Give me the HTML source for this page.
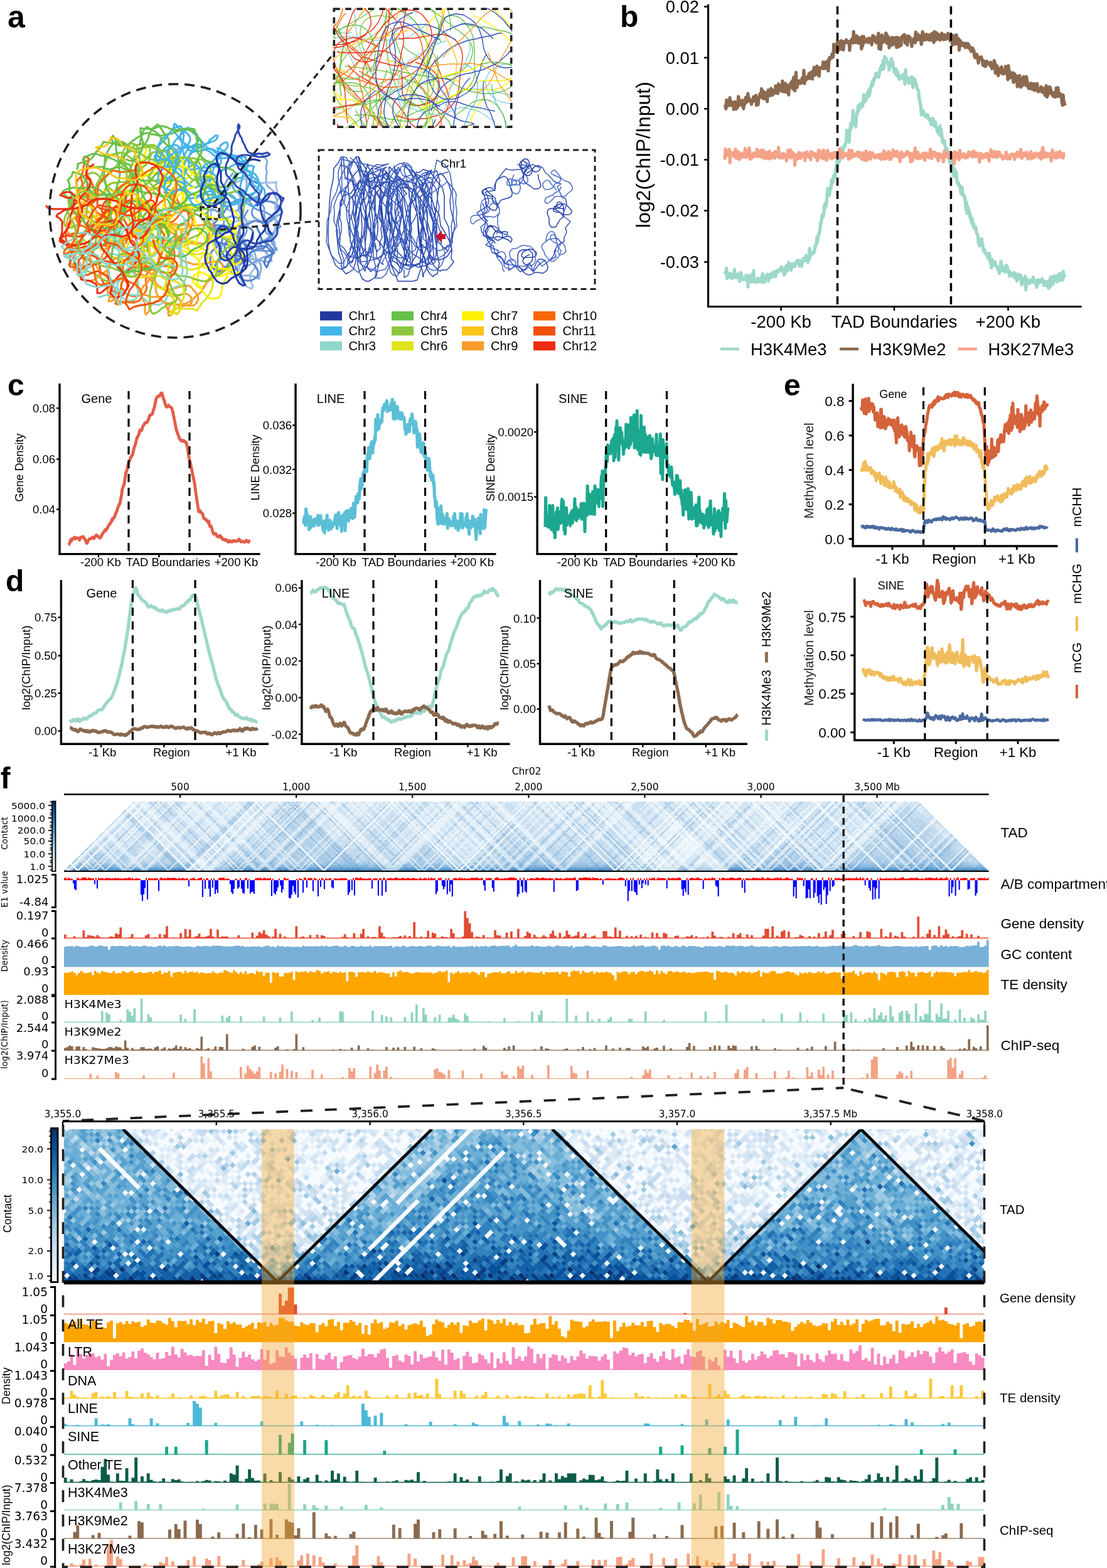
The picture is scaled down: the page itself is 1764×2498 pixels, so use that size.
<!DOCTYPE html>
<html><head><meta charset="utf-8"><title>Figure</title>
<style>html,body{margin:0;padding:0;background:#fff}svg{display:block}</style></head>
<body><svg width="1764" height="2498" viewBox="0 0 1764 2498" font-family="'Liberation Sans', Arial, sans-serif">
<rect width="1764" height="2498" fill="#fff"/>
<g fill="none" stroke-width="3" stroke-linejoin="round" stroke-linecap="round">
<path d="M395 362l0-4-1-4-2-4-2-3-2-3-1-4-2-4-2-3-2-4-1-3-2-4-2-3-2-4-3-3-3-2-4-1-4 1-2 3-1 4 1 4 1 4 1 4 2 3 3 3 4 1 4 0 4 0 4-2 3-2 2-4 1-3 1-4 1-4 1-4 1-4 0-4 1-4 1-4 0-4 0-4-1-4 1-4-1-4 0-4-1-4 0-4 1-3 2-4 2-3 2-4 3-3 3-2 4-1 4-1 4 1 3 3 3 2 2 4 2 3-1 4-1 4 0 4 1 4 0 4-1 4 0 4 0 4 0 3 2 4 3 3 3 2 3 3 2 4 1 4 2 3 1 4 0 4 0 4 0 4-1 4-1 4-1 4 0 4 1 4 1 3 0 4 0 4-2 4-2 4-2 3-3 3-3 2-3 2-4 3-3 2-2 4 0 4 2 3 3 3 3 3 2 3 2 4 2 3 3 3-3 2-4 0-4 0-4-1-4-1-4-1-4-1-4 0-4 0-4 1-4 1-3 1-4 1-4 1-4 1-4 1-3 2-2 4 0 4 2 3 3 3 3 2 4 1 4 0 4 0 4 0 4 0 4-1 4 2 4 1 3 2 4 1 0-4 1-3 1-4 1-4 0-4-1-4-3-4-2-3-2-3-1-4-1-4-2-4-1-3-3-4" stroke="#86aee0"/>
<path d="M395 335l-2 3-2 4-2 3-2 4-1 4-1 4-1 3-2 4 0 4 0 4 1 4 2 3 3 3 2 4 2 3 3 3 3 2 3 3 4 2 4 0 4 0 4 0 4 1 4 0 4 0 4 0 4-1 4-1-1-3-3-3-3-3-1-4-1-4-1-4-1-4-2-3-1-4 0-4 0-4 1-4 2-3 3-3 3-2 4-1 4-2 3-2 3-3-2-3-3-2-3-3-2-3-3-3-4-2-4-1-3-1-4-2-4 0-4 1-3 3-3 3-2 3-3 3-1 4-1 4 1 3 2 4 3 2 4 2 3 2 4 1 4 1 4 0 4-1 3-2 3-3 2-3 2-4 2-3 3-3 2-3-3-3-3-3-3-3-3-1-4-1-4 0-4-1-4-1-4-1-4-1-3-2-4 0-4 1-3 3 1 4 3 3 2 3 3 3 4 2 3 1 4 1 4 1 4 2 3 2 4 2 3 2 3 3 2 3 3 3 2 4 2 3-3 2-3 3-3 3-3 3-1 4-3 3-3 2-4 2-4 1-4 0-3 2-3 2-3 3-3 3-2 3-1 4-1 4-2 4-2 3-3 3-3 2-4 2-3 2-2 3-3 3-4 3-3 1-4-1-4-1-3-3-4-2-2-3-3-3-1-4 0-4 1-4 0-4 1-4 1-3" stroke="#6b96d6"/>
<path d="M403 353l-4-1-4 1-4-1-4 0-4 0-4 0-4 1-4 2-3 2-3 3-2 3-2 3-3 4-3 2-3 2-4 2-3 3-2 3 0 4 0 4 0 4 0 4 1 4 2 3 3 3 4 1 4 0 4 0 4-1 4 0 4 1 3 2 3 3 1 4 0 4 0 4 2 4 2 3 0 4 0 4 0 4 1 4 3 3 3 3 3 2 4 2 3 1 2-4-2-4-1-4-1-4-1-3 1-4 2-4 3-3 2-3 1-4 1-4-2-3-2-4-2-3-1-4-3-3-3-2-4-2-4-1-3-3-2-3-2-4-3-3-3-2-3-2-4-1-4-1-4 1-4 0-4-1-3-2-3-3-2-4-1-4-1-4 0-4-1-3-2-4-2-4 0-4 0-4 2-3 1-4 1-4 2-4 2-3 2-3 3-3 4-1 3-3 3-3 2-3 3-2 2-4 3-3 2-3 4-2 4-1 4-1 3-2 4-1 4 0 4 2 3 1 4 2 4 1 4 0 4 1 4-1 4 0 4 0 4 0 4 0 4-1-1 4 0 4 1 4 1 4 1 4 3 3-2 3-2 4-2 3-1 4-1 4 1 4 1 4 0 4 0 4 0 4-1 4-1 4 0 4 0 4 0 4-1 4-1 4 0 4 1 4 0 4-1 3-1 4-1 4" stroke="#a3c0e6"/>
<path d="M369 376l-3 3-2 3-3 2-2 4-1 4 0 4 2 3 2 4 3 2 3 2 4 2 4 2 3 1 4 1 4-1 3-3 4-2 3-2 3-3 4-2 3-2 4-2 4 0 4 0 3-2 3-3 1-4 1-4 2-3 1-4 0-4-2-4 0-4-3-3-3-3-3-2-3-2-4-1-4-1-4 0-3 2-4 2-4 1-4 1-4 1-2 3-2 4-1 4-1 3 0 4 0 4 2 4 1 4 1 4-2 4-2 3-2 4-1 3-2 4 0 4 0 4 1 4 1 4 2 3 1 4 1 4 2 4 3 2 3 2 4 1 4 0 4 0 4-2 3-2 3-3 1-4 0-4-1-3-3-4-2-3-3-2-3-3-4-2-4-1-4 0-4 1-4 1-3 2-3 2-4 2-3 3-3 2-3 2-4 2-4 1-4 1-4-1-3-3-3-3-2-3-1-4 0-4 0-4 1-4 0-4 2-3 3-3 3-2 3-3 3-3 3-2 1-4 1-4-1-4-2-3-3-2-3-3-3-3-2-4 0-4 3-3 3-3 3-2 3-3 2-3 2-4 2-3 2-3 3-3 3-3 3-3 3-2 4-2 3-1 4 0 4 1 4 1 4 0 4-2 4-1 3-2 4-2 3-3 2-3 1-4 0-4-2-3-3-3-4-2-3-3" stroke="#5a86cf"/>
<path d="M386 349l-1-4-1-3-2-4-2-3 0-4 2-4 3-3 3-2 4-2 4-1 3-2 4-1 4 2 4 2 3 2 3 2 2 4 2 3 0 4 0 4 0 4 1 4 0 4-1 4 0 4 1 4 1 4 1 4 3 2 3 3 3 3 2 4 2 3 1 4 0 4-1 4-1 4-2 4-3 0-4 2-4 1-4 1-3 2-4 2-3 2-4 2-4 1-3 3-3 1-4 0-3-3-2-3-1-4 1-4 1-4 1-4 1-4 2-4 0-4 0-3-3-4-3-2-3-2-4-2-4-2-3-2-3-2-4-2-3-2-4-1-4 0-4-1-4-1-4-2-3-2-3-2-2-4-2-3-2-4-2-3 2-4 3-3 3-2 4 0 4 1 3 2 4 2 2 3 3 4 1 3 1 4-1 4-2 3-4 2-3 1-4 3-2 3-2 3-1 4-1 4 1 4 2 3 3 3 4 1 4 1 4-1 4-1 2-3 3-3 3-2 3-3 4 0 4 1 4 0 4-1 3-3 2-3 2-4 0-4-1-4-2-3-3-3-2-3-4-2-3-3-3-1-4-2-4 1-4 2-4 0-4-1-2-4-1-3-1-4 1-4 1-4 1-4 2-4 1-4 1-3 1-4 0-4-1-4 0-4 1-4 2-3 2-4 3-3 3-3 2-3" stroke="#7aa3dd"/>
<path d="M409 361l1 3 2 4 2 4 1 3 1 4 2 4 3 3 3 2 4 2 3 3 2 3 2 3 2 4-4 2-3 2-4 2-3 2-1 4-1 4 2 4 2 3 2-4 1-4 2-3 2-4 1-4 0-4-1-3-3-3-3-3-3-2-4 0-4 0-4 1-4 0-4 0-4 0-4-1-4-1-3-3-3-3-2-3-2-3-3-3-4-2-3-2-4-2-3-1-4-3-3-1-4 0-4 1-3 2-3 4-1 3 1 4 1 4 2 4 3 3 2 3 1 4 1 4 2 3 2 3 3 3 4 2 3 2 4 1 4 0 4-1 3-2 2-3 0-4-1-4-3-3-2-3-4-2-4-1-3-1-4-1-4-1-4-1-4-1-4-1-4-1-4 0-3-2-3-3 0-4 0-4 2-4 1-3 3-4 3-2 4 0 4 0 4 0 4 0 4 2 3 1 4 0 4 0 4-1 4-1 4 0 4 0 4 2 4 1 3 2 3 3 0 4 0 4 0 4-2 3-3 4-2 3-3 3-3 2-3 3-3 2-4 2-3 3-3 2-3 3-2 3-3 3-2 4-2 3-3 3-3 2-3 2-4 2-4 0-3-2 0-4 1-4 2-3 2-3 3-3 4-2 3-2 4-2 4-1 4 0 4 0 4 1 4 1 3 1 4 2 3 2" stroke="#4f7fcc"/>
<path d="M192 423l0 4 1 4 1 3 1 4 2 4 2 3 2 4 2 3 0 4-1 4-2 4-4 1-4 1-4 1-4 0-3-2-3-3-2-3-4-2-3-2-3-3-2-3-2-4-2-3-1-4 0-4 1-4-1-4-1-4-2-4-1-4-1-3-2-4-3-3-2-3-4-2-4 0-4 0-4 1-4 0-4-1-3-1-4-2-3-2-3-3-2-3-2-4-1-4 0-4 0-4 0-4 1-4 1-3 2-4 2-3 3-3 3-3 3-2 4-1 4 0 3 3 2 3 2 4 2 3 2 4 2 3 1 4 2 4 3 3 3 2 4 0 4-1 3-2 3-3 3-3 2-3 1-4 0-4-3-3-4-1-4 1-3 0-4 2-4 1-3 2-4 2-3 3-2 3-3 3-4 1-4 0-4 0-4 0-4 1-4 1-4 1-3 2-4 1-3 2 2 3 3 3 3 3 4 2 3 1 4 0 4 0 4 1 3 3 3 3 3 2 4 1 4 2 3 2 4 1 4 1 3 2 4 2 4 1 4 0 3-2 2-3 2-4 0-4 1-4 2-3 3-2 3-3 4-2 4 0 4-1 4-1 3-2 3-3 3-3 1-3 0-4-1-4-2-4-2-3-2-4-2-3-1-4-2-3-3-3-4-2-3-2-4-1-4-1-4-1-4 0-4-1-4 0-3-2-2-3-1-4 0-4 3-3 4-1 4 0 4 1 4 1 4 1 3 0 4 1 4 1 4 1 4 0 4-1 4-1 3-2 4-1 4 0 4 1 4 1 3 2 4 3 3 1 3 3 4 2 3 2 3 3 3 3 3 2 4 1 4 1 4 0 4 1 4 0 4-1 3-3 0-4 0-4-1-4 0-4-2-3-3-3-3-3-3-3-3-2-3-3" stroke="#f24f0c"/>
<path d="M278 427l-4-1-4-1-3-1-4 0-4 0-4 1-4 2-4 1-4 1-4-1-4 0-4 0-3 0-4-1-4-2-4 0-4 1-3 2-3 2-3 3-3 3-1 4-2 4-1 3-2 4-1 4 1 4 3 3 1 4 4 2 3 2 4 1 4 1 4 0 4-1 4-1 3-1 3-3 2-4 1-4-1-4 0-4-1-4 1-4 0-4 2-3 2-3 4-2 4-1 4 1 4 1 3 2 4 1 4 1 4 0 4-1 3-3 1-4 0-4 0-4 1-4 1-4 0-4 0-4-1-4 0-4-1-4 1-3 2-4 1-4 0-4-2-3-3-2-4-3-3-2-3-2-4-2-3-2-3-3-4-2-3-2-4-1-3-3-2-3-2-4 1-4 2-3 4-2 3-2 3-3 3-3 3-3 3-2 3-3 3-3 3-2 4-1 4 0 3 2 3 3 1 4 2 3 3 3 2 3 4 3 3 2 2 4 1 3 1 4 0 4-1 4 0 4-1 4-2 4-1 3-2 4-2 3-2 4-2 3-2 3-3 4-3 3-2 2-4 1-4 1-4-2-4-1-3-2-4-3-2-3-1-4 0-4 0-4 0-4 0-4 0-4 2-3 2-3 4-2 4 0 4 0 4 1 4-1 3-3 3-3 2-3 2-3 3-3 3-3 4 1 4 1 3 3 2 3 1 4 1 4 0 4-2 4-1 4-1 3-2 4-1 4-3 3-2 3-4 2-3 3-3 2-3 2-4 2-3 2-3 3-1 3-1 4-2 4-2 3-3 3-2 4-2 3-4 1-4 1-4 1-3 1-4 2-4-1-3-2-2-4-1-4-1-4 1-4-1-4 0-4-1-4 0-4 1-4 1-3 2-4 0-4-1-4-1-4-3-3-4-2" stroke="#f76707"/>
<path d="M250 298l4-1 3-2 4-2 4-1 4-1 3-1 4-1 4-2 4-1 4 0 4 0 4-1 3-2 3-2 4-3 2-3 1-4 0-4-1-4-1-3-2-4-2-3-4-2-4-1-4 0-4 1-3 3-1 3-2 4-3 3-1 4-3 2-3 3-3 3-4 1-4 0-3-1-4 0-4-1-4 0-4 2-4 1-4-1-3-2-4-1-3-2-3-4 1-4 2-3 2-3 3-3 2-4 1-4 0-3 2-4 1-4 2-3 4-2 4 1 3 2 3 4 2 3 2 4 1 3 2 4 2 3 3 3 4 2 2 3 2 4 2 3 3 3 3 2 4 1 4 1 3 2 2 4 2 4 1 3 1 4 0 4 0 4-1 4-1 4-2 4-1 4 1 4 1 3 3 3 4 2 4 0 4 1 4 0 4-1 3-2 3-3 3-3 3-2 4-1 4-1 4 1 4 1 3 1 4 1 4-1 4 0 4 2 3 3 2 3 3 3 2 3 3 3 3 3 2 3 2 3 1 4 0 4-3 3-3 3-3 2-2 3-2 4-1 4-2 4-1 4-1 3 0 4 0 4 1 4 2 4 1 3 1 4 0 4 1 4 1 4 0 4-1 4-4 2-4 1-4-1-4-1-4-1-4 1-3 2-3 2-3 3-2 3-3 3-2 4-2 3-1 4-3 3-4 1-4 1-3-2-3-3-3-3 0-4 0-4 2-4 3-2 4-2 4 0 3 1 4 2 4 2 3 1 4 1 4 0 4-1 4 0 4-1 4-2 3-1 4 0 4 0 4 0 4-1 4-1 4-1" stroke="#fff200"/>
<path d="M292 268l1-4 1-3 2-4 2-4 2-3 3-3 2-3 3-2 4-3 3-2 3-2 4-2 3-2 4-2 4-1 3-2 4-1 4-2 2-3 1-4-4 0-3 3-3 2-3 2-2 4-3 2-3 3-4 1-4 1-4 0-4 1-4 0-4-2-3-2-4-2-3-2-3-2-3-3-2-4-2-3-3-3-2-3-1-4 1-4 1-4 3 2 2 3 3 3 3 2 4 2 3 2 3 2 3 4 1 3 0 4-2 4-2 3-3 3-3 2-4 3-3 2-3 3-1 4-1 4 0 4 1 4 2 3 4 2 3 2 4 2 4 1 4 0 4 0 4-1 3 0 4-1 4-1 4 0 4 0 4-1 4 0 4 0 4-1 3-2 3-3 0-4 0-4-2-4-3-3-3-2-3-2-4-3-3-1-4-2-3-3-2-3-3-3-2-3-3-3-3-3-3-3-3-2-3-3-3-3-2-3-4 2-3 2-3 4-1 3-3 3-3 3-3 3-2 3-2 4-2 3-3 3-3 2-4 2-3 1-4 0-4 1-4 3-2 3-1 4 1 4 2 3 3 3 3 2 4 1 4 1 4 0 4 0 4 0 4-2 3-2 3-2 3-3 3-3 2-3 1-4 2-4 2-3 2-3 4-3 3-2 4-2 3-2 2-3 0-4-1-4-2-4-3-3-2-2-4-2-4 0-4 1-4 2-3 2-1 4-1 4 2 4 2 3 3 3 1 4 3 3 3 3 3 1 4 2 4-1 4 0 4 0 4-2 4-1 4-1 4 0 3 1 4 2 3 3 1 4 1 4-1 4-2 3-2 4-1 3-2 4-1 4-1 4-1 3-1 4-2 4 0 4 1 4 1 4 1 4 1 3 4 3 3 2 4 1 4 1 4-1" stroke="#45b4e8"/>
<path d="M280 291l-1 3 0 4-2 4-1 4-1 3-1 4 0 4 0 4-1 4-2 4 0 4-1 4-2 3-3 3-4 2-3 1-4 2-3 3-1 3-2 4-1 4-2 3-3 3-3 2-4 3-4 0-3 0-4 0-4-1-4-1-4-2-4-1-3-2-4-2-3-1-4-1-4 0-4 0-4 1-4-1-4-1-4-1-4-1-4-1-3-2-3-3-2-3-3-3-2-4-2-3-4-2-3-2-3-2-4-3-3-1-4-1-4 2-2 4 0 4 1 3 3 3 3 2 4 1 4 0 4 0 4-2 4 0 4-1 4-1 4-1 4 0 4 1 3 1 4 2 3 2 4 2 3 2 3 2 2 4 2 3 0 4-2 4-1 4-2 3-2 4-1 4-4 2-3 2-4 1-4 1-4 0-4 0-4-1-4-1-4 0-3-1-4-1-4-2-3-2-3-3-2-3-2-3-3-4-3-2-2-4-2-3-3-3 0-4 1-4 3-3 3-2 3-3 3-2 4-1 4-1 4 0 4 1 3 2 3 3 2 4 2 3 1 4 2 4 1 4 1 3 0 4 0 4 0 4 0 4 0 4 0 4 1 4 2 4 3 2 4 2 3 2 4 2 3 2 3 2 4 1 4 1 3 2 4 2 4 2 3 1 4 1 4-1 4-1 3-3 2-3 2-4 2-3 1-4 1-4 2-3 2-3 4-2 4-1 4-1 4 0 4 0 4 0 4-1 4 1 3 1 4 2 4 1 4 1 4 1 4 0 4 0 4-1 3-2 4-2 4 0 4 0 3 1 4 2 4 2 1 4" stroke="#fdc41a"/>
<path d="M216 438l4-1 4 0 3 1 4 2 3 2 4 2 3 3 2 3 3 3 2 4 0 4 1 4 1 3 2 4 2 3 3 3 3 2 4 2 4 1 4 0 4 0 4 2 4 0 4 0 3-1 4 0 4-2 4-2 3-2 3-3 3-3 3-2 3-3 3-2 2-4 2-3 2-4 2-3 3-3 3-2 4-2 3-3 3-2 3-2 4-2 2-4 1-3 0-4-2-4-3-2-4-2-4 1-4 0-4 1-4 1-4 1-4 1-4 0-4 0-4 0-3 0-4-2-4-1-4-1-4-2-3-2-2-3-1-4 1-4 0-4 0-4-1-4-1-4 1-4 3-3 1-4 0-4 0-3-2-4-3-2-4-1-4-1-4 0-4 1-4 0-4 2-3 1-3 3-2 4-1 4 0 4 0 4 1 4 0 4 1 4 1 3 1 4 0 4-2 4 0 4 1 4 1 4 0 4-2 4-2 3-3 3-3 2-3 3-3 3-2 3-2 3-3 3-3 2-2 4-2 4-1 3 1 4 1 4 2 4 2 3 1 4 0 4 0 4 0 4 1 4 3-2 2-3 2-4 1-4 2-3 3-3 3-2 4-1 4 0 4 2 3 2 2 4 1 4 2 3 3 3 4 1 4 1 4 1 2-3 2-4 1-3 1-4-1-4-1-4-3-3-3-2-3-2-4-2-4 0-4 1-4 1-4 2-4 0-4 0-3 0-4 0-4 0-4-2-4-1-4-2-3-2-3-2-2-4-1-4 0-4-1-4 0-4 1-4-2-3-2-4-2-3-2-3-1-4-1-4-1-4 1-4 2-3 2-3 4-3 3-2 4-2 3-1 3-3 4-1 3-3 4-2 4-1 3 0 4-1 4-2 4-1 4 0 4 0 4 1 4 1" stroke="#f99d2a"/>
<path d="M251 291l-3-2-4-2-3-2-3-3-3-2-4-1-4 1-4 1-4-1-3-2-4-2-3-3-3-2-3-3-2-3-2-4 0-4-1-4 0-4 1-4 3-2 3-3 3-3 3-2 3-3 4-1 4-1 4-1 4 1 4 1 3 3 2 3 0 4 0 4-2 4-3 2-2 4-3 2-4 2-3 3-2 3-1 4 0 4 2 4 2 3 3 3 2 3 2 4 2 3 2 3 3 3 4 1 4 1 4-1 4 0 4-2 3-3 2-3 1-4 3-3 4-2 3-2 3-2 2-4-1-4-1-4-2-3-2-4-3-3-3-2-2-4-2-3-3-2-4-2-4-1-4-1-4 1-2 3-2 4 0 4-2 3-3 4-2 2-4 3-3 2-2 4-2 3-2 4-2 3-2 4-1 3-2 4-1 4-1 3-2 4-2 3-3 3-3 3-3 3-3 3-4 1-3-1-4-3-3-2-3-2-4-1-4 0-4-1-4-1-4 0-4 2-3 3-3 2-2 4-1 3-3 4-2 3-1 4 0 4 0 4-2 4-2 2-3 3-3 3-3 3-3 2-3 2-4 1-4 1-4-1-3-2-2-4 0-4 1-4 1-4 2-3 1-4 2-4 1-4 0-4-1-3 0-4 2-4 4-2 4-1 4 0 4 1 4 0 4 0 4-1 3-2 4-2 2-3 3-3 2-3 3-3 3-3 3-3 3-2 2-3 3-3 2-4 2-3 3-3 3-2 3-2 3-3 2-4 3-3 2-3 2-3 3-3 3-3 3-2 4-2 4 0 4 1 4 1 4 1 3 3 3 2 3 2 4 2 4 1 4 1 4 0 4 1 3 0 3-2 2-4-1-4-2-3-2-3-3-4-3-2-3-2-4-1-4 0-4 1-3 3" stroke="#8cc63e"/>
<path d="M277 430l-1-4-1-4-1-4-1-4 0-4 1-4 0-4-1-4 1-4 1-4 0-4 2-3 3-3 3-2 4-2 4 1 4 1 3 3 3 3 3 2 4 0 4 1 4 0 4 1 4 0 4-1 3-2 1-4 1-4 0-4 2-4 2-3 2-4 0-4-4-2-4 0-3 1-4 1-4 1-4 0-4 1-4-1-4-1-4-1-4 0-3 1-4 1-4 0-4-2-4 0-4 0-4 0-4 1-4 1-4 1-4 1-4 1-4 0-4 1-4 0-3 1-4 1-4 0-4 0-4 1-4 1-4 2-3 2-3 2-4 2-3 3-2 3-1 4 1 4 1 4 2 3 2 4 3 3 2 4 2 3 2 3 3 3 3 3 2 3 3 3 3 2 4 2 3 2 4 2 3 2 4 1 3 3 2 3 1 4 1 4 2 3 3 3 4 2 3 2 3 3 4 2 3 2 4 1 4 1 4 1 4 0 3-1 4-1 4 0 4 2 3 3 1 4 1 4-2 3-4 2-4 1-4 0-4 0-4-1-3-1-4-1-4 1-3 3-2 4 0 4 0 4 1 3 4-1 1-4 2-3 3-3 4-1 3-2 4-1 4-1 4 0 4 0 4 0 4-1 3-3 2-4 1-3-1-4-2-4-2-3-3-3-2-3-3-3-4-1-4 0-4 1-4 1-4 1-4 1-4 1-4 1-4 0-4 0-4-1-3-1-4-2-3-2-3-3-2-3-1-4 0-4 1-4 1-4 3-3 3-2 3-3 2-3 3-3 2-3 2-4 1-4 2-3 3-3 2-4 2-3 2-4 3-2 3-3 1-4 0-4 0-4-1-4-2-3-4-2-3-3-3-1-4-2-4-1-3-2-3-3-3-3-2-3-3-3-3-2-3-3" stroke="#f99d2a"/>
<path d="M215 281l3-3 2-4 1-3 1-4-1-4-2-3-4-3-3-2-3-3-3-2-3-2-4-3-3-1-4-1-4 1-4 1-4 1-4 1-3 3-3 3-1 3-2 4-1 4-1 4-1 3-1 4-1 4-2 4-2 3-2 4-2 3-1 4-1 4 0 4-2 3-3 3-3 3-4 1-4 0-4-1-3-1-3-3-1-4 1-3 1-4 3-3 3-3 2-3 2-4 1-4 2-3 3-3 4-1 4 1 3 1 3 3 3 3 3 3 3 3 2 3 2 3 3 3 3 3 3 2 4 2 3 2 4 1 4-1 4 0 4-2 3-1 4-1 4-1 4-1 4-2 3-2 4-1 4-2 3-2 3-2 4-2 4 0 4-1 4 0 4 0 4 1 4 0 4 0 4-1 4-1 3-2 4-2 3-2 4-2 2-3 3-3 2-3 3-3 3-2 3-3 3-3 3-2 4-2 4 0 3 3 3 3 2 3 2 3 3 3 1 4 0 4-2 4-2 3-3 2-4 1-4 0-4-1-4 1-4-1-4-1-3-3-2-3-3-3-2-3-2-4 0-4 0-4 1-4 3-3 3-2 4 0 4 0 4 1 3 2 2 4 2 3 1 4-1 4-2 4-1 4-1 4 0 4 1 3 2 4 1 4 1 4-2 3-3 3-4 1-4 0-4 2-3 2-3 3-1 4-1 4 1 4 1 3 3 3 4 1 4 0 4 1 4 0 4 2 3 2 3 3 3 2 3 4 1 3 0 4 1 4 1 4 2 3 3 3 4 2 3 2 3 2 3 3 4 2 3 2 4 2 3 2 4 2 3 2 2 4 1 4-1 4-2 3-3 3-2 4-1 3-2 4-2 4-2 3-2 3-3 3-3 3-4 2-3 1-4 2-4 1" stroke="#8cc63e"/>
<path d="M356 240l2 3 3 3 3 2 4 1 4 1 4 0 4 0 4 0 4 0 4 1-1 4-1 4 0 4 1 4 2 3 3 2 4 2 4 2 3 2 2 3 2 4 1 4 2 3 2 4 3 3 2 3 1 4 0 4 1 4-1 4-2 4-3 3-3 1-4 1-4 1-4 1-4-2-3-2-3-2-2-4 0-4 0-4 1-4 2-3 1-4 2-4 1-4 1-3 1-4 2-4 1-4 1-4 0-4 2-3-3-2-4 0-4 0-4-1-3-3-4-2-3-3-3-2-4-1-4 0-4-1-4 0-4 1-4 0-3 0-4-2-4-2-3-2-3-3-3-2-4-2-3-2-3-3-2-3-4-1-4 1-3 2-2 4-2 3-2 3-2 4-1 4 0 4 0 4 0 4-1 4-2 3-2 3-2 4-1 4 0 4 2 3 3 3 3 3 3 2 4 2 4 1 3-2 4-2 3-2 4-2 3-2 4-2 3-1 4 0 4-2 2-4 2-3 3-3 3-3 4-1 3-2 4-1 3-2 4-2 4-2 4-1 3-2 4-1 4-1 4-1 0 4 0 4-1 4-3 3-3 3-3 1-4 2-4 1-3 2-2 4-2 3 0 4 0 4 1 4 2 4 3 3 3 2 3 3 1 3 0 4-3 3-3 2-4 1-4 0-4 0-4-1-4-1-4-2-3-2-3-2-4-2-3-2-4-1-4 0-4-1-4 1-3 1-4 2-3 2-4 0-4 1-4 0-4-2-1-4-1-4-1-4 0-4 0-4 0-4-1-4-1-4-1-3-2-4-2-4-3-2-2-3-3-4-2-2-4-3-4-1-3-1-4-1-4 0-4-2-3-3-2-3-1-4 1-4 2-4 1-4 2-3 1-4 3-3 4-1 4 1" stroke="#45b4e8"/>
<path d="M280 371l-4-1-3-2-3-3-3-3-3-2-3-3-1-4-2-4-1-3-1-4-1-4-1-4-3-3-3-3-3-2-4-1-4 1-4 0-4 0-4 0-4 1-3 2-3 4-1 3-2 4-2 3-4 3-3 1-4 0-4 0-4-1-4-1-3-3-3-2-3-3-2-3-1-4 1-4 1-4 0-4 1-4 2-3 2-3 3-4 2-3 1-4 0-4-4-2-4 0-3 1-4 2-3 3-2 3-1 4 0 4 2 4 3 2 4 2 4 1 4 1 4-1 3-1 4-1 4-1 3-2 3-2 4-3 3-2 3-3 3-2 3-2 3-4 1-3 1-4 1-4 1-4 3-3 3-3 3-2 4 0 4-1 4-2 3-2 4-2 2-3 4-2 3-3 3-3 3-1 4-2 3-2 4 1 4 2 3 3 2 3 0 4 1 4 0 4 0 4 0 4 0 4-1 4-1 3-2 4 0 4 0 4 1 4 1 4 2 4 1 3 1 4 2 3 2 4 2 4 2 3 2 4 1 3 2 4 2 4 1 3 1 4 1 4 2 4 1 3 3 3 3 3 3 3 2 3 1 4 0 4-1 4-2 3-2 3-4 2-4 2-4 0-4 0-3-1-4-2-3-2-4-2-3-2-4-1-4-1-4 1-4 1-4 1-4 0-4 0-3-2-3-2-1-4 2-4 3-3 3-2 2-4 0-4 0-4 2-3 1-4 2-4 2-3 3-3 2-3 1-4 1-4 0-4 1-4 0-4 1-4 1-4 2-3 3-3 4-1 4-1 3-2 3-2 3-3 4-1 4-2" stroke="#fff200"/>
<path d="M253 381l-3-2-4-2-2-4-2-3-2-4-2-3-4-2-3-2-3-3-3-3-3-2-3-3-3-2-3-2-3-3-1-4 0-4-1-4 1-4 1-4-1-4-1-4-2-3-2-4-2-3-1-4 0-4 1-4 3-3 2-3 3-2 4-2 4 0 4 0 4 1 4-1 4-2 3-2 4-1 4 0 4 0 3 2 3 3 2 3 1 4 1 4 1 4 2 3 1 4 1 4 1 4 0 4-2 4-1 3-1 4-1 4 0 4-1 4-2 4-3 2-3 2-4 2-3 3-3 3-2 3-2 4-2 3-3 2-4 1-4 0-4-1-4-1-3-2-3-3-2-3-2-4 0-4 0-4 2-3 1-4-1-4 0-4 0-4 0-4 2-4 4-1 4-1 4 0 4 2 3 2 3 3 2 3 1 4 0 4-1 4-2 3-3 3-4 1-4 1-4-2-3-2-3-3-3-2-3-3-4-1-4-1-4 0-4 1-3 1-4 2-4 1-3 2-4 2-3 2-2 4-1 4 1 3 0 4 0 4-1 4 0 4 1 4 3 3 3 3 3 1 4 1 4 0 4 1 4 0 4 1 4-2 3-2 4-2 4-1 3-1 4 0 4 0 4 2 3 2 3 3 3 3 3 3 3 2 4 1 4 0 4 0 4-1 4-1 4 1 4 0 4-1 4 1 3 2 3 2 4 2 3 2 4 1 4 1 3 2 4 2 3 2 4 2 3 3 2 3 2 3 2 4 3 3 4 1 4 1 4-1 4-1 4 1 3 1 4 1 4 0 4 0 4 1 4 1 4 1 4 0" stroke="#fff200"/>
<path d="M123 269l1-4 0-4 4-1 4-2 3 0 4-2 4-1 3-3 3-3 2-3 2-4 3-2 2-3 3-4 2-3 2-4 4 1 4 0 4 1 4 0 4 1 4 0 4 0 4 1 3 1 4 1 4 2 3 2 4 1 4 0 4-1 4-2 3-3 2-3 2-3 2-4 1-4 1-4 2-3 2-4 3-3 3-2 3-3 3 3 2 3 3 4 1 3 3 3 3 3 2 3 1 4 0 4 1 4 0 4-1 4 1 4 0 4 0 4 0 4-1 4-2 3-3 3-4 2-3 2-3 3-3 2-3 3-3 3-2 3-3 3-4 1-4 0-4 0-4-1-3-2-3-2-3-3-3-3-3-3-3-3-3-2-3-3-3-2-3-3-3-3-2-3-1-4-1-4-1-4-1-4 0-4-1-4 1-4-1-4-2-3-2-4-3 4 1 3 3 4 3 2 4 2 3 1 4 0 4 1 4-2 3-2 3-3 3-2 4-3 3-2 4-2 3-2 3-2 4-1 4 0 4 2 4 0 4 1 4 1 4 0 4 0 4-1 3-2 4 0 4-1 3-2 4-1 4-1 4-2 4-1 4 1 3 2 4 1 4 2 2 3 2 3 3 3 2 4 2 3 0 4 0 4 0 4 0 4-2 4-2 3-2 4-1 4-1 3-2 4-1 4 0 4 0 4 1 4 1 4 1 3 2 4 2 3 3 4 3 2 3 3 3 3 2 3 1 4 2 3 0 4 0 4-1 4-3 3-4 1-4-1-4 0-4-1-4-2-3-2-4-1-4 1-4 1-3 1-4 1-4 1-4 1-4 0-4 1-4 0-4 1-4 1-3 3-1 3 1 4 2 4 2 3 1 4 1 4 1 4 2 4 1 3 1 4 0 4 1 4 2 4" stroke="#66c04a"/>
<path d="M342 243l4-1 4 0 4 0 3-1 3-3 2-3 1-4-1-4-4 0-3 2-3 2-2 4-2 3-2 4 0 4-1 4-3 3-2 3-3 3-2 3-2 4-2 3-1 4-1 4-1 4-3 2-3 4-1 3 0 4 0 4 0 4-1 4-1 4 1 4 2 3 3 3 4 2 4 1 4 1 4 0 3-1 3-3 2-4 1-4 0-4 0-4-1-4-1-3 0-4-1-4-1-4-2-4-3-3-3-2-3-2-4 0-4-1-4-1-3-3-3-2-3-3-3-2-4-1-4-2-3-2-3-3-2-3-2-4-1-4-1-4-1-4 0-4 0-4 2-3 0-4 1-4-1-4 0-4-2-4-2-3-4 1-4 1-3 2-3 3-3 3-2 3-3 3-2 3-2 4-3 2-3 3-3 3-1 3-2 4 0 4-1 4 0 4 1 4 2 3 2 4 3 2 4 2 4 0 3-1 4-2 3-2 3-3 2-4 1-4 0-4 0-3-1-4-3-3-3-3-4 0-4 1-3 2-3 3-2 4-1 4-1 3-2 4-2 3-1 4 0 4 1 4 2 4 2 3 3 3 3 2 4 2 3 1 4 2 4 1 4 1 4 1 4 1 3 2 2 3 2 4 1 4 3 2 3 3 4 2 4 1 4 1 3-1 4-2 3-2 4-1 4-1 4-1 4-1 4-1 4 0 3 2 4 0 4 2 3 3 3 2 3 3 4 2 3 2 3 2 4 0 4-2 4-1 4-1 4 0 4 1 4-1 3-1 3-3 1-4 0-4-2-3-3-3-4-2-2-3-1-4-1-4-1-4-1-4-2-3-3-2-4-3-3-2-3-2-4-2-3-3-3-3-2-3-2-3-4-2-3-3-3-3-3-2-3-2-4-2-4-1" stroke="#45b4e8"/>
<path d="M313 391l-1-4 1-4 2-4 1-3 1-4 2-4 2-3 4-2 3 1 4 2 2 3 2 4 1 4 0 4 2 3 1 4 1 4 1 4 3 3 2 3 2 4 3 3 3 2 3 2 4 2 3 2 4 2 3 2 4 0 4-2 3-2 2-3 1-4 1-4-2-4-2-3-2-3-2-4-3-3-2-3-2-4-3-3-4-1-4-1-4 0-4 0-3-1-4-1-4 0-4 2-2 3-2 4-1 3-1 4 0 4-1 4-2 4-4 2-2 3-3 3-2 3-1 4-1 4 1 4 0 4-1 4 0 4-1 4-1 4 0 4 2 3 2 4 2 3 2 3 3 4 2 2 3 3 3 3 4 1 4 0 4-1 4-1 2-4 2-3 0-4 1-4 0-4 2-4 2-3 2-4 2-3 0-4 1-4 1-4 3-3 2-3 1-4 1-4 1-4 1-4 1-4 1-3 2-4 0-4 0-4 0-4-2-4 0-4 1-4 0-4-1-4-2-3-2-4-2-3-3-3-4-2-4 0-4 1-4 0-4-1-3-1-4-1-4-1-4-2-4-1-3-2-2-3-2-4-1-4-1-4-2-3-3-3-2-4 0-4 2-3 2-3 4-2 3-3 3-2 4-2 3-2 3-2 4-2 1-4 0-4-3-3-4 0-4 0-4 0-4 0-4 0-3-1-4-1-4-3-3-2-3-3-2-3-4-1-4-1-4 1-4 0-4 1-3 2-4 1-4 0-4-2-3-2-4-2-3-2-4-2-4-1-4 0-4 0-4 0-4 1-3 1-4 0-4 1-4 0-4 0" stroke="#fff200"/>
<path d="M216 330l2-4 2-4 2-3 3-3 2-3 3-3 3-2 4-2 3-3 2-3 2-3 4-3 3-2 4-1 3-2 3-3 2-3 2-4 2-3 2-4 2-3 1-4 2-3 2-4 0-4-1-4-2-3-3-2-4-2-4-2-4-1-3 0-4-1-4-2-3-2-4-1-4 0-4 0-4 1-4 1-4 1-3 3-2 3 0 4-1 4-1 4-2 4-1 4-1 3-1 4 0 4-1 4-2 4-1 3-3 3-2 4-2 3-3 3-2 3-4 2-3 3-3 2-4 2-4 0-4 0-4-1-4 1-3 1-4 1-4 1-3 3-1 4-1 4-1 4 1 4 1 4 0 4 0 4-1 4 0 4-1 3-3 4-3 2-2 4-1 3-2 4-1 4-1 4-1 3-2 4-3 3-3 2-3 3-2 4-3 3-2 3-1 4-1 4 0 4 1 4 4 0 4 0 4 0 3 2 4 2 3 3 3 2 3 2 4 2 4 1 4 1 3 3 3 2 3 2 4 3 3 1 4 1 4 0 4-1 4-1 4-1 3-1 4-2 4-1 3-2 3-3 3-3 1-4 1-3 1-4 0-4-2-4-3-2-4-3-3-2-2-3-2-4 0-4 1-4-1-4-1-4-2-3-2-3-2-4-2-3-3-4-1-3-2-4-1-4-1-4 0-3-2-4-2-4-1-3-2-4-2-4 0-4 0-4 0-4 0-4-1-4-1-3 0-4 2-4 2-3 4-2 3-2 4-1 4 0 4-1 4 0 4 0 4 1 4 2 3 0 4 1 3 3 1 4 1 4 1 4 0 4 1 4 2 3 1 4 1 4-1 4 1 4 0 4 1 4 3 3 3 2 4 2 4 1 3 1 4 2 3 2 2 4 1 4 0 4 1 4" stroke="#8cc63e"/>
<path d="M201 387l1-4 2-4 3-2 4-1 3-2 4-2 3-3 2-3 2-3 2-4 3-3 4-1 4 1 4 1 3 2 3 2 4 2 3 3 3 2 2 4 2 3-1 4-1 4-1 4 0 4 0 4 0 4-1 4-1 4-1 4-3 3-1 4-2 3-3 3-3 2-4 2-4 0-3-1-3-3-2-4-2-3-1-4-2-4-1-3-2-4-1-4 1-4-1-4-1-4-1-3-1-4-1-4-1-4-1-4-1-4 1-4 1-4 1-4 0-4-1-4 0-4 0-4 1-4 0-4-3-3-3-1-4 0-4 0-4 1-4 2-4 1-4 1-3 2-3 3-3 2-2 4-1 4-2 3-2 3-3 4-2 3-3 3-3 2-3 2-4 2-4 1-4 0-4-2-3-2-4-2-4-1-3-2-2-4-2-3 1-4 1-4 2-4 2-3 2-4 1-3 3-3 3-3 3-3 1-4 1-4 0-4 0-4 0-4-2-3 0-4-1-4 0-4 0-4 1-4-1-4 0-4 0-4 2-4 1-4 0-4-3-2-4 0 0 4 0 4 0 4-1 4 0 4-1 3-1 4-2 4 0 4 2 4 0 4 1 4 1 4 2 3 2 4 1 3 2 4 2 3 4 1 4 0 2-3 1-4-1-4 0-4-2-4-2-4-1-3-2-4-1-4-3-3-3-2-4 0-4 2-3 1-3 3-2 4 0 4 0 4 1 4 1 4 1 3 2 4 2 3 4 2 3 2 4 1 3 3 3 2 3 3 2 4 2 3 2 3 4 2 3 2 4 3 3 2 3 2 3 3 2 3 2 4 2 3 3 3 2 3 2 4 2 3 3 3 4 1 4 0 4 0 4-1 4-2 3-2 2-3 1-4 1-4 1-4 0-4 0-4" stroke="#f76707"/>
<path d="M223 231l0-4 1-4 1-4 1-4 1-4 2-3 2-3 3-3 3 2 4 2 3 2 4 2 3 3 3 2 2 4 2 3 2 4 3 2 3 3 3 2 3 3 3 3 3 3 2 3 3 2 2 4 1 4-1 4-2 3-1 4-2 4-1 3-2 4-2 4-1 3-1 4-1 4-2 4-3 2-2 4-1 4 1 4 3 3 3 3 2 2 4 3 3 2 3 2 4 1 4-2 3-3 3-2 2-4 3-3 3-2 4-1 3-2 4-2 3-2 4-2 3-2 4-1 4 1 4 1 4 1 3 3 2 3 3 3 3 3 1 4 2 3 0 4 0 4-1 4 0 4 0 4 1 4 2 3 3 3 2 4 2 3 0 4-2 4-4 2-4 1-4 0-4 0-3-1-4-1-4-1-3-2-3-3-3-3-1-4-2-3-3-3-3-3-4-2-3-1-4-1-3-2-4-2-4-2-4-1-4 0-4 0-4 0-3 1-4 2-3 2-4 2-3 1-4 2-4 2-3 2-3 3-3 2-4 1-4 2-3 2-3 3-2 3-1 4-1 4 0 4 2 3 3 3 1 4 1 4 0 4 0 4 1 4 1 4 2 3 2 4 3 3 2 3 0 4-2 3-3 3-4 1-4 1-4-2-2-3-2-3-2-4-2-4-1-3-1-4 1-4 2-4 2-3 3-3 3-2 3-2 4-1 4-1 4-1 4-2 3-2 2-4 1-3 1-4-1-4-1-4-2-3-4-3-3-1-3-3-2-4 0-4-2-3-1-4-3-3-2-3-3-3-3-3-3-3-3-2-4 0-4-1-4 1-3 3-3 3-1 4-1 4-1 3-2 4-2 3-3 4-2 2-2 4-2 4 0 4 1 4 1 3 3 3 2 4 2 3 2 3" stroke="#66c04a"/>
<path d="M214 483l-4-1-4-1-4 0-4 1-4 1-4 1-4 0-1-3-2-4-3-3-4-1-3-3-1-3-1-4 1-4 2-4 1-4-1-4-1-3-2-4 0-4 1-4 1-4 0-4 1-4 1-4 1-4-2-3-1-4-1-4-1-4-2-3-1-4 0-4 0-4 2-4 2-3 2-4 1-3 0-4-3-3-4-2-3-2-4 0-4 1-3 2-2 4-1 4-2 3-1 4-1 4-3 3-3 3-3 2-3 2-1 4-1 4 0 4-1 4 0 4 1 4 1 4-2 4-1 4-1 4-1 3-1 4-3 3 4 3 2 3 4 1 3 1 4 1 4-1 4-1 3-3 4-2 2-2 4-2 3-3 3-2 3-3 2-4 2-3 2-4 2-3 3-3 4-1 3-2 4-1 3-4 1-3 0-4 0-4 0-4-3-4-3-2-4 1-4 0-4 1-3 2-3 3-3 3-3 3-2 3-1 4-2 3-1 4-2 4-3 2-3 3-3 2-4 2-3 2-4 1-4 1-3 2-4 2-4 0-4 0-4-1 1-4 0-4 1-4 1-4 0-4 0-3 2-4 0-4 1-4 0-4-2-4-2-3-2-4-2-3-3-3-3-3-2-3-1-4 0-4 0-4 1-4 1-4 1-3 3-3 4-2 4 0 4 0 4 0 3 2 4 1 4 2 3 3 3 2 2 3 3 3 4 2 3 3 0 4-2 3-2 3-3 4-2 3-2 3-1 4 0 4 0 4 1 4-1 4-1 4-1 4 1 4 2 3 3 3 3 3 2 3 2 3 3 3 2 4 3 2 4 2 3 3 2 3 1 4 2 3 1 4-1 4-1 4 0 4 0 4-1 4-1 4 4 0 3-2 4 0 4 1 4 1 4 1 3 2 3 3" stroke="#f99d2a"/>
<path d="M200 307l-3 2-2 4-1 4 1 3 2 4 3 3 2 3 3 3 3 3 3 2 3 2 4-1 4-2 4-1 4-1 4 0 3-2 4-2 3-2 3-3 2-3 1-4-1-4-1-4-2-4-1-3-3-3-4-2-4-1-4-1-4 0-3 3-2 3-1 4-2 4 0 4 0 4 0 4 1 4 1 3 1 4 1 4 0 4-1 4-1 4 0 4-1 4 0 4 2 3 2 4 2 3 3 3 3 3 2 3 2 3 2 4 1 4 0 4 0 4 2 4 0 4-2 3-2 4-2 3-3 2-3 3-4 2-4-1-4-1-3-2-3-3-3-3-2-3-3-3-3-3-2-3-2-4-2-3-1-4 0-4 0-4 3-3 2-3 4-2 4-1 4-1 4-1 4 0 3 2 4 1 4 1 4 1 4 0 4 0 4 2 2 3 3 2 2 4 0 4-1 4-2 3-3 3-2 3-3 3-4 2-3 2-4-1-4-1-4-1-4 0-4 0-4 0-4-2-4-1-3-2-3-3-2-3-2-3-3-4-2-3-3-3-3-1-4-2-4-2-3-2-3-3-3-2-1-4-1-4 0-4-1-4-2-3-1-4-2-4-1-4-1-4-1-3-3-4-3-2-3-2-4-2-3-2-4-1-4-2-3-2-2-4 1-4 1-4 3-3 3-2 4 0 4 2 2 2 3 4 2 3 4 1 4-1 3-2 3-2 3-3 4-2 4-1 4 0 3 0 4 3 2 4 2 3 1 4 0 4 1 4 1 4 1 3 0 4 0 4-2 4-3 3-3 3-2 3-3 2-4 3" stroke="#fdc41a"/>
<path d="M380 349l2-3 3-3 2-4 1-4 0-4 1-3 1-4 0-4 0-4-1-4 0-4-3-3-3-2-4 1-4 1-4 1-4 1-4 1-4 0-4 0-4-1-3-2-4-1-3-3-3-3-3-2-3-2-4-2-3-2-4-2-3-3-3-2-2-4-1-3-2-4 0-4-1-4-1-4-2-3-3-3-3-2-4-1-4 0-4 0-4 0-4 0-4 1-4 1-4 1-3 2-4 1-4 2-4 1-3 2-3 3-2 3-2 4-2 3-2 4-2 3 0 4 1 4 2 3 3 3 3 2 3 3 3 3 3 3 2 3 3 2 4 0 4-1 4 0 4-1 3-2 3-3 3-3 3-3 4-1 4-1 3-2 3-2 3-3 3-3 3-2 4-2 4 0 4-1 4 0 4 0 4 0 4 2 2 3 2 3 1 4 0 4 0 4-2 4-1 4-2 3-2 3-2 4-1 4-2 3-1 4 0 4 0 4 0 4 0 4-1 4-2 4-2 3-1 4-2 4-1 3-3 3-3 3-4 1-4 2-3 1-4 2-3 2-4 2-4 1-3 2-4 1-4 1-4 1-3 3-2 4-1 3 0 4 0 4 0 4 1 4 0 4 2 4 2 3 3 3 2 3 3 4 2 3 3 3 3 3 3 2 1 4 2 4 0 4-2 3-2 4-4 2-3 1-4-1-4-1-4-2-3-3-3-2-2-4 0-4 0-4 0-4 2-4 2-3 4-2 4 0 4 1 3 1 4 1 4 0 4 0 4 1 4 1 4 2 3 1 4 1 4 1 4 1 4 0 4-1 3-3 3-2 4-2 3-3 1-3 1-4 0-4 0-4 0-4 1-4 2-3 2-4 2-3 3-3 2-3 3-3 4-1 4-2 3-2 3-2 3-4" stroke="#8cc63e"/>
<path d="M313 241l-3-3-3-2-4-2-4 0-4-1-4 0-3 2-4 2-2 3-3 3-4 2-3 2-3 3-2 3-3 3-1 4-1 4-2 3-2 4-3 3-2 3-1 4 0 4 0 4 3 3 2 3 3 3 3 3 4 1 4 1 3 1 4 0 4 0 4-2 4-1 3-3 1-3 0-4-1-4-2-4-3-3-3-2-3-3-2-3-2-4 1-4 1-3 2-4 1-4 1-4 3-3 1-4 0-4-2-3-3-3-4-1-4 0-3 3-3 3-2 3-1 4 1 4 1 4 1 3 3 4 2 3 2 4 0 4 0 4-1 3-3 3-3 3-2 3-3 3-1 4-1 4 0 4 2 3 3 3 4 1 4-1 3-2 4-2 3-1 4 1 4 1 3 3 3 3 2 3 1 4 2 4 2 3 3 2 4 1 4-1 4-2 3-2 3-3 4-2 4-1 3 0 4-1 4-2 4-1 4-1 3-3 3-2 2-4 1-4 1-3 2-4 3-3 3-2 4-1 4-1 4-1 4-2 3-1 4-1 4 1 4 2 3 2 3 3 2 3 1 4 0 4-2 3-2 3-3 3-4 2-4 1-4 0-4-1-3-2-2-3-1-4 0-4 1-4 1-4 1-4 1-4 0-4 0-4 0-4 0-4 1-3-1-4-2-4-3-2-3-2-4-1-4-1-4-1-4 0-4 0-4 0-4 2-3 2-4 2-3 3-2 3-4 1-4 1-4 2-2 2-3 4-1 3-1 4-1 4 0 4 1 4 2 4 2 3 4 2 3 2 3 3 3 2 3 3 3 3 1 4 2 3 2 4 1 3 4 3 3 2 4 1 4-1 4-1 4-1 4-1 3-1 4-2 4 0 4-2 3-2 3-3 3-2 3-3 3-3 2-3" stroke="#45b4e8"/>
<path d="M282 291l2 3 3 3 2 3 4 2 3 3 2 3 1 4-2 4-1 3-3 3-3 3-3 2-4 2-4 1-3 1-4 1-4 0-4 1-4 1-4 1-4 1-4-1-4 0-4 1-4 1-3 2-3 3-1 3-2 4 1 4 1 4 2 4 2 3 3 2 3 3 2 3 3 3 3 3 3 1 4 1 4 0 4 0 4-1 3-3 1-3-1-4-2-4-2-3-3-3-4-2-3-2-3-3-3-2-3-2-3-3-2-4-1-4-1-4-1-4-2-3-1-4-3-3-2-3-2-4-2-3 0-4-1-4-1-4-2-4-2-3-3-3-3-2-2-4-2-3-3-3-4-2-3-2-3-2-4-3-4 0-4 1-3 1-4 1-4 1-4-1-4-2-3-1-4 0-4 0-4 0-4 0-4-1-4-2-3-2-2-4-2-3 3-2 2-3 4-1 4-2 4-1 4 0 3 1 4 2 4 0 4 1 4 1 4 2 3 1 4 2 3 2 4 1 4 1 4 1 4 1 4 1 2 3 0 4 1 4 0 4 0 4 1 4 1 4 3 2 3 3 2 4 1 4 0 4 0 4 1 4 0 4 1 4 0 4 0 4 0 4 0 4 0 4-1 4 0 3 1 4 1 4 3 3 2 3 3 3 4 0 4 0 4-1 4 0 4-1 4-1 3-2 3-3 2-3 2-4 1-4 2-3 1-4 2-4 2-3-1-4-1-4-2-4-2-3-4-2-3-2-4-2-3-2-4-1-4-1-4 0-4-1-4 0-4-1-4 0-3-2-4-1-4 1-4 1-3 3-3 2-3 3-2 4-1 4 0 4 0 4 0 4 0 3-1 4-1 4-2 4-2 3-2 3-4 2-4 0-4 0-3-2-3-2-3-3-2-4-3-2" stroke="#66c04a"/>
<path d="M157 473l4 0 4-2 3-1 4 0 4-1 4-1 4-1 4-1 4-1 4-1 3 2 3 2 4 1 4 1 4 0 4 0 4 0 4 2 2 3 3 2 3 3 4 3 3 1 4 1 4 0 4 1 4-2 3-2 3-3 2-3 2-4 3-3 2-3 2-4 2-3 4-2 4-1 4-1 3-2 2-3 2-4 1-4 1-4 1-4 0-4 0-4-1-3 0-4-1-4 0-4-2-4-3-3-3-2-2-4-1-4-2-3-3-3-3-3-3-2-3-2-4-1-4-1-4-2-4 0-4-1-4 1-4 0-4 1-3 1-4 0-4-1-4-1-3-3-3-2-4-3-2-2-4-2-4-1-4-1-4-1-4 1-3 1-4 3-2 3-1 4 0 4-1 4 1 4 1 4 2 3 2 3 2 4 1 4 1 4 1 3 1 4 1 4 0 4-1 4 2 4 0 4-1 4-1 4-2 3-2 3-2 4 0 4-1 4 1 4 2 3 3 3 3 3 3 2 3 3 4 0 4 0 4-1 4-2 1-4 2-3 0-4 0-4 0-4 0-4 0-4-1-4-2-4-2-3-3-3-2-3-3-3-2-4-2-3 0-4 1-4 2-3 3-3 4-2 4 0 4 0 4 0 3 2 3 3 2 4 3 3 2 3 2 3 3 3 4 1 4 0 4-2 4-2 3-2 4-1 4 0 3 1 4 2 4 1 4-1 3-2 2-4 0-4 0-4-1-4-1-3-2-4-3-3-3-2-4-1-4 1-4-1-4 0-4-2-4 0-4-1-3-1-4-2-4-2-3-2-4-1-3-3-3-2-3-3-3-2-4-2-3-2-4-2-4-1-4 0-4 1-3 3-2 4-1 3-3 3-1 4-1 4 1 4 2 3 4 2 4 0" stroke="#8ed6c8"/>
<path d="M138 416l-2-3-4-3-2-3-2-4-2-3-1-4 0-4 0-4 2-4 2-3 2-3 3-3 3-3 3-3 3-2 3-3 2-3 3-3 2-3 2-4 3-3 3-2 2-4 2-3 3-3 3-2 4-1 4 1 4 2 2 3 1 4 0 4-2 3-3 2-4 0-4-2-3-2-3-3-2-3-2-4-1-4 1-4 1-3 2-4 3-3 4-1 3-2 4-2 4-2 3-2 4-1 4-1 3 2 3 3 0 4-1 4-2 3-4 3-3 1-4 1-4 1-4 1-4 2-3 2-3 2-2 3-3 4-2 3-3 3-3 2-4 2-3 3-2 3 0 4 3 3 3 3 4 1 4 2 3 2 4 2 2 3 1 4-2 4-3 2-4 0-4 0-4-1-4-1-4 1-3 2-4 0-4 1-4 1-4 1-4 1-4 2-3 2-3 3-1 4 0 4 1 4-1 3-2 4 2 3 4 0 4 2 4 1 4 0 4-1 3-3 3-2 4-1 4 0 4 0 4 0 4-1 3-2 4-2 4 0 4 1 4 1 4 1 4 0 4-1 4-1 3-2 4-1 4-1 3-2 3-4 2-3 2-3 1-4 0-4 0-4-2-4-3-2-3-3-2-3-2-4-1-4 1-4 1-3 2-4 3-3 4-2 4-1 3-1 4-1 4 1 4-1 4-1 4-2 3-2 2-3 2-4 1-4 0-4 0-4-2-3-2-3-4-1-4 1-3 2-4 2-3 3-2 3-4 1-4 1-4 0-4 1-3 2-4 3-2 3-2 3-3 3-3 3-2 3-3 3-3 3-3 2-4 1-4 1-3 1-4 3-3 1-4 0-4 0-4-1-4 0-4 0-4 2-3 3-3 2-3 2-4 1-4 0-4-1-4 0-4 0" stroke="#f24f0c"/>
<path d="M152 354l-3-1-4-2-3-2-4-2-4-1-3-1-4-2-3-2-4-2-3-3-2-3-1-4-1-4-1-4-1-3-3-3-3-3-3-3-3-2 2-3 4-2 3-1 4-1 4-1 4 0 4 1 4 0 4 0 4-1 4 0 4-1 4 1 4 2 4 1 3 1 4 3 3 2 3 3 2 3 1 4 0 4 1 4 2 3 2 4 1 4-1 4-1 4-2 3-2 3-3 3-3 3-2 3-3 3-2 3-3 3-3 3-2 4-3 2-3 3-2 3-1 4 0 4 3 3 4 1 4 0 4-2 3-2 4-2 3-3 2-3 3-3 2-3 4-2 3-2 4 0 4-2 2-3 1-4 2-4-1-4 0-4 1-4 0-4 1-3 0-4 0-4 0-4-1-4-1-4-3-3-3-3-3-2-3-2-4-2-3-3-2-3-2-4-1-3-1-4 0-4-1-4-2-4 1-4 0-4 0-4 0-4 1-4 0-4 0-4 1-4 2-3 1-4 2-3 2-4 3-3 2-3 4-2 3-2 4 1 4 0 4 2 3 3 1 4 0 4 0 4-2 3-3 3-2 4-3 2-2 4-1 4 0 4 0 4 1 4 0 4-1 4 0 4-1 3-2 4-1 4-1 4-1 4-3 3-4 1-4 0-4 0-4 0-4 1-4 0-4-1-4-1-3-2-2-3-2-4 0-4-2-4-2-3-2-3-3-3-3-3-3-3-3-1-4-1-4-1-1 4-1 3-3 3-3 3 2 4 1 4-1 4 1 4 2 4 1 3 0 4 1 4 1 4 0 4-1 4 1 4 2 4 3 2 3 3 4 2 3 3 2 3 2 3 3 3 3 3 3 2 3 3 2 3 2 4 1 4 1 3 0 4-1 4 0 4-2 4 0 4" stroke="#66c04a"/>
<path d="M247 408l-4-1-4-2-3-2-3-3-3-2-3-3-2-4-2-3 1-4 1-4 1-4 3-3 3-2 3-3 3-3 3-2 3-3 3-3 3-2 4-1 4-1 4 1 3 2 4 2 3 2 4 0 4 1 4 1 4 2 3 2 2 3 3 4 1 3 2 4 1 4 0 4-1 4 1 4 2 3 2 4 3 1 4 1 4 0 4 0 4-2 4 0 4 1 4 1 2 3 2 4 1 4-1 4-1 3-1 4-1 4 0 4 1 4 1 4 1 4 0 4 0 4-1 3-1 4-2 4-2 3-2 4-3 3-2 3-3 2-3 4-1 3-3 3-2 4-4-2-4-1-4 0-4 0-4 0-4 0-4-1-4 0-4 0-3 3-3 3 1 4 3-2 2-4 1-4 0-4 0-4 0-4-2-3-3-3-3-2-4-2-2-3-2-3 0-4 0-4 1-4 1-4 1-4 0-4 1-4 1-4 0-4 1-4 1-4 0-4 0-4-1-4-2-3-2-3-3-3-3-2-4-3-3-1-4-2-4-1-3-2-4-1-4-2-4 0-4 1-3 2-2 3-3 3-2 3-3 3-2 4-1 4 2 3 3 2 4 1 4-1 3-3 2-3 1-4-1-4 0-4 0-4 1-4 2-3 2-4 3-2 3-3 2-3 3-4 2-3 3-3" stroke="#dfe31c"/>
<path d="M238 412l4 1 3 3 3 3 1 3 0 4 0 4-1 4-1 4-1 4-1 4 1 4 1 4 3 3 3 1 4 2 4-1 4 0 4 2 2 3 2 4 2 3 1 4 1 4 0 4 0 4 0 4 0 4 1 4 4 2 2-3 2-3 1-4 1-4 1-4 1-4 2-3 1-4 0-4 0-4 0-4-3-3-2-3-3-3-4-2-3-1-4-1-4-2-4-1-4 0-3-2-4-2-4 0-4 0-4-1-4 1-4 0-4 1-4 1-4 0-4-1-3-1-4 0-4 0-4-1-4-2-3-3-2-3-1-4 0-4 0-4 1-4 0-4 0-4 2-3 2-4 2-4 2-3 1-4 2-3 2-4 1-4 1-3 2-4 3-3 4 0 4 0 3 2 3 3 2 4 3 2 2 4 3 3 2 3 2 4 3 3 3 2 3 3 2 3 2 4 3 2 3 3 4 1 4 0 4 0 3 2 3 3 3 2 3 3 3 2 4 0 4 1 4 2 4 1 4-1 4-1 3-1 4-2 3-2 4-2 2-4 1-4 1-3 0-4-2-4-2-3-4-3-3-2-3-2-3-3-3-2-3-3-4 0-4 1-4 2-4 0-4 0-4 0-4 1-4 0-4 1-3 1-4 2-2 3-3 3-3 2-4 2-4 1-4 2-4 0-4-1" stroke="#dfe31c"/>
<path d="M124 363l2-3 1-4 0-4 0-4 1-4 1-4 2-4 0-4-1-4-2-3-2-3-4-2-3-2-4-2-4-1-4 0-4-1-3-2-4-1 3-3 3-1 4-1 4 0 4 1 3 3 2 3 0 4-1 4 0 4-1 4-1 4-1 4-2 4-1 4 0 4 0 4-1 3-1 4-2 4-2 3-3 3-2 3-2 4-2 3-2 4 3 2 4 2 4 0 4 1 4 1 4 0 4 0 4 0 4-1 4-1 4-1 3-2 3-2 4-3 2-2 3-3 3-3 3-3 1-4 2-3 2-4 3-2 4-2 3-2 4 0 4-1 4 1 4 1 3 3 3 3 2 3 2 3 3 4 1 3 1 4 1 4 2 4 1 3 3 3 2 4 3 3 2 3 2 3 1 4-1 4-1 4-3 3-3 2-4 3-2 3-3 3-3 2-3 3-4 2-3 1-3 3-3 3-2 3-3 3-3 3-3 2-3 3-3 3-3 2-3 3-4 2-4 0 0-4 0-4-1-4-2-3-4-2-3-2-4-1-4 0-4-1-4-1 0-4 0-4-2-3-3-3-1-4-2-4-1-3-2-4-1-4 0-4-1-4-2-3-2-3-3-4-2-3-2-3-2-3-4-3-3-2 1-3 1-4 1-4 0-4 0-4 0-4 0-4-2-3-3-3-4-2 2-4 3-1 4-3 3-2 4-1 4-1 3-2 3-2 3-3 3-3 3-3 2-3 2-3 3-4 3-2 2-3 3-4 2-3 2-4 0-4-1-3-3-4-2-3-1-4 1-4 2-3 3-3 3-2 3-2" stroke="#ee2b10"/>
<path d="M203 408l4 2 3 2 2 4 0 4-2 3-3 2-4 3-2 2-3 3-2 4-2 4-2 3-3 3-3 2-3 2-4 2-4 1-4 1-4 1-4 0-3 1-4 1-4-1-4-1-4-1-4-2-3-1-1-4-2-4-2-3-2-4-1-4 0-4 1-4-1-3-2-4-2-3-3-3-3-3-3-2-4-2-4 0-3 1 3 3 3 2 4 2 4 0 3-2 3-2 3-3 3-3 2-3 3-3 3-3 3-2 4-1 4-1 4 2 4 1 3 2 3 3 3 2 4 2 4 2 3 0 4 1 4 1 4 1 4 2 4 0 4 0 4 0 4 2 3 2 3 2 4 1 4 1 4 0 3-2 4-2 3-2 4-2 3-2 3-2 3-3 2-4 2-3 1-4 1-4-1-4-1-4 0-4-1-4-1-4-2-3-2-4-1-3-3-3-4-1-4 1-3 2-3 3-4 2-4 0-3-2-3-2-4-3-3-2-3-3-3-3-3-2-4-1-4 0-3 2-3 2-3 3-3 3-1 4-2 4 0 4-1 4-2 3-1 4 0 4 0 4 2 4 2 3 3 2 4 3 3 1 4 1 4 0 4 0 4-2 3-2 4 0 4 0 4-2 4-1 4-1 4-1 2-3 3-3 3-3 1-4-1-4-2-3-3-2-4-1-4-2-4-1-3-1-4-1-4 0-4 1-4 0-4 1-4 1-4 2-3 2-3 2-4 2-4 1-4 1-4 1-4-1-4 1-4-1-3-1-4 0-4 1-4-1-4-2-4 0-4 0-4 1-4 1-3 3-2 3-3 3-3 2-4 2-3 2-3 3-3 2 3 3 4 1 4 0 4 0 4 1 4 0 4 1 4 0 4 0 3-2 4-1 3-3 2-4 0-4 0-4" stroke="#8ed6c8"/>
<path d="M175 323l0-4 2-3 2-4 2-3 3-3 3-3 2-3 3-3 3-2 4-2 3-2 4-2 3-2 3-3 4-1 3-1 4-2 4-1 3-3 3-2 4-2 3-2 3-3 4-1 4-1 4 1 4 1 3 2 3 2 3 3 4 2 3 3 2 3 2 3 2 4 0 4 0 4 0 4 0 4-1 4-2 4-1 3 0 4-1 4-1 4-1 4-2 4-3 2-2 3-3 3-3 3-3 2-4 1-4 2-3 2-4 2-3 2-3 3-3 3-1 4-1 4-2 3-2 4 0 4-1 4-3 3-4 2-3 2-2 3-3 3-2 4-2 3-3 3-3 2-3 3-2 4-1 3 0 4 0 4 0 4 0 4 1 4-1 4-2 4-1 4 0 4-1 4-2 3-1 4-1 4-1 4-2 4-1 3 4 1 3-2 4-2 4 0 4 0 4 1 4-1 4 0 4-1 3-1 3-4 1-3 0-4-2-4-1-4-3-3-3-2-3-3-4-1-4-2-3-2-4-2-3-1-4 0-4 1-4 1-4 2-3 2-4 1-4 1-4 1-3 1-4-1-3-2-2-4-1-4-1-4 0-4-1-3-1-4-1-4-2-4-2-3-2-3-3-3-4-2-3-2-4-2-3-2-4-1-4-1-4-1-4 2-3 2-4 1 0-4 3-4 2-3 3-3 3-2 3-2 2-4 2-4 1-4 1-3 2-4 1-4 0-4 0-4 0-4 0-4 0-4 0-4-1-4 1-4 3-2 3-3 4 0 4 0 4-1 3-2 4-2 2-3 2-4 1-4 0-4 1-4 0-4 1-4 2-4 2-3 3-3 2-3 3-2 4-3 3-2 3-3 4 0 4 1 3 1 4 0 4 0 4-1 4-1 4 0 4-1 4 1" stroke="#f76707"/>
<path d="M207 405l-4-1-4 0-4 0-4 2-2 3-1 4 1 4 1 4 1 4 2 3 3 3 3 2 4 2 4-1 3-2 4-2 3-2 3-3 2-3 4-2 4-1 4-1 4 1 3 1 3 3 3 2 4 3 3 2 3 2 4 1 4 2 2 3 2 4 0 4 1 4 1 3 2 4 1 4 2 3 2 4 2 3 2 4-1 4-3 2-4 1-3 2-4 1-3 3-4 2-3 2-3 3-3 2-4 2-3 1-3-3-1-4-2-3 0-4 1-4 0-4 0-4 0-4 0-4 1-4 1-4 1-4 1-4 2-3 2-4 1-4 1-3 0-4-1-4-2-4-1-4-3-3-3-3-3-2-4-1-4 0-4 1-2 3-1 4 0 4 0 4 1 4-1 4-2 3-3 2-4 1-4 0-4-1-4-1-3-2-3-2-3-3-4-2-4-1-3-2-4-1-4 0-4-1-4-1-4-1-3-3-4-1-3-1-4-1-4-2-3-3-3-2-4-2-3-2-3-3 0-4 0-4 0-4-2-4-1-4-2-3-1-4 0-4 1-4 0-4-2-3-1-4-2-4-3-3-2-3-1-4-1-4 0-4 1-4 1-4 1-4 2-3 2-3 4-3 2-3 3-2 4-2 4-2 4 0 4 0 3 2 4 2 3 2 3 2 3 3 4 1 4 0 4 0 4-1 4-2 2-3 3-2 3-3 4-1 4 0 4-2 3-2 3-3 2-3 2-4 0-4 1-4 0-4 2-3 3-3 2-3 3-3 2-4 2-3 1-4-1-4 0-4 0-4 0-4-1-4-3-3-3-3-3-1-4 0-4 1-3 3-2 3-2 4-2 3-1 4 0 4 0 4 2 4 2 3 2 4 0 4 1 4 1 4 0 4 2 3 3 3" stroke="#8cc63e"/>
<path d="M202 254l4 2 4 0 4-1 3-2 3-3 2-4 2-3 2-4 1-4 1-4 0-4-1-3-1-4-1-4-1-4 0-4 0-4 4 1 4 0 4 0 4 1 4-1 4-1 3-2 4-1 4 0 4 1 4 1 3 2 4 1 4 1 4 0 4-1 4 0 4 0 4-1 4 0 4 0 4 1 1 4 1 3 1 4 0 4 1 4 0 4 1 4 0 4 0 4 1 4 3 3 3 3 3 2 3 3 4 1 3 1 4 1 4 2 4 2 3 2 4 2 4 0 4 0 3 2 4 1 3 2 3 3 2 4 0 4-1 3-2 4-3 2-4 2-3 2-4 2-4 0-4 0-4-1-4-1-4-1-3-1-4 1-3 3-2 3-2 4-2 4 0 4 0 3-1 4-2 4-1 4-2 3-3 3-3 2-3 3-2 4-3 3-3 2-3 3-3 2-3 3-4 1-3 3-2 4-2 3-1 4-1 4-3 3-3 2-3 3-3 3-2 3-2 3-1 4 2 3 3 3 4 2 3 2 4 1 4 1 4 0 4 1 4-1 4-2 3-2 2-3 4-3 3-2 4-1 4-2 3-2 3-2 3-2 3-4 0-4 0-4-1-3-3-3-4-3-3-2-4 0-4 0-4 1-3 2-4 2-3 3-4 1-3 1-3 3-3 3-2 3-2 4-1 4-2 3-2 4-2 3-2 4-1 3-3 4-3 2-3 2-4 2-3 2-4 2-4 1-3 2-4 2-4 1-3 1-4 1-4 1-4 1-4 0-4 0-4 0-4 1-4 1-4-1-4-1-3-3-2-3-2-4-3-3-2-3-2-4 0-3 0-4 1-4 0-4 2-4 1-4 1-4 1-4-1-4 0-4-1-4-2-3-4-2-4 0-4 0-4-1" stroke="#66c04a"/>
<path d="M244 383l1 4 1 4 2 4 2 3 2 4 2 3 2 4 3 2 4 1 4 0 4 0 4 0 3 3 3 3 1 3 0 4-1 4-2 4-2 3-3 3-2 3-2 4-1 4-1 4-1 3 0 4-2 4-2 3-2 4-3 2-3 3-3 3-4 1-4 2-3 0-4 1-4 1-4 1-4 0-4 1-4 1-4 1-3 2-4 2-2-4-2-3-2-4 1-4 1-4 1-3 2-4 1-4 2-3 3-3 2-4 2-3 2-3 3-4 2-3 2-4 1-3 1-4-1-4 0-4-2-3-2-4-3-3-3-2-4-2-3-2-4-2-3-2-4-2-3-3-3-2-3-3-3-1-4-1-4-1-4-1-4-1-3-3-3-2-3-3-3-2-3-3-3-3-3-2-3-2-4-3-1-3-1-4 2-4 1-4 2-4 2-3 2-4 2-3 3-3 3-3 3-1 4 1 4 1 4 0 4 1 4 2 3 2 4 2 3 2 4 1 3 2 4 2 4 0 4 0 4-1 3-2 4-2 3-3 3-3 2-2 3-3 3-3 3-2 3-3 2-4 0-4-2-3-3-4-2-3-3-3-3-2-4-1-4-1-4 0-4 0-4 1-3 1-4 2-2 3-3 4-1 3-2 4 0 4 1 4-1 4 0 4-1 4 0 4-1 4-2 4-3 3-2 3-2 3-2 4-1 3-3 4-2 2-3 4-2 3-2 3-3 3-3 3-3 3-3 3-3 2-3 2-3 3-4 2-3 2-3 3-3 3-2 3-2 3-3 3-1 4-1 4 0 4 0 4 0 4 1 4 4 1 4 0 4-1 3 0 4-2 4-2 3-1 4-1 4 1 4 2 3 2 4 2 3 2 3 3 1 4 2 4 2 3 1 4 1 4 1 4" stroke="#f24f0c"/>
<path d="M74 328l2 3 4 1 4 1 4 0 4 0 4 0 4 0 4 0 4 0 4 0 4 0 4-1 4-1 4-1 3-1 4-1 4-2 3-3 3-2 4-2 3-1 4-1 4 0 4 0 4 0 4 0 4 1 4 1 4 1 3 1 4 3 3 2 3 2 4 1 4 1 4 0 4 1 4 1 4 0 4 0 4 1 3 1 4 3 2 3 1 4 1 4 0 4 0 4-1 4-1 3-2 4-2 4-2 3-3 2-4 3-3 1-4-1-4-2-3-3-1-3 0-4 1-4 1-4 0-4 0-4-1-4-1-4-1-4-1-4 1-4 0-4 0-4 1-3 0-4 0-4 1-4 1-4 2-4 2-3 2-4 1-4 0-4-1-3-1-4-1-4 0-4 0-4 2-4 3-2 4-1 4 0 4 0 4 0 4 2 4 1 3 2 3 3 3 3 2 3 1 4 2 4 0 4-1 4-1 3-2 4-1 4 0 4 0 4-2 4-1 3-1 4-1 4-3 3-3 3-2 4-1 4-1 3-1 4-3 3-4 2-3 2-3 2-4 2-3 3-2 3-3 2-3 3-2 4-3 3-3 2-4 1-4 1-4-1-4-1-4-1-4 0-4 1-4 0-3 2-4 2-2 3-1 4 1 4 1 4 2 3 2 3 3 3 2 4 3 3 2 3 3 3 3 3 3 3 2 2 3 3 3 3 2 4 2 3 2 4 2 3 2 3 1 4 1 4-2 4-2 3-2 3-2 4-3 2-4 2-4 1-4-1-3-2-3-4 1-4 1-3 1-4-1-4-1-4-3-3-2-3" stroke="#ee2b10"/>
<path d="M198 256l-2-3-4-2-4-1-4-1-4-1-3-1-4-1-4 0-4-1-4-1-3-3-2-3-3-3 4-1 4 0 4 0 4-2 3-2 1-4 2-3 2-4 4 1 4 0 3 2 3 3 2 4 2 3 4 2 4 1 4 0 3 1 3 3 2 4 1 3 2 4 0 4 1 4 3 3 2 3 2 4 1 4-1 4-2 3-3 3-2 3-4 2-4 0-4 0-4-2-4-1-4 0-4 0-4 0-3-2-4-2-3-2-3-3-3-2-4-1-4-1-4-1-3-2-4-1-4 0-4 1-4 0-4 1-4 1-4 1-3 2-3 3-1 4 0 4 0 4 0 4 1 4 0 4 0 4 1 4 1 4 1 4-1 4 1 4 1 3 1 4 0 4 1 4 2 3 4 3 3 2 3 2 4 1 3 3 3 3 4 2 4 0 4 0 4-1 4 0 4 0 3 1 4 0 4-2 1-4 1-4 1-4 0-4-1-4 1-3 2-4 1-4 0-4 2-4 2-3 3-3 3-2 4 0 4-1 4 1 4 1 3 2 3 4 2 3 2 3 3 3 2 4 3 3 2 3 3 3 3 2 4 2 4 1 3 2 4 1 4 1 4-1 4-1 4-1 3-2 3-2 4-2 3-3 3-3 4-1 4 0 3 2 3 3 3 3 2 3 0 4 0 4-2 4-2 3-3 3-3 3-4 1-3 1-4 1-4 0-4 0-4-2-3-2-2-4-1-3-1-4 0-4-1-4-1-4-1-4-1-4-2-3 0-4 0-4 1-4 2-4 3-3 2-3 2-3 3-3 3-3" stroke="#fdc41a"/>
<path d="M181 457l4 1 3 2 3 3 2 4 0 4 0 4 0 4 0 4-2 3-3-3-2-4-1-3-1-4-1-4-1-4 0-4-1-4-2-3-2-3-1-4-1-4-1-4 0-4-1-4-1-4-2-3-2-4-3-2-3-4-3-2-3-3-3-2-4-1-4-1-4 0-4-1-4 1-4 0-4-1-4 0-3 1-4 1-4 1-4 0-4 1 2 3 4 1 4 1 4 2 3 2 3 3 1 4 0 4 0 4 0 4 1 3 4 1 4 0 3-1 2-4 1-4-1-4 1-4 0-4 0-4 1-4 1-3 2-4 2-4 3-2 3-2 4-2 2-3 2-4 3-3 3-3 3-2 4-1 4-1 3 2 4 2 3 2 3 3 2 4 2 3 3 3 3 3 4 1 4 0 4 0 4 0 3-1 4 0 4 2 4 2 2 3 2 3 3 4 3 2 3 3 2 3 2 3 3 4 2 3 3 3 2 3 3 3 3 2 4 2 4 1 4 1 4 0 4 0 3-2 3-3 2-3 1-4 0-4 0-4-2-4-1-4 0-4 0-4 0-4 0-4 0-4 0-4 1-4 1-3 2-4 1-4 1-4 1-3 0-4 1-4 0-4-1-4-1-4-1-4-3-3-3-2-3-3-4-2-3-1-4-2-4 0-4 0-4 1-3 2-3 3-4 2-3 3-2 3-3 3-2 3-2 4-2 3-3 3-4 2-2 3-3 3-2 3-2 4-2 3-1 4-1 4 1 4-1 4-1 4-1 4-2 3-3 3-3 3-3 2-2 3-4 2-4 0-4 1-4 0-4-1-4-1-4-1-4 0-4-1-3-2-4-1-4-1-4 2-3 1-3 3-2 4-3 2-3 3-3 3-3 2-4 2-4 1 0-4 0-4 0-4" stroke="#8ed6c8"/>
<path d="M381 305l3 4 2 3 2 3-1 4 0 4-2 4-1 4 1 4 0 4 0 4 0 4 0 4 1 4 1 4 1 4 0 4 0 4-1 3-3 4-2 3-1 4-1 4 0 4-1 3-2 4-2 4-2 3-3 3-3 2-4 2-4 1-3-1-4-3-1-3-1-4 0-4 0-4 0-4-2-4-2-3-1-4-1-4 0-4 1-4 2-3 3-4 3-1 4 0 4 2 3 2 3 3 2 3 2 4 1 4 1 4 2 3 2 4 2 3 2 3 3 3 3 3 2 3 1 4 0 4 0 4-1 4-1 4-2 3-1 4-2 4 1 4 2 4 1 3 2 4 2 3-4 1-3-2-3-2-2-4-2-3-1-4-2-4-1-4-1-4-1-3-2-4-2-3-3-3-2-4-1-4 1-4 3-3 2-3 3-2 4-2 4 2 4 1 4 0 4 1 4 0 4-1 4-1 3-2 3-3 1-4 1-4 2-3 2-4 3-3 2-2 3-4 1-3 0-4 1-4 1-4 3-3 3-2 3-3 3-3 3-2 3-3 2-3 1-4 2-4 0-4-1-4-2-3-3-3-3-1-4-1-4 0-4 1-3 3-3 3-2 3-2 3-2 4 0 4 0 4 1 4 1 4 1 4 1 3 2 4 3 3 1 4 2 3 1 4 2 3 3 4" stroke="#1f3ba5"/>
<path d="M410 327l1-3 1-4 1-4 0-4-1-4-3-3-3-3-2-3-3-3-2-3 0-4-2-4-3-3-2-3-2-3-4-3-3-2-3-3-1-4-2-3 0-4 0-4 3-4 3-1 4-1 4 0 4 0 4 1 4 0 4 1 4 1 4 0 4 0 4-1 4-1 3-2-4-3-3 1-4 1-4 0-4 0-4 1-4-1-4-1-4-2-2-4-2-3-1-4-2-3-2-4-1-4-2-3-2-4-1-4-1-4 0-4 1-3 2 3-1 4-2 3-2 4-2 3-1 4-1 4-2 4-1 3-1 4 0 4 0 4-1 4-2 4-2 3-1 4-2 3-1 4 0 4 0 4 0 4 2 4 3 3 2 3 3 3 3 2 2 4 3 3 3 2 4 2 3 2 3 3 2 3 4 2 2 3 4 3 3 2 3 2 4 1 4-1 4-1 3-2 3-3 2-4 2-3 4-2 4 0 3 2 3 2 3 3 4 2-2 4-2 3-1 4 0 4 2 4 0 4-1 4-1 4-1 4-1 3-2 4-1 4 0 4 0 4-1 4-2 3-3 3-3 3-3 1-4 0-4 1-4 1-4 2-4 0-4 0-4-1-3-2-4-2-4 0-3 1-4 3-1 3-2 4 0 4 1 4 1 4 1 4 2 3 2 4 1 3 2 4 1 4" stroke="#2a48b0"/>
<path d="M403 371l-1 4-1 4-1 4-2 3-2 4-2 3-1 4 0 4 1 4 0 4 0 4 0 4 0 4-1 4-2 3-3 3-3 3-3 2-4 2-3 2-4 2-3 2-3 3-3 3-3 1-4 1-4-1-4-2-3-3-2-3-3-3-1-4-2-3-3-3-1-4-2-3-2-4-1-4 0-4 0-4 2-4 0-3 1-4 0-4 2-4 3-2 4-2 3-2 4-2 3-2 4-2 3-3 3-2 4-1 3-2 3-3 2-3 0-4 1-4 1-4-1-4-1-4-1-4-1-4-1-3-1-4-1-4-2-4-2-3-3-3-3-2-3-3-3-3-2-3-1-4-1-4-1-4 1-4 0-4 1-4 1-4 1-4-1-4-2-3-3-2-4 1-4 2-3 3-2 3-2 3-2 4-1 4 1 4 0 4-2 3-1 4-2 4-1 4 0 4 0 4 1 3 2 4 2 4 3 3 3 2 4 0 4 0 4-1 3-2 4-2 3-2 3-2 3-4 1-3 0-4-1-4-1-4-2-4-2-3-2-4 0-4 0-4 0-4 0-4-2-3-1-4-1-4-2-4-1-4 0-4 2-3 3-3 4 0 4 1 4 2 3 2 3 2 4 3 2 2 3 3 4 2 4 1 4 0 3-2 3-3 3-2 4-1 4 0 4 1 4 1" stroke="#1c35a0"/>
</g>
<ellipse cx="279" cy="336" rx="200" ry="202" fill="none" stroke="#231f20" stroke-width="3.5" stroke-dasharray="16 10"/>
<rect x="320" y="330" width="29" height="19" fill="none" stroke="#231f20" stroke-width="3" stroke-dasharray="6 4"/>
<line x1="341" y1="324" x2="531" y2="86" stroke="#231f20" stroke-width="3.2" stroke-dasharray="10 7"/>
<line x1="350" y1="366" x2="508" y2="352" stroke="#231f20" stroke-width="3.2" stroke-dasharray="10 7"/>
<clipPath id="cb1"><rect x="531" y="13" width="285" height="191"/></clipPath>
<g clip-path="url(#cb1)" fill="none" stroke-width="1.4" stroke-linejoin="round">
<path d="M549 105l6 1 6 1 6 0 6 1 6 1 6 0 6 1 6 1 6 1 6 1 6 1 5 1 6 2 6 2 5 3 6 2 5 3 6 2 5 2 6 2 6 1 6-1 6-1 5-2 5-4 3-6 2-5 0-6 0-6-2-6-2-6-3-5-3-5-3-5-3-6-3-5-3-5-3-5-2-5-3-6-3-5-4-5-4-4-4-4-5-4-5-3-6-3-5-3-5-3-5-3" stroke="#8cc63e"/>
<path d="M657 122l-2 5-2 6-2 6-2 5-1 6-2 6-1 6-1 6-1 6-1 6-1 5-2 6-1 6-1 6-2 6-3 5-4 4-5 4-6 2-6 1-6 0-5-2-6-2-5-3-5-3-5-4-4-4-4-5-3-5-4-5-4-4-4-4-4-5-4-5-3-5-4-4-3-5-3-6-2-5-2-6-2-6-1-6-1-6-1-5-1-6-1-6-1-6-1-6-1-6-2-6" stroke="#8cc63e"/>
<path d="M680 37l-4 5-5 4-4 3-6 4-5 3-5 3-6 2-5 1-6 1-6 0-6 1-6 0-6 0-6 0-6 0-6 0-6-1-6-1-6-2-6-1-6 0-6-1-6 1-6 0-6 1-6 0-6 0-6-1-5-2-6-1-6-1-6 1-6 2-5 3-4 4-4 5-2 5-1 6 0 6 2 6 2 5 3 6 3 5 4 5 4 4 4 5 3 5 2 5 2 6 2 5" stroke="#86d0e6"/>
<path d="M592 115l-2-5-3-6-3-5-3-5-4-5-4-4-4-4-5-4-4-4-5-4-4-4-4-5-4-4-4-5-4-4-5-4-4-5-4-4-4-5-3-5-2-5-2-6-1-6 0-6 0-6 0-6 2-6 1-6 2-5 3-6 3-5 4-4 3-5 5-4 5-4 5-3 5-3 6-2 5-2 6-1 6 0 6 1 6 2 5 2 5 4 5 4 4 4 3 5 3 5 3 5" stroke="#f24f0c"/>
<path d="M679 112l-6 3-5 3-5 3-5 3-5 3-5 4-4 4-4 5-3 5-1 6-1 6 1 6 3 6 2 5 3 5 3 6 2 5 4 5 4 4 5 3 6 3 6 1 6 0 6-1 5-2 5-3 4-5 3-5 2-5 3-6 1-6 2-6 1-5 2-6 1-6 2-6 2-5 3-6 2-5 3-5 3-6 3-5 4-5 3-5 3-5 2-6 2-5 2-6 0-6 0-6" stroke="#86d0e6"/>
<path d="M555 103l3 5 4 4 5 4 4 4 5 3 5 3 6 3 5 3 5 3 5 3 5 4 5 4 4 4 5 4 4 4 4 4 4 4 4 5 4 5 3 5 3 5 4 5 3 5 4 4 5 4 5 2 6 2 6 0 6-2 5-2 5-4 4-5 4-5 3-5 3-5 2-5 2-6 1-6 0-6-1-6-1-6-2-5-3-6-2-5-2-6-2-5-2-6-3-6-2-5-3-6" stroke="#ee2b10"/>
<path d="M588 20l-5-4-5-3-6-2-5-2-6-1-6-1-6-1-6-2-6-1-5-1-6-1-6-1-6-1-6 0-6 0-6 0-6 0-6 2-6 2-5 4-3 4-3 6-1 6-1 6 0 6 0 6 1 6 2 5 2 6 3 5 3 5 3 5 2 6 3 6 2 5 3 5 3 5 4 5 3 5 3 5 4 5 4 4 5 4 4 4 5 4 4 5 4 4 4 4 4 5 4 4" stroke="#fff200"/>
<path d="M622 44l3 5 2 6 2 6 2 5 2 6 2 6 2 5 2 6 2 6 2 5 3 6 2 5 3 5 3 5 4 5 4 5 4 4 4 5 4 4 3 5 4 5 2 5 2 6 0 6-1 6-1 6-1 6-3 5-3 5-4 5-4 4-5 4-5 3-6 1-6 0-6-1-5-2-6-3-5-3-5-4-4-4-5-4-5-3-5-3-5-3-6-2-6-1-6 0-6 0-6 1" stroke="#66c04a"/>
<path d="M660 123l3 5 4 5 4 5 4 4 3 5 4 4 4 5 4 5 3 5 3 5 2 6 2 5 2 6 1 6 0 6-2 6-2 5-3 5-4 5-4 4-5 4-6 2-6 1-6 0-6-1-6-1-5-2-6-1-6-3-5-3-5-3-4-4-5-4-4-4-5-4-4-5-4-4-4-5-4-4-3-5-3-5-3-6-2-5-2-6-1-6-2-6-1-5-1-6-1-6-1-6" stroke="#f76707"/>
<path d="M566 109l-2-6-3-5-2-6-3-5-3-5-3-6-3-5-3-5-3-5-3-5-3-6-3-5-3-5-3-5-1-6-2-6-1-6-1-6 0-6 0-6 0-6 2-5 2-6 4-5 4-4 5-4 5-2 6-2 6-1 6 0 6 1 6 1 5 2 6 2 5 3 6 2 5 3 4 4 4 5 4 4 4 5 4 4 4 5 5 4 4 4 5 4 4 4 4 4 5 4 5 3" stroke="#86d0e6"/>
<path d="M554 63l-3 5-3 5-2 6-2 6-1 5 0 6-1 6-1 6-1 6-1 6-2 6-2 5-2 6-3 5-4 5-4 5-3 4-4 5-3 5-3 6-2 5-1 6-1 6 1 6 2 6 4 4 5 4 5 2 6 1 6-1 6-2 5-2 6-3 5-3 5-3 5-3 5-3 5-4 5-4 4-4 4-4 5-4 4-4 4-5 4-4 4-5 5-4 4-4 4-4 4-5" stroke="#66c04a"/>
<path d="M561 52l-6 1-6 0-5-1-6-1-6-2-6-2-5-3-4-4-4-5-2-5-1-6 0-6 2-6 2-5 4-5 5-3 6-2 6-1 6 0 6 2 5 2 5 4 3 5 3 5 1 6 2 6 0 6 1 6 0 6 1 6 1 6 1 6 1 6 2 5 1 6 3 6 1 5 3 6 2 6 3 5 3 5 3 5 3 6 2 5 3 5 3 5 3 6 4 5 3 5 3 5" stroke="#86d0e6"/>
<path d="M547 113l-3 5-2 6-1 6 0 6 1 6 1 5 0 6 0 6 1 6 1 6 3 6 3 5 4 5 3 4 5 4 5 4 4 4 5 3 5 3 6 3 5 2 6 1 6 0 6 0 6-1 6-1 6-2 5-3 5-4 4-4 3-6 2-5 2-6 2-5 2-6 1-6 1-6 2-6 2-5 2-6 2-6 1-5 2-6 2-6 2-5 2-6 3-5 3-5 4-5 4-5" stroke="#fff200"/>
<path d="M596 178l0 6 0 6-1 6-1 6-2 6-2 5-2 6-3 5-4 5-4 4-5 4-5 3-5 3-6 2-5 1-6 1-6 0-6-1-6-3-4-4-4-4-3-6-3-5-1-6-1-6 0-6 2-6 2-5 3-5 4-5 4-4 5-3 5-4 6-2 6-2 5-1 6-1 6 0 6-1 6 0 6-1 6-1 6-2 6-2 5-2 5-3 5-3 5-4 5-4 4-4" stroke="#66c04a"/>
<path d="M617 20l-1 6-1 6-1 6 0 6 0 6 0 6 1 6 1 5 0 6 0 6 1 6 1 6 1 6 1 6 2 6 1 6 2 6 2 5 2 6 2 5 2 6 2 6 3 5 3 5 5 4 5 3 5 2 6 1 6-1 6-2 5-3 4-5 3-5 3-5 1-6 1-6 0-6-1-6-2-5-3-6-3-5-4-5-3-4-4-5-5-4-5-3-5-3-5-3-5-4-4-5" stroke="#66c04a"/>
<path d="M633 128l4 5 4 5 5 3 5 3 5 3 6 2 5 3 6 2 6 1 6 1 6 1 6 0 5-3 5-3 4-4 4-5 3-5 3-5 2-6 2-6 2-5 0-6 1-6 0-6-2-6-2-6-2-5-3-6-3-5-3-5-3-5-2-6-1-6-1-6 0-6 0-6 1-6 1-6 2-5 1-6 2-6 1-6 0-6 0-6-1-6-3-5-4-5-5-3-5-2-6-1" stroke="#fdc41a"/>
<path d="M672 199l-4 5-4 4-6 3-5 2-6 1-6 0-6-1-6-2-5-2-6-3-5-3-4-4-5-4-3-5-4-5-2-5-3-6-1-5-1-6 0-6 0-6 0-6 0-6 0-6-1-6-2-6-2-6-1-6-1-6-1-6 0-6-1-6-1-5-2-6-2-6-1-6-1-6 0-6 1-6 2-5 3-5 5-4 5-3 6-1 6-1 6 0 6 1 6 1 6 1 5 2" stroke="#8cc63e"/>
<path d="M603 75l-5-3-5-2-6-3-5-2-6-2-6-2-6-1-6 1-6 1-5 2-5 3-5 4-3 6-2 5-1 6 1 6 1 6 2 6 2 5 3 6 3 5 3 5 3 5 4 4 5 5 4 4 4 4 4 5 4 4 3 6 2 5 1 6 2 6 1 6 1 6 0 6 0 6 0 6-2 5-4 5-5 3-6 2-6 1-5-1-6-3-4-4-4-5-2-5-2-6 0-6" stroke="#ee2b10"/>
<path d="M544 153l-1-6-1-6 0-6-1-6 0-6 0-6 1-6 1-6 1-6 0-6 1-6 1-6 1-6 0-6-1-6-2-5-2-6-2-5-3-6-5-4-5-3-6-2-6 1-5 2-5 4-4 4-2 6-1 6 1 6 1 6 2 5 2 6 2 6 3 5 3 5 3 5 3 5 4 5 3 5 3 6 3 4 5 4 4 4 5 4 5 3 5 3 6 2 6 2 6 0 6-1" stroke="#66c04a"/>
<path d="M670 107l3-6 3-5 3-5 3-5 3-5 3-5 3-5 3-6 3-5 2-6 1-6 1-5 2-6 2-6 0-6 0-6-1-6-2-6-2-5-4-5-4-4-5-4-5-3-5-2-6-2-6-1-6-1-6-1-6 0-6 0-6 1-6 1-5 3-5 3-6 3-5 3-4 4-5 3-5 4-5 3-4 5-4 4-4 4-4 5-3 5-3 5-4 5-3 5-4 5-5 4" stroke="#f99d2a"/>
<path d="M566 175l3 5 3 5 3 5 3 5 3 6 3 5 2 5 3 6 2 5 2 6 3 5 3 6 3 5 4 4 4 4 5 3 6 2 6 1 6 0 6 0 6 0 6-1 6-1 5-3 5-3 5-4 4-4 4-5 3-5 3-5 3-6 1-5 1-6 0-6-1-6-1-6-2-6-2-5-3-6-3-5-4-5-4-4-3-5-4-5-4-4-3-5-4-5-3-5-3-5-4-5" stroke="#66c04a"/>
<path d="M551 21l-4 4-3 5-3 6-3 5-3 5-3 5-5 4-5 3-6 2-6 1-6 0-6 1-6 1-5 1-6 1-6 2-5 3-5 3-5 4-3 5-3 5-2 6 0 6 1 6 3 5 4 5 4 4 5 3 5 3 6 3 5 2 6 2 6 2 6 1 6 0 6 0 6 0 6-1 5-1 6-2 6-2 5-2 5-4 4-4 4-5 3-5 3-5 3-5 4-5 4-5" stroke="#f76707"/>
<path d="M572 113l5 3 5 3 6 3 5 2 6 1 6 1 6 1 6 0 6 0 6 0 6-1 6-1 5-2 6-3 5-3 5-3 4-4 4-5 2-6 2-5 1-6-1-6-1-6-1-6-2-6-2-5-4-5-4-4-5-4-6-2-6-1-6 1-5 1-6 3-5 3-4 4-5 4-4 5-4 4-3 5-4 5-3 5-4 5-3 5-3 5-3 5-2 6-1 6 0 6 0 6" stroke="#f24f0c"/>
<path d="M642 138l-6 0-6 1-6 0-6 0-6 0-5-1-6-2-6-1-6-2-6-2-5-2-6-2-6-1-5-2-6-2-5-3-6-3-5-2-5-3-5-4-5-4-4-4-3-5-2-6-1-6 0-6 1-6 2-5 3-5 3-5 4-5 4-5 3-5 4-4 3-6 2-5 2-6 1-6 1-6 2-6 2-5 3-5 3-5 4-5 4-4 4-5 4-4 4-5 5-4 5-3" stroke="#f76707"/>
<path d="M590 183l6 2 6 1 6 1 6 1 6 2 5 0 6 1 6 1 6 1 6 0 6 0 6-1 5-3 5-4 4-4 3-5 2-6 1-6 1-6 0-6 0-6 0-6-1-6 0-6-1-6 0-6 0-6 0-6 1-6 1-6 0-6 0-6-1-6-1-5-2-6-3-6-2-5-3-5-3-5-4-5-4-5-4-4-5-4-4-4-5-3-5-3-6-3-5-1-6-1-6 0" stroke="#66c04a"/>
<path d="M665 90l-4 5-4 4-4 4-5 4-5 3-5 3-5 4-5 4-5 3-5 3-5 3-6 2-5 3-5 4-4 4-5 4-4 4-5 4-4 4-5 4-4 3-5 4-5 3-5 3-6 3-5 2-6 3-5 1-6 1-6 0-6 0-6-1-6-1-6-3-5-3-3-5-2-5-1-6 1-6 2-6 3-5 4-5 4-4 4-4 4-5 4-5 3-5 3-5 1-6 2-6" stroke="#f99d2a"/>
<path d="M535 61l-6-2-6-2-6-1-6-1-6 0-6 1-5 2-5 4-5 4-3 5-3 5-2 5-2 6 0 6 0 6 1 6 2 6 2 5 3 5 4 5 5 4 5 3 6 1 6 1 6-1 6-1 6 0 6-1 6 0 6 0 6 0 6 0 6 0 6 1 5 2 5 3 4 5 3 5 3 5 1 6 1 6-1 6 0 6-1 6-1 6-2 6-1 5-2 6-2 6-3 5" stroke="#66c04a"/>
<path d="M637 34l2 5 2 6 1 6 1 6 0 6 0 6-1 6-2 6-1 6-1 6-1 5-2 6-2 6-2 5-3 6-3 5-3 5-4 4-5 4-4 4-5 4-5 3-5 3-5 3-5 3-6 3-5 3-6 1-6 1-6 1-6 1-6 1-6 1-6 0-6 0-5-1-6-3-5-3-3-5-3-6-2-5-2-6-2-5-2-6-2-6-2-6-1-5-1-6-1-6-1-6" stroke="#ee2b10"/>
<path d="M616 41l-2 6-2 5-2 6-3 5-3 5-4 5-4 4-5 4-4 4-5 4-5 3-4 4-4 4-5 5-4 4-5 3-5 4-5 3-5 3-6 2-6 1-6 1-6-1-5-2-5-4-4-5-3-5-2-5-1-6 0-6 0-6 2-6 1-6 2-6 2-5 2-6 1-6 0-6 0-6 0-6-1-6-1-6-1-6-1-6-1-6 0-6-1-6 1-6 1-5 2-6" stroke="#f76707"/>
<path d="M533 52l5-3 5-3 6-3 5-3 5-3 5-3 6-3 5-3 5-3 5-3 5-3 5-4 4-4 4-5 2-5 3-6 1-6 2-6 2-5 2-6 3-5 3-5 4-4 5-4 6-3 5-2 6 0 6-1 6 1 6 1 6 2 5 2 5 3 5 4 4 4 4 5 4 5 2 5 2 6 2 6 2 5 2 6 3 5 2 6 2 6 1 5 1 6 1 6 0 6 0 6" stroke="#66c04a"/>
<path d="M615 95l6 2 6 1 5 2 6 3 5 3 4 4 4 5 3 5 2 6 1 6 0 6-1 5-2 6-1 6-2 6-3 5-3 5-3 5-3 5-4 5-4 5-4 4-5 4-4 4-5 3-5 4-5 3-5 3-6 2-5 3-6 2-5 3-6 2-6 1-5 2-6 0-6 0-6-1-6-1-6-2-6-2-5-2-5-4-5-4-3-4-3-6-3-5-2-6-1-6-1-6" stroke="#fdc41a"/>
<path d="M531 13l-6 1-5 2-6 2-4 4-4 4-4 5-2 6-1 6 0 6 2 6 2 5 4 5 4 4 5 3 6 2 6 2 6 0 6-1 6-1 5-3 5-2 6-3 5-3 5-3 6-3 5-3 5-3 5-3 4-5 4-5 3-5 2-5 3-6 1-5 1-6 1-6 0-6 0-6-1-6-2-6-2-6-3-5-3-5-4-4-5-4-4-4-4-4-5-4-5-4-5-3" stroke="#ee2b10"/>
<path d="M600 126l1 6 1 5 1 6 1 6 1 6 1 6 2 6-1 6 0 6-1 6-2 6-1 5-2 6-1 6-1 6-2 6-3 5-3 5-3 5-4 5-4 4-5 4-5 3-6 1-6 2-6 0-6-1-6 0-6-2-5-2-6-2-5-2-6-3-5-3-4-4-5-4-4-4-4-5-3-5-4-5-3-5-2-6-3-5-3-5-3-5-3-5-3-6-2-5-2-6-2-6" stroke="#f24f0c"/>
<path d="M623 196l3-5 4-5 3-5 4-4 4-5 4-5 4-4 3-5 3-5 3-5 4-5 3-6 2-5 3-5 3-6 2-5 3-5 2-6 2-6 2-5 2-6 3-5 2-6 2-5 2-6 2-6 1-6 1-6 0-6-1-6-2-5-2-6-2-6-4-4-4-5-5-3-5-3-6-2-6-2-5-1-6-1-6 0-6 2-5 3-4 5-3 5-3 5-2 6-2 5-2 6" stroke="#66c04a"/>
<path d="M616 14l0 6-1 6-1 6-2 5-2 6-4 4-4 4-5 4-5 3-5 3-5 4-5 3-5 3-5 4-5 4-4 4-5 4-3 4-4 5-3 6-1 6-1 5 0 6 1 6 2 6 2 5 4 5 4 5 4 4 5 4 4 4 5 3 5 4 4 4 5 4 4 4 5 4 4 4 4 5 4 5 3 4 3 6 2 5 2 6 2 5 2 6 0 6-2 6-3 5-5 4" stroke="#8cc63e"/>
<path d="M633 36l-3-5-4-5-4-4-4-5-4-4-4-4-5-5-3-4-3-6-2-5-2-6-2-6-1-6-2-5-3-6-3-5-3-5-4-4-5-4-5-4-5-3-5-2-6-2-6-1-6-1-6 0-6 0-6 1-6 2-5 2-5 3-5 4-4 5-3 5-2 5-2 6-1 6-2 6-2 5-2 6-2 6-1 5-1 6 1 6 1 6 3 6 4 4 5 4 5 3 4 4" stroke="#f24f0c"/>
<path d="M583 102l-4-5-3-5-4-4-4-4-5-5-5-3-4-4-5-4-4-4-4-5-3-5-3-5-3-6-2-5-1-6 0-6 1-6 3-5 4-5 5-3 5-3 6-1 6-1 6 1 5 2 6 3 4 4 4 5 4 4 2 6 1 6 0 6-2 6-3 5-3 5-5 4-5 3-5 3-6 2-5 1-6 2-6 1-6 0-6 1-6-1-6 0-6-1-6-2-6-1-6 1" stroke="#ee2b10"/>
<path d="M624 111l6 1 6 1 6 2 6 1 5 1 6 1 6 1 6 1 6 1 6 1 6 1 6 1 6-1 6-1 6-1 5-1 6-2 6-2 5-3 5-4 4-4 4-5 2-5 2-6 1-6 0-6-2-6-3-5-3-5-4-4-5-4-5-4-5-3-4-4-5-4-5-3-4-4-5-4-5-4-5-3-5-3-5-3-6-2-5-2-6-2-6-1-6-1-6-1-6-1-6-1" stroke="#66c04a"/>
<path d="M615 198l-5-3-5-3-5-4-5-3-4-4-4-5-4-4-4-4-4-5-4-4-5-5-4-4-4-4-4-5-4-4-4-4-5-4-5-4-4-4-5-3-5-3-5-4-6-2-5-2-6-2-5-3-6-3-5-3-3-5-3-5-2-6-2-6 0-6 1-6 1-5 2-6 3-5 3-5 4-5 4-4 5-4 5-4 5-3 5-3 5-3 6-2 5-3 5-3 5-3 6-3" stroke="#f99d2a"/>
<path d="M579 139l5-5 4-4 3-5 4-5 3-5 2-5 2-6 2-6 2-5 2-6 1-6 2-6 1-6 1-6 2-5 1-6 2-6 1-6 1-6 0-6 0-6 0-6-1-6-1-6-2-5-1-6-2-6-2-6-2-5-2-6-3-5-1-6-3-6-2-5-4-5-3-5-4-4-4-5-4-4-5-4-5-4-5-3-6-2-5-1-6 0-6 1-6 2-5 2-5 4-4 4" stroke="#ee2b10"/>
<path d="M580 88l3-6 3-5 3-5 3-5 3-5 4-5 3-5 4-5 3-5 4-4 4-4 5-5 4-3 5-4 5-3 6-2 6-1 6 0 6 1 6 2 5 3 4 4 4 5 4 5 2 5 2 6 1 6 0 6-1 5-3 6-2 5-4 5-4 5-4 4-4 4-5 3-6 3-5 2-6 2-6 1-6 1-6-1-6-1-5-2-6-1-6-2-6-2-6-1-5-2-6-2" stroke="#ee2b10"/>
<path d="M635 61l6 1 6-1 6 0 6 0 6-1 6-1 6-1 6-1 6-1 6-1 6 0 6 0 6 2 5 2 5 3 5 4 3 5 3 5 2 6 1 6 0 6-1 6-1 6-1 6-1 6 0 6-1 6 0 6-1 6-1 5-2 6-2 6-3 5-4 5-4 4-5 4-5 3-5 2-6 3-6 1-5 2-6 1-6 0-6 1-6 0-6 0-6-1-6-2-6-2-5-1" stroke="#ee2b10"/>
<path d="M647 14l-1 6-1 6-1 6-1 6-1 6-3 5-3 6-3 4-4 5-4 5-4 4-4 4-5 4-4 4-4 5-5 3-5 3-6 2-6 1-6-1-5-2-6-3-4-4-3-5-3-6-2-5-1-6 0-6 0-6 1-6 1-6 2-6 2-6 2-5 2-6 4-5 3-5 3-4 3-6 3-5 2-6 3-5 3-5 3-5 3-5 3-5 4-5 4-5 4-4 6-3" stroke="#ee2b10"/>
<path d="M554 196l-1-6-1-6 0-6 0-5-1-6 0-6-1-6 0-6-1-6-1-6-2-6-2-5-3-6-4-4-4-5-4-4-4-5-4-4-5-4-4-4-5-4-4-4-4-5-4-4-3-5-2-6-2-6-2-5-1-6 0-6 1-6 1-6 2-6 3-5 5-4 5-3 6-2 5-2 6-2 6-1 6-2 6-1 5-2 6-2 6-2 5-3 5-3 5-3 5-3 5-3" stroke="#ee2b10"/>
<path d="M613 176l-4 4-4 5-3 5-2 5-2 6-3 5-2 6-3 5-2 6-4 5-3 5-3 5-4 4-4 5-5 3-6 3-5 2-6 1-6 0-6-2-5-2-6-3-4-4-4-5-4-5-3-5-2-5-2-6-2-5-2-6-1-6 0-6 1-6 2-6 2-5 4-5 4-5 5-3 5-3 5-2 6-2 6-1 6 0 6 0 6 1 6 2 5 2 6 2 5 3 5 3" stroke="#fff200"/>
<path d="M632 29l1-6 1-6-1-6-1-5-2-6-3-6-2-5-4-5-4-4-4-5-4-4-5-4-5-3-6-2-5-1-6 0-6 2-6 2-5 3-4 4-4 5-4 5-3 5-3 5-4 5-3 5-3 5-3 5-3 5-2 6-1 6-2 6-2 5-2 6-2 5-3 6-2 5-2 6-1 6 1 6 1 6 3 5 3 5 4 5 4 4 6 3 5 2 6 2 5 2 6 2" stroke="#fdc41a"/>
<path d="M536 128l6 3 5 2 6 2 6 1 6 1 6 0 6 1 6 1 5 1 6 2 5 3 5 4 4 4 5 4 4 5 3 4 4 5 3 5 3 6 3 5 2 5 2 6 3 5 3 5 5 3 6 2 6-1 6-2 5-3 4-5 4-4 4-5 3-5 3-5 2-6 2-6 1-5 2-6 1-6 1-6 0-6 0-6 0-6 0-6 0-6 0-6 0-6 0-6-1-6 0-6" stroke="#8cc63e"/>
<path d="M557 187l-6 0-6-1-6 0-6-1-6 0-6-1-6-2-5-2-6-3-4-4-5-4-4-5-3-5-2-5-2-6 0-6 0-6 1-6 2-6 2-5 4-5 4-4 5-3 6-3 5-2 6-2 5-2 6-3 5-3 5-4 5-3 4-4 5-4 4-4 6-3 5-2 6-2 5-2 6-1 6-1 6-1 6-1 6-2 6-1 6-1 5-1 6-1 6-2 6-2 6-2" stroke="#fdc41a"/>
<path d="M533 74l-2-5-3-6-2-5-2-6-1-6-2-6-1-6 0-6 0-6 2-5 3-5 4-5 3-5 4-5 3-5 4-5 3-5 4-5 3-5 2-5 3-5 3-6 4-4 4-5 5-4 4-3 6-3 5-2 6-2 6-1 6 0 6 1 6 2 5 3 5 3 5 3 4 5 4 4 3 6 2 5 3 6 2 5 1 6 2 6 2 6 1 5 2 6 1 6 1 6 1 6" stroke="#86d0e6"/>
<path d="M662 99l5 2 6 2 5 3 6 3 5 3 4 4 3 5 3 6 1 5 0 6-1 6-2 6-3 5-4 4-5 4-6 2-5 2-6 1-6-1-6-1-5-4-5-4-3-5-2-5 0-6 0-6 0-6 0-6-1-6 0-6-1-6-1-6-3-5-4-5-5-3-5-3-6-2-6-1-6 0-6 1-6 1-6 0-6 1-6 0-6 0-6 0-6 0-6 0-6 0-6-2" stroke="#ee2b10"/>
<path d="M606 82l-2 5-2 6-3 5-3 6-4 4-4 5-4 4-5 3-5 3-6 2-6 1-6 0-6-1-6-1-5-2-5-3-5-4-3-5-3-6-1-5-1-6 0-6 1-6 1-6 2-6 3-5 3-5 4-5 4-4 5-4 5-3 6-1 6-2 6 0 6 1 5 2 5 4 4 4 3 5 3 5 2 6 1 6 1 6 1 6-1 6 0 6-1 6 0 6-1 6-1 6" stroke="#66c04a"/>
<path d="M573 165l6-1 5-2 6-1 6-1 6-1 6-1 6 0 6-1 6 0 6 1 6 0 6 2 6 1 5 2 6 3 5 3 4 4 5 3 3 5 2 6 0 6-1 6-2 5-4 5-5 3-6 2-6 0-6 0-6-2-5-2-6-2-5-3-5-3-5-4-4-4-4-4-4-5-3-6-2-5-1-6-1-6 1-6 1-6 2-5 3-6 3-5 2-6 2-5 2-6 2-6" stroke="#66c04a"/>
<path d="M748 141l6 1 6 0 6 0 6 0 6 1 6 1 6 2 5 2 6 1 6 1 6 1 6 1 6-1 5-3 5-4 2-6 2-5 0-6-1-6-2-6-4-4-5-4-5-3-6-2-6 0-6 0-6 2-5 2-6 3-4 3-4 4-3 6-2 6 0 6 1 5 2 6 4 5 4 4 5 4 5 3 6 2 6 1 6 1 6 0 6 0 5-2 6-2 5-4 4-4 5-4" stroke="#86d0e6"/>
<path d="M731 129l-6-2-6-1-5-1-6-2-5-3-5-3-5-4-3-5-4-5-2-5-2-6-1-6 0-6-1-6 0-6-1-6 0-6 0-6 1-6 2-5 4-5 4-5 4-4 5-3 5-3 5-4 4-4 5-4 6-2 5-3 6-1 6-1 6 0 6 1 6 1 6 1 5 2 6 2 5 3 5 4 4 4 5 4 4 4 4 4 4 5 4 5 3 4 4 5 3 5 3 6" stroke="#fff200"/>
<path d="M703 68l-2-5-1-6 0-6-1-6 2-6 2-6 4-4 5-3 6-1 6 0 6 2 5 3 4 4 4 5 4 5 3 5 2 5 2 6 1 6 0 6 1 6 0 6 0 6 0 6 0 6 1 6 0 6-1 6-1 6-3 5-3 5-4 5-5 3-5 3-6 3-5 2-5 3-6 2-5 3-6 3-5 2-6 2-5 3-6 2-5 2-6 2-6 2-5 3-5 2-6 3" stroke="#66c04a"/>
<path d="M669 173l6-2 6-2 5-2 6-2 6-2 5-2 6-3 5-2 6-3 5-2 5-3 5-3 6-3 5-3 5-3 5-3 6-2 6-2 6-1 6 0 5 0 6 1 6 0 6-1 6-1 6-2 5-3 5-4 3-5 3-5 1-6-1-6-1-6-3-5-3-6-3-4-4-5-4-5-4-4-4-4-5-4-5-4-4-3-5-4-5-3-5-3-6-3-5-3-5-3-6-2" stroke="#fff200"/>
<path d="M675 117l3-5 3-5 2-6 2-6 2-5 2-6 1-6 2-6 2-5 3-6 2-5 2-6 2-6 1-5 3-6 3-5 5-3 6-2 6-1 6 1 6 1 5 3 5 3 5 4 4 4 3 5 3 5 2 6 2 6 1 6 1 6 1 6 2 5 3 6 3 5 4 4 4 4 5 3 6 2 6 1 6 0 6-1 5-2 5-4 4-5 1-5 1-6-1-6-2-6-4-5" stroke="#2e4cb4"/>
<path d="M710 123l5 4 5 3 4 4 5 3 6 3 5 2 6 2 6 2 6 1 5 1 6 1 6 0 6 0 6 0 6-2 6-1 6-2 5-3 5-3 5-4 4-4 4-5 3-5 3-5 3-5 2-6 2-6 0-6 0-6-2-6-2-5-2-6-4-4-4-4-5-4-6-3-5-2-6-2-6-1-6-1-5-1-6-2-6-1-6-1-6 0-6-1-6-1-6-1-6-2-5-1" stroke="#66c04a"/>
<path d="M727 147l5-2 6-1 6-1 6 0 6 0 6 0 6 0 6 0 6 0 6 0 6-2 6-1 5-3 5-4 5-3 4-5 4-4 4-4 4-5 3-5 3-5 3-6 3-5 4-4 4-5 4-4 3-6 2-5 2-6 1-6 0-6 0-6-1-6-1-6 0-6-2-6-1-5-1-6-3-6-2-5-4-5-4-4-5-4-5-2-6-2-6-2-6 0-6 0-6 0-6 1" stroke="#fff200"/>
<path d="M756 198l-6 1-6 2-6 2-5 1-6 2-6 2-6 1-5 2-6 3-5 3-5 3-5 4-5 3-4 4-4 5-5 4-4 4-5 3-4 4-5 4-6 3-5 2-6 2-5 1-6 1-6-1-6-1-6-2-5-3-5-4-3-5-3-5-3-6-1-6-1-5-2-6-1-6-2-6-3-5-2-6-1-6 0-6 0-6 1-6 2-5 3-6 3-4 5-5 4-4 5-4" stroke="#3a5cc0"/>
<path d="M762 103l6-1 6-1 6-2 6 0 5 0 6 1 6 1 6 1 6 2 6 2 5 2 5 4 5 3 4 4 4 5 4 4 3 6 3 5 1 6 1 6 0 6-1 6 0 6-2 6-2 5-3 6-3 5-4 4-3 5-4 4-5 5-4 4-3 5-4 5-2 5-4 5-4 5-4 4-4 4-5 3-6 3-5 3-5 2-6 2-6 1-6 0-6-2-5-3-5-4-4-4" stroke="#66c04a"/>
<path d="M755 197l-6-2-6-1-6-1-5-2-6-3-5-2-6-3-5-2-5-4-5-3-4-4-4-5-5-4-4-3-6-3-5-2-6-1-6-1-6 0-6 0-6 1-6 2-5 4-3 5-2 5 0 6 0 6 2 6 2 6 3 5 3 5 3 6 3 5 2 5 3 5 3 6 3 5 4 4 5 4 5 3 6 2 5 1 6 1 6 0 6-1 6-1 6-2 6-2 5-2 6-3" stroke="#3050b8"/>
<path d="M783 134l1 6 1 6 1 5 2 6 2 6 3 5 3 5 3 5 3 6 2 5 1 6 1 6 0 6-1 6-2 6-3 5-3 5-5 4-4 3-6 3-6 2-6 0-5-1-6-2-5-3-4-4-4-5-3-5-2-6-1-6 0-6 1-6 2-6 2-5 2-6 3-5 3-5 3-5 3-6 1-6 1-6 0-6 0-6-1-6-1-6-1-5-3-6-4-4-5-3-6-3" stroke="#5bbde6"/>
<path d="M786 62l-4-4-4-4-5-4-4-4-6-3-5-3-6-1-6-1-6 0-6 1-5 2-6 2-5 3-6 2-5 3-5 4-5 3-4 5-3 5-4 5-2 5-3 5-3 5-3 6-2 5-3 6-3 5-2 5-3 6-4 5-4 4-4 4-5 4-5 3-5 2-6 3-5 4-5 3-5 3-4 5-3 5-3 5-1 6-1 6 0 6 3 5 3 5 5 4 5 3 6 1" stroke="#2e4cb4"/>
<path d="M701 170l-5-3-6-3-5-3-6-2-6-1-6-1-6 0-6 0-5 1-6 1-6 0-6-1-6-1-6-2-5-3-5-4-4-4-3-5-3-6-1-6 0-6 0-6 0-6 0-6 1-6 1-5 1-6 1-6 1-6 1-6 2-6 2-6 2-5 3-5 4-5 5-3 6-2 6-1 6 0 5 2 6 2 5 3 5 3 6 3 5 2 6 3 5 2 5 3 6 3 5 2" stroke="#3050b8"/>
<path d="M727 189l-2-6-2-6-3-5-3-5-2-6-3-5-3-5-4-5-3-5-2-6-3-5-4-5-3-5-5-3-5-4-5-3-6-2-6-1-6-1-5-1-6-2-6-2-5-2-5-4-4-4-3-6-2-6 0-5 0-6 2-6 2-6 4-5 4-4 5-3 6-2 6-1 6-1 6-1 6 0 6 0 6 0 5 2 6 2 6 2 5 3 5 3 5 4 5 3 5 3 5 3" stroke="#3a5cc0"/>
<path d="M694 190l-2 5-3 6-4 5-4 4-4 4-5 4-5 3-6 2-6 0-6 0-5-1-6-3-5-3-5-4-4-4-4-5-3-5-2-5-2-6-1-6 0-6 1-6 1-6 0-6 2-6 1-6 2-5 3-6 2-5 1-6 2-6 1-6 1-6 1-6 0-6 0-6 0-6-1-6-1-6-2-5-1-6 0-6 2-6 2-5 4-5 4-5 5-3 5-3 5-3 6-2" stroke="#2e4cb4"/>
<path d="M775 86l-3 6-3 5-2 6-1 6-2 5-2 6-2 6-2 5-3 6-4 4-4 5-5 3-5 3-5 3-6 2-6 1-6 0-6 0-5-2-6-4-4-4-3-5-3-5-2-6-2-5 0-6 0-6 3-6 2-5 4-5 4-4 5-4 4-4 5-4 4-4 5-3 6-3 5-3 6-2 5-2 6-2 6-1 6-1 6-2 5-1 6-1 6-1 6-2 6-2 6 0" stroke="#3050b8"/>
<path d="M789 194l-5-3-5-3-5-4-5-3-5-3-6-2-6-2-5-1-6-1-6-1-6 2-6 2-5 2-6 3-6 1-5 1-6 1-6-1-6-1-6-1-6-2-6-2-5-2-6-2-5-2-5-4-4-4-3-5-2-6 0-6-1-6 1-6 1-6 1-6 2-6 2-5 4-5 4-5 4-4 5-3 5-4 5-3 5-3 5-4 5-3 5-3 6-2 5-2 6-2 6-2" stroke="#86d0e6"/>
<path d="M718 127l-6-1-6-1-6 0-6 0-6 2-6 1-5 2-6 3-4 4-4 5-3 5-3 6-2 5-1 6-2 6-1 6-1 6 0 6 0 6-1 6 1 6 0 6 2 5 1 6 3 6 3 5 4 4 4 4 5 4 6 2 5 2 6 1 6 0 6-1 6-1 6-2 5-3 5-3 6-3 5-3 5-2 6-3 5-3 6-2 5-2 6-2 6-2 5-2 6-2 6-2" stroke="#3050b8"/>
<path d="M687 177l2-5 1-6 2-6 3-5 3-6 3-5 3-5 4-4 5-4 5-3 5-3 5-3 6-2 6-2 6-1 6-1 5-2 6-1 6-2 5-2 6-3 5-2 6-3 5-3 4-4 5-4 4-4 4-5 3-5 2-6 1-6 0-6-2-5-2-6-4-4-4-5-4-5-4-4-5-4-4-4-5-3-5-3-6-3-5-3-5-2-6-3-5-3-6-2-5-3-6-2" stroke="#3050b8"/>
<path d="M774 94l-5 4-4 4-5 4-5 3-5 2-6 2-6 1-6 1-6 1-6 2-5 1-6 2-6 2-5 3-5 4-4 5-3 5-2 5-2 6-2 6-1 5 0 6 0 6 2 6 1 6 2 6 2 5 3 6 3 5 4 5 4 4 5 3 6 1 6 1 6 0 6-2 5-3 5-3 4-5 3-5 2-6 2-5 2-6 3-5 2-6 3-5 3-5 4-5 3-5 4-4" stroke="#fff200"/>
<path d="M789 177l-6-1-6-1-6-2-6-1-6-1-5-1-6-1-6-2-6-2-5-2-6-1-6 0-6 0-6 2-5 3-6 2-5 2-6 3-5 3-5 3-4 5-3 5-2 5-1 6 1 6 2 6 4 4 5 4 5 3 6 1 6 0 6 0 6-1 6-2 6-1 6-2 5-2 6-1 6-1 6-1 6-2 6-1 5-2 6-1 6-1 6 0 6 1 6 0 6 1 6 1" stroke="#3a5cc0"/>
<path d="M725 185l4-4 5-3 5-4 4-4 5-3 5-4 6-2 6-2 5 0 6 0 6 2 5 3 5 4 3 5 4 5 3 5 2 6 2 5 0 6-1 6-1 6-1 6-2 6-2 5-4 5-4 5-5 3-5 3-6 2-6 1-6 0-6 0-5-2-6-3-5-3-4-4-4-5-2-5-3-6-2-5-3-6-2-5-3-5-3-6-4-4-5-4-4-4-4-4-5-4-4-5" stroke="#66c04a"/>
<path d="M669 111l5-1 6-2 6-2 6-1 6-1 6-1 5 0 6-1 6 0 6 0 6 0 6 0 6-1 6 0 6 1 6 1 6 2 5 3 6 2 5 3 6 3 5 3 5 3 5 3 5 3 6 3 5 2 5 3 6 3 5 3 5 3 5 3 4 4 4 5 3 5 2 6 1 6 0 6-2 6-2 5-3 5-4 5-5 4-4 4-5 3-4 4-5 4-5 3-6 3-5 3" stroke="#f99d2a"/>
<path d="M777 83l3 6 2 6 2 5 2 6 1 6 2 5 2 6 2 6 3 5 3 5 4 5 3 5 4 5 3 5 4 4 3 6 2 5 1 6 0 6 0 6-1 6-1 6-3 6-2 5-4 5-3 5-5 4-4 3-6 3-5 2-6 2-6 1-6 2-6 0-6 0-6-1-6-1-5-3-6-2-5-2-6-3-5-2-6-2-5-2-6-1-6-1-6 0-6 0-6 1-6 1" stroke="#f99d2a"/>
<path d="M749 124l-4 4-4 5-3 5-3 5-3 6-2 5-1 6-2 6-1 6-1 6 0 6-1 6-1 6 0 6-1 6 0 6-1 6 0 5 1 6 2 6 3 5 5 4 5 2 6 2 6 1 6-1 6-1 6-1 5-2 5-4 4-4 3-5 3-6 1-6 1-6 1-6-1-6-1-5-2-6-2-6-2-5-3-6-3-5-2-6-2-5-1-6-1-6 0-6 0-6 1-6" stroke="#3050b8"/>
<path d="M705 92l4-5 4-4 4-4 4-4 5-4 4-4 5-4 4-5 4-4 5-4 4-4 4-5 4-4 4-5 4-4 4-4 5-4 5-3 5-3 6-1 6-1 6 0 6 2 5 3 4 4 3 5 2 6 0 6-2 6-1 6-2 5-3 6-3 5-3 5-3 6-3 5-3 5-3 5-3 5-3 5-2 6-2 5-2 6-3 6-3 5-3 5-4 4-5 3-5 4-6 2" stroke="#f99d2a"/>
</g>
<rect x="532.3" y="14.3" width="282.4" height="188" fill="none" stroke="#231f20" stroke-width="3.6" stroke-dasharray="9.5 8.5"/>
<rect x="508" y="239" width="440" height="221.5" fill="none" stroke="#231f20" stroke-width="3" stroke-dasharray="9 6"/>
<text x="722.5" y="267" font-size="19" text-anchor="middle">Chr1</text>
<g fill="none" stroke-width="1.5" stroke-linejoin="round">
<path d="M543 264l6 0 6 4 4 10 4 10 2 16 1 12 1 17-1 19 0 19 0 18-5 16-7 11 0 5-2 4-7 4-4-1-6-5-4-10-5-11-3-18 0-19 1-20 1-22 2-19 4-19 1-17 8-10 3-7 4-1 3 35 4 0 7 3 6 8 6 5 6 9 3 18 2 14 1 16-1 14-2 14 0 11-5 7-3 4-6 4-4-2-5-1-5-2-1-3-5-9-7-5 1-12-1-10-2-15 3-10 0-12 0-9 4-8 3-3 10-3 15-22 2 8 3 4 0 5 0 13 4 14-1 14-1 14-2 16-7 13-3 14-2 16-4 12-7 5-4 2-1 0-6-7-1-5 0-9-4-11-2-17-2-19 1-16 4-17 4-16 4-14 9-18 9-12 7-7-7-18 4 0 1 0 2 6 8 11 5 15 4 21 0 19 2 22 2 16 3 16-4 14-7 9-3 8 1 0-8 0-5 5-3-6-4-12-1-15-6-16-2-21 1-22-2-18-1-17 0-16 4-6 6-9 5-4 2 0 8 31 6-4 1 4 2 10 0 13 8 10 0 12 2 15 4 12 0 15-2 12-7 7-2 8 0 7-8 4-3 2 0-3-1-2-3-12-2-10-7-8 1-10-2-9-3-12 0-16-1-12 7-13 2-5 1-5 6-3 8-27 1 6 5 7 5 11 1 14 0 16 0 19-1 15-1 17-1 17-2 18-4 15-3 6-3 4-1 2 0 4-2-2-5-11-1-6-1-9 2-19 2-23-1-16-1-19 5-15 2-19 4-12 0-6 5-5 3-3 0 8 4 3 5 6 2 9 3 11-1 17 1 22 2 18 3 21-3 22-6 16-3 11-1 9-7 5-5 3-5 0-1-1-5-3-4-10-3-13 0-13-1-15-1-23-2-19 3-21 5-16 4-14 4-11 3-6 3-5-4 15 2 3 4 2 6 3 7 9 3 6-1 9 2 15 2 13-2 12 2 13-4 9 1 9-4 3-2 3 1-1-2-5-1-8-3-3-3-9-1-8 0-12-2-13 0-12-1-12 0-11 1-8 0-10 5-3 5-4 18-8 0 1 3 11 0 9-2 11 0 14 0 18 2 17-5 19-2 16-3 12-4 12-4 8-4 3-7 6 1-1-1 2-5-6-1-12-2-9-1-14-1-14 2-19 5-19 4-14 5-14 7-10 3-5 4-4 6-5-22 11 8-2 4 5 5 8 8 5 8 7 8 7 5 14 3 11 0 12-4 9-1 8-4 6-3 6-6 7-6 0-6-2-3-5-4-6-8-10-7-9-4-8-5-10 0-11 1-12 5-13 3-9 3-7 6-8 8-8 2-14 4 3 6 7 8 7 5 14 9 14 2 10 2 12 4 15 2 15 0 16-1 12 0 10-4 13-6 7-2 2-4-3-4-5-7-4-4-13-6-15-2-12-2-13-6-16-1-15 1-11 1-14 1-11 3-12 3-5 2-4 0 5 6 8 5 3 6 11 1 11 2 13 7 13 1 17 1 13 2 13-2 11 4 9-1 11 1 0-2 0 0-5-3-10-3-8-3-11-4-11-5-12-4-14 1-15-2-14-2-16-1-13 0-9 0-8 1 0 29 33 2 6 0 9 4 8-3 13 1 14 2 16-3 13-1 13-3 11-5 13-2 8-2 7-1 3-4 3-2-4-5-5-4-5-2-8 2-11 3-13 0-17 2-13 1-11 1-13 5-13 3-3 2-6 4-3 3-2-8-11 10 2 9 2 6 7 2 9 1 12 3 14 4 16 3 14 2 14-2 11-4 10-4 10-5 3-8 3-9-2-8-3-6-6-13-8-3-12 0-14-4-11-3-15-2-15-1-13 2-10 6-11 2-11 6-4 11-4-4-2 4 2 5 6 15 13 6 12 6 21 4 14 2 15-2 18 3 18-1 19-5 14-3 10-7 2-8 0-3 0-2 0-2 0-9 0-3-8-7-16-5-16 1-20 2-20-1-18-3-17 3-20 7-11 7-5 5-4 7 0 2 2 5 5 7 4 7 10 8 11 5 12 0 15 3 13 4 11 2 13 1 19-4 9-6 6-9 1-6 2-3-2-9-5-10-7-14-14-3-16-3-12-1-13-4-12-4-12 2-15 2-13 3-8 6-8 10-3 26 7 0 3 6 5 3 7 6 11-5 14 0 14-2 15-2 12 0 15-5 11-2 8-4 5-2 5-2 4-8-1 1-5-3-9-1-6 0-9 5-12-3-14 3-16 5-13 1-13 8-9 3-8 4-5 2-5 2-4-16-21 3 6 5 10 4 12 8 12 6 15 4 16 4 18 1 17 3 16 1 13 3 13-2 8-1 8-6 3-1 2-5-5-5-8-3-14-5-14-4-15 0-14-2-20-3-20-1-18-2-13-4-13 5-7 2-6 5 1 6-5 11 3 5 7 6 8 9 11 3 13 0 16 0 20 7 14 1 13 1 12 3 10-5 8-3 4-5 3-7 2-11-3-5-7-2-5-10-10-5-12-1-17-1-19-4-10-4-11-1-10 3-10 3-8 3-6 7-5 24-9 2 8 3 7-2 12-2 16-2 17-2 18-3 21-4 18-1 15-2 11-3 12-5 9-1 1 1 3-1 1-1-11-4-7 1-13 1-16 1-18 2-18 1-17 0-18 1-17 3-12-3-11 5-9 5-2 2-1-16 30 5 6 7 5 4 6 4 12 8 12 2 17 8 13 6 12 4 15-1 13 4 5-5 7-6 6-7 0-4 2-4-3-5-5-5-9-4-14-4-12 0-16-6-12-5-14 2-17 0-11 0-6 8-5 7-7 4-4 12-21 5 3 3 4 6 10 4 13-2 13 1 13 3 12 4 15-3 14-2 11-3 6-4 1-3 4 3 5-1-2-6-4-3-4-4-4-3-10 0-13-1-11-5-14-3-14 1-13 0-12 1-6 1-4-1-2-2-2" stroke="#2440a8"/>
<path d="M558 251l5 4 5 7 4 11 3 13 1 17 0 17-3 16-1 15-3 17-7 17-3 12-5 9-7 13-3 0-3 1-5-5-7-7-5-12-4-11 1-15 0-17 6-18 1-13 8-16 5-18 4-10 4-9 11-11 3-1-11 27 1 1 8 4 3 10 3 7 5 11 3 15-5 19-1 12 0 14 0 13-4 7 1 8-5 11-5 3-4 5-2 1-3 1 1-7-1-8-5-14-3-13 5-15 0-13-3-12 1-14 7-9 1-8 1-14 5-6-16 16 6-5 5 1 4 4 6 7 6 12 7 5 4 11 5 13 7 12 1 15-3 11-2 13-2 10-4 9-7 5-3 2-6-6-6-5-2-9-7-11-6-6-5-14 0-16-6-15 1-16-1-7 4-12 3-7 6-10-1-50 3 0 5 1 5 9-1 9 6 11 6 14 7 18 4 19 7 20 2 15 5 10 0 10-2 9-3 8-3 3-2 3-7-3-4-8 0-8-3-12-5-14-4-17-9-17-6-16-2-13-4-17 0-10 4-13 2-7 53 11 5 1 4 3-2 9-4 9-3 16-2 16-7 17-3 14-3 13-5 17-4 15-5 7-5 6-2 9-2 2-3-3-3-2 3-11 1-7 6-17 2-20 5-16 3-14 9-14 7-17 8-13 6-8 5-5 7-6-35 15 9 3 9-2 7 10 9 9 3 16 6 16 1 17 10 17-2 11-4 18-7 12-3 12-5 9-12 3-2 0-8-3-9-3-9-6-7-11-5-13-4-12 0-17-5-17-1-17 5-15 7-9 3-8 5-10 7-1 42 0 5 7 4 8 6 4 2 12 1 14-6 8-3 17-4 14-7 17-10 15-9 7-8 1-7 2-8 1-9-4-6-7 1-12-4-8-3-15-1-13 5-13 4-18 3-14 7-15 9-15 9-15 8-6 9 1 10-2-22 8 12 2 1 8 5 7 9 14 7 11 3 14 0 13 4 13-2 12-3 10-6 16-6 11-8 4-5 4-5 4-10-2-5-2-2-5-10-10-4-10-1-11-3-12-4-15 3-11 2-11 4-13 6-9 5-8 5 0-25-37 3 5 7 5 4 9 10 11 7 11 7 15 11 15 13 20 7 17 9 18 7 18 5 16 2 10-1 1-5 2-4-1-7-6-6-10-8-15-7-13-4-17-7-14-10-16-8-17-6-17-4-13-4-11-2-7-1-2 56 19 7 2 2 4 3 8 1 14 0 15-3 17-9 11-4 15-2 15-5 11-4 8-4 7-1 5 2 0-4-2-5-7-2-3 0-9-4-10-2-15 0-17 8-14 5-15 2-14 7-13 3-11 4-10 4-7 4-1-3-9 1 6 3 8 1 14 7 13 1 15 1 15-4 22-3 20-3 17-6 18-7 15-4 10-7 6-9 0-2 0 2-7-1-13-3-14 0-16 1-13 1-16 5-18 3-22 8-20 4-19 6-14 6-5 5-4 6-2 5 7-1 5 4 12 3 12 1 14 2 11 0 17 0 18-3 20-6 17-1 17-5 12-2 6-1 6-3 6-7-2-4-5-1-6-5-13-4-13 0-9 1-17-1-16 3-22 3-13 1-14 4-12 4-10 5-11 7-7-11 1 5 10 2 2 7 16 2 15 5 13 3 14 1 15 2 20 1 12 1 17 0 12-3 9-4 13-6 3 0-2 0-9-7-5-5-11 2-16-6-15-2-14-2-19-2-16 2-14 3-19 2-14 3-8 1-10 2-4 7 14 6 1 6 4 5 3 4 9 0 8 0 8 0 16 1 11-3 8-7 11-3 13-5 4-2 7-3 3-6-5-6-3-4-6-4-5-7-6 2-9-1-6 0-16 1-9 4-8 0-7 2-10 7-9 1-5 7 0 18 19 5 2 5 8 3 9 6 11 2 10-1 8-3 13-2 8-5 9-1 10-2 9-12 9-4 4-8 0-7-2-3-3-8-6-1-8-4-13-1-9 4-16 2-12-1-11 4-9 5-14 3-10 11-5 7-4 11-3-14-24 5 2 7 7 5 8 9 12 3 15 5 18 6 17 4 14-1 17 1 14-2 12-6 10-3 7-10 4-6 2-6 2-3-6 0-8-9-13-5-17-3-14-6-15-2-13 1-15 3-14 0-7 7-12 5-7 12-4-15-19 7 1 7 6 0 11 11 13 12 17 4 17 9 17 6 18 4 11 1 20 6 11-2 13-4 9-6 6-5 2-7-2-5-6-3-13-8-11-11-19-11-18-6-18-2-16-5-11 0-20-2-14 3-8 4-9 3-2 46 28 4 4 2 3 3 10 0 9 3 12-2 13-2 12-4 11-6 8-1 11-5 9-5 0-5 4-5-3-4-4-5-7-5 0-3-9 0-10 0-10 4-15 1-11 3-13 6-11 1-12 3-9 7-7 5-2 5-1-12 28 5 3 3 3 3 6 1 6-1 9 3 12 5 13 2 12 3 13 1 13 0 10-3 9-4 4-5 4-1-1-1-3 0-6 1-2 2-9-2-9 1-11-4-12-1-12-4-10-3-13 1-6 6-10 2-5 6-2 26-18 5 5 6 8 3 6-1 15 2 14-1 11 1 11-8 14-2 12-4 14-7 6-12 8-5 7-11-1-7-4-5-6-9-5-9-11-1-12-2-15-1-13 2-10 3-13 5-13 2-11 10-10 8-6 7-8 6 0-19 5 6 4 6 2 3 9 3 8 3 12 4 15-4 11 5 10-1 14 3 13-2 10 0 11-3 5 1 3-1-1-6-3-3-3-1-13-1-8 2-11-2-13 0-15-2-12 4-14 0-13-2-8-2-9 9-2 1-1 7-34 6 3 8 5 7 13 2 11 2 14 0 12 2 17-1 16-3 14 1 15 1 10-2 7-12 3-4 4-7 0-4-4-10-7-8-8 1-10-2-15 2-9 3-12 3-12 3-14 2-13 4-10 6-6 11-3 7-2" stroke="#3a5cbc"/>
<path d="M898 346l-2-4-2-3-4-1-4 0-4-2 0-4 2-3 4-2 4-2 4 0 4 0 3 2 3 3 3 3 2 3-1 4-3 2-4 0-4 0-4-1-3-3-3-2-4-2 0-4 3-3 4-2 3 0 3 4 0 4 0 4 0 4 0 4-3 3-3 2-2 4-2 3-2 4-3 1-4 0-3-3-1-4 0-4 0-4-2-4-1-4 1-4 2-2 4-1 4 1 4-1 4-1 3-3 2-4-3-2-4 0-2 4 1 4 3 2 4 0 4 2" stroke="#2440a8"/>
<path d="M887 388l-4-2-3-2-3-3 0-4 2-3 4 0 2 3 1 4 1 4 1 4 1 4 2 3 3 3-1 4-2 4-2 3-3 3-3 3-4 0-4-1-2-4-3-3-2-3-1-4-2-3-2-4 1-4 3-3 3-2 3-3 4-1 4-1 4 0 4 1 3 3 3 2 3 3 2 3 1 4 1 4-2 3-3 2-4 1-3-2-1-4 1-4 2-4 1-4 0-3-3-4-3-2-2-3-1-4-3-3-4 0-3 2-2 3-1 4-1 4 0 4" stroke="#4a6cc4"/>
<path d="M857 414l3-1 4 0 4 2 2 3 2 4 1 4-1 4-2 2-4 3-4 0-4-1-4 0-4 1-3 2-4 1-4-1-3-2-3-3-2-3-3-3-3-3 0-4 0-4 0-4 0-4 1-4 2-3 4-2 4 0 4 0 3-1 4 0 4 2 3 2 1 4-2 3-3 2-4 0-4 0-4 0-4 1-3-3 1-4 2-3 4-2 4-1 3 2 3 3 1 4 0 4-1 4-2 3-3 2-4 2-4-2-2-4 1-3 3-4 3-2 4-1" stroke="#2440a8"/>
<path d="M819 414l-3-1-3-3-1-4 0-4 2-3 3-3 4 0 4-1 3-2 4-2 4 0 4 1 4 0 3 2 3 3 2 4 1 3 0 4 0 4 0 4-2 4-3 3-4 0-4 0-4 1-4 0-4 0-3-1-4 0-4-1-4 0-4-2 0-4 3-2 4 0 4 1 2 3-1 4-3 3-3 3-4 0-4-1-3-2-1-4 1-4 1-4 1-4-1-4-2-3-4-1-4 1-3 3-1 3 2 4 3 3 2 3 2 3 1 4 0 4 3 4" stroke="#4a6cc4"/>
<path d="M789 388l-1-3-3-3-3-3-4-1-3-2-1-4-1-4 2-3 2-4 4-2 4 1 4 1 3 2 3 3 2 3 3 3 1 4-2 4-3 2-3 1-4-2-3-3 0-4 2-3 2-3 4-1 4 2 3 2 3 2 4 1 1-4-4-1-4 0-3 2-4-1-4-1-2-3-3-4-3-1-4 1-3 3-1 4 1 4 3 3 3 2 4 1 4-1 3-1 4 0 4 2 4 1 3 1 4 2 3 3 2-4-2-4-4-2-4 1-3 1-4 1" stroke="#2440a8"/>
<path d="M778 346l-4-1-3-3-2-3-2-4-1-3 0-4 1-4 1-4 3-2 4-2 4 0 4 0 3 3 3 3 3 2 2 3 1 4 1 4 0 4-3 3-3 3-4 1-4-1-4 0-4 0-3 1-4 2-3 2-4 1-3 3-3 3-3-2-1-4 0-4 3-3 3-1 4 0 4 0 4-2 4-1 4-1 3-2 1-4 0-4 2-4 4-1 4 1 2 3 3 4 1 3 0 4-2 4-1 3 0 4 0 4 0 4 2 4 0 4-2 4-2 3" stroke="#4a6cc4"/>
<path d="M789 304l-3-2-3-3-4 0-4 1-4 2-2 3 2 4 1 4 1 4 1 4 0 4 2 3 3 3 3 2 4 2 4 0 2-4 0-4-1-4-1-3-1-4-3-3-3-3-3-2-3-3-2-3-4 0-3 3 1 4 3 2 4 0 4 1 4 1 1 4 0 4 3 3 3 2 4-2 2-4 3-2 4-1 4-1 3-1 4-2 1-4 0-4-1-4-2-4-1-4-1-3-1-4-3-3-3-2-4 1-4 2-4 2-1 3-2 4-1 4 0 4" stroke="#2440a8"/>
<path d="M819 278l-1 3-2 4-1 4 1 4 3 2 4-2 0-4-4-2-3 3-1 4-2 3 1 4 1 4 3 2 4 2 4-1 2-4 1-3 0-4-1-4-1-4 1-4 4-2 2-3 2-4 1-4-1-3-4 0-1 3 2 4 4 2 2 3 2 4 0 4-2 3-4 1-4-1-3-2-3-3-4 0-4-1-4-1-4 1-1 4 0 4 4 2 4-1 4-1 4 1 4-1 2-3 2-3 2-4 1-4 0-4 3-3 2-3 2-4 0-4-2-3" stroke="#4a6cc4"/>
<path d="M857 278l1 3 0 4 2 4 1 4 1 4-3 3-4 1-4 0-3-2-3-3-4-2-3-2-2-3-2-4 0-4 0-4 2-4 2-3 2-4 4-1 3 3 1 4-1 4-3 3-3 1-4-2-3-3-2-4-2-3-2-3 0-4 2-4 3-1 4 2 2 3 0 4-3 2-4 1-2-3 1-4 0-4 3-3 3-1 4 1 2 4 1 4 1 3 2 4 2 3 4 2 4-1 3-2 1-4-2-3-4 0-4 2-2 3-3 3-3 2-4 2" stroke="#2440a8"/>
<path d="M887 304l-2-4-3-3-3-3-2-3-2-3-4-1-3 2-3 3 0 4 1 3 3 3 4 0 4-1 4-2 2-3 2-4 4 0 3-3 2-3-2-3-4-2-3-1-4-2-3-2 2-4 4-1 3 3 2 3 3 3 2 4 3 2 3 2 4 1 4 2 2 3 2 4 0 4-3 3-3 2-3 3-3 3-4 0-4 0-4 0-4 0-2 3-3 3-3 3-3 2-4-1-1-4 2-4 3-1 4-2 4-1 2-3 4-2 3-2 3-3 1-4" stroke="#4a6cc4"/>
<path d="M824 262l9 1 8 1 9-2 6 4 8 0 5 9 4 3 10 11 11 4-6 4 8 18 5 1 2 9-3 9-4 9 13 10-8 10 2 7-4 8 0 7-11 6-5 10 3 8-9 5" stroke="#3555b8"/>
<path d="M885 402l1-4-5 11-9 9-8 6-4-4-10 13-6-14-7 10-8 4-8-9-10 7-1-9-7-3-5-10-14-7-3-10 5-8-12-7-6-7-2-8 11-10-8-9 4-10-4-9" stroke="#3555b8"/>
<path d="M869 414l-8 6-5-5-7 17-7-7-6 6-7-4-4-2-7-2-6-9-7 6-4-8-9-4 2-9-10-4-10-5 8-7-12-8 1-10 2-6 1-8-5-8 8-8-3-9 2-5" stroke="#3555b8"/>
<path d="M793 405l-5-3-2-11-3 1-6-9-2-10 3-8-2-9-10-9-6-8 16-10 3-7-2-9-4-7 16-3 1-13 3-4 7-10 7-8 1 2 9 1 7-1 7 0 7-5 7 5" stroke="#3555b8"/>
</g>
<path d="M694 377l10-10v6h6v8h-6v6z" fill="#c8102e"/>
<rect x="510" y="496" width="35" height="14.5" fill="#22389c"/>
<text x="555.6" y="510.3" font-size="20">Chr1</text>
<rect x="510" y="520" width="35" height="14.5" fill="#45b4e8"/>
<text x="555.6" y="534.3" font-size="20">Chr2</text>
<rect x="510" y="543.8" width="35" height="14.5" fill="#8ed6c8"/>
<text x="555.6" y="558.1" font-size="20">Chr3</text>
<rect x="624" y="496" width="35" height="14.5" fill="#66c04a"/>
<text x="670" y="510.3" font-size="20">Chr4</text>
<rect x="624" y="520" width="35" height="14.5" fill="#8cc63e"/>
<text x="670" y="534.3" font-size="20">Chr5</text>
<rect x="624" y="543.8" width="35" height="14.5" fill="#dfe31c"/>
<text x="670" y="558.1" font-size="20">Chr6</text>
<rect x="736" y="496" width="35" height="14.5" fill="#fff200"/>
<text x="782" y="510.3" font-size="20">Chr7</text>
<rect x="736" y="520" width="35" height="14.5" fill="#fdc41a"/>
<text x="782" y="534.3" font-size="20">Chr8</text>
<rect x="736" y="543.8" width="35" height="14.5" fill="#f99d2a"/>
<text x="782" y="558.1" font-size="20">Chr9</text>
<rect x="850" y="496" width="35" height="14.5" fill="#f76707"/>
<text x="896.6" y="510.3" font-size="20">Chr10</text>
<rect x="850" y="520" width="35" height="14.5" fill="#f24f0c"/>
<text x="896.6" y="534.3" font-size="20">Chr11</text>
<rect x="850" y="543.8" width="35" height="14.5" fill="#ee2b10"/>
<text x="896.6" y="558.1" font-size="20">Chr12</text>
<text x="12" y="44" font-size="50" font-weight="bold">a</text>
<path d="M1155 436.7l0.9-2.5 0.9 0.6 0.9-7.6 0.9 16.4 0.9-2.4 0.9-5.4 0.9 4.4 0.9-1.7 0.9-3.1 0.9 6.1 0.9-4.8 0.9 0.1 0.9 7 0.9-3.6 0.9-2 0.9 2.7 0.9-11.9 0.9 10.6 0.9-3.7 0.9 6.8 0.9-2.3 0.9 0.7 0.9 0.5 0.9-5.3 0.9 0.8 0.9 11.3 0.9-14 0.9-0.1 0.9 1 0.9 9.1 0.9-2.5 0.9 3.8 0.9-1.2 0.9-1.8 0.9 0.5 0.9-1.6 0.9 4.1 0.9-7.4 0.9 2.9 0.9 2.7 0.9 13.2 0.9-16.7 0.9-1.1 0.9 2.2 0.9 6 0.9-4.4 0.9 6.1 0.9-12 0.9 11.6 0.9-0.2 0.9-17.5 0.9 14.5 0.9 4.2 0.9-4.1 0.9 3.7 0.9-0.7 0.9-1.8 0.9-1.9 0.9-1.7 0.9 5.6 0.9-3.1 0.9 0.3 0.9 0.4 0.9 2.7 0.9-7 0.9-2.2 0.9-3.9 0.9 13.4 0.9-4.7 0.9 5 0.9-6.2 0.9-3.2 0.9 4.2 0.9-2.6 0.9-4.9 0.9 1 0.9 9.7 0.9-5.9 0.9-0.2 0.9-3.1 0.9-2 0.9 5.6 0.9-4.2 0.9-3 0.9 2 0.9-3.4 0.9 3.7 0.9 3.2 0.9-7.9 0.9 8.2 0.9-8.5 0.9 2.7 0.9-4.2 0.9 1.9 0.9 0.6 0.9-2.3 0.9-1.4 0.9-0.4 0.9-1 0.9-3.3 0.9 4.6 0.9 2.1 0.9 1.5 0.9-1.5 0.9 6.5 0.9-8.6 0.9-3.4 0.9 8.5 0.9-11.5 0.9 7.3 0.9 0.1 0.9-3.1 0.9-9.3 0.9 10.6 0.9-4.4 0.9-3.5 0.9 9.7 0.9-3.8 0.9-3.2 0.9-3.3 0.9 2.3 0.9-0.9 0.9 3 0.9-0.1 0.9-5.9 0.9 0.1 0.9-0.4 0.9-3.5 0.9 2.6 0.9 1.5 0.9 2.6 0.9 2 0.9-8.5 0.9 4.8 0.9-4.3 0.9 9.1 0.9-8.5 0.9 1.6 0.9-6 0.9 0 0.9 3.4 0.9-2.7 0.9 2.3 0.9-7.8 0.9 8 0.9-6.4 0.9 9.5 0.9-8.1 0.9 4.8 0.9-18.8 0.9 14.4 0.9-6.4 0.9 0.2 0.9 0.6 0.9-2.7 0.9 0.9 0.9 0.5 0.9-1.7 0.9-4.2 0.9-6.2 0.9 0.8 0.9-1.7 0.9-11.6 0.9 6.7 0.9-8.1 0.9-4.4 0.9 0.3 0.9-5.4 0.9-6 0.9-8.9 0.9 0.7 0.9-10 0.9-1.6 0.9 4 0.9-5.5 0.9-12.9 0.9 4.5 0.9-8.7 0.9 5.7 0.9-4.7 0.9-10.7 0.9-13.5 0.9 11.2 0.9-4.3 0.9 3.9 0.9-5.8 0.9-6.7 0.9 0.5 0.9-12.8 0.9 6.1 0.9-0.7 0.9-6.8 0.9-5.3 0.9 1.4 0.9 1.9 0.9-10.2 0.9-8.5 0.9 6.4 0.9-16 0.9 6.7 0.9-6.5 0.9 3.4 0.9-9.1 0.9 5.9 0.9-6.2 0.9-10.1 0.9-3.3 0.9 3.9 0.9 3.8 0.9-6.8 0.9-2.6 0.9-3.5 0.9 1.4 0.9-3.8 0.9-2.9 0.9-17.4 0.9 15.8 0.9-1.9 0.9-12.7 0.9 17.9 0.9-15.2 0.9-7.1 0.9-7.9 0.9 7.2 0.9-2.9 0.9-6.9 0.9-17.7 0.9 19.2 0.9-9 0.9-2.1 0.9 11.2 0.9 6.7 0.9-16.9 0.9-6.8 0.9 2.7 0.9-12.6 0.9 7.6 0.9-4.7 0.9-3.5 0.9-2.6 0.9 6.6 0.9-3.2 0.9-1.2 0.9 1.2 0.9-8 0.9-9.7 0.9 12.1 0.9-4.8 0.9 2.7 0.9-4.9 0.9 1.5 0.9-8.8 0.9 0.8 0.9-3.1 0.9-3.8 0.9 10 0.9-5.8 0.9-8.1 0.9-1.9 0.9 0.7 0.9-7.2 0.9 5.3 0.9-8.6 0.9 1.6 0.9-4.4 0.9 0.2 0.9-5.2 0.9-2.6 0.9 0.6 0.9-0.7 0.9-0.2 0.9 6.5 0.9-3 0.9-4.5 0.9-5.8 0.9 2 0.9-7.1 0.9 6.4 0.9-5.1 0.9-9.1 0.9 13.5 0.9-6.9 0.9-13.3 0.9 7.6 0.9 1.2 0.9-5.4 0.9 3.4 0.9 0.6 0.9 5.7 0.9-0.6 0.9 9 0.9-11.4 0.9 6.1 0.9-4 0.9-9 0.9 6.4 0.9-1.6 0.9 5.6 0.9 7.2 0.9 4.4 0.9-2.5 0.9 0.9 0.9-3.8 0.9 10.3 0.9 0.6 0.9-5.9 0.9 3.2 0.9 6.1 0.9 2.2 0.9-2.7 0.9-1.5 0.9 2.3 0.9 0.5 0.9-2.8 0.9-2.8 0.9 0.3 0.9-1.3 0.9 8.8 0.9 7.1 0.9-23.3 0.9 16.2 0.9 1.5 0.9-5 0.9 5 0.9-4.7 0.9 8.9 0.9-6.7 0.9 2.8 0.9 2.4 0.9-4.1 0.9-5.1 0.9 5 0.9 12.4 0.9-10.4 0.9 1.4 0.9-4.9 0.9 4.8 0.9 3.3 0.9 1.3 0.9 4.9 0.9 2.2 0.9 0.8 0.9 1.8 0.9 14.6 0.9-0.6 0.9 8.1 0.9 1.8 0.9 14.6 0.9-6.5 0.9 5.4 0.9-6.2 0.9 4.6 0.9-1.2 0.9 5.6 0.9 0.6 0.9 0.6 0.9-3 0.9 3.4 0.9-3.9 0.9 6 0.9-1 0.9 3.5 0.9-1.3 0.9 3.9 0.9 4.3 0.9-8.6 0.9 9.4 0.9-10.2 0.9 0.2 0.9 8.7 0.9 1.4 0.9 2.6 0.9-7.1 0.9 7 0.9 2 0.9 5.9 0.9-3.6 0.9 4 0.9 3.6 0.9-3.2 0.9-9.7 0.9 16.3 0.9-11.2 0.9 8.5 0.9 7 0.9 6.2 0.9-3.7 0.9 1.2 0.9-0.7 0.9 8.7 0.9 1.1 0.9 7.8 0.9-2.1 0.9-1.7 0.9 4.7 0.9 7.9 0.9-4.3 0.9 12.2 0.9 0.8 0.9-5.3 0.9 14.1 0.9-3.3 0.9-2 0.9 7.7 0.9 9.7 0.9-9 0.9-1.8 0.9 10.1 0.9 3.5 0.9-8.4 0.9 14.6 0.9 2.8 0.9-1.8 0.9 4.5 0.9 0.8 0.9 0.1 0.9 4.1 0.9 8.8 0.9-8.4 0.9-1.6 0.9 12.4 0.9-1.1 0.9 3.3 0.9-1.4 0.9 4.4 0.9 5.6 0.9 12.8 0.9-11.8 0.9 17.5 0.9-11.2 0.9 5.4 0.9 1.3 0.9 2.1 0.9 9.2 0.9-4.1 0.9 9.6 0.9 2 0.9-5.7 0.9 10.7 0.9-3.8 0.9 7.8 0.9-1.4 0.9 0.6 0.9-1 0.9 5.1 0.9 5.4 0.9 1.1 0.9 1.8 0.9 11.9 0.9-2.6 0.9 7.8 0.9-10.5 0.9 5.9 0.9 0 0.9-6.7 0.9 8.5 0.9 2.8 0.9 7.7 0.9-1.9 0.9 0.1 0.9 5.9 0.9 0.3 0.9-0.5 0.9 3.9 0.9-3.2 0.9 7.1 0.9 0.7 0.9-8.5 0.9 3.8 0.9 11.4 0.9-4.5 0.9 12.2 0.9-13.3 0.9 6.7 0.9-4.1 0.9 3.6 0.9 3.1 0.9-5.4 0.9 3.6 0.9 1.9 0.9 0.7 0.9 2.8 0.9 2.5 0.9-0.1 0.9-1.7 0.9 9.1 0.9-6.7 0.9-4.8 0.9-8.1 0.9 14.5 0.9-3.6 0.9-2.8 0.9 7.6 0.9-5 0.9 0.6 0.9 2.5 0.9 3.2 0.9-10.6 0.9 5.4 0.9-3.5 0.9 7.4 0.9-1.5 0.9 1.7 0.9 7.9 0.9-6.6 0.9 5 0.9 0.7 0.9-4.2 0.9 3.9 0.9-3 0.9-0.1 0.9-1.5 0.9 8.1 0.9-4.4 0.9-0.1 0.9-1.7 0.9 11.7 0.9-3.6 0.9-2.9 0.9-1.7 0.9-2.7 0.9 7.4 0.9 0.5 0.9-6 0.9 10.3 0.9 4.7 0.9-5.4 0.9-5.1 0.9 0.7 0.9 2.5 0.9-1 0.9-5.5 0.9 21.7 0.9-13.8 0.9-2.9 0.9 7 0.9-5.4 0.9 2.3 0.9 1.7 0.9 0.4 0.9-3.4 0.9-1.5 0.9 2.7 0.9-3 0.9 1.2 0.9-5.4 0.9 8.3 0.9-4 0.9 2 0.9 2.1 0.9 1.6 0.9 6.3 0.9-6.3 0.9-5.9 0.9 6.1 0.9-2.6 0.9-3.1 0.9 3.1 0.9-0.3 0.9 0.5 0.9-0.7 0.9-4.8 0.9 4.2 0.9 2.3 0.9 4.4 0.9-6 0.9-0.5 0.9 3.4 0.9-0.4 0.9 3.8 0.9-4.1 0.9-2.5 0.9 10.8 0.9-5.4 0.9-7.9 0.9 11.3 0.9-16.3 0.9 4.8 0.9-2.3 0.9 2.4 0.9 7.2 0.9-7.5 0.9-6 0.9 7.9 0.9-1.4 0.9-3.5 0.9-3.2 0.9 9.2 0.9 0.3 0.9-7.6 0.9 3.5 0.9-8.4 0.9-0.6 0.9 4.6 0.9 6.2 0.9-10.1 0.9 0.4 0.9 8.9 0.9-13.8 0.9 9.3 0.9-1 0.9-3.1" fill="none" stroke="#9dd8ca" stroke-width="5.2" stroke-linejoin="round"/>
<path d="M1155 166.5l0.9 2.2 0.9 4.6 0.9-13.9 0.9 9.7 0.9-1.9 0.9-4.4 0.9 5 0.9-0.9 0.9-11.4 0.9 10 0.9 2.3 0.9-5.6 0.9 2.5 0.9-1.3 0.9 4.8 0.9 6.1 0.9-10 0.9-2.1 0.9 2.3 0.9 9.2 0.9-9.2 0.9 7 0.9-1.2 0.9-16.4 0.9 3.7 0.9 7.6 0.9-1.1 0.9 2.8 0.9-0.4 0.9 1.3 0.9-7.9 0.9 2.9 0.9 10.3 0.9-6.5 0.9-0.3 0.9-5.5 0.9-5.4 0.9 7.7 0.9-0.7 0.9-6.2 0.9-7 0.9 11.4 0.9-4.3 0.9 3.4 0.9 0.5 0.9-0.6 0.9 6.3 0.9-4.6 0.9 1 0.9-2.9 0.9-5.3 0.9 6.5 0.9-5.7 0.9 5.8 0.9-8.9 0.9 15.9 0.9-11.9 0.9 2.9 0.9 7.8 0.9-11.3 0.9 0.7 0.9-5.8 0.9-0.9 0.9 5.5 0.9-13.3 0.9 12.8 0.9 2.1 0.9-11 0.9 8.1 0.9 4 0.9-7 0.9-2.6 0.9 6.6 0.9-2.5 0.9 9.8 0.9-13 0.9-5.3 0.9 5.7 0.9-1.8 0.9 5.1 0.9-2.8 0.9-8.4 0.9 1.6 0.9 8.9 0.9-1.3 0.9-6.2 0.9 2.5 0.9 1.6 0.9-0.3 0.9-11.2 0.9 9.6 0.9-1.9 0.9-1.1 0.9 5.4 0.9-14.9 0.9 8.9 0.9 0.4 0.9-6.8 0.9 7.4 0.9-4.7 0.9 6.3 0.9-16.2 0.9 14.7 0.9 2 0.9-4 0.9-5.9 0.9-3.2 0.9 14.1 0.9-8.6 0.9-2.9 0.9 3.3 0.9-1.9 0.9 14.3 0.9-14 0.9-0.4 0.9-3.6 0.9 4.9 0.9-7 0.9-1.6 0.9 12.1 0.9-13.8 0.9-4.5 0.9 13.2 0.9 8.2 0.9-16 0.9-13.3 0.9 19.6 0.9 4.4 0.9-10 0.9 0.4 0.9 3.5 0.9-4.5 0.9 2.6 0.9-2.3 0.9 3.7 0.9-5.1 0.9-3.1 0.9 3.8 0.9-5.3 0.9-10.9 0.9 21.1 0.9-7.3 0.9-0.5 0.9 1.9 0.9-4.7 0.9 0.2 0.9 2.3 0.9-1.2 0.9-6.9 0.9 8.2 0.9-6.9 0.9-2.6 0.9 0.1 0.9 1.6 0.9 8.4 0.9-13 0.9 5.3 0.9-10.7 0.9 8.8 0.9 3.4 0.9-5.6 0.9-2.4 0.9-6.2 0.9 10.7 0.9-0.8 0.9 5.1 0.9 0.8 0.9-13.5 0.9 1.4 0.9-0.4 0.9 0.1 0.9-1.3 0.9 0.2 0.9-8.8 0.9 10.4 0.9-6.9 0.9-3.3 0.9 7.3 0.9 2.3 0.9-4.3 0.9-2.1 0.9-5.5 0.9 16.1 0.9-10.2 0.9-10.7 0.9-0.2 0.9 2 0.9-2.1 0.9-1.2 0.9-4.5 0.9 5.6 0.9-2.9 0.9-18.1 0.9 10.4 0.9-9.1 0.9 10.2 0.9-6 0.9-0.1 0.9-8.7 0.9 12.5 0.9 0.7 0.9-13.8 0.9 6.1 0.9-4.8 0.9 2.6 0.9-5.7 0.9 13.7 0.9-12.8 0.9 2.8 0.9 10.7 0.9-12.7 0.9 1.6 0.9-1.6 0.9 1.7 0.9-4.8 0.9 3 0.9 0.8 0.9-0.7 0.9 1.5 0.9-1.8 0.9 13.8 0.9-14.3 0.9 0.6 0.9-2.6 0.9 0.5 0.9-3.5 0.9 7.7 0.9-18.2 0.9 12.4 0.9 4.8 0.9 0.1 0.9-3.6 0.9-7.2 0.9 10.8 0.9-0.8 0.9-7.4 0.9 9.6 0.9-6.6 0.9-1.9 0.9 5.4 0.9-1.3 0.9 13.4 0.9-19.8 0.9 15.1 0.9-10.7 0.9-4.2 0.9 9.5 0.9-4.4 0.9 3 0.9-3 0.9 1.2 0.9 1.3 0.9-4.4 0.9 6.2 0.9-5.1 0.9-1.8 0.9 4.1 0.9 1.6 0.9-3 0.9 7.7 0.9-4.1 0.9-10.5 0.9 3.2 0.9 4.6 0.9-6.2 0.9 6.1 0.9-0.4 0.9 4.2 0.9-8.1 0.9 1.2 0.9 4.2 0.9-12.3 0.9 24.5 0.9-16.9 0.9-0.1 0.9 17.9 0.9-14.9 0.9-7.8 0.9 10.6 0.9 1 0.9-5.8 0.9 0.7 0.9 3.4 0.9-6.2 0.9-6.8 0.9 1 0.9 15.2 0.9-11.7 0.9 5.1 0.9-2.9 0.9 16.5 0.9-12.1 0.9 2.8 0.9 5.8 0.9-8.2 0.9-4.6 0.9 6.4 0.9 4.9 0.9-9.3 0.9-1.3 0.9 1.9 0.9-1.5 0.9-1 0.9 15.8 0.9-14.1 0.9-1.8 0.9 3 0.9 11.8 0.9-7.6 0.9-5.6 0.9 7.7 0.9 3.2 0.9-13.2 0.9 1.9 0.9 1.1 0.9-5.8 0.9 6 0.9-7.2 0.9 13.5 0.9-6.6 0.9-2.5 0.9-1.2 0.9 13.6 0.9-10.6 0.9-3.7 0.9 0.5 0.9 3.2 0.9-1.5 0.9 6.3 0.9 0.8 0.9 7.1 0.9-10.2 0.9 3.1 0.9-2.5 0.9-3.1 0.9 2.2 0.9 4.8 0.9-17.2 0.9 11.1 0.9 1.6 0.9-0.3 0.9-8.5 0.9 3.5 0.9 3 0.9 1.8 0.9-2.5 0.9-3.9 0.9 13.9 0.9-6.7 0.9-13.5 0.9 2 0.9 11 0.9-1.9 0.9 1.9 0.9-5.4 0.9 5 0.9-8.4 0.9 7.1 0.9-4.8 0.9 5.1 0.9 1.4 0.9-7.8 0.9 2.9 0.9 0.3 0.9 5 0.9-2.2 0.9-8.6 0.9 7.3 0.9 1.2 0.9 6 0.9-16.9 0.9 5 0.9 8.1 0.9-11.9 0.9 0.6 0.9 7.4 0.9 2.2 0.9-7.6 0.9 5.3 0.9-2 0.9 6.1 0.9-6.8 0.9 4.3 0.9-8.2 0.9 3.5 0.9 0.7 0.9 5.7 0.9-2.1 0.9-5.6 0.9 6.6 0.9 0.7 0.9-3.6 0.9-0.3 0.9 0.5 0.9-6.3 0.9 8.6 0.9 0.5 0.9-4.5 0.9 7.4 0.9-9.1 0.9 4 0.9 0.7 0.9 11.3 0.9-15.5 0.9 9.9 0.9 2 0.9-2.1 0.9 3.9 0.9-9.3 0.9-5.3 0.9 13.8 0.9-8.3 0.9 4.2 0.9-3.4 0.9 18 0.9-8.2 0.9-6.7 0.9 7.6 0.9-3.1 0.9-0.8 0.9 1.2 0.9-0.8 0.9 4 0.9-1 0.9-2.5 0.9 6.3 0.9-6.8 0.9 4.5 0.9 1.5 0.9-5.6 0.9 3.3 0.9-1.4 0.9 6.2 0.9-0.8 0.9-1.2 0.9 6.5 0.9-1.5 0.9-4.2 0.9 0.8 0.9 3.4 0.9 0.4 0.9 8.7 0.9 2.2 0.9-1.4 0.9-1.3 0.9-2.6 0.9 3 0.9 4.6 0.9 6.4 0.9-4.5 0.9-4.7 0.9 1.9 0.9-1.7 0.9-0.8 0.9 3.2 0.9 2.2 0.9 7.8 0.9-7.4 0.9 6.4 0.9 2.3 0.9-6.9 0.9 7.3 0.9-3.4 0.9-4.5 0.9 3.6 0.9-0.6 0.9-0.5 0.9 0.6 0.9 2.1 0.9 1.8 0.9-5.3 0.9 4.4 0.9 5.6 0.9-3.4 0.9 2 0.9-1.6 0.9-9.8 0.9 3.2 0.9 16.6 0.9-10 0.9 3.8 0.9-5.4 0.9 5.8 0.9 10 0.9-11.3 0.9 5.3 0.9 1.6 0.9-5.7 0.9-2.6 0.9-1.1 0.9 6.4 0.9 4.6 0.9-3.2 0.9 0 0.9-2 0.9 4.6 0.9-11.4 0.9 11 0.9-0.4 0.9-5.7 0.9 16.2 0.9-22.3 0.9 8.9 0.9-0.1 0.9 10.7 0.9-8.3 0.9 7.4 0.9 0.1 0.9-0.9 0.9-6.5 0.9 15.3 0.9-1.1 0.9-12.6 0.9 2.5 0.9 3.5 0.9 4.7 0.9-1.9 0.9 11.9 0.9-16.8 0.9 9.4 0.9-1.1 0.9-9.1 0.9 14.3 0.9 3.9 0.9-13.1 0.9 4.2 0.9 6.4 0.9-12.2 0.9-1.8 0.9 3.6 0.9 3.7 0.9 0.4 0.9 5.8 0.9-13.6 0.9 6.4 0.9 8.5 0.9-3.4 0.9 7.1 0.9-0.4 0.9-4 0.9 4.5 0.9-8.3 0.9 7.8 0.9-3.4 0.9 5.6 0.9-2.6 0.9-6.6 0.9 5.6 0.9 5.1 0.9-10.1 0.9 2.8 0.9-0.7 0.9-2.9 0.9 11.1 0.9 1.8 0.9-1.9 0.9-2.2 0.9-1.1 0.9 1.6 0.9-4 0.9 7.4 0.9 1 0.9-0.1 0.9-6.1 0.9 3 0.9-0.7 0.9 9 0.9-6.7 0.9-8.8 0.9 17.9 0.9-0.5 0.9-5 0.9 1.3 0.9-3.4 0.9-8.5 0.9 1.1 0.9 2.8 0.9 5.3 0.9 2.3 0.9 2 0.9-4.1 0.9 6 0.9-5.1 0.9-1.4 0.9 7.4 0.9-7.2 0.9-7.5 0.9 7.9 0.9 5.6 0.9-13.5 0.9 12.6 0.9 0.6 0.9-4.3 0.9 0.3 0.9 5 0.9 0.2 0.9 8.5 0.9 4.9 0.9-16.4 0.9 12.2 0.9-1 0.9 5.8" fill="none" stroke="#8b6a50" stroke-width="5.2" stroke-linejoin="round"/>
<path d="M1155 254.4l0.9-16.7 0.9 10.8 0.9-3.6 0.9 0.5 0.9 0.8 0.9-6.5 0.9 6.5 0.9-8.3 0.9 21.2 0.9-16.7 0.9 3.3 0.9 0.3 0.9-1.4 0.9-1.4 0.9 2.4 0.9 3.1 0.9-2.6 0.9 4.4 0.9-12.9 0.9 9.5 0.9 5.5 0.9-3.6 0.9-3.8 0.9-3.5 0.9 7.3 0.9 5 0.9-8 0.9 0.1 0.9 4.5 0.9-6.8 0.9 2.1 0.9 4.3 0.9-1.1 0.9-1.8 0.9 2.1 0.9-12.7 0.9 14 0.9-7.2 0.9-2.6 0.9 7.1 0.9 1.5 0.9-4.1 0.9-9.7 0.9 4.5 0.9 13.4 0.9-1.5 0.9-2.4 0.9-2 0.9 3.3 0.9-4.7 0.9-2.7 0.9 5.5 0.9 0 0.9-2.9 0.9-2 0.9 3.6 0.9-9.9 0.9 11.6 0.9-0.7 0.9-7.7 0.9 6.1 0.9-3.7 0.9 6.2 0.9-10.1 0.9 4.1 0.9 5.9 0.9 1.6 0.9-12 0.9 6 0.9 3 0.9-3.4 0.9 8 0.9-10.1 0.9 5.6 0.9-5.1 0.9 8.9 0.9-5.2 0.9-1.3 0.9-4.8 0.9 12.3 0.9-9.1 0.9 5.7 0.9 1.4 0.9-2.8 0.9-3.6 0.9-0.6 0.9 0 0.9 7.9 0.9-10.3 0.9 3.1 0.9 1 0.9 2 0.9 1.3 0.9-1.8 0.9-12.5 0.9 12.2 0.9 4.4 0.9-1.7 0.9-1.9 0.9-2 0.9 2.3 0.9 3.9 0.9-2 0.9-5.9 0.9 3.4 0.9-0.9 0.9 2.4 0.9-1.2 0.9 8.5 0.9-3.9 0.9 0 0.9-12.8 0.9 6.2 0.9-1 0.9 4.1 0.9-10.2 0.9 12.6 0.9-0.4 0.9-8.6 0.9 1.1 0.9 0.7 0.9 3.1 0.9 2.1 0.9 14 0.9-17 0.9 3.5 0.9-2.2 0.9 5.8 0.9-3.7 0.9 2.3 0.9-8.9 0.9 3.2 0.9-2.3 0.9 8.5 0.9-3.1 0.9-3.5 0.9-0.5 0.9 3.4 0.9-4.3 0.9-0.9 0.9 5.1 0.9 7.2 0.9-9.8 0.9-1.1 0.9-2.3 0.9-0.5 0.9 6.7 0.9 1.2 0.9-3.1 0.9 1.2 0.9-0.8 0.9 7 0.9-12.9 0.9 3.8 0.9 2.1 0.9-3.2 0.9 1.1 0.9-1.3 0.9 1.8 0.9 4.3 0.9-4.6 0.9 0.9 0.9 3.6 0.9 6 0.9-2.8 0.9-13.8 0.9 10.7 0.9-4.9 0.9-4.5 0.9 9.3 0.9 0.9 0.9-5.2 0.9 1.9 0.9 5.2 0.9-13.6 0.9 7.3 0.9 3.4 0.9-4.9 0.9 9.8 0.9-4.1 0.9 4.2 0.9-15.2 0.9 5.9 0.9 2 0.9 2.1 0.9-4.8 0.9 3.5 0.9-1.5 0.9 6 0.9-8.3 0.9 6.2 0.9 0.6 0.9-7.9 0.9 0.9 0.9-1.7 0.9 4.8 0.9 3.2 0.9-3.1 0.9 1.7 0.9 3.6 0.9-4.9 0.9-0.3 0.9-10.4 0.9 3.9 0.9 8.6 0.9-9.2 0.9 8.8 0.9-2.5 0.9 4.2 0.9-4.3 0.9-2.8 0.9 4.3 0.9-3.3 0.9 1.3 0.9 0.9 0.9-0.7 0.9-0.2 0.9-2.3 0.9 9.7 0.9-14.5 0.9 7.2 0.9-3.7 0.9 8.4 0.9 0.5 0.9-11.7 0.9 7.6 0.9-1 0.9 2.4 0.9 0 0.9-3.6 0.9 2.5 0.9-1.8 0.9 0.5 0.9 0.9 0.9-4.9 0.9 6.7 0.9 0.5 0.9-6.9 0.9 1.8 0.9 2.1 0.9-1.8 0.9 8.4 0.9-5.5 0.9-4.5 0.9 0.8 0.9 2.7 0.9 8.5 0.9-8.9 0.9-4.1 0.9-1.7 0.9 6.3 0.9 8.4 0.9-10.2 0.9 4.6 0.9-2.1 0.9 1.7 0.9-6.6 0.9 10.7 0.9-6.8 0.9 0.5 0.9-3.5 0.9 0.8 0.9 4.6 0.9 1.6 0.9-0.9 0.9 1.7 0.9-1.8 0.9-2.5 0.9 2.9 0.9-0.8 0.9-2.6 0.9 3 0.9 2.1 0.9-3.8 0.9-2.2 0.9 3.9 0.9 4.3 0.9-7.7 0.9 0.5 0.9-0.2 0.9 4.9 0.9-11.1 0.9 13.2 0.9-2.2 0.9-7.3 0.9 8.4 0.9-3.5 0.9-3.9 0.9 2.7 0.9-6.3 0.9 3.5 0.9 8.7 0.9-9.8 0.9 9.9 0.9-7 0.9 3.9 0.9-3.4 0.9-8.3 0.9 6 0.9 2.8 0.9-4.9 0.9-0.7 0.9 6.2 0.9-3.7 0.9-3.8 0.9 3.7 0.9 5.6 0.9-4.8 0.9 5.1 0.9 7.2 0.9-10.5 0.9-4.2 0.9-0.6 0.9 4.6 0.9 3.3 0.9-2.2 0.9 1 0.9-3.6 0.9 2.7 0.9-2.8 0.9 0.5 0.9-3.5 0.9-1 0.9 4 0.9-2.3 0.9 0.5 0.9 5.9 0.9-2.8 0.9 11 0.9-7.2 0.9-5.7 0.9 11.5 0.9-7.9 0.9-3.8 0.9 6.5 0.9-6.8 0.9-8.3 0.9 14 0.9-5.1 0.9 7.6 0.9-7.8 0.9-1.9 0.9 9.9 0.9-2.1 0.9-2.8 0.9 4.6 0.9-4.9 0.9-0.7 0.9 0.7 0.9 2.6 0.9-5.9 0.9 5.1 0.9-0.1 0.9 6.4 0.9-9.7 0.9-2.1 0.9 6 0.9-4.1 0.9 2.4 0.9-0.5 0.9 3.7 0.9-6.6 0.9 2.1 0.9-9 0.9 6.1 0.9 8.8 0.9-8.1 0.9 0 0.9-1.9 0.9 6.5 0.9-1.5 0.9-4.9 0.9 6.7 0.9-1.5 0.9 1.8 0.9-5 0.9 8.6 0.9 2.8 0.9-9.5 0.9-1.5 0.9 1 0.9 4 0.9-4.1 0.9 4.9 0.9-1.8 0.9 2.8 0.9 5.8 0.9-10.9 0.9-6.7 0.9 8 0.9 1.8 0.9-2.3 0.9 1.4 0.9-3.7 0.9 0.3 0.9-2 0.9 8.3 0.9-4.3 0.9-2.4 0.9-3 0.9 4.2 0.9 5.8 0.9-3.5 0.9-4.3 0.9 7.8 0.9 8.7 0.9-19 0.9 8 0.9 1.3 0.9-2.2 0.9-5.4 0.9 0.6 0.9 8.2 0.9-4.6 0.9 6.5 0.9-14.7 0.9 10 0.9 1 0.9-4.8 0.9 2.8 0.9 1.1 0.9-0.6 0.9-4.1 0.9 1.5 0.9 4.2 0.9 0.9 0.9-4.2 0.9-0.1 0.9 0.4 0.9 3.1 0.9-7.6 0.9-1 0.9 5.3 0.9-4.5 0.9 1.9 0.9 2.4 0.9 1.5 0.9-5.7 0.9 6.8 0.9-9.3 0.9 8.4 0.9-2.7 0.9-3.9 0.9 6.9 0.9-3.8 0.9-1.4 0.9 1.3 0.9 3.3 0.9-1.9 0.9 0.1 0.9 11.3 0.9-13.8 0.9 0.9 0.9-0.2 0.9 6.1 0.9-0.6 0.9 1.1 0.9-4.8 0.9-0.5 0.9 3.7 0.9-4.5 0.9 4.4 0.9-0.4 0.9-5.1 0.9 2.2 0.9-0.1 0.9 6.7 0.9 3.1 0.9-9.8 0.9 0.5 0.9-8.4 0.9 9.1 0.9-0.8 0.9-3.9 0.9 6.8 0.9-8.6 0.9 4.9 0.9 1.3 0.9-5 0.9 7.6 0.9 0.7 0.9-8.8 0.9-0.1 0.9 7.3 0.9-2.3 0.9-4.3 0.9 3.3 0.9 0.7 0.9-0.1 0.9 3.5 0.9-1.6 0.9 5 0.9-1.4 0.9-2.5 0.9 1.4 0.9 0.9 0.9-2.2 0.9-7 0.9 7.5 0.9-2.8 0.9 5.6 0.9-5.6 0.9 1.6 0.9-0.7 0.9 4.9 0.9-5.5 0.9-1.6 0.9 2.1 0.9-2.7 0.9 2.2 0.9-0.6 0.9 1 0.9 6 0.9-8.5 0.9 1.6 0.9-0.8 0.9 3.1 0.9-6.7 0.9 1.8 0.9 2.4 0.9 2.1 0.9-2.2 0.9-1.6 0.9-6.8 0.9 10.5 0.9 3.3 0.9-4 0.9-0.5 0.9 0.9 0.9-5 0.9 2.3 0.9 0.1 0.9 2.1 0.9-1.2 0.9-4.3 0.9 8.5 0.9 2 0.9-7.1 0.9 2.4 0.9-0.4 0.9 1.8 0.9-8.2 0.9 11.3 0.9-7.6 0.9 6.3 0.9-4.3 0.9-1.7 0.9 0.9 0.9 3.8 0.9-6.4 0.9 1.7 0.9-0.4 0.9 1.2 0.9-1.2 0.9 3.9 0.9-2.2 0.9 4.3 0.9-7.7 0.9 3.2 0.9 6.6 0.9-2.7 0.9-11.7 0.9-4 0.9 8.3 0.9 7.7 0.9-5.6 0.9 0.9 0.9 3 0.9-5.4 0.9 4 0.9 2.1 0.9-1.2 0.9-0.3 0.9-3.6 0.9 4.1 0.9-3.5 0.9 6.3 0.9 4.6 0.9-12 0.9-5.2 0.9 6.4 0.9 2.9 0.9 2.4 0.9 0.1 0.9-6.7 0.9-0.1 0.9 7.5 0.9-8.6 0.9 8 0.9-4.8 0.9 3.6 0.9-0.2 0.9-8.2 0.9 8.6 0.9-6.6 0.9 4.7 0.9-1 0.9 1 0.9 3.4 0.9-5.5 0.9-1.6 0.9 0" fill="none" stroke="#f5a388" stroke-width="5.2" stroke-linejoin="round"/>
<line x1="1334.5" y1="10" x2="1334.5" y2="488" stroke="#000" stroke-width="3.5" stroke-dasharray="13 8"/>
<line x1="1515.4" y1="10" x2="1515.4" y2="488" stroke="#000" stroke-width="3.5" stroke-dasharray="13 8"/>
<line x1="1128.5" y1="7" x2="1128.5" y2="490" stroke="#000" stroke-width="3.2"/>
<line x1="1127" y1="488.5" x2="1723.5" y2="488.5" stroke="#000" stroke-width="3.2"/>
<line x1="1122" y1="10.6" x2="1128.5" y2="10.6" stroke="#000" stroke-width="2.5"/>
<text x="1114" y="20.4" font-size="27.3" text-anchor="end">0.02</text>
<line x1="1122" y1="91.9" x2="1128.5" y2="91.9" stroke="#000" stroke-width="2.5"/>
<text x="1114" y="101.7" font-size="27.3" text-anchor="end">0.01</text>
<line x1="1122" y1="173.3" x2="1128.5" y2="173.3" stroke="#000" stroke-width="2.5"/>
<text x="1114" y="183.1" font-size="27.3" text-anchor="end">0.00</text>
<line x1="1122" y1="254.5" x2="1128.5" y2="254.5" stroke="#000" stroke-width="2.5"/>
<text x="1114" y="264.3" font-size="27.3" text-anchor="end">-0.01</text>
<line x1="1122" y1="335.6" x2="1128.5" y2="335.6" stroke="#000" stroke-width="2.5"/>
<text x="1114" y="345.4" font-size="27.3" text-anchor="end">-0.02</text>
<line x1="1122" y1="417.4" x2="1128.5" y2="417.4" stroke="#000" stroke-width="2.5"/>
<text x="1114" y="427.2" font-size="27.3" text-anchor="end">-0.03</text>
<line x1="1244.6" y1="488.5" x2="1244.6" y2="495" stroke="#000" stroke-width="2.5"/>
<text x="1244.6" y="522" font-size="27.6" text-anchor="middle">-200 Kb</text>
<line x1="1425" y1="488.5" x2="1425" y2="495" stroke="#000" stroke-width="2.5"/>
<text x="1425" y="522" font-size="27.6" text-anchor="middle">TAD Boundaries</text>
<line x1="1606.4" y1="488.5" x2="1606.4" y2="495" stroke="#000" stroke-width="2.5"/>
<text x="1606.4" y="522" font-size="27.6" text-anchor="middle">+200 Kb</text>
<text x="1036.5" y="246.7" font-size="32" text-anchor="middle" transform="rotate(-90 1036.5 246.7)">log2(ChIP/Input)</text>
<line x1="1148" y1="556" x2="1178" y2="556" stroke="#9dd8ca" stroke-width="4.5"/>
<text x="1196" y="566" font-size="27.3">H3K4Me3</text>
<line x1="1338" y1="556" x2="1368" y2="556" stroke="#8b6a50" stroke-width="4.5"/>
<text x="1386" y="566" font-size="27.3">H3K9Me2</text>
<line x1="1526.6" y1="556" x2="1556.6" y2="556" stroke="#f5a388" stroke-width="4.5"/>
<text x="1574.6" y="566" font-size="27.3">H3K27Me3</text>
<text x="988" y="42.7" font-size="48" font-weight="bold">b</text>
<path d="M108.8 867.4l1 0 1-1.8 1-3 1-3 1 2.3 1-3.5 1 0 1 0.2 1-2 1-0.7 1 2.7 1-1.6 1-0.2 1-0.1 1 1.1 1 0.3 1-0.5 1 2.8 1-3.3 1-1.3 1-0.2 1 0.4 1-0.3 1-0.8 1 1.6 1 2.3 1 0.8 1 1.9 1 3.6 1 0.2 1-2.6 1-2.3 1-0.9 1-1.3 1-0.3 1 0.2 1-0.1 1-1.5 1-0.8 1 0.4 1 1.8 1-1.8 1-1.1 1-2 1-0.6 1 0.7 1 1.2 1 0.9 1 1.1 1 0.2 1 0.5 1-2.1 1-1 1-3 1-0.9 1-1.4 1-1.6 1-1.3 1-2 1 1.5 1-1.9 1-1.3 1-2.2 1-2.1 1-1.1 1-2.1 1-0.4 1-2.8 1-0.5 1-4.3 1 1.4 1-2.6 1-1.5 1-0.2 1-4.4 1-2.6 1-1.4 1-2.8 1-4.1 1-1.3 1-3.4 1-0.6 1-4.4 1-5.3 1-5.9 1-7.6 1-3.2 1-3.1 1-1.7 1-7 1-6.8 1-5.9 1-1.3 1-3.6 1-6 1-3.9 1-2.6 1-1.6 1-3.1 1-1.8 1-1.6 1-1.4 1-2.8 1-5.1 1-4.3 1-2.4 1-2.8 1-4.8 1-3.8 1-3.1 1-0.3 1-3.2 1-2.5 1-5 1-0.2 1 1.6 1-0.8 1-3.5 1-3.4 1-1.5 1-1.1 1-2.4 1-0.3 1 0.1 1-0.9 1-0.6 1-2.8 1-1 1-4.4 1-2.3 1-0.9 1 0.3 1-0.8 1-0.7 1-4.1 1-3 1-2.8 1-4.7 1-4.8 1-5 1-1.8 1-1.3 1-0.8 1-0.5 1 0.5 1-0.8 1-2.7 1-1.3 1-0.4 1 2.6 1 4.5 1 3 1 2 1 4.7 1 2 1 3.1 1 0.7 1-1 1-0.9 1-1.1 1 2 1 0.7 1 0.3 1 0.2 1 1.6 1 4 1 3.4 1 6 1 4.1 1 5.8 1 5 1 5.2 1 3.3 1 2.6 1 2.7 1 2.9 1 2.8 1 2 1 0.7 1 1.6 1-1.2 1 1.5 1-0.9 1 1.2 1-0.6 1 0.8 1 1.6 1 0.1 1 4 1 4.2 1 7.3 1 6.5 1 5.1 1 3.5 1 3 1 7.6 1 3.1 1 6.7 1 3.3 1 4.7 1 4.5 1 6.7 1 8.6 1 6.6 1 6.6 1 6.4 1 6.7 1 5.2 1-1.8 1 0.2 1 2.3 1 0.4 1 1.3 1 1 1 3.7 1 3.5 1 0.6 1 0.4 1 0.1 1 1.8 1 1.3 1 0.1 1 2.3 1-2.3 1 6.9 1 1.8 1-1.2 1 1.1 1 3.7 1 4.6 1 2.3 1 1.6 1-0.6 1-0.5 1 0.4 1 2.1 1 2 1 0.5 1 0.4 1-0.1 1-1.5 1-0.5 1 3.1 1-0.7 1 1.5 1 2.3 1 0.2 1 0.1 1-0.5 1 1.4 1 0.7 1-1.1 1 0.4 1 1.3 1 1.5 1-1.1 1-1.1 1 0.8 1 1.3 1-0.9 1 0.6 1-1.3 1 1.1 1-1.6 1 0.1 1 0.7 1 0.4 1 0 1-0.6 1-0.8 1-0.7 1-1.4 1 0.8 1 2.5 1 0.9 1-0.2 1-0.2 1-0.4 1 1.1 1-0.3 1 0.5 1-0.6 1-1.2 1-1 1 1 1 1.4 1 0.4 1-1.2 1-0.8 1-0.2" fill="none" stroke="#e35d48" stroke-width="4.8" stroke-linejoin="round"/>
<line x1="205" y1="623" x2="205" y2="882" stroke="#000" stroke-width="3.2" stroke-dasharray="13 9"/>
<line x1="302" y1="623" x2="302" y2="882" stroke="#000" stroke-width="3.2" stroke-dasharray="13 9"/>
<line x1="95" y1="611" x2="95" y2="884" stroke="#000" stroke-width="3.4"/>
<line x1="93.5" y1="882.6" x2="414.6" y2="882.6" stroke="#000" stroke-width="3.4"/>
<line x1="90" y1="650.2" x2="95" y2="650.2" stroke="#000" stroke-width="2.4"/>
<text x="88" y="657" font-size="18.5" text-anchor="end">0.08</text>
<line x1="90" y1="731.4" x2="95" y2="731.4" stroke="#000" stroke-width="2.4"/>
<text x="88" y="738.2" font-size="18.5" text-anchor="end">0.06</text>
<line x1="90" y1="811.5" x2="95" y2="811.5" stroke="#000" stroke-width="2.4"/>
<text x="88" y="818.3" font-size="18.5" text-anchor="end">0.04</text>
<line x1="157" y1="882.6" x2="157" y2="888" stroke="#000" stroke-width="2.4"/>
<text x="160.5" y="901.7" font-size="18.5" text-anchor="middle">-200 Kb</text>
<line x1="253.4" y1="882.6" x2="253.4" y2="888" stroke="#000" stroke-width="2.4"/>
<text x="267.9" y="901.7" font-size="18.5" text-anchor="middle">TAD Boundaries</text>
<line x1="350" y1="882.6" x2="350" y2="888" stroke="#000" stroke-width="2.4"/>
<text x="376.5" y="901.7" font-size="18.5" text-anchor="middle">+200 Kb</text>
<text x="37" y="745" font-size="18" text-anchor="middle" transform="rotate(-90 37 745)">Gene Density</text>
<text x="129.5" y="641.7" font-size="20">Gene</text>
<text x="12" y="630" font-size="48" font-weight="bold">c</text>
<path d="M483.6 826l0.8 7 0.8-10.1 0.8 8.4 0.8 5.9 0.8-26.5 0.8 12.4 0.8-4.3 0.8 8.1 0.8 7.3 0.8-6.4 0.8 16 0.8-20.7 0.8 6.4 0.8-6.6 0.8 17.5 0.8-5.5 0.8 0.6 0.8-6.4 0.8 4.6 0.8 0.5 0.8 3.8 0.8-11 0.8 2.7 0.8-3 0.8 0.2 0.8 2.2 0.8-2.7 0.8 9.8 0.8-15.1 0.8 15.8 0.8-9.2 0.8 0.7 0.8-5 0.8-1.9 0.8 9.3 0.8 3 0.8 3.1 0.8-3.3 0.8 11.3 0.8-9 0.8-6.2 0.8 19 0.8-15.7 0.8 4.8 0.8 0 0.8-6.6 0.8-10.1 0.8 19.6 0.8-3.9 0.8 7.7 0.8-8.8 0.8 3.4 0.8-10 0.8 4.1 0.8 9.5 0.8-3.6 0.8 0.4 0.8-0.6 0.8-5.6 0.8-0.7 0.8-1.3 0.8 3.7 0.8-9.9 0.8-4.3 0.8 4.1 0.8 8 0.8 9.1 0.8-21.8 0.8-2.4 0.8-1.2 0.8 11.8 0.8 0.8 0.8 4.5 0.8 3.4 0.8-6.6 0.8 16 0.8-24.9 0.8-0.7 0.8 9 0.8 2.6 0.8 0.2 0.8-15.1 0.8 27.7 0.8-13.9 0.8-17.2 0.8 5.9 0.8 7.1 0.8 0.2 0.8-14.2 0.8 16.7 0.8-11.1 0.8 0.7 0.8 2.6 0.8 2.4 0.8-14.8 0.8 15.1 0.8-6.6 0.8 7.8 0.8-11.4 0.8-13 0.8 17.5 0.8 4.5 0.8-19.6 0.8-1 0.8-11.9 0.8 7.4 0.8 2.9 0.8-0.9 0.8-14.3 0.8 1.7 0.8 6.5 0.8-18.3 0.8-6.4 0.8-7 0.8 16.2 0.8-7.1 0.8 1.6 0.8-11.7 0.8-9 0.8 9.7 0.8-3.5 0.8-14.4 0.8-7.9 0.8 8.5 0.8-7.9 0.8 14.1 0.8-24.8 0.8-2.6 0.8 0.9 0.8-11.9 0.8 3.2 0.8 14.6 0.8-13.3 0.8-4.9 0.8-6.1 0.8-2.7 0.8 11.6 0.8 6.1 0.8-16.5 0.8 2.7 0.8-1.5 0.8-10.1 0.8 5.3 0.8-33.6 0.8 6.8 0.8 11.3 0.8-1.9 0.8-23.2 0.8 20.7 0.8 2.3 0.8-6.4 0.8-3.9 0.8 1.4 0.8-5.2 0.8-1.7 0.8 4 0.8-13.9 0.8-8.2 0.8 5.3 0.8-5.4 0.8-4.8 0.8-1.3 0.8 6.6 0.8 0.7 0.8-0.6 0.8-11.9 0.8 17.1 0.8-6.8 0.8 3.3 0.8-2.4 0.8 1.3 0.8 2.7 0.8-0.7 0.8-9.6 0.8 6.7 0.8-4 0.8-9.8 0.8 5.6 0.8 25.4 0.8-19.8 0.8-6.2 0.8 22.5 0.8 3.9 0.8-9.1 0.8 2.9 0.8-4.7 0.8-9 0.8 18.4 0.8-3.4 0.8-6 0.8 6 0.8 0.9 0.8 4.3 0.8-10.1 0.8 2.4 0.8-2.6 0.8 3.7 0.8 6.4 0.8 0.4 0.8-3.4 0.8 6.1 0.8 13.3 0.8-5.7 0.8 13.5 0.8-6.1 0.8 3.3 0.8-1.8 0.8-11.3 0.8 0.7 0.8 0.1 0.8 10.8 0.8-16.4 0.8-4.2 0.8 3.7 0.8 5.1 0.8-16.2 0.8 6.3 0.8 9 0.8-0.4 0.8 14.9 0.8 0 0.8-11.6 0.8-6.5 0.8 5.5 0.8 6.2 0.8 0.7 0.8 28.7 0.8-18.1 0.8-3.2 0.8 18.6 0.8-18.5 0.8 7.5 0.8 12.6 0.8 8.9 0.8-12.2 0.8 3.3 0.8 1.2 0.8 10.2 0.8-17.2 0.8 14.7 0.8 7.2 0.8-1.8 0.8-5 0.8 13.1 0.8 6.4 0.8 3.6 0.8 5.3 0.8-7.2 0.8-11.5 0.8 1.1 0.8 8.3 0.8 11.9 0.8 7.9 0.8-7.4 0.8 12.5 0.8-1.9 0.8-2.4 0.8-2.9 0.8 14.2 0.8-2.9 0.8 23.1 0.8 0.8 0.8 14.9 0.8-0.3 0.8-7.6 0.8 23.5 0.8 6.9 0.8 5 0.8-24.9 0.8 8.6 0.8 15 0.8-15.4 0.8-1.8 0.8-10.5 0.8 28.1 0.8-12.2 0.8-2.3 0.8 3.8 0.8 3.1 0.8 8.6 0.8-2.1 0.8-0.7 0.8-4.6 0.8 0.9 0.8-4.9 0.8-5.4 0.8 23.2 0.8-15.9 0.8 9.7 0.8-8.4 0.8 1.7 0.8 7.7 0.8-5.3 0.8 6.7 0.8-5.3 0.8 3 0.8-2 0.8 3.5 0.8-14 0.8 7.7 0.8-12.6 0.8 9.4 0.8 13.7 0.8-9.1 0.8 4.5 0.8-6.4 0.8 9.6 0.8 5.3 0.8-10.8 0.8 7.5 0.8-6.1 0.8-5.2 0.8-12.4 0.8 15.2 0.8-10.5 0.8-4.1 0.8 22.5 0.8-3.2 0.8-0.4 0.8-3.7 0.8-0.4 0.8 3.2 0.8-1.6 0.8-11.7 0.8 15.7 0.8-20.5 0.8 21.8 0.8-9.6 0.8 9.9 0.8 10.5 0.8-21 0.8 10.8 0.8 0.1 0.8-9.4 0.8 1.3 0.8 4.4 0.8-15 0.8 11.8 0.8 4.3 0.8-3.9 0.8-7.2 0.8 8.1 0.8 12.5 0.8 11.5 0.8-21.6 0.8-4.1 0.8 5.1 0.8-13 0.8 7.5 0.8 1.6 0.8 5.6 0.8 9.7 0.8-30.8 0.8 21.5 0.8-6 0.8 5.9 0.8-8.2 0.8 2.4 0.8 7.2 0.8-30.5 0.8 28.9 0.8-9.7 0.8-13.6 0.8-6.1" fill="none" stroke="#5bbfd6" stroke-width="5" stroke-linejoin="round"/>
<line x1="581" y1="623" x2="581" y2="882" stroke="#000" stroke-width="3.2" stroke-dasharray="13 9"/>
<line x1="677.5" y1="623" x2="677.5" y2="882" stroke="#000" stroke-width="3.2" stroke-dasharray="13 9"/>
<line x1="471" y1="611" x2="471" y2="884" stroke="#000" stroke-width="3.4"/>
<line x1="469.5" y1="882.6" x2="790.5" y2="882.6" stroke="#000" stroke-width="3.4"/>
<line x1="466" y1="677.5" x2="471" y2="677.5" stroke="#000" stroke-width="2.4"/>
<text x="465" y="684.3" font-size="18.5" text-anchor="end">0.036</text>
<line x1="466" y1="747.9" x2="471" y2="747.9" stroke="#000" stroke-width="2.4"/>
<text x="465" y="754.7" font-size="18.5" text-anchor="end">0.032</text>
<line x1="466" y1="817.6" x2="471" y2="817.6" stroke="#000" stroke-width="2.4"/>
<text x="465" y="824.4" font-size="18.5" text-anchor="end">0.028</text>
<line x1="531.9" y1="882.6" x2="531.9" y2="888" stroke="#000" stroke-width="2.4"/>
<text x="535.4" y="901.7" font-size="18.5" text-anchor="middle">-200 Kb</text>
<line x1="629.5" y1="882.6" x2="629.5" y2="888" stroke="#000" stroke-width="2.4"/>
<text x="644" y="901.7" font-size="18.5" text-anchor="middle">TAD Boundaries</text>
<line x1="725.8" y1="882.6" x2="725.8" y2="888" stroke="#000" stroke-width="2.4"/>
<text x="752.3" y="901.7" font-size="18.5" text-anchor="middle">+200 Kb</text>
<text x="413" y="745" font-size="18" text-anchor="middle" transform="rotate(-90 413 745)">LINE Density</text>
<text x="504.8" y="641.7" font-size="20">LINE</text>
<path d="M868.9 839.4l0.7-46.7 0.7 38.5 0.7-8.4 0.7 11.9 0.7-8.8 0.7 13.8 0.7-17.1 0.7 13.4 0.7-8.1 0.7-22.7 0.7 35.3 0.7-8.2 0.7-2.8 0.7 14.3 0.7-25.8 0.7 1.2 0.7-13.6 0.7 33.2 0.7 3.1 0.7 6.4 0.7-21.3 0.7 29.6 0.7-18.9 0.7-11.6 0.7-8.6 0.7-3.3 0.7 21 0.7-26 0.7 34.2 0.7-9.9 0.7-7.9 0.7-5.6 0.7-4.1 0.7 4.4 0.7 13.3 0.7-1.4 0.7-26.8 0.7-10 0.7 34.8 0.7-20.1 0.7-11.4 0.7 18.3 0.7 28.2 0.7-35.2 0.7 40.8 0.7-24.7 0.7-9.2 0.7-8 0.7 27.6 0.7-13.9 0.7 6.2 0.7-7.4 0.7 10.8 0.7-3.6 0.7 1.9 0.7-5.2 0.7 12.1 0.7-19.2 0.7 0.1 0.7-2.6 0.7-1.8 0.7 19.3 0.7-18.4 0.7 12.9 0.7-16.5 0.7 14.7 0.7-31.2 0.7 16.3 0.7-1.3 0.7-1.4 0.7 21.2 0.7-14.3 0.7 1.2 0.7-4.2 0.7 13.5 0.7-6.2 0.7 0.4 0.7-7.9 0.7 6.4 0.7 4 0.7-10.1 0.7-10 0.7 24.9 0.7-24.6 0.7 8 0.7 10.2 0.7-8.7 0.7-10.3 0.7 7.3 0.7 37.8 0.7-34.8 0.7 9.1 0.7-14 0.7 4.9 0.7 8.9 0.7-46.7 0.7 14.6 0.7-2.8 0.7 21.4 0.7 11.3 0.7-28.8 0.7-1.8 0.7 11 0.7-6.7 0.7-1 0.7 27.3 0.7-30.2 0.7-5.3 0.7 7.1 0.7 14.2 0.7-5.5 0.7 20.4 0.7-45.4 0.7 10.7 0.7-1 0.7 1.1 0.7-5.2 0.7 21.9 0.7-17 0.7 6.5 0.7-10.6 0.7 26.4 0.7-26.3 0.7 7.7 0.7-5.2 0.7 11 0.7-24.9 0.7-10.6 0.7 10.9 0.7-19.1 0.7 56.6 0.7-29.7 0.7-9.1 0.7-4.5 0.7-10.5 0.7 9.2 0.7-18.3 0.7-1 0.7-25.2 0.7 9.4 0.7 8 0.7-26.2 0.7 9.9 0.7-7.6 0.7 9.7 0.7-0.7 0.7-10 0.7 12.7 0.7-11.4 0.7-2.7 0.7-6.7 0.7 9.8 0.7-0.6 0.7-13 0.7 7 0.7 28.5 0.7-20.5 0.7-21.1 0.7 36.4 0.7-28.6 0.7-19.7 0.7 20.3 0.7-30.3 0.7 34.9 0.7 6.4 0.7-30.4 0.7 51.5 0.7-22.4 0.7-7.1 0.7 1.7 0.7-23.7 0.7 18.9 0.7 1.3 0.7-12.7 0.7 13.2 0.7 6.5 0.7-0.8 0.7 15.8 0.7-14.8 0.7-3.6 0.7 8.7 0.7-13.8 0.7 7.8 0.7-31.9 0.7 33.2 0.7-7 0.7 2.4 0.7 7.5 0.7-35.2 0.7 36.9 0.7-15 0.7-14.1 0.7 6.3 0.7 17.1 0.7-42.8 0.7 4.5 0.7 2.5 0.7 8.9 0.7 20.1 0.7-27.6 0.7 12.3 0.7-24.9 0.7 52.4 0.7-22.6 0.7-4.1 0.7 2.9 0.7-17.5 0.7 38.1 0.7-56.1 0.7 61.8 0.7-31 0.7 16.9 0.7 10 0.7-12.2 0.7 23.7 0.7-24.2 0.7 26 0.7-63.2 0.7 45.8 0.7-10.6 0.7 6.2 0.7 11.7 0.7-3.6 0.7 8.7 0.7-39.8 0.7 12.9 0.7 18.8 0.7-19.4 0.7 9.5 0.7 18.5 0.7-7.4 0.7-17 0.7 14 0.7 2.3 0.7-5.1 0.7-1.2 0.7 14.9 0.7-27.3 0.7 15.9 0.7-10 0.7 31 0.7-4.1 0.7-5.1 0.7-22.5 0.7 15.5 0.7-3.4 0.7 7.7 0.7-9.4 0.7 0.7 0.7 3.9 0.7-0.9 0.7 11.9 0.7-33.1 0.7 33.8 0.7-11 0.7-3.9 0.7 7.6 0.7-1.9 0.7 9.5 0.7-5.7 0.7-11 0.7-18 0.7 62.5 0.7-20.1 0.7-13.5 0.7-15.3 0.7 59 0.7-63.4 0.7 23.3 0.7-3 0.7 5.2 0.7-10.7 0.7 10.1 0.7 2.2 0.7 2.5 0.7-23.4 0.7 33.5 0.7 3.8 0.7 0.6 0.7-3.5 0.7 15.5 0.7-4.2 0.7 5.1 0.7 0.8 0.7-1.1 0.7 3 0.7-16.4 0.7 10.2 0.7 13 0.7 5.9 0.7-4.3 0.7-0.4 0.7 6.7 0.7 3.8 0.7 8.8 0.7-11 0.7-8.6 0.7 11.3 0.7-21.8 0.7 20.5 0.7-20 0.7 21.9 0.7 6.2 0.7-2.9 0.7-13 0.7 11.7 0.7-16.2 0.7 22 0.7 4.9 0.7-11.8 0.7 17.1 0.7 6.3 0.7-14 0.7 30.4 0.7-21.7 0.7-8.6 0.7 15.2 0.7-25.1 0.7 12.9 0.7-2.9 0.7 20.4 0.7 0.9 0.7-16 0.7-12.9 0.7-4.3 0.7 33.9 0.7 14.4 0.7-8.1 0.7-34.5 0.7 27 0.7-5.8 0.7-20.6 0.7 19.1 0.7 23 0.7-7 0.7-4.8 0.7-5.9 0.7 10 0.7-4.4 0.7 10.8 0.7-17.7 0.7 12 0.7-15.3 0.7 33.2 0.7-20.9 0.7 20.4 0.7-11.8 0.7 8 0.7-35.4 0.7-6 0.7 27.7 0.7-6.2 0.7 11.2 0.7 5.6 0.7-4 0.7 7 0.7-7.8 0.7-6.7 0.7 10 0.7-3.8 0.7 15.9 0.7-18 0.7 2.7 0.7-3.8 0.7 14.1 0.7-15.8 0.7 11.3 0.7-17.9 0.7-2.4 0.7 17.1 0.7 4.5 0.7 7.4 0.7-31.1 0.7 15.7 0.7-14.4 0.7-12.5 0.7 26.8 0.7 11.5 0.7-14.1 0.7 11.1 0.7-8.8 0.7 15.2 0.7 11.2 0.7-18 0.7-22.3 0.7 35.2 0.7-7.4 0.7-7.3 0.7 10.3 0.7-6.2 0.7-9 0.7-4.8 0.7-6.4 0.7 8.6 0.7-10 0.7 31.6 0.7-17 0.7 6 0.7-16.4 0.7 37 0.7-36.4 0.7 10.9 0.7-1.4 0.7-17.7 0.7 17.6 0.7-8.4 0.7-3.9 0.7-29 0.7 33.6 0.7 21.6 0.7-44.1 0.7 20.6 0.7 13.2 0.7-7.8 0.7-9.7 0.7-5.4" fill="none" stroke="#1ba88e" stroke-width="5" stroke-linejoin="round"/>
<line x1="965.7" y1="623" x2="965.7" y2="882" stroke="#000" stroke-width="3.2" stroke-dasharray="13 9"/>
<line x1="1062.5" y1="623" x2="1062.5" y2="882" stroke="#000" stroke-width="3.2" stroke-dasharray="13 9"/>
<line x1="856.1" y1="611" x2="856.1" y2="884" stroke="#000" stroke-width="3.4"/>
<line x1="854.6" y1="882.6" x2="1175.3" y2="882.6" stroke="#000" stroke-width="3.4"/>
<line x1="851.1" y1="688.2" x2="856.1" y2="688.2" stroke="#000" stroke-width="2.4"/>
<text x="850" y="695" font-size="18.5" text-anchor="end">0.0020</text>
<line x1="851.1" y1="791.6" x2="856.1" y2="791.6" stroke="#000" stroke-width="2.4"/>
<text x="850" y="798.4" font-size="18.5" text-anchor="end">0.0015</text>
<line x1="916.6" y1="882.6" x2="916.6" y2="888" stroke="#000" stroke-width="2.4"/>
<text x="920.1" y="901.7" font-size="18.5" text-anchor="middle">-200 Kb</text>
<line x1="1014" y1="882.6" x2="1014" y2="888" stroke="#000" stroke-width="2.4"/>
<text x="1028.5" y="901.7" font-size="18.5" text-anchor="middle">TAD Boundaries</text>
<line x1="1110.3" y1="882.6" x2="1110.3" y2="888" stroke="#000" stroke-width="2.4"/>
<text x="1136.8" y="901.7" font-size="18.5" text-anchor="middle">+200 Kb</text>
<text x="788" y="745" font-size="18" text-anchor="middle" transform="rotate(-90 788 745)">SINE Density</text>
<text x="890" y="641.7" font-size="20">SINE</text>
<path d="M111.4 1150.3l1-1.5 1 0.7 1-1.2 1 0.5 1-1.8 1-0.8 1 0.2 1 0.8 1 0.9 1 0.3 1-1.8 1-1.5 1 0.4 1 1.5 1 2.1 1-0.4 1-1.4 1-0.8 1-0.5 1 0.6 1-1.5 1-0.6 1-0.4 1 0.9 1-0.2 1 0.8 1-1.4 1-0.3 1-1.2 1-0.7 1-1.6 1-0.3 1 0.3 1 0 1-1 1-1.4 1-0.3 1-1.2 1-0.1 1-0.1 1-0.5 1-0.2 1-1.8 1-0.6 1-2 1 0 1-0.4 1 0.1 1-0.7 1 0.2 1 0.4 1-1.3 1-1 1-3 1-0.8 1-2.2 1-0.2 1-1.5 1-1.6 1-1.4 1-1.1 1-1.2 1-1 1-0.3 1-0.9 1-1.8 1-1.9 1-2 1-2.4 1-3.2 1-2.2 1-3 1-2.7 1-3.6 1-2.9 1-2.4 1-3.6 1-4 1-4.5 1-4.5 1-3.4 1-4.3 1-4.1 1-5.9 1-5.1 1-4.7 1-4.7 1-5.6 1-7.1 1-5.7 1-6.5 1-6.5 1-7.5 1-7.2 1-8 1-8.3 1-7.4 1-4.8 1-6.7 1-4.9 1-4.8 1-1.3 1-2.7 1-2.9 1-1.8 1 2 1 4 1 3.7 1 1.8 1 0.7 1 1.1 1 1.5 1 1.9 1 0.9 1 2 1 0.6 1 0.3 1 0.1 1 1.4 1 1 1 0.4 1 1.2 1 2.3 1 1.9 1 1.1 1 0.7 1-0.9 1-0.8 1-0.8 1 0.9 1 0.7 1 0.8 1 0.3 1 0.7 1-1 1 0.5 1 1.5 1 1.3 1 1.1 1-0.1 1 0.4 1 0.5 1 0 1 1.1 1-0.4 1-0.7 1-0.8 1 0.4 1 1.6 1 0.8 1 0.2 1-0.5 1 0.8 1-0.4 1 0.8 1-1.7 1-0.3 1-0.6 1 0.8 1-0.4 1-0.8 1-1.1 1 0.9 1 0.1 1-0.2 1-0.6 1-0.8 1 0.2 1-0.5 1-0.4 1 0.1 1 0 1 0.4 1 0 1-0.9 1-1.8 1-1.7 1-0.5 1 0.1 1-0.1 1-0.4 1-0.9 1-1.3 1-1.9 1-0.1 1-0.9 1-0.9 1-2.2 1-0.9 1 0.7 1 0 1-2.1 1-2.6 1-2 1-0.2 1-1 1-0.9 1 0.5 1 1.1 1 1.5 1 2.4 1 3.1 1 5.3 1 4.6 1 3.5 1 3.5 1 3.6 1 4 1 2.8 1 4.1 1 5.3 1 5.1 1 2.6 1 4.1 1 4.2 1 5.2 1 3.8 1 3.7 1 4.9 1 4.2 1 4.3 1 3.8 1 4 1 3.4 1 3.7 1 3.7 1 3.7 1 3.4 1 4.2 1 4.1 1 4.6 1 4 1 3.5 1 2.7 1 3.5 1 3.2 1 2.3 1 1.8 1 2.6 1 2.8 1 3.1 1 3 1 3.1 1 1.9 1 1.4 1 1.4 1 1.1 1 1.7 1 1.2 1 2 1 2 1 2.3 1 2.1 1 2.4 1 0.7 1 0.3 1 0.5 1 2 1 2 1 0.4 1 0.3 1 0.3 1 2 1 1.9 1-0.1 1-0.2 1-0.7 1 1.8 1 1.1 1 1 1-0.2 1 0.5 1 1.4 1 0.3 1 0 1-0.3 1 0.7 1 0.7 1-0.5 1-0.2 1-1.3 1 0.9 1 1.3 1 0.2 1-0.2 1 0.1 1 1.5 1-0.6 1 0.4 1-0.6 1 2.3 1-0.9 1 0.7 1-0.6 1 0.6 1 1 1 0.5 1 0.1 1-0.3" fill="none" stroke="#9dd8ca" stroke-width="5.3" stroke-linejoin="round"/>
<path d="M111.4 1158.8l1 0.2 1 0.5 1 1.7 1 0 1 1 1 0 1 0.9 1-0.8 1-0.3 1 1.1 1 1.7 1 0.4 1 0.4 1-1.4 1-0.8 1-1.7 1-0.2 1 0.4 1 1.2 1 0.1 1 0.8 1 0 1 0.5 1-0.7 1 1.3 1 0.5 1 0 1-1.6 1 0.9 1 0.1 1 1.2 1-0.3 1-1 1 0 1-1 1 0.7 1-1.1 1 0.4 1 0.7 1 0.5 1-0.7 1 0.4 1 0.6 1 1.4 1-0.2 1 0.2 1 0.1 1-0.1 1-0.4 1-0.7 1 0.1 1 0.1 1-1.1 1-0.3 1 0 1 0 1-0.5 1 0.8 1 0.8 1 0.8 1-0.5 1 0.5 1-0.1 1-0.3 1 0.2 1 0.4 1 0.6 1 1.3 1 0.7 1 1 1-0.3 1 0.5 1-0.4 1-0.4 1 0 1 0 1-0.2 1 0.4 1 0.4 1 1 1-0.5 1-1.5 1 0.8 1 0.5 1 0.5 1-0.3 1-0.5 1 1.4 1-1 1 0.4 1-1.1 1-0.6 1-1.4 1-0.3 1-1.7 1-0.3 1-1.1 1-0.4 1-1.5 1-1.3 1-0.1 1 0.1 1-0.3 1 0.3 1-0.1 1 0.7 1 0.4 1-0.6 1-0.1 1 0.5 1-0.1 1-0.5 1-1.5 1 0.2 1-0.3 1-0.3 1-1.4 1-0.4 1-0.5 1 0.2 1 0.2 1 0.9 1 0.3 1-0.6 1-0.4 1 0.2 1-0.1 1-0.2 1-0.8 1 0.3 1-0.6 1 1 1-0.3 1 0.2 1-0.5 1 0.9 1 0.8 1-0.8 1 0 1-0.6 1 1.2 1-0.1 1-0.4 1-0.6 1-0.7 1 0.6 1 1 1 0.2 1-0.5 1 0.6 1-0.5 1 0.4 1-1.4 1-0.1 1 0.5 1 0.7 1 0.7 1-0.3 1-0.6 1-0.9 1 0.2 1-0.6 1 0.5 1 0.2 1 1.3 1 0.1 1 0.5 1 0.5 1 0.7 1-0.6 1-0.8 1-0.2 1-0.4 1 0.4 1 0.7 1 0.3 1-0.5 1-0.7 1 0 1-0.3 1-0.4 1 1 1 0.4 1 1 1 0.6 1 0 1 0.4 1-1.7 1 0 1 0.2 1 0.7 1-0.4 1-1 1 0.5 1 0.6 1 1.6 1 0.4 1 0.8 1 0 1 0.7 1 0.6 1-0.1 1 0.2 1 0.2 1 0.8 1 0.5 1 0.7 1 0.9 1-0.2 1-0.4 1-0.6 1 0.4 1-0.1 1 0.1 1-0.5 1 0.1 1 0.2 1 1.9 1 0.4 1 0.3 1-1.1 1 0.2 1 0 1 1.1 1 0.1 1 1 1-0.7 1-0.3 1-1.3 1-0.7 1-0.3 1 0.9 1 0.3 1 0.7 1-1.3 1-0.1 1-0.8 1 1.8 1-0.5 1 0.3 1-1.3 1-0.3 1-0.6 1-0.6 1 0.6 1-0.3 1-0.1 1-0.4 1 0 1-0.8 1-1 1-0.2 1 0.1 1 1 1 0.1 1 0.3 1-1.2 1 0.1 1-0.3 1-0.1 1-0.8 1 1.4 1 0.1 1-0.3 1-0.8 1 0.7 1 0.2 1 0 1-1.3 1-0.3 1-1.7 1 1.4 1 0.2 1 2.2 1-0.6 1 0.1 1-2.2 1-1 1-0.6 1 1 1-0.1 1-1.1 1-0.2 1 1 1 0.7 1-0.3 1 0.1 1 1.2 1-1 1-0.5 1-0.9 1 1.5 1 0.1 1-0.1 1-0.4 1 0.4 1-0.1 1-0.7 1-1" fill="none" stroke="#8b6a50" stroke-width="5.3" stroke-linejoin="round"/>
<line x1="211.4" y1="924" x2="211.4" y2="1185" stroke="#000" stroke-width="3.2" stroke-dasharray="13 9"/>
<line x1="311" y1="924" x2="311" y2="1185" stroke="#000" stroke-width="3.2" stroke-dasharray="13 9"/>
<line x1="97.4" y1="923.9" x2="97.4" y2="1187" stroke="#000" stroke-width="3.4"/>
<line x1="95.9" y1="1185.2" x2="428" y2="1185.2" stroke="#000" stroke-width="3.4"/>
<line x1="92.4" y1="983.6" x2="97.4" y2="983.6" stroke="#000" stroke-width="2.4"/>
<text x="90.9" y="990.4" font-size="18.5" text-anchor="end">0.75</text>
<line x1="92.4" y1="1044.6" x2="97.4" y2="1044.6" stroke="#000" stroke-width="2.4"/>
<text x="90.9" y="1051.4" font-size="18.5" text-anchor="end">0.50</text>
<line x1="92.4" y1="1104.3" x2="97.4" y2="1104.3" stroke="#000" stroke-width="2.4"/>
<text x="90.9" y="1111.1" font-size="18.5" text-anchor="end">0.25</text>
<line x1="92.4" y1="1164.5" x2="97.4" y2="1164.5" stroke="#000" stroke-width="2.4"/>
<text x="90.9" y="1171.3" font-size="18.5" text-anchor="end">0.00</text>
<line x1="161" y1="1185.2" x2="161" y2="1190.5" stroke="#000" stroke-width="2.4"/>
<text x="163.2" y="1205" font-size="18.5" text-anchor="middle">-1 Kb</text>
<line x1="261.3" y1="1185.2" x2="261.3" y2="1190.5" stroke="#000" stroke-width="2.4"/>
<text x="273.3" y="1205" font-size="18.5" text-anchor="middle">Region</text>
<line x1="361.3" y1="1185.2" x2="361.3" y2="1190.5" stroke="#000" stroke-width="2.4"/>
<text x="384" y="1205" font-size="18.5" text-anchor="middle">+1 Kb</text>
<text x="48" y="1063.8" font-size="18.5" text-anchor="middle" transform="rotate(-90 48 1063.8)">log2(ChIP/Input)</text>
<text x="137.4" y="951.7" font-size="20">Gene</text>
<text x="9" y="942.4" font-size="48" font-weight="bold">d</text>
<path d="M495 945.7l1-0.7 1-2.4 1-0.4 1-1.8 1 1.6 1-0.3 1 1.5 1-0.6 1-0.7 1-1.4 1-1.2 1 0.3 1-0.5 1-0.5 1-1.9 1-0.4 1-0.3 1 0.6 1 0.2 1-0.1 1-0.5 1 0.2 1-0.7 1 0.5 1 0.8 1 0.4 1 0.5 1 2.1 1 1.6 1 0.6 1-0.5 1 3.5 1 4.2 1 1.1 1 0.9 1 0.3 1 2 1-0.4 1 1.6 1 0.5 1 2.2 1 0.1 1 2.5 1 1.3 1-0.2 1-0.7 1 0.6 1 0.6 1 0.6 1 0.1 1 0.5 1 0.1 1-0.3 1 2.8 1 2.6 1 4.4 1 2.4 1 3.3 1 1.9 1 2.9 1 2.1 1 2 1 2.8 1 3.2 1 4.7 1 1.5 1 1.4 1 0 1-0.1 1 1.9 1 3.7 1 4.5 1 1.5 1 2.5 1 2.7 1 3.9 1 1.9 1 3.3 1 4 1 2.7 1 3.4 1 2.9 1 5.5 1 3 1 4.9 1 3.2 1 5.3 1 2 1 3.6 1 2.8 1 3.2 1 3.2 1 3.5 1 4.5 1 3.7 1 3.4 1 4.4 1 4.8 1 4.5 1 3.3 1 4.2 1 3.5 1 3.8 1 1.8 1 2.5 1 3 1 2.4 1 3.1 1 0.8 1 0.7 1 0.7 1 2.9 1 1.9 1 2.3 1-0.3 1 0.9 1-1 1 0.4 1 1.6 1 1.9 1 0.3 1-0.9 1 0.8 1 0.8 1 1.6 1-0.8 1 1.5 1 0.7 1 1.2 1-0.5 1-1.2 1-0.9 1-0.5 1 0.4 1 0.6 1 0 1-1.9 1-1.4 1-0.3 1 0.6 1-0.9 1 0 1 1.4 1-0.2 1-0.6 1-1 1 0.3 1-0.6 1-1.2 1 0.3 1-0.2 1 0.2 1-1.9 1 0.4 1-0.6 1 0.9 1-0.5 1-0.6 1 0.6 1-0.9 1-0.5 1-2.2 1-0.8 1-0.5 1-0.5 1-0.2 1-1.1 1 0.4 1 0.2 1 1.2 1-1.4 1-0.6 1-0.4 1 1.9 1 0.7 1-1.9 1-1.7 1-0.9 1 1.2 1 0.1 1-0.7 1-1 1-1.4 1-0.7 1-0.3 1-0.4 1 0 1-3.2 1-0.6 1-0.3 1 1.8 1 0.5 1-1.7 1-3 1-4 1-2.9 1-4.5 1-4.4 1-6.2 1-3.2 1-3.7 1-2.5 1-4.2 1-2.6 1-3.6 1-3.1 1-4.8 1-4.4 1-2.7 1-1 1-2.1 1-3.8 1-4.4 1-3.2 1-3 1-4.3 1-2.9 1-1.5 1-1.1 1-2.4 1-4.1 1-3.6 1-3.2 1-3.3 1-3.3 1-4.1 1-2.3 1-3.9 1-2 1-2.6 1-1 1-2.2 1-3 1-3.1 1-3 1-2.1 1-2.6 1-2.2 1-2.3 1-2.1 1-1.6 1-2 1-0.9 1-0.6 1 0.2 1-1.5 1-1.7 1-2.4 1 0.2 1-0.9 1-0.8 1-3.1 1-2.7 1-1.8 1-1.3 1-1.4 1-1.2 1-1.9 1-2 1-1.7 1-0.6 1 0.7 1-0.5 1 0.1 1-1.9 1 1 1-0.2 1 0.2 1-1.4 1 0 1 0.5 1-0.8 1-1 1-0.6 1-1.4 1-1.9 1-1.5 1 1.1 1 1.5 1 0.1 1-0.1 1-0.7 1-0.6 1-1.9 1-1.5 1-0.3 1 1 1 0.6 1-1.2 1-1.8 1 0.4 1 1.7 1 0.8 1 0.6 1 1.8 1 2.5 1 1.4 1 1.6 1 0.9 1 0.8" fill="none" stroke="#9dd8ca" stroke-width="5.3" stroke-linejoin="round"/>
<path d="M495 1129.6l1-2.3 1-1.6 1-0.7 1 0.6 1 0.5 1-1 1 0.9 1-1.7 1 0.7 1-0.2 1 1.4 1-0.6 1 0.6 1-0.5 1-0.4 1-1.5 1-0.7 1 2 1-0.3 1 2.1 1-1.1 1 3.1 1 0.7 1 3.7 1-0.7 1-1.2 1-1.5 1 1.3 1 4.6 1 3.3 1 3.5 1 0 1 1.6 1 1 1 4.3 1 2.5 1 2.3 1 1.7 1 0.3 1 0.1 1-2.7 1 0.5 1 0.7 1 2.2 1-1.1 1-3.1 1-0.6 1 2.6 1 1.5 1-0.3 1-1.5 1-1.4 1-2.5 1 0.5 1 3.3 1 2.2 1 1.1 1 0.1 1 1.7 1 0.4 1 3 1 2.1 1 2.2 1-0.4 1 1 1 0.2 1 1 1-0.7 1 1.1 1 0 1 1.5 1-1.3 1 0 1-1.4 1 2.6 1-0.6 1-0.1 1-4.1 1-1.4 1-2.6 1 0.2 1-1.1 1 1.7 1-1.8 1 0.3 1-3.4 1-1.1 1-4.2 1-2.4 1-3.1 1-2.4 1-1.9 1-3.7 1-2 1-3.1 1-0.5 1-2 1 0.2 1-1.4 1 0 1-1.9 1-0.1 1 0.3 1 2.9 1-2.5 1 0.1 1-1.9 1 3.7 1-0.3 1 0 1 0.5 1 0.2 1 0.1 1-1.3 1 0.6 1 1.7 1-0.5 1 1 1-3.3 1 1.6 1-1 1 3.5 1 0.7 1 1.4 1-0.2 1-0.1 1-2.1 1 0.2 1-1.2 1 3.1 1-0.5 1 1.6 1-1.1 1 0.7 1 0 1 0.8 1-1.4 1 1.1 1-1.6 1 0.8 1-3.9 1 1.1 1 0.8 1 3.3 1 0.1 1-0.6 1-1.8 1-1 1-0.7 1 0.5 1-0.7 1-0.3 1 0.2 1 0.9 1 0.1 1-1.3 1-0.1 1 0 1 1.7 1-0.5 1 0.4 1-2.8 1 1.3 1-2.4 1 0.8 1-2.2 1 0.3 1-0.5 1-0.5 1 0.3 1 0.1 1 1 1 0.5 1 0.8 1-1.1 1-2.3 1 0 1-0.2 1-1.4 1-1 1-0.1 1 2.2 1-0.7 1 0.7 1 0.4 1 1.3 1 0.3 1 1.1 1 0.8 1 1.1 1 2.3 1 0.8 1-0.3 1-0.6 1 1.8 1 3.1 1 0.1 1-0.2 1-1.1 1 1.2 1-1.2 1-0.3 1 0.7 1 2.1 1 2.5 1 0.1 1 0.2 1 0.2 1 1.2 1-1.6 1-0.5 1 0.8 1 3.6 1 0.7 1 1.4 1-2.7 1 2.4 1-1.2 1 3 1-1.6 1-0.1 1 0.1 1 1.3 1 0.4 1 1.4 1-0.1 1 1.5 1-1 1 0.2 1 0.2 1-0.2 1 1.6 1-0.7 1 1.9 1-1.2 1 1.2 1-0.8 1 2 1 1.6 1 0.2 1-0.8 1-1.4 1 0.9 1 0.5 1 1.3 1-0.7 1-2.6 1-1.1 1-0.6 1 1.4 1 0.4 1 1.6 1 0.1 1-0.1 1-1 1 0.5 1-1.3 1 0.8 1-1 1 0.4 1-0.1 1-0.1 1 0.6 1-0.2 1 1.9 1 1.4 1-2 1 0.4 1-0.9 1 3.1 1 0.1 1-0.7 1-1.2 1-1.3 1 2 1 0.2 1 1.4 1-1 1-1.1 1-0.3 1 0.2 1 3.1 1-0.2 1-1.4 1-2.2 1 0.4 1 1.1 1 0.5 1-0.7 1-1.7 1-0.1 1-0.8 1-1.6 1-1.8 1 0.3 1 0.9 1-0.2 1-1.6 1 0.1 1 0.2" fill="none" stroke="#8b6a50" stroke-width="5.3" stroke-linejoin="round"/>
<line x1="595" y1="924" x2="595" y2="1185" stroke="#000" stroke-width="3.2" stroke-dasharray="13 9"/>
<line x1="695" y1="924" x2="695" y2="1185" stroke="#000" stroke-width="3.2" stroke-dasharray="13 9"/>
<line x1="480.9" y1="923.9" x2="480.9" y2="1187" stroke="#000" stroke-width="3.4"/>
<line x1="479.4" y1="1185.2" x2="812.5" y2="1185.2" stroke="#000" stroke-width="3.4"/>
<line x1="475.9" y1="936.6" x2="480.9" y2="936.6" stroke="#000" stroke-width="2.4"/>
<text x="474.4" y="943.4" font-size="18.5" text-anchor="end">0.06</text>
<line x1="475.9" y1="994.7" x2="480.9" y2="994.7" stroke="#000" stroke-width="2.4"/>
<text x="474.4" y="1001.5" font-size="18.5" text-anchor="end">0.04</text>
<line x1="475.9" y1="1053" x2="480.9" y2="1053" stroke="#000" stroke-width="2.4"/>
<text x="474.4" y="1059.8" font-size="18.5" text-anchor="end">0.02</text>
<line x1="475.9" y1="1111.4" x2="480.9" y2="1111.4" stroke="#000" stroke-width="2.4"/>
<text x="474.4" y="1118.2" font-size="18.5" text-anchor="end">0.00</text>
<line x1="475.9" y1="1169.8" x2="480.9" y2="1169.8" stroke="#000" stroke-width="2.4"/>
<text x="474.4" y="1176.6" font-size="18.5" text-anchor="end">-0.02</text>
<line x1="545.1" y1="1185.2" x2="545.1" y2="1190.5" stroke="#000" stroke-width="2.4"/>
<text x="547.3" y="1205" font-size="18.5" text-anchor="middle">-1 Kb</text>
<line x1="645.4" y1="1185.2" x2="645.4" y2="1190.5" stroke="#000" stroke-width="2.4"/>
<text x="657.4" y="1205" font-size="18.5" text-anchor="middle">Region</text>
<line x1="745.4" y1="1185.2" x2="745.4" y2="1190.5" stroke="#000" stroke-width="2.4"/>
<text x="768.1" y="1205" font-size="18.5" text-anchor="middle">+1 Kb</text>
<text x="431.3" y="1063.8" font-size="18.5" text-anchor="middle" transform="rotate(-90 431.3 1063.8)">log2(ChIP/Input)</text>
<text x="512.8" y="951.7" font-size="20">LINE</text>
<path d="M874.4 948.1l1-1.1 1-2.4 1-1 1-0.1 1 0.9 1-1.3 1-0.2 1-0.5 1-0.7 1-2.3 1-1.1 1-0.3 1 0.4 1 0.4 1 1 1-0.2 1-0.7 1-0.8 1 0.5 1 0.5 1 0.3 1 0.6 1 0.2 1 0.5 1-1.3 1-0.6 1-0.2 1 1.5 1 0.5 1 1.5 1 0.4 1 1.4 1 0 1 1.1 1 1.2 1 0.4 1 1.5 1-0.1 1 1.4 1-0.1 1 1.2 1 0.9 1 1.1 1 1.8 1 0.2 1 1 1 0.3 1 2.3 1 1.4 1 0.9 1 0.6 1 0.5 1 0 1 0.1 1 1 1 1 1 1.5 1 0.4 1 0.8 1 0.2 1-0.2 1 0.8 1 0 1 2 1 0.7 1 0.7 1 1.1 1 2 1 2.2 1 1.3 1 2.7 1 2.2 1 1.8 1 2.7 1 2 1 3.3 1 0.8 1 2.3 1 0.2 1 0.9 1 1.4 1 2.3 1 1.5 1 0.5 1-1.9 1-1.2 1-0.7 1 0.1 1-0.8 1-1.5 1-0.5 1-0.8 1-1.7 1-0.9 1-1.5 1 0.5 1-1.1 1 0.3 1-0.7 1 1.2 1 0.2 1 0.9 1-0.7 1 0 1-0.6 1 0.5 1 0.4 1 0.2 1-0.3 1 0.5 1 0.9 1 0.6 1-0.4 1-0.4 1 0.3 1 0 1-0.1 1-0.6 1-0.2 1-0.1 1 0.1 1-1 1-0.3 1-0.9 1 0.5 1 0.5 1-0.6 1-0.8 1-1.3 1-0.5 1 1.8 1-0.3 1 1.9 1-1.7 1 0.8 1-0.7 1-0.4 1-0.7 1-1.1 1-0.3 1 0.2 1-0.3 1-0.6 1 0.4 1 0 1 0.4 1-0.6 1 0 1-0.2 1 0.4 1 0.6 1 0.7 1-0.9 1 0.7 1-0.8 1 0.6 1 0.6 1 1.7 1-0.1 1 0.1 1 1 1 0.6 1 0.4 1-1.1 1-0.7 1 0.3 1 0 1 0.9 1-0.1 1 0.8 1 0.6 1 0.9 1 0.4 1 0.4 1-0.9 1 0.7 1-0.4 1-0.3 1-0.7 1 1.4 1 1.8 1 1.4 1 0.1 1 0.1 1-0.4 1-0.5 1-0.5 1-0.3 1 0.5 1-0.3 1 0.1 1 0.1 1 0.5 1 0.1 1-0.2 1-0.6 1-0.5 1-0.3 1 1.2 1 1.3 1 0.6 1-0.1 1 0 1-1.4 1-0.4 1 0.6 1 3.2 1 1.5 1 1.6 1 0.7 1 0.4 1-1.7 1-2 1-1 1-0.1 1-0.4 1-0.4 1-0.7 1-0.7 1-1 1-1 1-1.9 1-1.7 1-0.9 1 0.7 1 0.1 1-1.1 1-1 1-0.5 1-0.4 1-2 1-0.7 1-0.4 1 0.4 1 0.4 1-1.9 1-1.8 1-0.1 1-0.4 1-1.1 1-2.9 1 0.3 1 0.3 1-0.9 1-1.4 1-0.2 1-1.1 1-2 1-3.1 1-1.8 1-0.4 1-2.1 1-2.8 1-3.5 1-0.7 1-0.7 1-1.4 1-2.1 1-1 1-1.1 1-0.5 1-2.3 1-0.8 1-1.7 1 1.4 1-0.1 1 1 1-0.2 1 0.8 1 0.6 1 0.7 1 0.4 1 2.1 1 0.1 1 1.5 1-0.8 1 0.2 1-1.1 1 1.2 1 0.9 1 2 1 0.3 1 1.1 1 0 1 1.3 1-0.3 1-1 1-2.6 1 0.4 1 0.6 1 1.8 1-1.6 1-0.4 1-1.3 1 1.4 1 0.5 1 1.8 1 0 1 0.7 1-0.6 1 0.3" fill="none" stroke="#9dd8ca" stroke-width="5.3" stroke-linejoin="round"/>
<path d="M874.4 1124.1l1 2.1 1 2.6 1 3 1-0.2 1-0.2 1-0.2 1 1.6 1 1.2 1 0.9 1 0.3 1 0.9 1 0.9 1-0.4 1-0.1 1 0.3 1 0.3 1-0.5 1 0.7 1 0.6 1 1.7 1-0.2 1 1.3 1 0.6 1 1 1-0.7 1-1.3 1 1.3 1 0.9 1 2.6 1-1 1-0.2 1-0.8 1-0.1 1 1.2 1 1.5 1 1.8 1 2.3 1 0 1 0.4 1-1.5 1-0.1 1 0.6 1 0.7 1 1 1 0.4 1 0.5 1 2.1 1-0.2 1 1.3 1-0.3 1 1.7 1-0.6 1-1.3 1 0.5 1 1.1 1 0.4 1-1.5 1-1.4 1-1 1-0.3 1 0.3 1 0.8 1-0.7 1-0.5 1-1.1 1-0.6 1-0.5 1 0.6 1 1.4 1-0.9 1 0 1-0.8 1 0.2 1-1.2 1-0.8 1-0.3 1 0.1 1-1 1-1 1-0.6 1 0.8 1 0.2 1-0.4 1-1.1 1 0.2 1-2.5 1-4.3 1-7.1 1-5.5 1-5.6 1-6 1-6.4 1-5.6 1-5.4 1-5.6 1-6.9 1-6.3 1-5.5 1-5.8 1-3 1-2.7 1 0.5 1-1.9 1 0.2 1-0.9 1 0.4 1-0.8 1 0.5 1-0.7 1-0.5 1-1.2 1-1.1 1-1.4 1-1.3 1 0.3 1 0.3 1 0.5 1 0 1-0.7 1-1.7 1-0.3 1-0.7 1-0.4 1-2.6 1-0.4 1-1.3 1 0.9 1-0.9 1-0.9 1-1.6 1 0.1 1-0.8 1-0.7 1-3 1 0.4 1 0.9 1 0.9 1-0.2 1-1.2 1-0.1 1-0.2 1 0.6 1 0.7 1-1.1 1-1.9 1 0 1 1.9 1 0.7 1-0.8 1-0.4 1 1.2 1 0.3 1-0.1 1-0.5 1 0.5 1 0 1 0.3 1-0.2 1 0 1 1 1 0.7 1 1 1-0.2 1 0.7 1 0.4 1 0 1-1.4 1-0.1 1 1 1 3 1 1.4 1 1.1 1 0.9 1-0.2 1 0.5 1 0 1 1.1 1 0.7 1 0.6 1 0.8 1 1.6 1-0.4 1 1.2 1 1.1 1 1.6 1 0.2 1 0.1 1 1.2 1 1.6 1 0.4 1 1 1 1 1 0 1 0.8 1 0.9 1 1.6 1 0.3 1 1.2 1 1.4 1 3.5 1 4 1 6.2 1 4.3 1 5 1 4.6 1 5.1 1 5.4 1 6 1 5.8 1 4.9 1 4.5 1 5 1 3.3 1 4.9 1 3.8 1 4.2 1 2.2 1 3.1 1 2.3 1 2.2 1 0.2 1 1.1 1 0.1 1 0.9 1 1.1 1 1.2 1 0.4 1 1.1 1 0.8 1 3.2 1 0.7 1 1.6 1-1.3 1 0.4 1-0.5 1-0.6 1-1.7 1-2 1 0.7 1-1.4 1 0.4 1-2.5 1 1.1 1-0.6 1 0.2 1-2.3 1-2.2 1-1.3 1-0.9 1-1.5 1-0.9 1-1.1 1-0.9 1-1.8 1-1.2 1-0.6 1-1.1 1-1.4 1-2.5 1-0.2 1-0.8 1 0.1 1-0.5 1-0.6 1 0.6 1-1.7 1 0.8 1-0.3 1 1.7 1 0.9 1 1.4 1 0 1 0.3 1 0.4 1 1.1 1-1.3 1-1.1 1 0 1-0.3 1 0.8 1-0.7 1 2.1 1-0.6 1 0.3 1-1.6 1-0.8 1-0.4 1-0.3 1 1.1 1 0.4 1 0.5 1-0.7 1-0.5 1-0.8 1-0.6 1-0.9 1-0.4 1-1.1 1-1 1-1.9 1-1" fill="none" stroke="#8b6a50" stroke-width="5.3" stroke-linejoin="round"/>
<line x1="974.3" y1="924" x2="974.3" y2="1185" stroke="#000" stroke-width="3.2" stroke-dasharray="13 9"/>
<line x1="1074.3" y1="924" x2="1074.3" y2="1185" stroke="#000" stroke-width="3.2" stroke-dasharray="13 9"/>
<line x1="860.5" y1="923.9" x2="860.5" y2="1187" stroke="#000" stroke-width="3.4"/>
<line x1="859" y1="1185.2" x2="1190.9" y2="1185.2" stroke="#000" stroke-width="3.4"/>
<line x1="855.5" y1="984.7" x2="860.5" y2="984.7" stroke="#000" stroke-width="2.4"/>
<text x="854" y="991.5" font-size="18.5" text-anchor="end">0.10</text>
<line x1="855.5" y1="1057.4" x2="860.5" y2="1057.4" stroke="#000" stroke-width="2.4"/>
<text x="854" y="1064.2" font-size="18.5" text-anchor="end">0.05</text>
<line x1="855.5" y1="1129.6" x2="860.5" y2="1129.6" stroke="#000" stroke-width="2.4"/>
<text x="854" y="1136.4" font-size="18.5" text-anchor="end">0.00</text>
<line x1="923.8" y1="1185.2" x2="923.8" y2="1190.5" stroke="#000" stroke-width="2.4"/>
<text x="926" y="1205" font-size="18.5" text-anchor="middle">-1 Kb</text>
<line x1="1024.3" y1="1185.2" x2="1024.3" y2="1190.5" stroke="#000" stroke-width="2.4"/>
<text x="1036.3" y="1205" font-size="18.5" text-anchor="middle">Region</text>
<line x1="1124.8" y1="1185.2" x2="1124.8" y2="1190.5" stroke="#000" stroke-width="2.4"/>
<text x="1147.5" y="1205" font-size="18.5" text-anchor="middle">+1 Kb</text>
<text x="810.5" y="1063.8" font-size="18.5" text-anchor="middle" transform="rotate(-90 810.5 1063.8)">log2(ChIP/Input)</text>
<text x="898.8" y="951.7" font-size="20">SINE</text>
<text x="1228" y="986.6" font-size="20" text-anchor="middle" transform="rotate(-90 1228 986.6)">H3K9Me2</text>
<line x1="1221.4" y1="1038.8" x2="1221.4" y2="1055.5" stroke="#8b6a50" stroke-width="4.8"/>
<text x="1228" y="1111.6" font-size="20" text-anchor="middle" transform="rotate(-90 1228 1111.6)">H3K4Me3</text>
<line x1="1221.4" y1="1162.3" x2="1221.4" y2="1180.4" stroke="#9dd8ca" stroke-width="4.8"/>
<path d="M1372.3 648.6l0.8 3.4 0.8 0.7 0.8-15.7 0.8 12.6 0.8-6.6 0.8 15.6 0.8-14.7 0.8 8.5 0.8-16.8 0.8 24 0.8-3.9 0.8-14.4 0.8 11.7 0.8-0.8 0.8-17.7 0.8 20.9 0.8-9.1 0.8 3.9 0.8-2.1 0.8 2.5 0.8-7.8 0.8 0.6 0.8 0.5 0.8 11.9 0.8-8.1 0.8 10.6 0.8-0.2 0.8 11.2 0.8-1.3 0.8-9.8 0.8 8.1 0.8-8.6 0.8 21.9 0.8-5.5 0.8-7.1 0.8 6.4 0.8-2.5 0.8 10.8 0.8-29.2 0.8-0.4 0.8 17.1 0.8 7.8 0.8 4.1 0.8-12.3 0.8-5.1 0.8 0 0.8 5.3 0.8 13.9 0.8-1 0.8-12 0.8 7.6 0.8-7 0.8 5.7 0.8-9.7 0.8 9.1 0.8-5.9 0.8 5.9 0.8-5.1 0.8-1.5 0.8 8 0.8-3.9 0.8 3.1 0.8-3.8 0.8 8.8 0.8-12.1 0.8 13.4 0.8 4.8 0.8-13.6 0.8 17.1 0.8 14.6 0.8-24 0.8-14.4 0.8-1.3 0.8 13.1 0.8 17.4 0.8-0.8 0.8-6 0.8-7.7 0.8-3.4 0.8 10.4 0.8-11.7 0.8 8.6 0.8 6.9 0.8-12.1 0.8 14 0.8-7.4 0.8 9.8 0.8-0.8 0.8-16.6 0.8 6.1 0.8 3.5 0.8 12.6 0.8-2.1 0.8 0.7 0.8-0.1 0.8 18.1 0.8-9.8 0.8-11.8 0.8-8 0.8 20.1 0.8-6.6 0.8 3 0.8 7.4 0.8-15.5 0.8-2.5 0.8 29.9 0.8 3.4 0.8-9.9 0.8-5.3 0.8 1.4 0.8-3.9 0.8 6.9 0.8-1.3 0.8 1.6 0.8-2.1 0.8 26.6 0.8-27.7 0.8 23.8 0.8 3.4 0.8-13.3 0.8 10.2 0.8-13.6 0.8-16.7 0.8-8.7 0.8-4.4 0.8-3.9 0.8-2.5 0.8-6.8 0.8-5.6 0.8-3.7 0.8-4.6 0.8-6.7 0.8-3.8 0.8-3.4 0.8-4.8 0.8-3.1 0.8 0 0.8 1.7 0.8 0.5 0.8-3.1 0.8 3.7 0.8-4.7 0.8-2.2 0.8 0.3 0.8 3 0.8-6.5 0.8 4.2 0.8-1.4 0.8-2.1 0.8-2.6 0.8 2.1 0.8-2.5 0.8-4.2 0.8 6.4 0.8-3 0.8 0 0.8-0.8 0.8-0.8 0.8 0.5 0.8 1 0.8-0.8 0.8 0.7 0.8-0.2 0.8-0.1 0.8 0.3 0.8-1.5 0.8-2.6 0.8 2.5 0.8-4.7 0.8 1.3 0.8 1.5 0.8-3.6 0.8 5.1 0.8-4.5 0.8-1 0.8 1 0.8-0.3 0.8 1.1 0.8-0.5 0.8 1.8 0.8-2.3 0.8 0.3 0.8-2.2 0.8 2.3 0.8-2.3 0.8-1.9 0.8 5.6 0.8-3.9 0.8 1.6 0.8-2.9 0.8 4.5 0.8-3.6 0.8-0.4 0.8 2 0.8 4.5 0.8-3.6 0.8 0.6 0.8-1.4 0.8 4.9 0.8-3.5 0.8 0.2 0.8 0.5 0.8-1.8 0.8 1.7 0.8 0.4 0.8 2.3 0.8-2.7 0.8 0.1 0.8 2.3 0.8-3.9 0.8 4.5 0.8 0.3 0.8-3.8 0.8 2.6 0.8-1.3 0.8 1.8 0.8-1.3 0.8-1 0.8 3.4 0.8-0.6 0.8 1.4 0.8 2.1 0.8 1.2 0.8-0.2 0.8-1.1 0.8 2.8 0.8-0.9 0.8 3.1 0.8-1.4 0.8 3.5 0.8-0.8 0.8-0.1 0.8 1.3 0.8-2.5 0.8 6.7 0.8 2 0.8 0.7 0.8 3.7 0.8 4.1 0.8 2.8 0.8 2 0.8 4.2 0.8 5.2 0.8-0.9 0.8 13.1 0.8 14.1 0.8 14.6 0.8 16.9 0.8-0.8 0.8-18.7 0.8 23.4 0.8 6.3 0.8-12.8 0.8 8.7 0.8-4.4 0.8-13.7 0.8 10.3 0.8-4.7 0.8 5.7 0.8-30.5 0.8 29.7 0.8-1.8 0.8-15.2 0.8 15.9 0.8-11.4 0.8 1.8 0.8 4.6 0.8 2.5 0.8-11.7 0.8 2.7 0.8-3.7 0.8-11.6 0.8 18.4 0.8-9 0.8-6.9 0.8-5.3 0.8 5.3 0.8-11 0.8 11.6 0.8-9.6 0.8 3 0.8 1.2 0.8-1.7 0.8 6.3 0.8-16 0.8-4.8 0.8-6.4 0.8 0 0.8 10.3 0.8-2.7 0.8-2.5 0.8-7.8 0.8 0.8 0.8 16.3 0.8-21.9 0.8 10.3 0.8-17.6 0.8 11.2 0.8 13 0.8-36.9 0.8 33.4 0.8-39.8 0.8 29.1 0.8-10.6 0.8 8.5 0.8-2.6 0.8 8.3 0.8-5.4 0.8-0.7 0.8-5.9 0.8 17.7 0.8-28.4 0.8 10.3 0.8 0.3 0.8 10.3 0.8 14.5 0.8-19.6 0.8 17 0.8-24.8 0.8 3.7 0.8 9.7 0.8 0.9 0.8 1.4 0.8 7.1 0.8-15 0.8 11.1 0.8-6.9 0.8-26 0.8 15.1 0.8 3.2 0.8 4.6 0.8 2.8 0.8-7.6 0.8 12.6 0.8-20.1 0.8 7.2 0.8 7.2 0.8-18.1 0.8 19.4 0.8-3.4 0.8-10.3 0.8 0.6 0.8-1.5 0.8 0.1 0.8 9.6 0.8-7 0.8-16.9 0.8-2.2 0.8 17.4 0.8-28.2 0.8 8.1 0.8 7.3 0.8 4.2 0.8 11.1 0.8-10.4 0.8 27.9 0.8-28.4 0.8 5 0.8 0.9 0.8-10 0.8 8.6 0.8-3.5 0.8-3.5 0.8-7.8 0.8 1.3 0.8 10 0.8-7.5 0.8 3.3 0.8-0.5 0.8-1.5 0.8-2.6" fill="none" stroke="#d5633b" stroke-width="5" stroke-linejoin="round"/>
<path d="M1372.3 751.2l0.8-1.4 0.8-3.6 0.8 1.5 0.8-5.3 0.8-5 0.8 11.4 0.8-5 0.8-8.5 0.8 4.2 0.8 2.1 0.8 4 0.8 4 0.8-2.9 0.8-2 0.8 3.8 0.8-1.8 0.8 2 0.8-2.3 0.8-1.3 0.8 9.3 0.8-4.9 0.8 2.1 0.8-1.9 0.8 0.8 0.8 1.3 0.8 4.2 0.8 2.5 0.8-1.7 0.8-3.2 0.8 12.3 0.8-6.2 0.8 1 0.8-4.6 0.8 1.7 0.8 3.6 0.8-7.6 0.8 4 0.8 4.7 0.8 7.7 0.8-6.3 0.8-4.5 0.8 0 0.8 8.3 0.8-5.6 0.8 2.3 0.8 8.7 0.8-6 0.8-0.8 0.8-6.2 0.8 13.3 0.8 0.6 0.8-6.3 0.8-1.9 0.8 5.1 0.8 5.9 0.8-2.6 0.8-5.2 0.8 6.1 0.8 2.1 0.8-2.1 0.8 1.3 0.8 0.1 0.8-1.2 0.8 0.1 0.8-7.9 0.8 7.3 0.8-1.2 0.8 8.2 0.8 0.8 0.8-6.1 0.8 7.3 0.8-0.6 0.8-2.2 0.8 4 0.8-1.1 0.8 1.1 0.8-5.9 0.8 13.1 0.8-3 0.8-2 0.8-1 0.8-2.1 0.8 4.1 0.8 8 0.8-6.5 0.8 6.6 0.8-4.7 0.8 6.1 0.8-4.9 0.8 4 0.8 1.6 0.8 0.6 0.8-4.8 0.8 2.9 0.8-1.2 0.8 3.3 0.8 0 0.8 1 0.8 3.7 0.8-5.1 0.8 1.6 0.8 1.4 0.8 1.8 0.8-1.4 0.8-0.4 0.8 0.5 0.8 10.5 0.8-5.4 0.8 4.5 0.8-7.3 0.8 3.2 0.8 2.1 0.8 6.3 0.8-5.2 0.8-1.1 0.8-0.7 0.8 8.3 0.8-7 0.8-3.3 0.8-0.2 0.8 8.2 0.8-1 0.8 2.2 0.8-0.6 0.8-19.6 0.8-17.6 0.8-25.7 0.8-2.3 0.8-6.2 0.8-8.6 0.8 1.1 0.8 2.3 0.8-16.3 0.8 11.2 0.8-10 0.8-0.9 0.8 1.1 0.8-3.7 0.8-0.5 0.8 3.9 0.8-7.7 0.8 1.5 0.8-4.2 0.8 3.9 0.8 9.7 0.8-7 0.8-8 0.8 1.6 0.8 2.5 0.8-0.1 0.8-5.2 0.8 6.3 0.8-3.8 0.8 0.5 0.8-0.4 0.8 0.6 0.8-5.9 0.8-1.5 0.8 6.6 0.8-5.6 0.8-9 0.8 10.3 0.8-3.1 0.8 2.6 0.8 9.7 0.8-5 0.8-8 0.8-2.9 0.8 4.1 0.8-3.5 0.8 3.9 0.8 0 0.8 1.1 0.8-2.5 0.8-5 0.8 4.1 0.8 0.5 0.8-3.4 0.8 7 0.8-8 0.8 2.9 0.8-1.8 0.8-1 0.8 4.9 0.8-4.5 0.8 8.9 0.8-15.4 0.8 14 0.8-6 0.8-8.3 0.8 9.9 0.8-0.2 0.8 3.1 0.8 1 0.8-7 0.8 2.7 0.8 1.3 0.8-0.5 0.8-1.8 0.8 6 0.8-3.6 0.8-5.6 0.8 5.6 0.8-8 0.8 6.2 0.8 4 0.8-6.1 0.8 0.1 0.8 4.7 0.8 1.6 0.8-5.1 0.8 2.5 0.8 4.2 0.8-6.5 0.8 0.5 0.8-0.5 0.8 5.9 0.8-4.6 0.8 6.2 0.8-4.4 0.8 3 0.8 1.2 0.8 1.5 0.8-4.5 0.8 7.7 0.8-4 0.8 4 0.8 1.3 0.8-6.5 0.8 10.2 0.8-3.1 0.8-0.7 0.8 0.6 0.8 0.4 0.8 3.4 0.8 7.2 0.8-6.8 0.8-2.7 0.8 7 0.8 12.2 0.8-3 0.8 10.5 0.8-5.4 0.8 3.9 0.8 2.7 0.8 4.7 0.8 13.7 0.8 13.5 0.8 6.2 0.8 15.4 0.8 5.3 0.8 0.9 0.8 5.6 0.8 0 0.8-4.3 0.8 0.7 0.8-6.1 0.8 3.5 0.8-7.8 0.8 5.4 0.8 0.7 0.8 1.4 0.8-3.9 0.8-0.5 0.8-3.6 0.8-4.9 0.8 5.1 0.8-5 0.8 4.7 0.8-0.2 0.8-4.4 0.8-2.1 0.8 5.2 0.8-2 0.8 3 0.8 1.1 0.8 2 0.8-2.8 0.8-7.1 0.8 2.4 0.8 7 0.8-10.9 0.8 1.2 0.8 5.4 0.8-3.1 0.8-4.8 0.8 2.8 0.8-3.8 0.8 4.7 0.8 1.7 0.8-5.8 0.8 0 0.8-8.2 0.8 5.9 0.8 1.4 0.8-1.7 0.8-2.6 0.8 1.2 0.8 4.9 0.8-3.3 0.8-5 0.8 5.5 0.8-3.2 0.8-7.1 0.8 4.3 0.8 2.3 0.8-6.4 0.8 4.7 0.8 2.1 0.8-1.9 0.8-7.1 0.8 0.5 0.8 5.1 0.8 1 0.8-4.3 0.8-1 0.8 6.4 0.8-1 0.8-5.4 0.8-2.6 0.8 3.1 0.8-7.1 0.8 4.6 0.8-0.4 0.8 3 0.8-2.9 0.8-8.7 0.8 12.3 0.8-4.9 0.8-9.5 0.8 1.2 0.8 7.4 0.8-7.5 0.8 7 0.8-7 0.8-2.4 0.8 10.7 0.8 0.1 0.8-0.7 0.8-0.6 0.8-4.8 0.8 0 0.8-2.8 0.8 2.6 0.8 2.4 0.8-0.4 0.8 1.8 0.8-1.3 0.8-4.5 0.8-4.5 0.8 4.3 0.8-1.1 0.8-4.2 0.8-3 0.8 0.7 0.8-3 0.8 1.9 0.8 3.1 0.8 3.1 0.8-4.7 0.8-3 0.8-0.4 0.8 0.4 0.8 4.2 0.8-4.6 0.8-7.4 0.8 5.6 0.8-6.8 0.8 2.9 0.8 2.1 0.8 2.2" fill="none" stroke="#f0bd5c" stroke-width="5" stroke-linejoin="round"/>
<path d="M1372.3 839.6l0.8-0.7 0.8 0.2 0.8 0.5 0.8-1.6 0.8 0.8 0.8 1.1 0.8-0.3 0.8 1.5 0.8-0.2 0.8-2.1 0.8-0.7 0.8 1.6 0.8-0.6 0.8-0.5 0.8 1.4 0.8-1 0.8-0.1 0.8 1.3 0.8-0.7 0.8-0.7 0.8 1 0.8-0.6 0.8-1 0.8 1.7 0.8 0.8 0.8-1.8 0.8 0 0.8 2.6 0.8-1.1 0.8-0.7 0.8 1.7 0.8-0.6 0.8 0 0.8-0.3 0.8 0.8 0.8 1.8 0.8-1.7 0.8-1.3 0.8 0.8 0.8-0.2 0.8 0.2 0.8-0.2 0.8 0.3 0.8 0.6 0.8-0.4 0.8 0.7 0.8 0.8 0.8-1 0.8 0 0.8 1.5 0.8-0.6 0.8 0.6 0.8-0.4 0.8-1.5 0.8 0.9 0.8 0 0.8 0.9 0.8 0.7 0.8 0.3 0.8-0.8 0.8-1.9 0.8 1.9 0.8 0 0.8-0.1 0.8 0.2 0.8-0.5 0.8 1.6 0.8-0.2 0.8-1.6 0.8-0.2 0.8 1.7 0.8 0.6 0.8-0.2 0.8 0 0.8-0.2 0.8-0.2 0.8-0.8 0.8 0.6 0.8 1 0.8-1.8 0.8-0.1 0.8 2.3 0.8 1.5 0.8-1.6 0.8-1.3 0.8 1.5 0.8 0.6 0.8-0.9 0.8-0.1 0.8 0.3 0.8-0.3 0.8 0 0.8 0.3 0.8 0.2 0.8 0.1 0.8 0.3 0.8 0.5 0.8 1.4 0.8-0.6 0.8-1.8 0.8 0 0.8 0.2 0.8-0.9 0.8 0.5 0.8 0.9 0.8 0.8 0.8 0.3 0.8 0.1 0.8 0.8 0.8-1 0.8-0.8 0.8 0.1 0.8 0 0.8 1 0.8 0.1 0.8-0.9 0.8-0.1 0.8 1.4 0.8 0.4 0.8-1.1 0.8-0.3 0.8 0.4 0.8 0.1 0.8-0.6 0.8-6.9 0.8-6.6 0.8-3.5 0.8 1.6 0.8-1.5 0.8-0.6 0.8 1.2 0.8 2.1 0.8-1.1 0.8-2.9 0.8-0.2 0.8 1 0.8 1.4 0.8-0.9 0.8 0.2 0.8 1.6 0.8-1.6 0.8-1.3 0.8 0 0.8-1 0.8-0.3 0.8 0.1 0.8-0.7 0.8-0.1 0.8 1.5 0.8-0.8 0.8-1.1 0.8-0.1 0.8 0.6 0.8 0.5 0.8 0.3 0.8-0.2 0.8-1.9 0.8 0.6 0.8 0.8 0.8 0.4 0.8 0.7 0.8-2.9 0.8-2.1 0.8 1.9 0.8 0.8 0.8-1.7 0.8 0 0.8 2.6 0.8 0.8 0.8-1.7 0.8-0.3 0.8 1.3 0.8-0.4 0.8 0.5 0.8-0.5 0.8 0.2 0.8 1.6 0.8-1.3 0.8-1 0.8-0.5 0.8-0.9 0.8 0.6 0.8 1.6 0.8-0.2 0.8-0.8 0.8-0.5 0.8-0.8 0.8-0.5 0.8-0.4 0.8 0.9 0.8 0.5 0.8 0.3 0.8 0.2 0.8 0.5 0.8 1.7 0.8 0.1 0.8-0.2 0.8-1.4 0.8-1 0.8-0.3 0.8 0.5 0.8 1.9 0.8-1 0.8 0.6 0.8 0.4 0.8-2.6 0.8 0.7 0.8 1.7 0.8-0.4 0.8-1.6 0.8 1.7 0.8-0.1 0.8-0.5 0.8 1 0.8-1 0.8 0 0.8-0.5 0.8-0.7 0.8 1.1 0.8 0.2 0.8-0.6 0.8 2 0.8 2 0.8-0.1 0.8-0.5 0.8-0.9 0.8-0.5 0.8-0.2 0.8-2 0.8 0.8 0.8 2.4 0.8 0.7 0.8-0.9 0.8 0.3 0.8 0.6 0.8-1.6 0.8 0.3 0.8 1.8 0.8 0.3 0.8-0.3 0.8-0.5 0.8 0.2 0.8 1.5 0.8-0.9 0.8-0.2 0.8-0.2 0.8 5 0.8 6.7 0.8 2.7 0.8 1.1 0.8-1.2 0.8 0.3 0.8 0.1 0.8-0.2 0.8 0.1 0.8 0.3 0.8 0.3 0.8 0.6 0.8 0.8 0.8-0.7 0.8-1.3 0.8-2 0.8 0.4 0.8 2.9 0.8-0.1 0.8-0.4 0.8 1.6 0.8-1.3 0.8-1.1 0.8 1.4 0.8 0 0.8-1.3 0.8-0.2 0.8 0.3 0.8 0.4 0.8 0.8 0.8 0.2 0.8-0.1 0.8-0.3 0.8 0.9 0.8 0 0.8-2.1 0.8-0.5 0.8-1.2 0.8-0.1 0.8 1.4 0.8-0.2 0.8 0.4 0.8-0.5 0.8-1.9 0.8 1.4 0.8 1.5 0.8-1.1 0.8 0.4 0.8 1.9 0.8-0.6 0.8-2.1 0.8 0.6 0.8 0.7 0.8-1.1 0.8 0.6 0.8-0.5 0.8 0.7 0.8 0.1 0.8-0.4 0.8 1 0.8 0.4 0.8-0.2 0.8-0.7 0.8-0.7 0.8-0.9 0.8-0.2 0.8 0.7 0.8-0.1 0.8 0.5 0.8 0.4 0.8-2.1 0.8-0.5 0.8 1.7 0.8 0.1 0.8-0.5 0.8-0.9 0.8-0.2 0.8 1.7 0.8 0 0.8-0.1 0.8-1.2 0.8-1.8 0.8-0.4 0.8 1.8 0.8 1.2 0.8-0.1 0.8-0.7 0.8-0.1 0.8-0.8 0.8-0.4 0.8 0.3 0.8-0.7 0.8 1.2 0.8 0.9 0.8-0.6 0.8-1 0.8 1 0.8 1 0.8-1.6 0.8-0.6 0.8 0.3 0.8 0.4 0.8 0.4 0.8-0.4 0.8-0.4 0.8-0.7 0.8 0.6 0.8 0.7 0.8-2.6 0.8-0.7 0.8 1.8 0.8-0.3 0.8-0.9 0.8 0 0.8 0.8 0.8-0.3 0.8 0 0.8 1.6 0.8 0.4 0.8-0.4 0.8-0.9 0.8 0.1 0.8 0.1 0.8-0.3 0.8-1" fill="none" stroke="#4b6aa0" stroke-width="4.6" stroke-linejoin="round"/>
<line x1="1471.5" y1="617" x2="1471.5" y2="870" stroke="#000" stroke-width="3.2" stroke-dasharray="13 9"/>
<line x1="1569.3" y1="617" x2="1569.3" y2="870" stroke="#000" stroke-width="3.2" stroke-dasharray="13 9"/>
<line x1="1359.1" y1="611.4" x2="1359.1" y2="871.5" stroke="#000" stroke-width="3.4"/>
<line x1="1357.6" y1="870" x2="1685.6" y2="870" stroke="#000" stroke-width="3.4"/>
<line x1="1352.6" y1="638.8" x2="1359.1" y2="638.8" stroke="#000" stroke-width="3"/>
<text x="1345.5" y="647" font-size="22.5" text-anchor="end">0.8</text>
<line x1="1352.6" y1="693.8" x2="1359.1" y2="693.8" stroke="#000" stroke-width="3"/>
<text x="1345.5" y="702" font-size="22.5" text-anchor="end">0.6</text>
<line x1="1352.6" y1="748.8" x2="1359.1" y2="748.8" stroke="#000" stroke-width="3"/>
<text x="1345.5" y="757" font-size="22.5" text-anchor="end">0.4</text>
<line x1="1352.6" y1="803.5" x2="1359.1" y2="803.5" stroke="#000" stroke-width="3"/>
<text x="1345.5" y="811.7" font-size="22.5" text-anchor="end">0.2</text>
<line x1="1352.6" y1="858.5" x2="1359.1" y2="858.5" stroke="#000" stroke-width="3"/>
<text x="1345.5" y="866.7" font-size="22.5" text-anchor="end">0.0</text>
<line x1="1422" y1="870" x2="1422" y2="876" stroke="#000" stroke-width="3"/>
<text x="1422" y="898" font-size="22.2" text-anchor="middle">-1 Kb</text>
<line x1="1520.5" y1="870" x2="1520.5" y2="876" stroke="#000" stroke-width="3"/>
<text x="1520.5" y="898" font-size="22.2" text-anchor="middle">Region</text>
<line x1="1620.3" y1="870" x2="1620.3" y2="876" stroke="#000" stroke-width="3"/>
<text x="1620.3" y="898" font-size="22.2" text-anchor="middle">+1 Kb</text>
<text x="1296.5" y="749.8" font-size="20.5" text-anchor="middle" fill="#231f20" transform="rotate(-90 1296.5 749.8)">Methylation level</text>
<text x="1401.3" y="633.5" font-size="18">Gene</text>
<text x="1249" y="630" font-size="48" font-weight="bold">e</text>
<path d="M1376.6 958.9l1-1.9 1 4.5 1 3.1 1-3.1 1-1 1-0.8 1 1.1 1 0.3 1-1.4 1 0.9 1 5.6 1-4.7 1-1.9 1-1.1 1-0.3 1 2.1 1 1.2 1 1.2 1-0.7 1-0.1 1 1.7 1-2.1 1 1.9 1 1.4 1-0.3 1 1.7 1-0.3 1-2.5 1-0.4 1 2.7 1-1.2 1-0.6 1 0.9 1-1.6 1-0.5 1-0.8 1 0.7 1 2.6 1-2.8 1-1.1 1 3.8 1 0.2 1 1 1-0.5 1 0.1 1 2.8 1-0.4 1-5.4 1 5.4 1 1 1-1.9 1-1.3 1-2 1 2.2 1-1.1 1 0 1 5.2 1-3.1 1-3.4 1 3.7 1-0.1 1-0.1 1 0.9 1-4.2 1-4.6 1 2.3 1 5.8 1-1 1 0.5 1-1.3 1 1.4 1-0.1 1-1.3 1-0.3 1-0.9 1 0.4 1-0.7 1-1.2 1 2.7 1-0.5 1 0.1 1-3.2 1 2.8 1 2.8 1-1 1 2.4 1-1.4 1-1.4 1 1.8 1 1.3 1-2.4 1-3.5 1 0.9 1-0.9 1-1.6 1-2.1 1-6.8 1-7.7 1-4.9 1-9.8 1 7.5 1 12.8 1-6.6 1 1.4 1-2.9 1-7.5 1-0.9 1-0.4 1 0.9 1 10.5 1 0 1 2.1 1 5.4 1 3.2 1-5.1 1-14.6 1-12 1 3.6 1 7.9 1 15.1 1-3.4 1-1.8 1 4.8 1-5.5 1-3.2 1 7.3 1 12.2 1-3.1 1-1.6 1-12.5 1 0.5 1 3.1 1-2.5 1-4.1 1-1.9 1-2.2 1 8 1 3.3 1 12.2 1-2.9 1-15.3 1-1.3 1 11.6 1 2.3 1-0.5 1 0.8 1 0.1 1-3.3 1 2 1 3.8 1-4 1 6.7 1-15.8 1 0 1 26.1 1-9.1 1-16.8 1 0.1 1 6.9 1-11.7 1 1.3 1-5.2 1-2.7 1 1.6 1 3.9 1-5.5 1 7.3 1 8.7 1 1 1-11.4 1 2 1 20.6 1-7.8 1-17 1-8.9 1 13.4 1 10.7 1-3.1 1-0.5 1-11.9 1-2.1 1 9.1 1-2 1 1.6 1 0.3 1 3.2 1-7.5 1-3.2 1 11.1 1 2.4 1 7.3 1-1.9 1-6.4 1-7.2 1 4.3 1-0.3 1 0.2 1 1.1 1 0.9 1 0.4 1 5.3 1 2.8 1-3.7 1 0.3 1 2.6 1 1.3 1 4 1 0.1 1 0.5 1 2.1 1 0.3 1-1 1 0.6 1 1.8 1-0.8 1-0.1 1 1.6 1-1 1-3.1 1-0.3 1-0.1 1-1.1 1 2 1 0.4 1-4.8 1 5.8 1 2 1 4.7 1-3.2 1-5.1 1 2.6 1 4.8 1 0.6 1-1.9 1-6.1 1 1 1 1.8 1-1.5 1 0.2 1-0.4 1 3.7 1 0.4 1-5.3 1 5 1 2.6 1-4.7 1 3 1 2.5 1-4.1 1 1 1 3.9 1-1.2 1-4.7 1-0.9 1-0.4 1 0.1 1 3.9 1 0.9 1-2.7 1 0.6 1 1 1-3.1 1-1.2 1 1 1 2 1-1.1 1-2.5 1 2.1 1 1.5 1-1 1 0.3 1-1.5 1-2.3 1-1.4 1 0.3 1-3.5 1-0.8 1 5.5 1 1 1-4.2 1 0.3 1 1.6 1 1.1 1 0.3 1-3.2 1 0.6 1 1 1 0.8 1-0.6 1 1.1 1 0.6 1-4.2 1-0.6 1 1.4" fill="none" stroke="#d5633b" stroke-width="5" stroke-linejoin="round"/>
<path d="M1375 1064.4l1 3.3 1 3.9 1 0.2 1 4 1 0.7 1-9.1 1 0.2 1 3.3 1 1 1-1.4 1-3.6 1 4.5 1 3.5 1-2.3 1-0.7 1-1.8 1 2.3 1 3.1 1-2.2 1-2.1 1 0.6 1-0.5 1 0 1 1.8 1-1.1 1 3.8 1 0.8 1-3.7 1 0.3 1 5.2 1-2.4 1 1.9 1 2.9 1-2.2 1 0 1 0 1 0.9 1 3.9 1-1.8 1-1.9 1 1.9 1 2.3 1-0.1 1-3.2 1-1.6 1 2.9 1 1.2 1-2.7 1-3.2 1 3.7 1 2.3 1-0.1 1-0.8 1 0.1 1 0.7 1-1.7 1 4.8 1-2.2 1-0.4 1-3.1 1 1.6 1 3.6 1 2.7 1 0.9 1 0.9 1-1.6 1-1.9 1 3.7 1 0.8 1-2 1-1.3 1-5.4 1 5.1 1-1.5 1 5 1-3.2 1-4.6 1 7.4 1 0.4 1-1.2 1-2.4 1-0.3 1 0.3 1-1.3 1 3.3 1-0.6 1-1.5 1 1 1-3.9 1 3.9 1 2.1 1-5 1 4.2 1 1.3 1-3.5 1 2.9 1-1.8 1-12 1-5.3 1-2.1 1-16.4 1-18.4 1-3.4 1 10.5 1 14.1 1 3.5 1-5 1-4.8 1-14.8 1-2.8 1 8.7 1 7.2 1 1.2 1-7.2 1 1.6 1 1.2 1 1.6 1 8.9 1 5.1 1-9.2 1-11.8 1 7.4 1 9.1 1-8.6 1-7.5 1-5.7 1 8.9 1 11.5 1-5.1 1-5.6 1 9.8 1 3.2 1-10.5 1-6.4 1 6.3 1 8.6 1-10.8 1-16.4 1 9.7 1 15.9 1 2.5 1 0.4 1-15.1 1 2.4 1 7.7 1 2.4 1 4.1 1-9.8 1-7.7 1-0.7 1 8.4 1 2.1 1 4.7 1 0.7 1-4.9 1-3.6 1-5.6 1 15.7 1-37.6 1 29.7 1 13.5 1-8.9 1-10.2 1 10.2 1 5.2 1-2.6 1-9 1 6.3 1 7.9 1-8.4 1-3.7 1-2.5 1 1.1 1-0.8 1 2 1 6.1 1-4.7 1-5.5 1 7.4 1 3.7 1 12.9 1-7.8 1-13.4 1 3.5 1-3.1 1 3.3 1 2.4 1 6.8 1 4.6 1 3.5 1 16.2 1 2.4 1-13.8 1 4 1-12.6 1 2.6 1 14.8 1-0.5 1-1.8 1 0.1 1-1.7 1 1.9 1 2.8 1-1.2 1 1.7 1-0.4 1 0.1 1 3.4 1-0.2 1 0 1 0.2 1-2.2 1-3.6 1 2.5 1 6.4 1 0.9 1-1.2 1 0.4 1-0.2 1-0.2 1 0.3 1-3.9 1-0.9 1 0.7 1 1.4 1-0.3 1-3 1 7 1-3.1 1-0.4 1-1.2 1 3.2 1 1.3 1-6.1 1 1.6 1 0.8 1-1.4 1 0.7 1 0.3 1 0 1 2 1 1.6 1-4 1-0.5 1 0.8 1-1.7 1-0.4 1-1.8 1 1.6 1 0.7 1-0.9 1 2.9 1-2.2 1-2.5 1 6.1 1-5 1-0.9 1-0.9 1-2.7 1 1.1 1 6.1 1-1.7 1-2.8 1 1.4 1-1.8 1-1 1 2.2 1 0.2 1-1.7 1 1.1 1-0.7 1-3.2 1 0 1 0.7 1 0.1 1 4.4 1-1.4 1-5.3 1 2.4 1 2.9 1-2.4 1-2.4 1-0.7 1 1.5 1 1.1 1-1.1 1-1.6 1-5.5 1 6.2 1-0.2 1 0.4 1-3.7 1-2.7 1 5.9 1 2 1-2" fill="none" stroke="#f0bd5c" stroke-width="5" stroke-linejoin="round"/>
<path d="M1375 1145.8l1 0.5 1 0.4 1 0.1 1 0.7 1 0.2 1-0.4 1-0.1 1-0.6 1 0.1 1 0.8 1 0 1-0.7 1-0.7 1 1.2 1 0.2 1-1.3 1-0.2 1 0.6 1 0.7 1-0.5 1-0.2 1 0.5 1-0.1 1-0.6 1 0 1 0.7 1-0.4 1-0.4 1 0.9 1 0.8 1 0.1 1-0.4 1 0.2 1-0.3 1-0.7 1 0.1 1 0.5 1-0.3 1-0.6 1 1.2 1 0 1-1.8 1 0.6 1 1.5 1-0.8 1-1 1 0.1 1 0.6 1 0.9 1 0.5 1-1.3 1 0.2 1 0.3 1-0.6 1 0.4 1-0.3 1-0.6 1 1.3 1 0.6 1-0.4 1-0.3 1-0.4 1 0.1 1-0.1 1 0.8 1-0.7 1-0.5 1 0.6 1 0.7 1 0.3 1-0.9 1-1 1 0.2 1 0.9 1 0.7 1-1.1 1-1.6 1 0.4 1 1.2 1 0.9 1-0.6 1-0.7 1 1 1-0.3 1-0.1 1 1.2 1 0.2 1 0.1 1-0.7 1-1.7 1 1 1 1.2 1-0.1 1-0.3 1-1.3 1-0.3 1 0.4 1-1 1-0.7 1 0.6 1-2.2 1-4.8 1-3.4 1 3.1 1 4.2 1-1.3 1 3.2 1 0.2 1-1.8 1 2.3 1-2.4 1 1.4 1 2.1 1-1.8 1-3.2 1-1.9 1 0.4 1 1.1 1 2 1 1.8 1-3 1-1.1 1 3.4 1 1.1 1-4.9 1-0.4 1 2.2 1-1.3 1 1.3 1-1.4 1 3 1 3.1 1 0.3 1-0.8 1-4.7 1 1 1 3.4 1 1.4 1-0.3 1-4 1 0.3 1-0.5 1-1.2 1 1.6 1 1.4 1 0.1 1-1.9 1 1.1 1 3.1 1 0.6 1-0.4 1-1.3 1 0.3 1-1 1-4.9 1 0.2 1 5.3 1-2.5 1-6.7 1 5.9 1 1.8 1-1.7 1 1.2 1 0.5 1-0.8 1-3.5 1 2.8 1 1.5 1 0.7 1 3.4 1-1.9 1-3.1 1 0.4 1-0.8 1 1.9 1 0.3 1-0.6 1 3.4 1-3 1-3.1 1 2.2 1 0.1 1 2.4 1 1.8 1-1.6 1-1.9 1 3.3 1-4.1 1-7.2 1 4.7 1 5.6 1-0.5 1-1.8 1-1.4 1-0.5 1 1.5 1 0.3 1 1 1 0.3 1 1 1-0.6 1 0.2 1 1.3 1-0.3 1 0.2 1 0.6 1-1.1 1 0.1 1 0.2 1 0.1 1-0.3 1-0.9 1-0.5 1 0 1 0.6 1-0.3 1 1 1 1 1 0.2 1-0.7 1-0.2 1-0.9 1-1.1 1 0.9 1 0.5 1-0.2 1 0.8 1 1.2 1-0.7 1-0.2 1 0 1-1 1 0.6 1 0.4 1-1.3 1-0.1 1 1.2 1-0.9 1-0.9 1 0.9 1-0.2 1-0.6 1 1.1 1 1.4 1-0.8 1-1.2 1 0 1-0.7 1 0.2 1 1.2 1 0.4 1 0.8 1-0.9 1-0.4 1 0.5 1-0.8 1 0.3 1 0.1 1-0.8 1 0.5 1 0.1 1-0.3 1 0.7 1 0 1-1 1 0.2 1 1.1 1-0.8 1-1.1 1-0.8 1 0.4 1 0.4 1 0.2 1 0.9 1 0.6 1-0.4 1-0.9 1 0.4 1 0.1 1-0.2 1 0.5 1-0.7 1 0.5 1 0.5 1-0.2 1 0.7 1-1 1-1.5 1 0.9 1 1.4 1-0.7 1-0.6 1-0.1 1 0.3 1-0.6 1-0.4" fill="none" stroke="#4b6aa0" stroke-width="4.6" stroke-linejoin="round"/>
<line x1="1473.8" y1="926" x2="1473.8" y2="1179" stroke="#000" stroke-width="3.2" stroke-dasharray="13 9"/>
<line x1="1573.2" y1="926" x2="1573.2" y2="1179" stroke="#000" stroke-width="3.2" stroke-dasharray="13 9"/>
<line x1="1361.8" y1="920.4" x2="1361.8" y2="1180.8" stroke="#000" stroke-width="3.4"/>
<line x1="1360.3" y1="1179.3" x2="1687.9" y2="1179.3" stroke="#000" stroke-width="3.4"/>
<line x1="1355.3" y1="982.4" x2="1361.8" y2="982.4" stroke="#000" stroke-width="3"/>
<text x="1348" y="990.6" font-size="22.5" text-anchor="end">0.75</text>
<line x1="1355.3" y1="1044" x2="1361.8" y2="1044" stroke="#000" stroke-width="3"/>
<text x="1348" y="1052.2" font-size="22.5" text-anchor="end">0.50</text>
<line x1="1355.3" y1="1105.2" x2="1361.8" y2="1105.2" stroke="#000" stroke-width="3"/>
<text x="1348" y="1113.4" font-size="22.5" text-anchor="end">0.25</text>
<line x1="1355.3" y1="1166.8" x2="1361.8" y2="1166.8" stroke="#000" stroke-width="3"/>
<text x="1348" y="1175" font-size="22.5" text-anchor="end">0.00</text>
<line x1="1424.3" y1="1179.3" x2="1424.3" y2="1185.3" stroke="#000" stroke-width="3"/>
<text x="1424.3" y="1206.3" font-size="22.2" text-anchor="middle">-1 Kb</text>
<line x1="1523.2" y1="1179.3" x2="1523.2" y2="1185.3" stroke="#000" stroke-width="3"/>
<text x="1523.2" y="1206.3" font-size="22.2" text-anchor="middle">Region</text>
<line x1="1622" y1="1179.3" x2="1622" y2="1185.3" stroke="#000" stroke-width="3"/>
<text x="1622" y="1206.3" font-size="22.2" text-anchor="middle">+1 Kb</text>
<text x="1296.5" y="1048.2" font-size="20.5" text-anchor="middle" fill="#231f20" transform="rotate(-90 1296.5 1048.2)">Methylation level</text>
<text x="1398.7" y="938.9" font-size="18">SINE</text>
<text x="1723" y="808" font-size="21" text-anchor="middle" transform="rotate(-90 1723 808)">mCHH</text>
<line x1="1715.9" y1="857.5" x2="1715.9" y2="880" stroke="#4b6aa0" stroke-width="4.2"/>
<text x="1723" y="930" font-size="21" text-anchor="middle" transform="rotate(-90 1723 930)">mCHG</text>
<line x1="1715.9" y1="982" x2="1715.9" y2="1005.4" stroke="#f0bd5c" stroke-width="4.2"/>
<text x="1723" y="1048" font-size="21" text-anchor="middle" transform="rotate(-90 1723 1048)">mCG</text>
<line x1="1715.9" y1="1091" x2="1715.9" y2="1112.5" stroke="#d5633b" stroke-width="4.2"/>
<text x="0.8" y="1256" font-size="47.5" font-weight="bold">f</text>
<text transform="translate(839 1234)" font-size="15.5" font-family="'DejaVu Sans', sans-serif" text-anchor="middle">Chr02</text>
<line x1="102" y1="1265.5" x2="1575.6" y2="1265.5" stroke="#000" stroke-width="2.6"/>
<line x1="287" y1="1265.5" x2="287" y2="1271" stroke="#000" stroke-width="2.2"/>
<text transform="translate(287 1258.8)" font-size="15.5" font-family="'DejaVu Sans', sans-serif" text-anchor="middle">500</text>
<line x1="472.1" y1="1265.5" x2="472.1" y2="1271" stroke="#000" stroke-width="2.2"/>
<text transform="translate(472.1 1258.8)" font-size="15.5" font-family="'DejaVu Sans', sans-serif" text-anchor="middle">1,000</text>
<line x1="657.2" y1="1265.5" x2="657.2" y2="1271" stroke="#000" stroke-width="2.2"/>
<text transform="translate(657.2 1258.8)" font-size="15.5" font-family="'DejaVu Sans', sans-serif" text-anchor="middle">1,500</text>
<line x1="842.3" y1="1265.5" x2="842.3" y2="1271" stroke="#000" stroke-width="2.2"/>
<text transform="translate(842.3 1258.8)" font-size="15.5" font-family="'DejaVu Sans', sans-serif" text-anchor="middle">2,000</text>
<line x1="1027.4" y1="1265.5" x2="1027.4" y2="1271" stroke="#000" stroke-width="2.2"/>
<text transform="translate(1027.4 1258.8)" font-size="15.5" font-family="'DejaVu Sans', sans-serif" text-anchor="middle">2,500</text>
<line x1="1212.5" y1="1265.5" x2="1212.5" y2="1271" stroke="#000" stroke-width="2.2"/>
<text transform="translate(1212.5 1258.8)" font-size="15.5" font-family="'DejaVu Sans', sans-serif" text-anchor="middle">3,000</text>
<line x1="1397.6" y1="1265.5" x2="1397.6" y2="1271" stroke="#000" stroke-width="2.2"/>
<text transform="translate(1397.6 1258.8)" font-size="15.5" font-family="'DejaVu Sans', sans-serif" text-anchor="middle">3,500 Mb</text>
<defs><linearGradient id="hg" x1="0" y1="0" x2="0" y2="1"><stop offset="0" stop-color="#e6f0f9"/><stop offset="0.6" stop-color="#dceaf6"/><stop offset="0.88" stop-color="#c9def0"/><stop offset="0.95" stop-color="#8cbbe0"/><stop offset="1" stop-color="#2b6fb2"/></linearGradient><clipPath id="tz"><path d="M102 1387L213 1277H1464L1575 1387Z"/></clipPath><filter id="nz" x="0" y="0" width="1" height="1"><feTurbulence type="fractalNoise" baseFrequency="0.55" numOctaves="2" seed="4"/><feColorMatrix type="matrix" values="0 0 0 0 0.13  0 0 0 0 0.44  0 0 0 0 0.71  0 0 0 -2.2 1.25"/></filter><filter id="nw" x="0" y="0" width="1" height="1"><feTurbulence type="fractalNoise" baseFrequency="0.7" numOctaves="1" seed="9"/><feColorMatrix type="matrix" values="0 0 0 0 1  0 0 0 0 1  0 0 0 0 1  0 0 0 2.6 -1.35"/></filter></defs>
<g clip-path="url(#tz)">
<rect x="102" y="1277" width="1474" height="110" fill="url(#hg)"/>
<g transform="matrix(2.0 2.0 2.0 -2.0 102 1387)">
<path d="M-20 -20h50v50h-50zM30 30h18v18h-18zM120 120h11v11h-11zM198 198h23v23h-23zM265 265h11v11h-11z" fill="#5a9fd0" opacity="0.1"/>
<path d="M67 67h53v53h-53zM131 131h26v26h-26zM157 157h41v41h-41zM276 276h32v32h-32zM308 308h54v54h-54zM362 362h31v31h-31z" fill="#4a90c8" opacity="0.16"/>
<path d="M48 48h19v19h-19zM221 221h44v44h-44z" fill="#ffffff" opacity="0.55"/>
<path d="M-44.5 -45V12M-102 -44.5H-44M-33.5 -34V23M-91 -33.5H-33M-30.5 -31V26M-88 -30.5H-30M-27.5 -28V29M-85 -27.5H-27M-25.5 -26V31M-83 -25.5H-25M-21.5 -22V35M-79 -21.5H-21M-16.5 -17V40M-74 -16.5H-16M-15.5 -16V41M-73 -15.5H-15M-13.5 -14V43M-71 -13.5H-13M-4.5 -5V52M-62 -4.5H-4M0.5 0V57M-57 0.5H1M3.5 3V60M-54 3.5H4M4.5 4V61M-53 4.5H5M13.5 13V70M-44 13.5H14M18.5 18V75M-39 18.5H19M19.5 19V76M-38 19.5H20M20.5 20V77M-37 20.5H21M25.5 25V82M-32 25.5H26M34.5 34V91M-23 34.5H35M35.5 35V92M-22 35.5H36M40.5 40V97M-17 40.5H41M54.5 54V111M-3 54.5H55M55.5 55V112M-2 55.5H56M63.5 63V120M6 63.5H64M66.5 66V123M9 66.5H67M67.5 67V124M10 67.5H68M85.5 85V142M28 85.5H86M97.5 97V154M40 97.5H98M100.5 100V157M43 100.5H101M104.5 104V161M47 104.5H105M107.5 107V164M50 107.5H108M108.5 108V165M51 108.5H109M109.5 109V166M52 109.5H110M114.5 114V171M57 114.5H115M117.5 117V174M60 117.5H118M122.5 122V179M65 122.5H123M128.5 128V185M71 128.5H129M134.5 134V191M77 134.5H135M142.5 142V199M85 142.5H143M146.5 146V203M89 146.5H147M160.5 160V217M103 160.5H161M161.5 161V218M104 161.5H162M174.5 174V231M117 174.5H175M191.5 191V248M134 191.5H192M201.5 201V258M144 201.5H202M202.5 202V259M145 202.5H203M203.5 203V260M146 203.5H204M204.5 204V261M147 204.5H205M206.5 206V263M149 206.5H207M209.5 209V266M152 209.5H210M210.5 210V267M153 210.5H211M213.5 213V270M156 213.5H214M218.5 218V275M161 218.5H219M221.5 221V278M164 221.5H222M233.5 233V290M176 233.5H234M244.5 244V301M187 244.5H245M246.5 246V303M189 246.5H247M252.5 252V309M195 252.5H253M264.5 264V321M207 264.5H265M267.5 267V324M210 267.5H268M269.5 269V326M212 269.5H270M272.5 272V329M215 272.5H273M275.5 275V332M218 275.5H276M287.5 287V344M230 287.5H288M294.5 294V351M237 294.5H295M298.5 298V355M241 298.5H299M310.5 310V367M253 310.5H311M312.5 312V369M255 312.5H313M319.5 319V376M262 319.5H320M321.5 321V378M264 321.5H322M323.5 323V380M266 323.5H324M324.5 324V381M267 324.5H325M328.5 328V385M271 328.5H329M334.5 334V391M277 334.5H335M344.5 344V401M287 344.5H345M345.5 345V402M288 345.5H346M346.5 346V403M289 346.5H347M348.5 348V405M291 348.5H349M354.5 354V411M297 354.5H355M355.5 355V412M298 355.5H356M358.5 358V415M301 358.5H359M362.5 362V419M305 362.5H363M363.5 363V420M306 363.5H364M367.5 367V424M310 367.5H368" stroke="#3b87c4" stroke-width="1" opacity="0.12" fill="none"/>
<path d="M-41.5 -42V15M-99 -41.5H-41M-36.5 -37V20M-94 -36.5H-36M9.5 9V66M-48 9.5H10M17.5 17V74M-40 17.5H18M46.5 46V103M-11 46.5H47M47.5 47V104M-10 47.5H48M48.5 48V105M-9 48.5H49M61.5 61V118M4 61.5H62M65.5 65V122M8 65.5H66M71.5 71V128M14 71.5H72M79.5 79V136M22 79.5H80M102.5 102V159M45 102.5H103M111.5 111V168M54 111.5H112M116.5 116V173M59 116.5H117M118.5 118V175M61 118.5H119M126.5 126V183M69 126.5H127M137.5 137V194M80 137.5H138M179.5 179V236M122 179.5H180M184.5 184V241M127 184.5H185M189.5 189V246M132 189.5H190M195.5 195V252M138 195.5H196M214.5 214V271M157 214.5H215M223.5 223V280M166 223.5H224M229.5 229V286M172 229.5H230M231.5 231V288M174 231.5H232M247.5 247V304M190 247.5H248M266.5 266V323M209 266.5H267M277.5 277V334M220 277.5H278M280.5 280V337M223 280.5H281M283.5 283V340M226 283.5H284M291.5 291V348M234 291.5H292M303.5 303V360M246 303.5H304M314.5 314V371M257 314.5H315M339.5 339V396M282 339.5H340M342.5 342V399M285 342.5H343M343.5 343V400M286 343.5H344M350.5 350V407M293 350.5H351M352.5 352V409M295 352.5H353" stroke="#2f7bbd" stroke-width="1" opacity="0.24" fill="none"/>
<path d="M-49.5 -50V7M-107 -49.5H-49M-48.5 -49V8M-106 -48.5H-48M-32.5 -33V24M-90 -32.5H-32M-24.5 -25V32M-82 -24.5H-24M-23.5 -24V33M-81 -23.5H-23M-19.5 -20V37M-77 -19.5H-19M-11.5 -12V45M-69 -11.5H-11M-7.5 -8V49M-65 -7.5H-7M-2.5 -3V54M-60 -2.5H-2M-0.5 -1V56M-58 -0.5H0M2.5 2V59M-55 2.5H3M10.5 10V67M-47 10.5H11M12.5 12V69M-45 12.5H13M16.5 16V73M-41 16.5H17M23.5 23V80M-34 23.5H24M24.5 24V81M-33 24.5H25M26.5 26V83M-31 26.5H27M31.5 31V88M-26 31.5H32M32.5 32V89M-25 32.5H33M41.5 41V98M-16 41.5H42M56.5 56V113M-1 56.5H57M57.5 57V114M0 57.5H58M58.5 58V115M1 58.5H59M68.5 68V125M11 68.5H69M70.5 70V127M13 70.5H71M76.5 76V133M19 76.5H77M77.5 77V134M20 77.5H78M82.5 82V139M25 82.5H83M83.5 83V140M26 83.5H84M90.5 90V147M33 90.5H91M93.5 93V150M36 93.5H94M95.5 95V152M38 95.5H96M127.5 127V184M70 127.5H128M129.5 129V186M72 129.5H130M130.5 130V187M73 130.5H131M131.5 131V188M74 131.5H132M132.5 132V189M75 132.5H133M141.5 141V198M84 141.5H142M143.5 143V200M86 143.5H144M148.5 148V205M91 148.5H149M155.5 155V212M98 155.5H156M159.5 159V216M102 159.5H160M165.5 165V222M108 165.5H166M168.5 168V225M111 168.5H169M172.5 172V229M115 172.5H173M175.5 175V232M118 175.5H176M176.5 176V233M119 176.5H177M181.5 181V238M124 181.5H182M182.5 182V239M125 182.5H183M194.5 194V251M137 194.5H195M198.5 198V255M141 198.5H199M199.5 199V256M142 199.5H200M222.5 222V279M165 222.5H223M227.5 227V284M170 227.5H228M230.5 230V287M173 230.5H231M238.5 238V295M181 238.5H239M239.5 239V296M182 239.5H240M241.5 241V298M184 241.5H242M242.5 242V299M185 242.5H243M243.5 243V300M186 243.5H244M249.5 249V306M192 249.5H250M250.5 250V307M193 250.5H251M259.5 259V316M202 259.5H260M260.5 260V317M203 260.5H261M262.5 262V319M205 262.5H263M263.5 263V320M206 263.5H264M271.5 271V328M214 271.5H272M273.5 273V330M216 273.5H274M278.5 278V335M221 278.5H279M279.5 279V336M222 279.5H280M281.5 281V338M224 281.5H282M288.5 288V345M231 288.5H289M293.5 293V350M236 293.5H294M299.5 299V356M242 299.5H300M302.5 302V359M245 302.5H303M304.5 304V361M247 304.5H305M305.5 305V362M248 305.5H306M306.5 306V363M249 306.5H307M309.5 309V366M252 309.5H310M313.5 313V370M256 313.5H314M333.5 333V390M276 333.5H334M337.5 337V394M280 337.5H338M341.5 341V398M284 341.5H342M349.5 349V406M292 349.5H350M368.5 368V425M311 368.5H369M369.5 369V426M312 369.5H370M371.5 371V428M314 371.5H372" stroke="#ffffff" stroke-width="1" opacity="0.55" fill="none"/>
<path d="M-26.5 -27V30M-84 -26.5H-26M-5.5 -6V51M-63 -5.5H-5M1.5 1V58M-56 1.5H2M5.5 5V62M-52 5.5H6M49.5 49V106M-8 49.5H50M53.5 53V110M-4 53.5H54M103.5 103V160M46 103.5H104M157.5 157V214M100 157.5H158M162.5 162V219M105 162.5H163M219.5 219V276M162 219.5H220M235.5 235V292M178 235.5H236M274.5 274V331M217 274.5H275M301.5 301V358M244 301.5H302M326.5 326V383M269 326.5H327M353.5 353V410M296 353.5H354" stroke="#ffffff" stroke-width="1" opacity="0.9" fill="none"/>
</g>
<rect x="102" y="1277" width="1474" height="110" filter="url(#nz)" opacity="0.35"/>
<rect x="102" y="1277" width="1474" height="110" filter="url(#nw)" opacity="0.7"/>
</g>
<line x1="102" y1="1388" x2="1575.6" y2="1388" stroke="#000" stroke-width="2.2"/>
<linearGradient id="cbg" x1="0" y1="0" x2="0" y2="1"><stop offset="0.000" stop-color="#08306b"/><stop offset="0.125" stop-color="#08519c"/><stop offset="0.250" stop-color="#2171b5"/><stop offset="0.375" stop-color="#4292c6"/><stop offset="0.500" stop-color="#6baed6"/><stop offset="0.625" stop-color="#9ecae1"/><stop offset="0.750" stop-color="#c6dbef"/><stop offset="0.875" stop-color="#deebf7"/><stop offset="1.000" stop-color="#f7fbff"/></linearGradient>
<rect x="83" y="1276.5" width="5.5" height="111.5" fill="url(#cbg)" stroke="#000" stroke-width="1.8"/>
<line x1="77" y1="1283.2" x2="83" y2="1283.2" stroke="#000" stroke-width="1.8"/>
<text transform="translate(72 1288.5) scale(1.066 1)" font-size="14.5" font-family="'DejaVu Sans', sans-serif" text-anchor="end">5000.0</text>
<line x1="77" y1="1303.2" x2="83" y2="1303.2" stroke="#000" stroke-width="1.8"/>
<text transform="translate(72 1308.5) scale(1.066 1)" font-size="14.5" font-family="'DejaVu Sans', sans-serif" text-anchor="end">1000.0</text>
<line x1="77" y1="1323" x2="83" y2="1323" stroke="#000" stroke-width="1.8"/>
<text transform="translate(72 1328.3) scale(1.066 1)" font-size="14.5" font-family="'DejaVu Sans', sans-serif" text-anchor="end">200.0</text>
<line x1="77" y1="1340" x2="83" y2="1340" stroke="#000" stroke-width="1.8"/>
<text transform="translate(72 1345.3) scale(1.066 1)" font-size="14.5" font-family="'DejaVu Sans', sans-serif" text-anchor="end">50.0</text>
<line x1="77" y1="1360.3" x2="83" y2="1360.3" stroke="#000" stroke-width="1.8"/>
<text transform="translate(72 1365.6) scale(1.066 1)" font-size="14.5" font-family="'DejaVu Sans', sans-serif" text-anchor="end">10.0</text>
<line x1="77" y1="1380.2" x2="83" y2="1380.2" stroke="#000" stroke-width="1.8"/>
<text transform="translate(72 1385.5) scale(1.066 1)" font-size="14.5" font-family="'DejaVu Sans', sans-serif" text-anchor="end">1.0</text>
<path d="M79.5 1277.5H83M79.5 1290H83M79.5 1295H83M79.5 1298H83M79.5 1310H83M79.5 1315H83M79.5 1318H83M79.5 1330H83M79.5 1335H83M79.5 1346H83M79.5 1351H83M79.5 1354H83M79.5 1366H83M79.5 1371H83M79.5 1374H83M79.5 1386H83" stroke="#000" stroke-width="1.5"/>
<text transform="translate(12 1327.6) rotate(-90)" font-size="13.5" font-family="'DejaVu Sans', sans-serif" text-anchor="middle">Contact</text>
<path d="M102 1402.3V1398.9H104V1398H106V1400.4H108V1397.9H110V1399.2H112V1399.7H114V1399.7H116V1402.3H118V1402.3H120V1402.3H122V1398.7H124V1398.7H126V1400.4H128V1400.3H130V1398H132V1398.4H134V1397.6H136V1398.3H138V1399.9H140V1398.2H142V1398.7H144V1399H146V1399.7H148V1399.1H150V1402.3H152V1398.5H154V1402.3H156V1398H158V1399.7H160V1398.8H162V1398.8H164V1399.8H166V1400H168V1398.4H170V1398.8H172V1399.3H174V1398.9H176V1399.6H178V1399H180V1399.6H182V1399H184V1398.4H186V1399.4H188V1398.5H190V1399.9H192V1399.3H194V1400.1H196V1399.2H198V1399.1H200V1399.3H202V1399.3H204V1398.2H206V1398.1H208V1400H210V1398.3H212V1400.4H214V1399.7H216V1399.3H218V1399.1H220V1399.9H222V1399.7H224V1402.3H226V1402.3H228V1402.3H230V1402.3H232V1398.5H234V1402.3H236V1399.1H238V1399.2H240V1399.5H242V1399.5H244V1399.9H246V1398.7H248V1399.2H250V1399.2H252V1402.3H254V1398.8H256V1398.1H258V1399.3H260V1399.4H262V1399H264V1399.7H266V1398.2H268V1398.5H270V1398.6H272V1399.2H274V1398.6H276V1398.4H278V1398.8H280V1399.3H282V1400.4H284V1398.5H286V1399.4H287.9V1399.7H289.9V1398.5H291.9V1398.9H293.9V1400.2H295.9V1399.2H297.9V1399.3H299.9V1402.3H301.9V1400.5H303.9V1399.4H305.9V1399.2H307.9V1398.1H309.9V1399.9H311.9V1401.3H313.9V1400.1H315.9V1398.9H317.9V1398.6H319.9V1397.9H321.9V1402.3H323.9V1399.7H325.9V1402.3H327.9V1399.1H329.9V1399.3H331.9V1402.3H333.9V1402.3H335.9V1399.8H337.9V1402.3H339.9V1399.2H341.9V1402.3H343.9V1402.3H345.9V1402.3H347.9V1398.9H349.9V1398.2H351.9V1398.6H353.9V1398.6H355.9V1398.2H357.9V1400.6H359.9V1400.2H361.9V1399.6H363.9V1400H365.9V1402.3H367.9V1402.3H369.9V1402.3H371.9V1402.3H373.9V1400.6H375.9V1399.8H377.9V1402.3H379.9V1402.3H381.9V1398.9H383.9V1402.3H385.9V1402.3H387.9V1402.3H389.9V1399H391.9V1398.6H393.9V1402.3H395.9V1400.2H397.9V1402.3H399.9V1402.3H401.9V1402.3H403.9V1402.3H405.9V1399.4H407.9V1399.3H409.9V1398.3H411.9V1399.6H413.9V1398H415.9V1400H417.9V1399.6H419.9V1398.5H421.9V1398.8H423.9V1399.8H425.9V1399.2H427.9V1399.6H429.9V1398.5H431.9V1402.3H433.9V1399.7H435.9V1402.3H437.9V1402.3H439.9V1402.3H441.9V1402.3H443.9V1399.5H445.9V1402.3H447.9V1402.3H449.9V1402.3H451.9V1398.3H453.9V1399.3H455.9V1400.2H457.9V1399.5H459.9V1402.3H461.9V1402.3H463.9V1402.3H465.9V1402.3H467.9V1402.3H469.9V1402.3H471.9V1399.9H473.9V1402.3H475.9V1399.3H477.9V1399.9H479.9V1399.9H481.9V1402.3H483.9V1398H485.9V1398.6H487.9V1402.3H489.9V1399.2H491.9V1398.9H493.9V1398.7H495.9V1398.9H497.9V1402.3H499.9V1398.8H501.9V1399.5H503.9V1400.8H505.9V1402.3H507.9V1399.6H509.9V1402.3H511.9V1398.4H513.9V1399.9H515.9V1402.3H517.9V1399.1H519.9V1400.2H521.9V1400.6H523.9V1399.2H525.9V1399H527.9V1402.3H529.9V1402.3H531.9V1399.2H533.9V1399.6H535.9V1399.8H537.9V1399.4H539.9V1400H541.9V1398.7H543.9V1399.1H545.9V1399.5H547.9V1398.9H549.9V1399.2H551.9V1400.2H553.9V1402.3H555.9V1402.3H557.9V1400.4H559.9V1402.3H561.9V1398.8H563.9V1402.3H565.9V1398.1H567.9V1397.9H569.9V1399.4H571.9V1398.7H573.9V1397.7H575.9V1399.4H577.9V1399.8H579.9V1399.4H581.9V1400.1H583.9V1400.1H585.9V1399H587.9V1399.4H589.9V1399H591.9V1402.3H593.9V1399.7H595.9V1399.3H597.9V1399.3H599.9V1399.6H601.9V1402.3H603.9V1398.9H605.9V1399.2H607.9V1402.3H609.9V1398.4H611.9V1398.4H613.9V1402.3H615.9V1399.8H617.9V1399.3H619.9V1399H621.9V1398.5H623.9V1399.8H625.9V1399.5H627.9V1399H629.9V1398.2H631.9V1398.1H633.9V1399.9H635.9V1399.3H637.9V1399.7H639.9V1398.5H641.9V1398.8H643.9V1399.4H645.9V1399.6H647.9V1398.9H649.9V1398.4H651.9V1399.7H653.9V1399.4H655.8V1399.1H657.8V1399.1H659.8V1398.9H661.8V1399.9H663.8V1399.6H665.8V1400.7H667.8V1399.1H669.8V1398.4H671.8V1400.6H673.8V1399.6H675.8V1398.5H677.8V1399.2H679.8V1400.5H681.8V1398.3H683.8V1400.2H685.8V1398.1H687.8V1399.6H689.8V1399.6H691.8V1399.1H693.8V1402.3H695.8V1402.3H697.8V1398.8H699.8V1399.2H701.8V1398.2H703.8V1402.3H705.8V1402.3H707.8V1402.3H709.8V1399.2H711.8V1402.3H713.8V1398.7H715.8V1402.3H717.8V1402.3H719.8V1402.3H721.8V1399.3H723.8V1398.8H725.8V1398.5H727.8V1399.9H729.8V1399.3H731.8V1397.9H733.8V1399.8H735.8V1398.3H737.8V1399.9H739.8V1398.8H741.8V1399.9H743.8V1399.6H745.8V1399.4H747.8V1399.5H749.8V1398.4H751.8V1398.5H753.8V1398.5H755.8V1399H757.8V1398H759.8V1398.4H761.8V1398.9H763.8V1399.9H765.8V1398.6H767.8V1398.7H769.8V1402.3H771.8V1402.3H773.8V1398.6H775.8V1399.4H777.8V1398.7H779.8V1398.9H781.8V1398.9H783.8V1402.3H785.8V1402.3H787.8V1399.1H789.8V1398.1H791.8V1397.5H793.8V1399.4H795.8V1399.9H797.8V1399.4H799.8V1399.7H801.8V1399.4H803.8V1398.8H805.8V1399.8H807.8V1398.7H809.8V1398.6H811.8V1398H813.8V1397.8H815.8V1398.4H817.8V1397.5H819.8V1399.5H821.8V1398.9H823.8V1402.3H825.8V1402.3H827.8V1398.4H829.8V1402.3H831.8V1402.3H833.8V1398.2H835.8V1402.3H837.8V1402.3H839.8V1399.8H841.8V1400.9H843.8V1399.2H845.8V1398.9H847.8V1399H849.8V1399.9H851.8V1399.5H853.8V1397.9H855.8V1398.6H857.8V1398.7H859.8V1399.4H861.8V1398.6H863.8V1398.2H865.8V1398.6H867.8V1399.4H869.8V1398.9H871.8V1399.8H873.8V1399.3H875.8V1398.7H877.8V1399.5H879.8V1399.3H881.8V1402.3H883.8V1399.2H885.8V1398.6H887.8V1399.3H889.8V1399.9H891.8V1399.1H893.8V1399.4H895.8V1400.6H897.8V1400H899.8V1399.4H901.8V1398.1H903.8V1399.5H905.8V1399.1H907.8V1398.7H909.8V1398.9H911.8V1399.4H913.8V1397.9H915.8V1398.2H917.8V1402.3H919.8V1402.3H921.8V1398.7H923.8V1398.4H925.8V1399.1H927.8V1398.5H929.8V1397.7H931.8V1397.9H933.8V1397.8H935.8V1398.4H937.8V1398.5H939.8V1398.4H941.8V1399.9H943.8V1397.5H945.8V1399H947.8V1398.9H949.8V1399H951.8V1398.8H953.8V1400.6H955.8V1399H957.8V1400H959.8V1402.3H961.8V1400.5H963.8V1400.4H965.8V1398.7H967.8V1399.5H969.8V1399.2H971.8V1399.2H973.8V1400H975.8V1399.6H977.8V1400H979.8V1399.4H981.8V1400.7H983.8V1399.4H985.8V1398.5H987.8V1398.3H989.8V1398.3H991.8V1398.8H993.8V1399.9H995.8V1402.3H997.8V1398.8H999.8V1402.3H1001.8V1402.3H1003.8V1398.9H1005.8V1402.3H1007.8V1398.6H1009.8V1402.3H1011.8V1402.3H1013.8V1402.3H1015.8V1399H1017.8V1402.3H1019.8V1398.9H1021.8V1402.3H1023.7V1402.3H1025.7V1399.7H1027.7V1402.3H1029.7V1398.8H1031.7V1402.3H1033.7V1398.7H1035.7V1400.5H1037.7V1398.3H1039.7V1399.2H1041.7V1397.9H1043.7V1400.9H1045.7V1400.3H1047.7V1398.1H1049.7V1399H1051.7V1398.9H1053.7V1399H1055.7V1399H1057.7V1398.7H1059.7V1399.9H1061.7V1402.3H1063.7V1398.2H1065.7V1399H1067.7V1399.6H1069.7V1399.1H1071.7V1398.4H1073.7V1399.3H1075.7V1399.3H1077.7V1398.8H1079.7V1398.5H1081.7V1398.1H1083.7V1399.2H1085.7V1402.3H1087.7V1402.3H1089.7V1402.3H1091.7V1402.3H1093.7V1398.8H1095.7V1402.3H1097.7V1399.7H1099.7V1398.7H1101.7V1398.2H1103.7V1399.2H1105.7V1399.5H1107.7V1399.3H1109.7V1398H1111.7V1398.2H1113.7V1399.1H1115.7V1399.9H1117.7V1400H1119.7V1402.3H1121.7V1399.3H1123.7V1398.9H1125.7V1399.9H1127.7V1399.2H1129.7V1398.7H1131.7V1400.3H1133.7V1397.5H1135.7V1398.7H1137.7V1398.7H1139.7V1402.3H1141.7V1402.3H1143.7V1402.3H1145.7V1398.5H1147.7V1400.9H1149.7V1398.3H1151.7V1398.6H1153.7V1398.7H1155.7V1399.9H1157.7V1398.9H1159.7V1399.5H1161.7V1398.7H1163.7V1397.8H1165.7V1398.6H1167.7V1398.4H1169.7V1399.3H1171.7V1399.8H1173.7V1399.1H1175.7V1398.4H1177.7V1398H1179.7V1399.1H1181.7V1402.3H1183.7V1399.4H1185.7V1402.3H1187.7V1399H1189.7V1398.9H1191.7V1399.4H1193.7V1399.2H1195.7V1400.4H1197.7V1399.1H1199.7V1398.1H1201.7V1399.1H1203.7V1398.7H1205.7V1398.8H1207.7V1399.6H1209.7V1399H1211.7V1399.7H1213.7V1397H1215.7V1399H1217.7V1399.9H1219.7V1400.2H1221.7V1398H1223.7V1398.7H1225.7V1398.8H1227.7V1400.1H1229.7V1399.5H1231.7V1400H1233.7V1398.3H1235.7V1399.5H1237.7V1397.7H1239.7V1398.7H1241.7V1399.3H1243.7V1398.1H1245.7V1400.6H1247.7V1399.7H1249.7V1399.4H1251.7V1398.3H1253.7V1398.3H1255.7V1398.8H1257.7V1400.4H1259.7V1399.5H1261.7V1399.9H1263.7V1402.3H1265.7V1402.3H1267.7V1402.3H1269.7V1397.8H1271.7V1399.2H1273.7V1398.6H1275.7V1399.4H1277.7V1399.1H1279.7V1402.3H1281.7V1399.1H1283.7V1402.3H1285.7V1402.3H1287.7V1402.3H1289.7V1402.3H1291.7V1398.9H1293.7V1399.3H1295.7V1402.3H1297.7V1402.3H1299.7V1398.9H1301.7V1402.3H1303.7V1402.3H1305.7V1402.3H1307.7V1402.3H1309.7V1398H1311.7V1402.3H1313.7V1402.3H1315.7V1402.3H1317.7V1402.3H1319.7V1397.9H1321.7V1402.3H1323.7V1398.4H1325.7V1402.3H1327.7V1402.3H1329.7V1398.8H1331.7V1399.4H1333.7V1399.3H1335.7V1398.6H1337.7V1399.6H1339.7V1399.8H1341.7V1398.6H1343.7V1398.9H1345.7V1399.8H1347.7V1398.8H1349.7V1399.5H1351.7V1398.7H1353.7V1399.1H1355.7V1399.3H1357.7V1399.7H1359.7V1399H1361.7V1399.2H1363.7V1397.8H1365.7V1399.2H1367.7V1400.1H1369.7V1397.6H1371.7V1400.6H1373.7V1397.9H1375.7V1399.7H1377.7V1402.3H1379.7V1399.3H1381.7V1398.7H1383.7V1402.3H1385.7V1402.3H1387.7V1398.7H1389.7V1402.3H1391.6V1402.3H1393.6V1402.3H1395.6V1402.3H1397.6V1399.5H1399.6V1402.3H1401.6V1398.2H1403.6V1399.7H1405.6V1399.7H1407.6V1399.9H1409.6V1399.4H1411.6V1398.7H1413.6V1399.7H1415.6V1399.3H1417.6V1399.6H1419.6V1399.1H1421.6V1400.6H1423.6V1398.7H1425.6V1398.5H1427.6V1399.7H1429.6V1399.2H1431.6V1399.8H1433.6V1398.4H1435.6V1398.7H1437.6V1397H1439.6V1399.3H1441.6V1399.8H1443.6V1399.5H1445.6V1400H1447.6V1399H1449.6V1398.9H1451.6V1398.5H1453.6V1398.8H1455.6V1399.4H1457.6V1398.2H1459.6V1398.7H1461.6V1398.5H1463.6V1400H1465.6V1399.7H1467.6V1399.6H1469.6V1399.4H1471.6V1400.7H1473.6V1398.2H1475.6V1399.3H1477.6V1398.5H1479.6V1398.6H1481.6V1398H1483.6V1398.7H1485.6V1398.8H1487.6V1399.6H1489.6V1399H1491.6V1397.8H1493.6V1400.4H1495.6V1399.6H1497.6V1398.9H1499.6V1397.9H1501.6V1399.9H1503.6V1399.4H1505.6V1399H1507.6V1396.9H1509.6V1399.7H1511.6V1402.3H1513.6V1398.5H1515.6V1402.3H1517.6V1402.3H1519.6V1398.8H1521.6V1402.3H1523.6V1398.8H1525.6V1397.8H1527.6V1402.3H1529.6V1399.4H1531.6V1399.6H1533.6V1398.9H1535.6V1398.3H1537.6V1399H1539.6V1398.8H1541.6V1402.3H1543.6V1402.3H1545.6V1399.8H1547.6V1398.9H1549.6V1399.2H1551.6V1398.7H1553.6V1402.3H1555.6V1402.3H1557.6V1399.2H1559.6V1398.7H1561.6V1398.7H1563.6V1399.1H1565.6V1399.5H1567.6V1398.6H1569.6V1399.2H1571.6V1399.9H1573.6V1398.6H1575.6V1402.3Z" fill="#ff0000"/>
<path d="M117 1402.3v4.9M119 1402.3v13.9M121 1402.3v15.6M151 1402.3v6.1M155 1402.3v13.1M225 1402.3v23.1M227 1402.3v33.3M229 1402.3v22.5M231 1402.3v12.6M235 1402.3v30.6M253 1402.3v17.3M300.9 1402.3v9.6M322.9 1402.3v26.7M326.9 1402.3v13.6M332.9 1402.3v13.4M334.9 1402.3v26.2M338.9 1402.3v11.9M342.9 1402.3v22M344.9 1402.3v14.8M346.9 1402.3v20.4M366.9 1402.3v6.4M368.9 1402.3v19.1M370.9 1402.3v21.9M372.9 1402.3v13.8M378.9 1402.3v13.5M380.9 1402.3v11.1M384.9 1402.3v13.4M386.9 1402.3v20M388.9 1402.3v21.5M394.9 1402.3v13.1M398.9 1402.3v21.2M400.9 1402.3v18.6M402.9 1402.3v18.2M404.9 1402.3v21.7M432.9 1402.3v25.1M436.9 1402.3v20.4M438.9 1402.3v22.6M440.9 1402.3v17.5M442.9 1402.3v11.1M446.9 1402.3v8.2M448.9 1402.3v19.8M450.9 1402.3v14.4M460.9 1402.3v28.1M462.9 1402.3v29M464.9 1402.3v23M466.9 1402.3v8.9M468.9 1402.3v18.5M470.9 1402.3v22.5M474.9 1402.3v27.5M482.9 1402.3v19.6M488.9 1402.3v11.8M498.9 1402.3v17.5M506.9 1402.3v25.7M510.9 1402.3v10.6M516.9 1402.3v14.2M528.9 1402.3v11.2M530.9 1402.3v13M554.9 1402.3v23.5M556.9 1402.3v19.1M560.9 1402.3v15.7M564.9 1402.3v24.1M592.9 1402.3v13.2M602.9 1402.3v24.4M608.9 1402.3v24.7M614.9 1402.3v18.9M694.8 1402.3v22.2M696.8 1402.3v18M704.8 1402.3v8.7M706.8 1402.3v14.4M708.8 1402.3v10.9M712.8 1402.3v22.2M716.8 1402.3v18.3M718.8 1402.3v6.8M720.8 1402.3v25.9M770.8 1402.3v8M772.8 1402.3v16.7M784.8 1402.3v12.2M786.8 1402.3v18.1M824.8 1402.3v26.1M826.8 1402.3v21.7M830.8 1402.3v9.8M832.8 1402.3v19.5M836.8 1402.3v17.2M838.8 1402.3v19.7M882.8 1402.3v18.4M918.8 1402.3v17.2M920.8 1402.3v15.7M960.8 1402.3v7.1M996.8 1402.3v9.8M1000.8 1402.3v33.2M1002.8 1402.3v17.2M1006.8 1402.3v17.3M1010.8 1402.3v17.9M1012.8 1402.3v19.7M1014.8 1402.3v23.6M1018.8 1402.3v6.7M1022.8 1402.3v12.7M1024.7 1402.3v4.7M1028.7 1402.3v7M1032.7 1402.3v8.3M1062.7 1402.3v12.9M1086.7 1402.3v14.5M1088.7 1402.3v24.9M1090.7 1402.3v13.1M1092.7 1402.3v19.1M1096.7 1402.3v23.2M1120.7 1402.3v13.9M1140.7 1402.3v8.5M1142.7 1402.3v10.9M1144.7 1402.3v25.7M1182.7 1402.3v12.2M1186.7 1402.3v20M1264.7 1402.3v25.9M1266.7 1402.3v10.8M1268.7 1402.3v28.9M1280.7 1402.3v9.2M1284.7 1402.3v29.1M1286.7 1402.3v27.6M1288.7 1402.3v14.4M1290.7 1402.3v28.6M1296.7 1402.3v27.9M1298.7 1402.3v20.3M1302.7 1402.3v25.8M1304.7 1402.3v36.3M1306.7 1402.3v22.8M1308.7 1402.3v38.9M1312.7 1402.3v15.4M1314.7 1402.3v11.2M1316.7 1402.3v37.7M1318.7 1402.3v24M1322.7 1402.3v17.3M1326.7 1402.3v10.7M1328.7 1402.3v8.7M1378.7 1402.3v8.1M1384.7 1402.3v12.3M1386.7 1402.3v16.7M1390.7 1402.3v31M1392.6 1402.3v11.2M1394.6 1402.3v29.9M1396.6 1402.3v13.1M1400.6 1402.3v29.4M1512.6 1402.3v25.7M1516.6 1402.3v20.7M1518.6 1402.3v10.9M1522.6 1402.3v24.8M1528.6 1402.3v15.3M1542.6 1402.3v14.8M1544.6 1402.3v13.7M1554.6 1402.3v24.7M1556.6 1402.3v20.5" stroke="#0000ff" stroke-width="2.1" fill="none"/>
<line x1="102" y1="1494.5" x2="1575.6" y2="1494.5" stroke="#e24a33" stroke-width="1.3"/>
<path d="M102 1495V1489.1H105.7V1494.5H109.4V1495H113.1V1495H116.7V1491.5H120.4V1494.8H124.1V1495H127.8V1494.9H131.5V1482.2H135.2V1492.9H138.8V1489.7H142.5V1490.3H146.2V1490.9H149.9V1492.4H153.6V1489.7H157.3V1492.5H160.9V1494.4H164.6V1494H168.3V1494.9H172V1492.7H175.7V1491.5H179.4V1492.8H183V1487H186.7V1488.5H190.4V1477.6H194.1V1494.4H197.8V1495H201.5V1495H205.2V1492.7H208.8V1487.9H212.5V1494H216.2V1494.8H219.9V1494.2H223.6V1495H227.3V1495H230.9V1489.9H234.6V1488.1H238.3V1495H242V1495H245.7V1492.9H249.4V1494.3H253V1488H256.7V1494.4H260.4V1488.7H264.1V1475.4H267.8V1494H271.5V1495H275.1V1493.6H278.8V1495H282.5V1494.8H286.2V1486.6H289.9V1495H293.6V1480H297.3V1492.2H300.9V1480.8H304.6V1495H308.3V1492.5H312V1491.2H315.7V1487.3H319.4V1492.7H323V1492.4H326.7V1491.9H330.4V1490.5H334.1V1479.8H337.8V1492.1H341.5V1495H345.1V1480.9H348.8V1492.9H352.5V1491.7H356.2V1492H359.9V1491.8H363.6V1495H367.2V1495H370.9V1495H374.6V1495H378.3V1490H382V1495H385.7V1495H389.4V1495H393V1495H396.7V1494.7H400.4V1485.8H404.1V1495H407.8V1490.8H411.5V1484.7H415.1V1487.3H418.8V1482H422.5V1488.7H426.2V1491.3H429.9V1495H433.6V1492.1H437.2V1479.8H440.9V1494.5H444.6V1487.5H448.3V1495H452V1491.9H455.7V1495H459.3V1494.1H463V1494.9H466.7V1494.9H470.4V1475.4H474.1V1495H477.8V1492.8H481.5V1492H485.1V1494.9H488.8V1493.8H492.5V1489.6H496.2V1495H499.9V1494.1H503.6V1489H507.2V1494.3H510.9V1490.1H514.6V1491.1H518.3V1495H522V1494.2H525.7V1493.7H529.3V1495H533V1494.8H536.7V1494.7H540.4V1495H544.1V1492.4H547.8V1488.2H551.4V1493H555.1V1495H558.8V1493.7H562.5V1486.6H566.2V1495H569.9V1494.4H573.6V1487.5H577.2V1479.8H580.9V1494.2H584.6V1491.4H588.3V1495H592V1492.7H595.7V1492.8H599.3V1495H603V1475.4H606.7V1485.9H610.4V1491.9H614.1V1495H617.8V1495H621.4V1495H625.1V1493H628.8V1493.4H632.5V1492.7H636.2V1491H639.9V1493.5H643.5V1490.3H647.2V1495H650.9V1491H654.6V1495H658.3V1468.9H662V1493.2H665.7V1494.5H669.3V1491.9H673V1495H676.7V1492.7H680.4V1482.8H684.1V1494.2H687.8V1485.7H691.4V1487.3H695.1V1495H698.8V1494.2H702.5V1491.8H706.2V1492.7H709.9V1493.1H713.5V1494.5H717.2V1479.8H720.9V1486.9H724.6V1495H728.3V1493.7H732V1495H735.6V1492.1H739.3V1451.5H743V1462.4H746.7V1471.1H750.4V1485.1H754.1V1494.6H757.8V1492H761.4V1492.5H765.1V1493.8H768.8V1489.8H772.5V1494H776.2V1493.8H779.9V1495H783.5V1494.1H787.2V1482.1H790.9V1490.1H794.6V1490.4H798.3V1495H802V1495H805.6V1485.7H809.3V1494.6H813V1484.1H816.7V1494.5H820.4V1495H824.1V1479.8H827.7V1495H831.4V1495H835.1V1491.1H838.8V1484.2H842.5V1486.8H846.2V1495H849.9V1489.2H853.5V1492.6H857.2V1495H860.9V1492.4H864.6V1490.1H868.3V1492.3H872V1495H875.6V1487.8H879.3V1482.4H883V1490.5H886.7V1495H890.4V1485.9H894.1V1494.5H897.7V1492.1H901.4V1482.6H905.1V1488.8H908.8V1492.8H912.5V1491.6H916.2V1490.3H919.8V1484.6H923.5V1495H927.2V1491.5H930.9V1487H934.6V1494.4H938.3V1495H942V1491.8H945.6V1490.5H949.3V1494.6H953V1494.4H956.7V1495H960.4V1483.2H964.1V1483.6H967.7V1491.9H971.4V1491.9H975.1V1493.1H978.8V1477.6H982.5V1492.4H986.2V1482.4H989.8V1494.1H993.5V1494.3H997.2V1490.7H1000.9V1494.6H1004.6V1491.5H1008.3V1493.4H1011.9V1490.7H1015.6V1495H1019.3V1489.1H1023V1495H1026.7V1492.6H1030.4V1494.5H1034.1V1494.7H1037.7V1485.5H1041.4V1495H1045.1V1486.4H1048.8V1493.1H1052.5V1495H1056.2V1486.1H1059.8V1487.5H1063.5V1494.3H1067.2V1495H1070.9V1495H1074.6V1491H1078.3V1490.4H1081.9V1495H1085.6V1495H1089.3V1493.4H1093V1491.7H1096.7V1492.3H1100.4V1489.8H1104V1495H1107.7V1491.5H1111.4V1495H1115.1V1495H1118.8V1493.2H1122.5V1494.4H1126.2V1491.8H1129.8V1494.8H1133.5V1484.1H1137.2V1490.6H1140.9V1494.4H1144.6V1493.1H1148.3V1492.6H1151.9V1495H1155.6V1495H1159.3V1492.5H1163V1493.6H1166.7V1486.4H1170.4V1495H1174V1489.4H1177.7V1486.5H1181.4V1493.3H1185.1V1494.2H1188.8V1488.4H1192.5V1493.4H1196.1V1490.1H1199.8V1494.7H1203.5V1494H1207.2V1495H1210.9V1495H1214.6V1490.4H1218.3V1479.8H1221.9V1479.8H1225.6V1493.2H1229.3V1475.4H1233V1494.8H1236.7V1490.8H1240.4V1492.8H1244V1484.1H1247.7V1481.7H1251.4V1494.1H1255.1V1484.1H1258.8V1494.2H1262.5V1495H1266.1V1492.9H1269.8V1492.9H1273.5V1489.6H1277.2V1491.1H1280.9V1494.5H1284.6V1495H1288.2V1491.2H1291.9V1495H1295.6V1492H1299.3V1494.8H1303V1486.5H1306.7V1495H1310.4V1492.4H1314V1484.1H1317.7V1493.5H1321.4V1489.7H1325.1V1481.2H1328.8V1495H1332.5V1495H1336.1V1494H1339.8V1487.8H1343.5V1486.3H1347.2V1495H1350.9V1495H1354.6V1494.7H1358.2V1491.2H1361.9V1495H1365.6V1493.6H1369.3V1485H1373V1494.6H1376.7V1493.8H1380.3V1483.7H1384V1484.8H1387.7V1495H1391.4V1495H1395.1V1495H1398.8V1495H1402.5V1479.8H1406.1V1494.2H1409.8V1491.4H1413.5V1493.1H1417.2V1485.6H1420.9V1494.7H1424.6V1490.8H1428.2V1491.9H1431.9V1495H1435.6V1484.9H1439.3V1492.1H1443V1495H1446.7V1495H1450.3V1494.7H1454V1492.3H1457.7V1494.7H1461.4V1460.2H1465.1V1495H1468.8V1492.2H1472.4V1495H1476.1V1487.5H1479.8V1481H1483.5V1494.8H1487.2V1489.6H1490.9V1492.9H1494.6V1475.4H1498.2V1494.5H1501.9V1489.8H1505.6V1480.7H1509.3V1487.7H1513V1495H1516.7V1491.4H1520.3V1495H1524V1492.4H1527.7V1491.3H1531.4V1482H1535.1V1495H1538.8V1487.8H1542.4V1495H1546.1V1488.4H1549.8V1495H1553.5V1495H1557.2V1490.7H1560.9V1495H1564.5V1494.2H1568.2V1493.8H1571.9V1494.2H1575.6V1495Z" fill="#e24a33"/>
<path d="M102 1540.5V1508.5H105.7V1507.3H109.4V1507.5H113.1V1507.1H116.7V1508.6H120.4V1506.6H124.1V1507.4H127.8V1508.4H131.5V1508.6H135.2V1508.5H138.8V1508.1H142.5V1506.6H146.2V1506.8H149.9V1507.9H153.6V1507.9H157.3V1506H160.9V1506.8H164.6V1508.1H168.3V1507.6H172V1512.8H175.7V1507.4H179.4V1506.8H183V1507.7H186.7V1507.2H190.4V1507H194.1V1506.9H197.8V1508H201.5V1507.7H205.2V1505.9H208.8V1507.6H212.5V1507.5H216.2V1507.1H219.9V1508H223.6V1507.8H227.3V1506.2H230.9V1506.5H234.6V1508.4H238.3V1507.4H242V1508.5H245.7V1508.7H249.4V1507.5H253V1506.3H256.7V1507.6H260.4V1506.3H264.1V1508.3H267.8V1507.4H271.5V1507.4H275.1V1507.4H278.8V1506.7H282.5V1507H286.2V1507.9H289.9V1508.6H293.6V1507.9H297.3V1507.5H300.9V1507.9H304.6V1508.7H308.3V1508.9H312V1506.9H315.7V1507.3H319.4V1508H323V1507.1H326.7V1507.1H330.4V1507.7H334.1V1507.8H337.8V1506.6H341.5V1506.8H345.1V1506.4H348.8V1506.7H352.5V1507.3H356.2V1507.9H359.9V1507.8H363.6V1508H367.2V1507.4H370.9V1507.3H374.6V1506.6H378.3V1506.4H382V1507.5H385.7V1507.2H389.4V1508.4H393V1508H396.7V1508.4H400.4V1507.4H404.1V1507.9H407.8V1508.1H411.5V1507.5H415.1V1509H418.8V1507.6H422.5V1507.1H426.2V1506.5H429.9V1508.4H433.6V1507.8H437.2V1509.1H440.9V1506.4H444.6V1507.7H448.3V1507.3H452V1508.7H455.7V1507.7H459.3V1508H463V1508.5H466.7V1508.5H470.4V1508.3H474.1V1508.2H477.8V1508.9H481.5V1506.5H485.1V1507.6H488.8V1507.5H492.5V1507.5H496.2V1507.8H499.9V1507.6H503.6V1507.2H507.2V1507.8H510.9V1506.6H514.6V1507.8H518.3V1506.7H522V1508.3H525.7V1507.4H529.3V1507.1H533V1506.6H536.7V1506.5H540.4V1508.4H544.1V1508.1H547.8V1506.4H551.4V1507.9H555.1V1508.8H558.8V1506.7H562.5V1507.1H566.2V1508.5H569.9V1508.1H573.6V1506.6H577.2V1507.9H580.9V1508H584.6V1507.9H588.3V1506.6H592V1508.9H595.7V1507.3H599.3V1507.6H603V1507.3H606.7V1507.1H610.4V1507.6H614.1V1507.2H617.8V1507.3H621.4V1506.5H625.1V1509.4H628.8V1507.8H632.5V1507.6H636.2V1508.7H639.9V1506.5H643.5V1507.2H647.2V1508.9H650.9V1507.8H654.6V1507H658.3V1507.5H662V1508.1H665.7V1507.1H669.3V1507.3H673V1508.3H676.7V1507.7H680.4V1506.5H684.1V1506.6H687.8V1508.3H691.4V1508H695.1V1506.4H698.8V1507.1H702.5V1507.5H706.2V1507.8H709.9V1507.4H713.5V1506.8H717.2V1509.3H720.9V1506.8H724.6V1508.2H728.3V1508.5H732V1508H735.6V1508.4H739.3V1508.3H743V1507.5H746.7V1507.8H750.4V1506.7H754.1V1508.7H757.8V1506.9H761.4V1508.4H765.1V1507.4H768.8V1507.8H772.5V1506.8H776.2V1508.5H779.9V1507.4H783.5V1506.3H787.2V1506.5H790.9V1507.7H794.6V1506.9H798.3V1506.6H802V1507.1H805.6V1506.5H809.3V1506.7H813V1509.2H816.7V1507H820.4V1504.7H824.1V1507.7H827.7V1507.7H831.4V1507.4H835.1V1508.1H838.8V1507.7H842.5V1507.5H846.2V1505.9H849.9V1507.6H853.5V1507H857.2V1507.6H860.9V1508.2H864.6V1508H868.3V1508.3H872V1506.4H875.6V1507.7H879.3V1508.6H883V1507.5H886.7V1505.8H890.4V1507.3H894.1V1507.5H897.7V1507.2H901.4V1507.8H905.1V1508.3H908.8V1506.4H912.5V1510.1H916.2V1507.9H919.8V1508.2H923.5V1507.6H927.2V1508.1H930.9V1506.6H934.6V1506.2H938.3V1507.4H942V1508.5H945.6V1508.1H949.3V1507.8H953V1508.2H956.7V1508.5H960.4V1506.1H964.1V1506.7H967.7V1508.3H971.4V1508.2H975.1V1507.4H978.8V1508H982.5V1507H986.2V1506.9H989.8V1507.4H993.5V1508.2H997.2V1507.7H1000.9V1508.8H1004.6V1507.8H1008.3V1506.1H1011.9V1507.9H1015.6V1506.9H1019.3V1506.5H1023V1506.2H1026.7V1508.5H1030.4V1507.7H1034.1V1507.9H1037.7V1506.4H1041.4V1506.6H1045.1V1508.3H1048.8V1512.9H1052.5V1507.2H1056.2V1505.9H1059.8V1507.8H1063.5V1506.5H1067.2V1508.2H1070.9V1508.5H1074.6V1506.8H1078.3V1508.1H1081.9V1508.7H1085.6V1506.5H1089.3V1507H1093V1508.5H1096.7V1506.8H1100.4V1507.2H1104V1507.1H1107.7V1508.3H1111.4V1507.8H1115.1V1509.2H1118.8V1509.2H1122.5V1506.9H1126.2V1507.9H1129.8V1507.3H1133.5V1507.7H1137.2V1507.9H1140.9V1507.9H1144.6V1507.1H1148.3V1507.7H1151.9V1508.7H1155.6V1506.6H1159.3V1506.4H1163V1506.9H1166.7V1506.3H1170.4V1507.4H1174V1507.5H1177.7V1506.6H1181.4V1507.1H1185.1V1508.5H1188.8V1507.6H1192.5V1507.4H1196.1V1505.8H1199.8V1507.5H1203.5V1508.1H1207.2V1508.4H1210.9V1507.6H1214.6V1508H1218.3V1507.6H1221.9V1508.3H1225.6V1508.8H1229.3V1507.7H1233V1507.2H1236.7V1507.4H1240.4V1508.7H1244V1507.8H1247.7V1506.9H1251.4V1507.3H1255.1V1508H1258.8V1507.9H1262.5V1507.9H1266.1V1507.3H1269.8V1507.8H1273.5V1507.2H1277.2V1507.4H1280.9V1507.4H1284.6V1506.9H1288.2V1506.8H1291.9V1507.8H1295.6V1507.7H1299.3V1506.8H1303V1507.8H1306.7V1508.5H1310.4V1508H1314V1508.4H1317.7V1507.5H1321.4V1507.4H1325.1V1506.5H1328.8V1507.2H1332.5V1507H1336.1V1506.3H1339.8V1506.9H1343.5V1508.2H1347.2V1507.6H1350.9V1508H1354.6V1507.7H1358.2V1506.6H1361.9V1505.2H1365.6V1506.9H1369.3V1507.3H1373V1508.1H1376.7V1507.3H1380.3V1506.3H1384V1508.1H1387.7V1507.2H1391.4V1506.9H1395.1V1506.8H1398.8V1505.6H1402.5V1507.5H1406.1V1507.3H1409.8V1508.3H1413.5V1507.9H1417.2V1508.2H1420.9V1507.4H1424.6V1507.2H1428.2V1507H1431.9V1506.9H1435.6V1507.9H1439.3V1508.3H1443V1508.3H1446.7V1507.7H1450.3V1507.9H1454V1508.5H1457.7V1507.2H1461.4V1508.4H1465.1V1507.6H1468.8V1508H1472.4V1507.2H1476.1V1507.1H1479.8V1513.2H1483.5V1507.2H1487.2V1505.9H1490.9V1507.1H1494.6V1508.4H1498.2V1505.8H1501.9V1508.3H1505.6V1506.9H1509.3V1508.4H1513V1506.9H1516.7V1507.6H1520.3V1507.1H1524V1507.3H1527.7V1508.7H1531.4V1508.8H1535.1V1508.2H1538.8V1506.8H1542.4V1507.3H1546.1V1506.5H1549.8V1506.5H1553.5V1506.1H1557.2V1500.3H1560.9V1508.4H1564.5V1508.4H1568.2V1506.4H1571.9V1497.8H1575.6V1540.5Z" fill="#78b0d8"/>
<path d="M102 1585V1549.7H105.7V1549.8H109.4V1548.9H113.1V1547.4H116.7V1549.4H120.4V1553.6H124.1V1550H127.8V1546.7H131.5V1549.5H135.2V1550.5H138.8V1549.4H142.5V1548.6H146.2V1553.5H149.9V1546.6H153.6V1549.2H157.3V1551H160.9V1547H164.6V1548.6H168.3V1548.6H172V1549.9H175.7V1550.3H179.4V1546.9H183V1551H186.7V1549.8H190.4V1550.5H194.1V1547.1H197.8V1548.6H201.5V1549.9H205.2V1548.1H208.8V1546.5H212.5V1550.3H216.2V1550.2H219.9V1548.5H223.6V1548.7H227.3V1550.5H230.9V1549.8H234.6V1549H238.3V1547.9H242V1550.9H245.7V1548.1H249.4V1548.3H253V1546.3H256.7V1552.1H260.4V1549.4H264.1V1549.5H267.8V1547H271.5V1556.2H275.1V1549.7H278.8V1548.7H282.5V1548.2H286.2V1548.3H289.9V1550.7H293.6V1546.4H297.3V1549.9H300.9V1548.4H304.6V1547.7H308.3V1549.5H312V1548.3H315.7V1551H319.4V1549.2H323V1549.7H326.7V1551.1H330.4V1549.9H334.1V1550.4H337.8V1547.7H341.5V1550.1H345.1V1551.1H348.8V1549.3H352.5V1549.5H356.2V1545.5H359.9V1546.6H363.6V1548.8H367.2V1550.1H370.9V1545.9H374.6V1548.6H378.3V1551.4H382V1548.5H385.7V1551.4H389.4V1547.3H393V1551.8H396.7V1550.6H400.4V1549.9H404.1V1552.1H407.8V1546.6H411.5V1548.9H415.1V1548.1H418.8V1554.5H422.5V1549.6H426.2V1549.8H429.9V1565.8H433.6V1548.6H437.2V1550.2H440.9V1549.5H444.6V1555.7H448.3V1555.7H452V1549.9H455.7V1550.6H459.3V1549.9H463V1548.1H466.7V1561.2H470.4V1547.4H474.1V1549.4H477.8V1548.1H481.5V1548.5H485.1V1546.9H488.8V1550.1H492.5V1547.3H496.2V1548.5H499.9V1549.2H503.6V1545.5H507.2V1546.4H510.9V1551.2H514.6V1548.8H518.3V1548H522V1547.4H525.7V1550.7H529.3V1548.4H533V1548.7H536.7V1550.1H540.4V1547.9H544.1V1549.7H547.8V1549.1H551.4V1563.2H555.1V1548.3H558.8V1548.3H562.5V1549.5H566.2V1556.3H569.9V1549H573.6V1548.6H577.2V1548.8H580.9V1549.4H584.6V1547.6H588.3V1549.5H592V1548.9H595.7V1546.8H599.3V1550.2H603V1549H606.7V1548.6H610.4V1550.1H614.1V1551H617.8V1550.4H621.4V1556.6H625.1V1549H628.8V1555.4H632.5V1548H636.2V1546.3H639.9V1548.8H643.5V1548.7H647.2V1548.3H650.9V1549.7H654.6V1551.2H658.3V1550.1H662V1548.8H665.7V1549H669.3V1549H673V1549.9H676.7V1548.9H680.4V1549.5H684.1V1549.2H687.8V1550.8H691.4V1550.2H695.1V1549H698.8V1546.9H702.5V1548.9H706.2V1548.2H709.9V1546.3H713.5V1564.6H717.2V1549.5H720.9V1551.8H724.6V1549.5H728.3V1547.3H732V1550.4H735.6V1549.5H739.3V1549.3H743V1548.7H746.7V1550.5H750.4V1547.9H754.1V1548.2H757.8V1550.5H761.4V1553.1H765.1V1548.2H768.8V1548.8H772.5V1557H776.2V1551.6H779.9V1550.2H783.5V1549.4H787.2V1548.7H790.9V1549.2H794.6V1547.7H798.3V1550.7H802V1550.8H805.6V1549.1H809.3V1547.3H813V1550.9H816.7V1551.1H820.4V1546.6H824.1V1550.1H827.7V1548.9H831.4V1547.1H835.1V1550.5H838.8V1548.9H842.5V1548.3H846.2V1549.3H849.9V1549.5H853.5V1550H857.2V1549.6H860.9V1547.6H864.6V1552.2H868.3V1548.5H872V1549.1H875.6V1549H879.3V1549H883V1549.1H886.7V1548.2H890.4V1551.9H894.1V1548H897.7V1548.1H901.4V1548.9H905.1V1555.9H908.8V1547.7H912.5V1546.1H916.2V1546.7H919.8V1547.1H923.5V1551.6H927.2V1546.6H930.9V1548.9H934.6V1549.9H938.3V1548.6H942V1547.3H945.6V1551.4H949.3V1547.9H953V1549.7H956.7V1548.8H960.4V1549.4H964.1V1548H967.7V1548.9H971.4V1550H975.1V1553.6H978.8V1561.7H982.5V1548.2H986.2V1550H989.8V1547.9H993.5V1547.3H997.2V1548.6H1000.9V1551.8H1004.6V1548.4H1008.3V1548.2H1011.9V1552.1H1015.6V1548.6H1019.3V1547H1023V1546.9H1026.7V1548.8H1030.4V1547.8H1034.1V1546.3H1037.7V1548H1041.4V1552.3H1045.1V1546.1H1048.8V1551.7H1052.5V1546.9H1056.2V1549.4H1059.8V1551.9H1063.5V1547.6H1067.2V1546.9H1070.9V1549H1074.6V1548.2H1078.3V1547.4H1081.9V1549.5H1085.6V1548.5H1089.3V1547.9H1093V1549.9H1096.7V1549.1H1100.4V1550.2H1104V1550.3H1107.7V1549.1H1111.4V1548.4H1115.1V1548.7H1118.8V1548.1H1122.5V1548H1126.2V1548H1129.8V1549.7H1133.5V1549.4H1137.2V1560.8H1140.9V1546.8H1144.6V1547.8H1148.3V1549.4H1151.9V1549.1H1155.6V1547.8H1159.3V1550.2H1163V1549.6H1166.7V1550.2H1170.4V1553.7H1174V1547.2H1177.7V1549.7H1181.4V1547.3H1185.1V1548.5H1188.8V1549.4H1192.5V1547.9H1196.1V1550.5H1199.8V1548.8H1203.5V1548.8H1207.2V1546H1210.9V1556H1214.6V1548.6H1218.3V1550.6H1221.9V1550.3H1225.6V1548.1H1229.3V1546.7H1233V1547.3H1236.7V1551H1240.4V1550.4H1244V1550.8H1247.7V1549.1H1251.4V1547.5H1255.1V1547.8H1258.8V1548.9H1262.5V1549H1266.1V1552.2H1269.8V1553.9H1273.5V1549.5H1277.2V1551.5H1280.9V1549.3H1284.6V1550.6H1288.2V1548.2H1291.9V1550H1295.6V1550.5H1299.3V1549.4H1303V1547.7H1306.7V1549.8H1310.4V1547.3H1314V1550.9H1317.7V1550.9H1321.4V1549.7H1325.1V1549.3H1328.8V1548.4H1332.5V1549.4H1336.1V1549.3H1339.8V1559.1H1343.5V1547.5H1347.2V1549.8H1350.9V1548.9H1354.6V1549H1358.2V1546.5H1361.9V1551.5H1365.6V1554.8H1369.3V1547.2H1373V1552.3H1376.7V1549.9H1380.3V1549.3H1384V1549H1387.7V1550.8H1391.4V1548.1H1395.1V1550.8H1398.8V1561.4H1402.5V1549.3H1406.1V1550.8H1409.8V1553.2H1413.5V1548.8H1417.2V1548.4H1420.9V1547.9H1424.6V1549.6H1428.2V1557.1H1431.9V1548.6H1435.6V1547.2H1439.3V1548.5H1443V1555.4H1446.7V1546.7H1450.3V1550.1H1454V1549.6H1457.7V1555.4H1461.4V1549.2H1465.1V1548.5H1468.8V1548.3H1472.4V1550.2H1476.1V1550.1H1479.8V1547.8H1483.5V1555.9H1487.2V1550.2H1490.9V1547.5H1494.6V1549.2H1498.2V1548.5H1501.9V1548.6H1505.6V1548.5H1509.3V1549.5H1513V1548.8H1516.7V1549.7H1520.3V1555.2H1524V1549.4H1527.7V1549.7H1531.4V1549.3H1535.1V1548.4H1538.8V1548.8H1542.4V1545.2H1546.1V1549.5H1549.8V1548.4H1553.5V1546.7H1557.2V1548.7H1560.9V1548.3H1564.5V1550.1H1568.2V1549.6H1571.9V1545.3H1575.6V1585Z" fill="#ffa500"/>
<line x1="102" y1="1628.5" x2="1575.6" y2="1628.5" stroke="#8fd3c0" stroke-width="1.3"/>
<path d="M102 1629V1629H105.7V1629H109.4V1629H113.1V1629H116.7V1629H120.4V1629H124.1V1629H127.8V1629H131.5V1627.9H135.2V1629H138.8V1629H142.5V1629H146.2V1629H149.9V1629H153.6V1629H157.3V1629H160.9V1610.6H164.6V1629H168.3V1613.3H172V1616H175.7V1629H179.4V1629H183V1629H186.7V1629H190.4V1624.8H194.1V1629H197.8V1629H201.5V1608.1H205.2V1611.7H208.8V1618.2H212.5V1606.2H216.2V1629H219.9V1629H223.6V1591H227.3V1629H230.9V1629H234.6V1615.7H238.3V1620.4H242V1629H245.7V1629H249.4V1629H253V1629H256.7V1629H260.4V1629H264.1V1629H267.8V1629H271.5V1629H275.1V1629H278.8V1629H282.5V1629H286.2V1616.3H289.9V1629H293.6V1623H297.3V1629H300.9V1629H304.6V1629H308.3V1608.1H312V1629H315.7V1629H319.4V1629H323V1629H326.7V1629H330.4V1629H334.1V1629H337.8V1629H341.5V1629H345.1V1629H348.8V1629H352.5V1618H356.2V1629H359.9V1621.1H363.6V1618.3H367.2V1629H370.9V1629H374.6V1629H378.3V1629H382V1618.7H385.7V1629H389.4V1629H393V1629H396.7V1629H400.4V1629H404.1V1629H407.8V1629H411.5V1629H415.1V1629H418.8V1619.6H422.5V1629H426.2V1629H429.9V1629H433.6V1629H437.2V1629H440.9V1629H444.6V1621H448.3V1629H452V1629H455.7V1629H459.3V1629H463V1611.6H466.7V1629H470.4V1629H474.1V1629H477.8V1628.2H481.5V1629H485.1V1629H488.8V1629H492.5V1629H496.2V1625H499.9V1629H503.6V1629H507.2V1620.7H510.9V1629H514.6V1629H518.3V1629H522V1629H525.7V1629H529.3V1629H533V1629H536.7V1629H540.4V1611.3H544.1V1611.7H547.8V1629H551.4V1629H555.1V1629H558.8V1629H562.5V1629H566.2V1629H569.9V1629H573.6V1629H577.2V1629H580.9V1629H584.6V1629H588.3V1629H592V1610.3H595.7V1629H599.3V1629H603V1629H606.7V1617H610.4V1629H614.1V1619.6H617.8V1629H621.4V1620.6H625.1V1629H628.8V1629H632.5V1629H636.2V1629H639.9V1629H643.5V1620H647.2V1629H650.9V1629H654.6V1612.7H658.3V1629H662V1600.5H665.7V1629H669.3V1629H673V1606.2H676.7V1616.4H680.4V1629H684.1V1629H687.8V1629H691.4V1620.2H695.1V1629H698.8V1616.5H702.5V1629H706.2V1629H709.9V1629H713.5V1621.5H717.2V1621H720.9V1616.4H724.6V1622.5H728.3V1624.4H732V1629H735.6V1629H739.3V1614.5H743V1618.4H746.7V1629H750.4V1627.2H754.1V1629H757.8V1629H761.4V1629H765.1V1629H768.8V1627.5H772.5V1629H776.2V1626.8H779.9V1629H783.5V1629H787.2V1629H790.9V1628.1H794.6V1629H798.3V1629H802V1621.6H805.6V1629H809.3V1629H813V1629H816.7V1629H820.4V1629H824.1V1626.6H827.7V1629H831.4V1629H835.1V1629H838.8V1629H842.5V1629H846.2V1611.8H849.9V1629H853.5V1629H857.2V1616.8H860.9V1610H864.6V1629H868.3V1629H872V1629H875.6V1629H879.3V1626.9H883V1629H886.7V1629H890.4V1629H894.1V1629H897.7V1629H901.4V1591H905.1V1629H908.8V1629H912.5V1629H916.2V1617.7H919.8V1629H923.5V1629H927.2V1629H930.9V1629H934.6V1611.6H938.3V1629H942V1625.3H945.6V1629H949.3V1629H953V1623.1H956.7V1629H960.4V1629H964.1V1629H967.7V1624H971.4V1620.1H975.1V1629H978.8V1629H982.5V1629H986.2V1629H989.8V1629H993.5V1629H997.2V1629H1000.9V1622.9H1004.6V1623.5H1008.3V1629H1011.9V1629H1015.6V1629H1019.3V1629H1023V1629H1026.7V1611.2H1030.4V1629H1034.1V1629H1037.7V1629H1041.4V1629H1045.1V1629H1048.8V1629H1052.5V1629H1056.2V1624.7H1059.8V1629H1063.5V1629H1067.2V1629H1070.9V1629H1074.6V1629H1078.3V1629H1081.9V1629H1085.6V1629H1089.3V1629H1093V1629H1096.7V1629H1100.4V1629H1104V1629H1107.7V1629H1111.4V1629H1115.1V1629H1118.8V1629H1122.5V1611.3H1126.2V1629H1129.8V1629H1133.5V1629H1137.2V1629H1140.9V1629H1144.6V1626.7H1148.3V1629H1151.9V1629H1155.6V1600.5H1159.3V1629H1163V1629H1166.7V1629H1170.4V1629H1174V1629H1177.7V1629H1181.4V1629H1185.1V1629H1188.8V1629H1192.5V1629H1196.1V1629H1199.8V1629H1203.5V1629H1207.2V1629H1210.9V1629H1214.6V1623.4H1218.3V1629H1221.9V1629H1225.6V1629H1229.3V1629H1233V1629H1236.7V1629H1240.4V1629H1244V1614.8H1247.7V1629H1251.4V1629H1255.1V1629H1258.8V1629H1262.5V1629H1266.1V1629H1269.8V1627.2H1273.5V1613.1H1277.2V1629H1280.9V1629H1284.6V1625.2H1288.2V1629H1291.9V1629H1295.6V1629H1299.3V1629H1303V1629H1306.7V1629H1310.4V1614.5H1314V1629H1317.7V1629H1321.4V1629H1325.1V1629H1328.8V1629H1332.5V1629H1336.1V1629H1339.8V1629H1343.5V1612.4H1347.2V1616.9H1350.9V1629H1354.6V1613H1358.2V1629H1361.9V1623.7H1365.6V1629H1369.3V1629H1373V1629H1376.7V1623.8H1380.3V1629H1384V1621.6H1387.7V1625.3H1391.4V1606.2H1395.1V1624.4H1398.8V1617.6H1402.5V1612.4H1406.1V1623.6H1409.8V1617.5H1413.5V1629H1417.2V1602.4H1420.9V1619.2H1424.6V1629H1428.2V1629H1431.9V1613.3H1435.6V1610.5H1439.3V1629H1443V1610.1H1446.7V1615H1450.3V1629H1454V1629H1457.7V1598.6H1461.4V1629H1465.1V1618.8H1468.8V1624.3H1472.4V1614.8H1476.1V1615.7H1479.8V1592.9H1483.5V1625.6H1487.2V1629H1490.9V1615.1H1494.6V1619.7H1498.2V1598.6H1501.9V1622.9H1505.6V1622.2H1509.3V1610H1513V1629H1516.7V1629H1520.3V1624H1524V1629H1527.7V1608.1H1531.4V1629H1535.1V1621.1H1538.8V1629H1542.4V1629H1546.1V1621H1549.8V1623.1H1553.5V1629H1557.2V1615.9H1560.9V1624.3H1564.5V1624.4H1568.2V1610.2H1571.9V1629H1575.6V1629Z" fill="#8fd3c0"/>
<line x1="102" y1="1673.2" x2="1575.6" y2="1673.2" stroke="#8b6a4f" stroke-width="1.3"/>
<path d="M102 1673.6V1669.6H105.7V1667.9H109.4V1665.4H113.1V1666.8H116.7V1673.6H120.4V1667.3H124.1V1667H127.8V1673.6H131.5V1667.9H135.2V1671.3H138.8V1673.6H142.5V1673.6H146.2V1668.2H149.9V1669.2H153.6V1670.1H157.3V1670.5H160.9V1670.9H164.6V1671.1H168.3V1670.1H172V1668H175.7V1668.3H179.4V1669.8H183V1667.3H186.7V1668.2H190.4V1668.8H194.1V1671.8H197.8V1657.6H201.5V1669.2H205.2V1673.6H208.8V1669.6H212.5V1672.1H216.2V1672.3H219.9V1671.8H223.6V1668.3H227.3V1668.3H230.9V1671.1H234.6V1670.5H238.3V1670.4H242V1672.3H245.7V1668.5H249.4V1667H253V1673.6H256.7V1670.7H260.4V1668.4H264.1V1673.6H267.8V1670.3H271.5V1671.1H275.1V1669.2H278.8V1665.2H282.5V1670.9H286.2V1666.9H289.9V1672.2H293.6V1668.2H297.3V1670.9H300.9V1669.8H304.6V1672.3H308.3V1673.6H312V1669.6H315.7V1671H319.4V1651.6H323V1673.6H326.7V1671.3H330.4V1670H334.1V1673.6H337.8V1671.7H341.5V1667.2H345.1V1673.6H348.8V1667.5H352.5V1667.9H356.2V1673.6H359.9V1647.6H363.6V1673.6H367.2V1673.6H370.9V1673.6H374.6V1673.6H378.3V1673.6H382V1673.6H385.7V1670.7H389.4V1673.6H393V1673.6H396.7V1673.6H400.4V1667.8H404.1V1665.5H407.8V1673.6H411.5V1667.5H415.1V1673.6H418.8V1673.6H422.5V1673.6H426.2V1673.6H429.9V1673.6H433.6V1673.6H437.2V1669H440.9V1666.7H444.6V1673.6H448.3V1673.6H452V1673.6H455.7V1671.7H459.3V1673.6H463V1673.6H466.7V1671.3H470.4V1647.6H474.1V1673.6H477.8V1673.6H481.5V1668.2H485.1V1673.6H488.8V1673.6H492.5V1673.6H496.2V1673.6H499.9V1673.6H503.6V1673.6H507.2V1673.6H510.9V1673.6H514.6V1673.6H518.3V1673.6H522V1673.6H525.7V1673.6H529.3V1672.2H533V1673.6H536.7V1673.6H540.4V1671H544.1V1673.6H547.8V1672.3H551.4V1673.6H555.1V1673.6H558.8V1669H562.5V1673.6H566.2V1673.6H569.9V1665.5H573.6V1673.6H577.2V1673.6H580.9V1673.6H584.6V1670H588.3V1673.6H592V1672.4H595.7V1673.6H599.3V1673.6H603V1673.6H606.7V1673.6H610.4V1673.6H614.1V1667.9H617.8V1673.6H621.4V1673.6H625.1V1668.9H628.8V1673.6H632.5V1668.6H636.2V1673.6H639.9V1673.6H643.5V1667.8H647.2V1673.6H650.9V1673.6H654.6V1673.6H658.3V1667.6H662V1673.6H665.7V1673.6H669.3V1670.1H673V1673.6H676.7V1673.6H680.4V1673.6H684.1V1673.6H687.8V1669.9H691.4V1671.2H695.1V1673.6H698.8V1673.6H702.5V1673.6H706.2V1673.6H709.9V1673.6H713.5V1673.6H717.2V1673.6H720.9V1673.6H724.6V1673.6H728.3V1673.6H732V1671.7H735.6V1673.6H739.3V1673.6H743V1673.6H746.7V1673.6H750.4V1673.6H754.1V1670.7H757.8V1673.6H761.4V1673.6H765.1V1673.6H768.8V1665.9H772.5V1668.9H776.2V1673.6H779.9V1673.6H783.5V1673.6H787.2V1673.6H790.9V1673.6H794.6V1673.6H798.3V1673.6H802V1669.3H805.6V1672.1H809.3V1666.9H813V1673.6H816.7V1665.6H820.4V1673.6H824.1V1673.6H827.7V1673.6H831.4V1673.6H835.1V1673.6H838.8V1673.6H842.5V1673.6H846.2V1673.6H849.9V1671.6H853.5V1673.6H857.2V1673.6H860.9V1666.8H864.6V1673.6H868.3V1670.2H872V1670.7H875.6V1673.6H879.3V1673.6H883V1673.6H886.7V1673.6H890.4V1673.6H894.1V1673.6H897.7V1671.5H901.4V1670.3H905.1V1673.6H908.8V1673.6H912.5V1673.6H916.2V1673.6H919.8V1671.2H923.5V1673.6H927.2V1668H930.9V1673.6H934.6V1673.6H938.3V1671.2H942V1673.6H945.6V1669.6H949.3V1673.6H953V1673.6H956.7V1673.6H960.4V1673.6H964.1V1665.6H967.7V1673.6H971.4V1673.6H975.1V1670.2H978.8V1673.6H982.5V1673.6H986.2V1669H989.8V1673.6H993.5V1673.6H997.2V1669.8H1000.9V1669.4H1004.6V1673.6H1008.3V1673.6H1011.9V1673.6H1015.6V1673.6H1019.3V1673.6H1023V1667H1026.7V1669.4H1030.4V1667.2H1034.1V1673.6H1037.7V1673.6H1041.4V1670.2H1045.1V1669.1H1048.8V1673.6H1052.5V1673.6H1056.2V1665.7H1059.8V1673.6H1063.5V1673.6H1067.2V1670.2H1070.9V1673.6H1074.6V1673.6H1078.3V1673.6H1081.9V1673.6H1085.6V1673.6H1089.3V1673.6H1093V1667.8H1096.7V1661.6H1100.4V1673.6H1104V1666.2H1107.7V1673.6H1111.4V1673.6H1115.1V1673.6H1118.8V1673.6H1122.5V1673.6H1126.2V1673.6H1129.8V1668H1133.5V1673.6H1137.2V1665.6H1140.9V1673.6H1144.6V1666H1148.3V1673.6H1151.9V1673.6H1155.6V1673.6H1159.3V1666.1H1163V1670H1166.7V1665.4H1170.4V1666.3H1174V1673.6H1177.7V1673.6H1181.4V1673.6H1185.1V1673.6H1188.8V1673.6H1192.5V1673.6H1196.1V1666.7H1199.8V1673.6H1203.5V1666.2H1207.2V1671.2H1210.9V1673.6H1214.6V1673.6H1218.3V1673.6H1221.9V1673.6H1225.6V1673.6H1229.3V1673.6H1233V1669.7H1236.7V1673.6H1240.4V1672H1244V1673.6H1247.7V1673.6H1251.4V1673.6H1255.1V1673.6H1258.8V1673.6H1262.5V1673.6H1266.1V1673.6H1269.8V1669.2H1273.5V1673.6H1277.2V1673.6H1280.9V1673.6H1284.6V1670.2H1288.2V1673.6H1291.9V1667.5H1295.6V1673.6H1299.3V1673.6H1303V1673.6H1306.7V1673.6H1310.4V1673.6H1314V1666.4H1317.7V1673.6H1321.4V1673.6H1325.1V1673.6H1328.8V1659.6H1332.5V1673.6H1336.1V1673.6H1339.8V1673.6H1343.5V1670.6H1347.2V1673.6H1350.9V1673.6H1354.6V1673.6H1358.2V1672.2H1361.9V1673.6H1365.6V1672H1369.3V1673.6H1373V1673.6H1376.7V1673.6H1380.3V1673.6H1384V1673.6H1387.7V1673.6H1391.4V1673.6H1395.1V1673.6H1398.8V1673.6H1402.5V1673.6H1406.1V1670H1409.8V1673.6H1413.5V1673.6H1417.2V1673.6H1420.9V1673.6H1424.6V1673.6H1428.2V1668H1431.9V1673.6H1435.6V1673.6H1439.3V1673.6H1443V1665.7H1446.7V1673.6H1450.3V1659.6H1454V1667.7H1457.7V1673.6H1461.4V1665.3H1465.1V1673.6H1468.8V1665.2H1472.4V1673.6H1476.1V1666H1479.8V1673.6H1483.5V1673.6H1487.2V1666.3H1490.9V1673.6H1494.6V1673.6H1498.2V1666.5H1501.9V1669.6H1505.6V1673.6H1509.3V1673.6H1513V1673.6H1516.7V1673.6H1520.3V1673.6H1524V1673.6H1527.7V1670.8H1531.4V1672.2H1535.1V1669.8H1538.8V1672.1H1542.4V1655.6H1546.1V1673.6H1549.8V1667.5H1553.5V1669.7H1557.2V1673.6H1560.9V1667H1564.5V1673.6H1568.2V1673.6H1571.9V1633.6H1575.6V1673.6Z" fill="#8b6a4f"/>
<line x1="102" y1="1718.3" x2="1575.6" y2="1718.3" stroke="#f4a284" stroke-width="1.3"/>
<path d="M102 1718.7V1718.7H105.7V1718.7H109.4V1718.7H113.1V1718.7H116.7V1718.7H120.4V1718.7H124.1V1718.7H127.8V1718.7H131.5V1718.7H135.2V1718.7H138.8V1718.7H142.5V1710.8H146.2V1718.7H149.9V1718.7H153.6V1713.5H157.3V1718.7H160.9V1718.7H164.6V1718.7H168.3V1718.7H172V1718.7H175.7V1718.7H179.4V1718.7H183V1707.9H186.7V1710.3H190.4V1718.7H194.1V1718.7H197.8V1718.7H201.5V1718.7H205.2V1718.7H208.8V1718.7H212.5V1718.7H216.2V1718.7H219.9V1718.7H223.6V1718.7H227.3V1713.3H230.9V1718.7H234.6V1718.7H238.3V1718.7H242V1718.7H245.7V1718.7H249.4V1718.7H253V1718.7H256.7V1718.7H260.4V1718.7H264.1V1718.7H267.8V1718.7H271.5V1718.7H275.1V1708.6H278.8V1718.7H282.5V1718.7H286.2V1718.7H289.9V1718.7H293.6V1718.7H297.3V1718.7H300.9V1718.7H304.6V1718.7H308.3V1718.7H312V1718.7H315.7V1718.7H319.4V1682.9H323V1693.7H326.7V1718.7H330.4V1685.8H334.1V1706.7H337.8V1718.7H341.5V1718.7H345.1V1718.7H348.8V1718.7H352.5V1718.7H356.2V1718.7H359.9V1718.7H363.6V1718.7H367.2V1718.7H370.9V1718.7H374.6V1718.7H378.3V1718.7H382V1699.8H385.7V1718.7H389.4V1710.2H393V1697.7H396.7V1702.7H400.4V1706.4H404.1V1710.6H407.8V1706.7H411.5V1699.7H415.1V1718.7H418.8V1718.7H422.5V1718.7H426.2V1718.7H429.9V1707.4H433.6V1718.7H437.2V1709.7H440.9V1718.7H444.6V1707.2H448.3V1695.7H452V1718.7H455.7V1702.8H459.3V1718.7H463V1706.3H466.7V1718.7H470.4V1707.7H474.1V1718.7H477.8V1718.7H481.5V1718.7H485.1V1718.7H488.8V1718.7H492.5V1718.7H496.2V1704.2H499.9V1718.7H503.6V1718.7H507.2V1718.7H510.9V1711.4H514.6V1718.7H518.3V1718.7H522V1718.7H525.7V1718.7H529.3V1718.7H533V1718.7H536.7V1718.7H540.4V1718.7H544.1V1715.9H547.8V1718.7H551.4V1718.7H555.1V1701.2H558.8V1706.9H562.5V1701.6H566.2V1718.7H569.9V1718.7H573.6V1718.7H577.2V1718.7H580.9V1718.7H584.6V1718.7H588.3V1699.2H592V1718.7H595.7V1709.5H599.3V1695.9H603V1705.5H606.7V1718.7H610.4V1705.7H614.1V1699.6H617.8V1718.7H621.4V1715.5H625.1V1718.7H628.8V1718.7H632.5V1718.7H636.2V1718.7H639.9V1718.7H643.5V1718.7H647.2V1718.7H650.9V1718.7H654.6V1718.7H658.3V1718.7H662V1718.7H665.7V1718.7H669.3V1718.7H673V1718.7H676.7V1718.7H680.4V1718.7H684.1V1718.7H687.8V1718.7H691.4V1703.6H695.1V1702.1H698.8V1707.6H702.5V1709.3H706.2V1711.7H709.9V1718.7H713.5V1704.5H717.2V1718.7H720.9V1718.7H724.6V1718.7H728.3V1718.7H732V1718.7H735.6V1705.5H739.3V1718.7H743V1718.7H746.7V1718.7H750.4V1718.7H754.1V1718.7H757.8V1718.7H761.4V1718.7H765.1V1710.4H768.8V1718.7H772.5V1718.7H776.2V1718.7H779.9V1718.7H783.5V1718.7H787.2V1718.7H790.9V1718.7H794.6V1718.7H798.3V1707H802V1713H805.6V1711.7H809.3V1718.7H813V1718.7H816.7V1714.8H820.4V1718.7H824.1V1698.4H827.7V1702.6H831.4V1697.5H835.1V1718.7H838.8V1718.7H842.5V1718.7H846.2V1712.6H849.9V1718.7H853.5V1718.7H857.2V1718.7H860.9V1718.7H864.6V1718.7H868.3V1718.7H872V1697.1H875.6V1718.7H879.3V1718.7H883V1718.7H886.7V1718.7H890.4V1718.7H894.1V1718.7H897.7V1718.7H901.4V1718.7H905.1V1718.7H908.8V1698.3H912.5V1709.1H916.2V1710.3H919.8V1718.7H923.5V1718.7H927.2V1718.7H930.9V1718.7H934.6V1705.6H938.3V1718.7H942V1718.7H945.6V1718.7H949.3V1718.7H953V1718.7H956.7V1718.7H960.4V1718.7H964.1V1718.7H967.7V1718.7H971.4V1718.7H975.1V1718.7H978.8V1718.7H982.5V1718.7H986.2V1718.7H989.8V1718.7H993.5V1718.7H997.2V1718.7H1000.9V1718.7H1004.6V1715.4H1008.3V1718.7H1011.9V1718.7H1015.6V1718.7H1019.3V1718.7H1023V1712.7H1026.7V1704H1030.4V1709.1H1034.1V1703.7H1037.7V1718.7H1041.4V1718.7H1045.1V1718.7H1048.8V1718.7H1052.5V1718.7H1056.2V1718.7H1059.8V1718.7H1063.5V1712.8H1067.2V1718.7H1070.9V1718.7H1074.6V1718.7H1078.3V1718.7H1081.9V1715.4H1085.6V1718.7H1089.3V1718.7H1093V1718.7H1096.7V1718.7H1100.4V1708.5H1104V1718.7H1107.7V1718.7H1111.4V1718.7H1115.1V1714.1H1118.8V1718.7H1122.5V1718.7H1126.2V1714.2H1129.8V1718.7H1133.5V1718.7H1137.2V1707.8H1140.9V1718.7H1144.6V1718.7H1148.3V1718.7H1151.9V1718.7H1155.6V1718.7H1159.3V1718.7H1163V1718.7H1166.7V1718.7H1170.4V1709.3H1174V1703.7H1177.7V1718.7H1181.4V1718.7H1185.1V1704.3H1188.8V1700H1192.5V1718.7H1196.1V1718.7H1199.8V1718.7H1203.5V1709.2H1207.2V1718.7H1210.9V1718.7H1214.6V1718.7H1218.3V1718.7H1221.9V1718.7H1225.6V1718.7H1229.3V1718.7H1233V1706.2H1236.7V1718.7H1240.4V1718.7H1244V1718.7H1247.7V1718.7H1251.4V1715.9H1255.1V1705.5H1258.8V1718.7H1262.5V1716.4H1266.1V1718.7H1269.8V1718.7H1273.5V1718.7H1277.2V1718.7H1280.9V1718.7H1284.6V1699.9H1288.2V1714.7H1291.9V1708.4H1295.6V1718.7H1299.3V1718.7H1303V1704.3H1306.7V1712.4H1310.4V1699.5H1314V1718.7H1317.7V1711.5H1321.4V1718.7H1325.1V1705.6H1328.8V1718.7H1332.5V1718.7H1336.1V1718.7H1339.8V1718.7H1343.5V1718.7H1347.2V1718.7H1350.9V1718.7H1354.6V1718.7H1358.2V1718.7H1361.9V1718.7H1365.6V1718.7H1369.3V1718.7H1373V1716.8H1376.7V1718.7H1380.3V1710.6H1384V1718.7H1387.7V1688.1H1391.4V1682.9H1395.1V1683.5H1398.8V1718.7H1402.5V1718.7H1406.1V1718.7H1409.8V1718.7H1413.5V1718.7H1417.2V1718.7H1420.9V1718.7H1424.6V1718.7H1428.2V1711.5H1431.9V1706.7H1435.6V1709.5H1439.3V1718.7H1443V1713.7H1446.7V1718.7H1450.3V1706H1454V1718.7H1457.7V1718.7H1461.4V1718.7H1465.1V1718.7H1468.8V1718.7H1472.4V1718.7H1476.1V1718.7H1479.8V1718.7H1483.5V1718.7H1487.2V1718.7H1490.9V1718.7H1494.6V1718.7H1498.2V1718.7H1501.9V1718.7H1505.6V1718.7H1509.3V1689.1H1513V1685.3H1516.7V1700.7H1520.3V1686H1524V1718.7H1527.7V1711.6H1531.4V1705.8H1535.1V1718.7H1538.8V1718.7H1542.4V1718.7H1546.1V1718.7H1549.8V1718.7H1553.5V1718.7H1557.2V1718.7H1560.9V1718.7H1564.5V1716.7H1568.2V1713.1H1571.9V1718.7H1575.6V1718.7Z" fill="#f4a284"/>
<text transform="translate(102.5 1605.9) scale(1.04 1)" font-size="18.3" font-family="'DejaVu Sans', sans-serif">H3K4Me3</text>
<text transform="translate(102.5 1650) scale(1.04 1)" font-size="18.3" font-family="'DejaVu Sans', sans-serif">H3K9Me2</text>
<text transform="translate(102.5 1694.7) scale(1.04 1)" font-size="18.3" font-family="'DejaVu Sans', sans-serif">H3K27Me3</text>
<path d="M82 1393.5H88.5V1445.5H82M82 1451.5H88.5V1585H82M82 1495H88.5M82 1540.5H88.5M82 1587H88.5V1719H82M82 1629H88.5M82 1674H88.5" fill="none" stroke="#000" stroke-width="3"/>
<text transform="translate(77.5 1406.8) scale(1.035 1)" font-size="17.5" font-family="'DejaVu Sans', sans-serif" text-anchor="end">1.025</text>
<text transform="translate(77.5 1442.7) scale(1.035 1)" font-size="17.5" font-family="'DejaVu Sans', sans-serif" text-anchor="end">-4.84</text>
<text transform="translate(77.5 1464.9) scale(1.035 1)" font-size="17.5" font-family="'DejaVu Sans', sans-serif" text-anchor="end">0.197</text>
<text transform="translate(77.5 1492) scale(1.035 1)" font-size="17.5" font-family="'DejaVu Sans', sans-serif" text-anchor="end">0</text>
<text transform="translate(77.5 1510.3) scale(1.035 1)" font-size="17.5" font-family="'DejaVu Sans', sans-serif" text-anchor="end">0.466</text>
<text transform="translate(77.5 1536.3) scale(1.035 1)" font-size="17.5" font-family="'DejaVu Sans', sans-serif" text-anchor="end">0</text>
<text transform="translate(77.5 1553.8) scale(1.035 1)" font-size="17.5" font-family="'DejaVu Sans', sans-serif" text-anchor="end">0.93</text>
<text transform="translate(77.5 1580.7) scale(1.035 1)" font-size="17.5" font-family="'DejaVu Sans', sans-serif" text-anchor="end">0</text>
<text transform="translate(77.5 1599.2) scale(1.035 1)" font-size="17.5" font-family="'DejaVu Sans', sans-serif" text-anchor="end">2.088</text>
<text transform="translate(77.5 1625.1) scale(1.035 1)" font-size="17.5" font-family="'DejaVu Sans', sans-serif" text-anchor="end">0</text>
<text transform="translate(77.5 1643.6) scale(1.035 1)" font-size="17.5" font-family="'DejaVu Sans', sans-serif" text-anchor="end">2.544</text>
<text transform="translate(77.5 1670.3) scale(1.035 1)" font-size="17.5" font-family="'DejaVu Sans', sans-serif" text-anchor="end">0</text>
<text transform="translate(77.5 1688) scale(1.035 1)" font-size="17.5" font-family="'DejaVu Sans', sans-serif" text-anchor="end">3.974</text>
<text transform="translate(77.5 1715.8) scale(1.035 1)" font-size="17.5" font-family="'DejaVu Sans', sans-serif" text-anchor="end">0</text>
<text transform="translate(12 1416.5) rotate(-90)" font-size="13.5" font-family="'DejaVu Sans', sans-serif" text-anchor="middle">E1 value</text>
<text transform="translate(12 1522.7) rotate(-90)" font-size="13.5" font-family="'DejaVu Sans', sans-serif" text-anchor="middle">Density</text>
<text transform="translate(12 1648) rotate(-90)" font-size="13.5" font-family="'DejaVu Sans', sans-serif" text-anchor="middle">log2(ChIP/Input)</text>
<text x="1594.4" y="1334" font-size="22.5">TAD</text>
<text x="1594.4" y="1415.8" font-size="22.5">A/B compartment</text>
<text x="1594.4" y="1479.4" font-size="22.5">Gene density</text>
<text x="1594.4" y="1527.5" font-size="22.5">GC content</text>
<text x="1594.4" y="1576.3" font-size="22.5">TE density</text>
<text x="1594.4" y="1672.5" font-size="22.5">ChIP-seq</text>
<line x1="1344.2" y1="1267" x2="1344.2" y2="1733" stroke="#231f20" stroke-width="3.6" stroke-dasharray="11 7"/>
<line x1="100" y1="1786" x2="1344.2" y2="1733" stroke="#231f20" stroke-width="3.8" stroke-dasharray="19 19.8" stroke-dashoffset="8.7"/>
<line x1="1344.2" y1="1733" x2="1569" y2="1786" stroke="#231f20" stroke-width="3.8" stroke-dasharray="20 19.6" stroke-dashoffset="27.5"/>
<line x1="100" y1="1786.6" x2="1569" y2="1786.6" stroke="#000" stroke-width="3"/>
<line x1="100" y1="1786.6" x2="100" y2="1792.5" stroke="#000" stroke-width="2.4"/>
<line x1="344.8" y1="1786.6" x2="344.8" y2="1792.5" stroke="#000" stroke-width="2.4"/>
<line x1="589.5" y1="1786.6" x2="589.5" y2="1792.5" stroke="#000" stroke-width="2.4"/>
<line x1="834.2" y1="1786.6" x2="834.2" y2="1792.5" stroke="#000" stroke-width="2.4"/>
<line x1="1079" y1="1786.6" x2="1079" y2="1792.5" stroke="#000" stroke-width="2.4"/>
<line x1="1323.8" y1="1786.6" x2="1323.8" y2="1792.5" stroke="#000" stroke-width="2.4"/>
<line x1="1568.5" y1="1786.6" x2="1568.5" y2="1792.5" stroke="#000" stroke-width="2.4"/>
<text transform="translate(100 1779.8)" font-size="15.3" font-family="'DejaVu Sans', sans-serif" text-anchor="middle">3,355.0</text>
<text transform="translate(344.8 1779.8)" font-size="15.3" font-family="'DejaVu Sans', sans-serif" text-anchor="middle">3,355.5</text>
<text transform="translate(589.5 1779.8)" font-size="15.3" font-family="'DejaVu Sans', sans-serif" text-anchor="middle">3,356.0</text>
<text transform="translate(834.2 1779.8)" font-size="15.3" font-family="'DejaVu Sans', sans-serif" text-anchor="middle">3,356.5</text>
<text transform="translate(1079 1779.8)" font-size="15.3" font-family="'DejaVu Sans', sans-serif" text-anchor="middle">3,357.0</text>
<text transform="translate(1323.2 1779.8)" font-size="15.3" font-family="'DejaVu Sans', sans-serif" text-anchor="middle">3,357.5 Mb</text>
<text transform="translate(1539.6 1779.8)" font-size="15.3" font-family="'DejaVu Sans', sans-serif">3,358.0</text>
<clipPath id="hz"><rect x="101.8" y="1799" width="1466.7" height="243"/></clipPath>
<g clip-path="url(#hz)"><rect x="101.8" y="1799" width="1466.7" height="243" fill="#f7fbff"/>
<g transform="matrix(4.8890 4.8890 4.8890 -4.8890 101.8 2042)" fill="none" stroke-width="1.04">
<path d="M-16.5 35V36M-13.5 35V36M-13.5 38V39M-12.5 36V37M-11.5 39V41M-10.5 36V37M-10.5 39V40M-9.5 42V43M-8.5 37V38M-8.5 39V41M-7.5 44V45M-6.5 37V38M-5.5 35V36M-5.5 38V39M-5.5 43V44M-4.5 35V36M-4.5 39V40M-4.5 41V42M-3.5 36V37M-3.5 38V39M-3.5 45V46M-2.5 35V38M-2.5 39V40M-2.5 44V45M-1.5 42V43M-1.5 48V49M-1.5 50V51M-0.5 46V47M0.5 39V40M0.5 43V44M0.5 45V47M1.5 40V42M1.5 47V48M2.5 41V42M2.5 44V45M3.5 36V37M3.5 43V44M4.5 47V48M5.5 37V38M5.5 41V42M5.5 43V44M5.5 48V49M5.5 56V57M6.5 58V59M7.5 35V37M7.5 39V41M7.5 56V57M8.5 40V41M9.5 36V37M9.5 41V42M9.5 45V46M9.5 52V53M10.5 44V45M11.5 40V42M11.5 44V45M11.5 49V50M11.5 52V53M11.5 59V60M12.5 50V51M12.5 53V54M12.5 59V61M13.5 41V42M13.5 53V54M13.5 55V56M13.5 59V60M14.5 40V41M14.5 43V44M14.5 59V60M14.5 66V67M15.5 41V43M15.5 56V57M15.5 60V61M15.5 66V68M16.5 35V36M16.5 40V41M16.5 45V46M16.5 48V49M16.5 51V52M16.5 54V55M16.5 59V60M16.5 61V64M17.5 35V36M17.5 39V40M17.5 51V52M17.5 55V56M17.5 57V58M17.5 64V65M18.5 36V38M18.5 47V48M18.5 62V63M19.5 59V61M20.5 44V47M20.5 57V58M20.5 65V66M21.5 38V40M21.5 45V46M21.5 48V49M21.5 50V51M21.5 56V59M21.5 62V63M21.5 70V71M22.5 40V42M22.5 43V44M22.5 57V58M22.5 69V70M23.5 40V41M23.5 43V44M23.5 49V50M23.5 51V53M24.5 50V51M24.5 63V65M24.5 67V68M25.5 35V36M25.5 44V45M25.5 58V60M25.5 62V63M25.5 69V70M25.5 75V76M26.5 40V41M26.5 43V44M26.5 61V62M26.5 65V66M27.5 44V45M27.5 53V54M27.5 56V57M27.5 78V79M28.5 55V56M28.5 67V68M28.5 77V78M29.5 41V42M29.5 43V44M29.5 55V56M29.5 62V63M29.5 65V66M29.5 69V70M29.5 77V78M30.5 44V45M30.5 55V56M30.5 63V64M30.5 66V67M31.5 66V67M31.5 81V82M32.5 50V51M32.5 74V75M33.5 45V46M33.5 51V52M33.5 59V61M33.5 62V63M33.5 67V68M33.5 81V82M34.5 46V47M34.5 57V58M34.5 68V69M53.5 105V106M57.5 106V107M57.5 108V109M58.5 108V109M58.5 110V111M60.5 105V107M60.5 109V110M61.5 111V112M63.5 105V106M64.5 113V114M65.5 116V117M67.5 109V110M67.5 112V113M67.5 115V116M67.5 117V118M68.5 116V117M68.5 119V120M69.5 105V106M69.5 115V116M70.5 106V107M70.5 110V112M70.5 121V122M71.5 106V107M71.5 108V109M71.5 120V122M72.5 108V109M72.5 124V125M73.5 109V110M73.5 112V113M73.5 118V122M74.5 105V106M74.5 114V115M74.5 122V123M75.5 111V112M75.5 114V115M75.5 117V118M75.5 121V122M75.5 124V127M77.5 112V113M77.5 128V129M78.5 108V109M78.5 120V121M78.5 125V126M78.5 127V128M79.5 117V118M79.5 119V120M79.5 126V128M80.5 106V107M80.5 115V116M80.5 132V133M81.5 107V109M81.5 115V116M81.5 118V119M81.5 123V124M81.5 130V131M82.5 118V119M83.5 109V110M83.5 128V129M84.5 111V112M84.5 118V119M84.5 123V124M84.5 126V128M85.5 107V108M85.5 114V115M85.5 116V118M85.5 123V125M85.5 126V127M85.5 132V133M86.5 128V129M86.5 137V138M87.5 105V106M87.5 117V118M87.5 121V122M88.5 105V106M88.5 109V110M88.5 121V122M88.5 131V132M88.5 137V139M89.5 106V107M89.5 123V125M89.5 126V127M89.5 131V132M89.5 141V142M90.5 110V111M90.5 116V117M90.5 120V121M90.5 123V124M90.5 133V134M91.5 106V107M91.5 128V129M91.5 142V143M92.5 110V111M92.5 114V115M92.5 117V118M92.5 129V130M92.5 141V143M93.5 117V118M93.5 125V126M93.5 127V128M93.5 132V133M94.5 119V121M94.5 137V138M94.5 140V142M94.5 143V144M94.5 146V147M95.5 105V106M95.5 109V110M95.5 113V114M95.5 117V118M95.5 133V134M95.5 135V136M95.5 137V138M95.5 143V144M96.5 111V112M96.5 123V124M96.5 125V126M96.5 129V130M96.5 131V132M96.5 140V141M96.5 147V148M97.5 112V113M97.5 116V117M97.5 127V129M97.5 133V134M97.5 142V143M98.5 120V121M98.5 127V128M98.5 132V133M98.5 140V141M98.5 142V143M99.5 114V115M99.5 117V118M99.5 124V125M99.5 126V127M99.5 139V140M99.5 141V142M99.5 144V145M99.5 151V152M100.5 107V108M100.5 111V112M100.5 120V121M100.5 123V124M100.5 133V134M100.5 137V138M100.5 139V140M100.5 147V149M100.5 150V152M101.5 108V109M101.5 126V127M101.5 131V132M101.5 138V139M101.5 141V142M101.5 144V145M102.5 111V112M102.5 138V140M102.5 154V155M103.5 110V111M103.5 119V120M103.5 130V131M103.5 135V137M103.5 138V139M103.5 150V151M104.5 129V130M104.5 135V136M105.5 157V158M109.5 156V158M110.5 159V160M111.5 155V156M111.5 157V158M113.5 163V164M115.5 156V157M115.5 158V159M116.5 160V162M117.5 156V157M117.5 168V169M119.5 166V167M120.5 158V159M120.5 170V171M121.5 156V157M121.5 165V166M121.5 168V169M121.5 173V174M122.5 157V158M122.5 163V164M124.5 165V166M124.5 173V174M124.5 176V177M125.5 155V156M125.5 158V159M125.5 172V173M125.5 174V175M126.5 168V169M126.5 170V171M127.5 155V156M127.5 163V165M128.5 158V159M128.5 160V161M128.5 162V163M128.5 168V169M129.5 170V171M130.5 159V160M130.5 161V162M130.5 163V164M131.5 163V164M131.5 166V167M132.5 156V157M132.5 169V170M133.5 155V156M133.5 157V158M133.5 159V160M133.5 163V164M134.5 155V156M134.5 158V159M134.5 165V166M135.5 163V164M136.5 158V159M138.5 156V158M140.5 160V161M141.5 160V161M143.5 157V158M146.5 155V156" stroke="#eaf3fb"/>
<path d="M-9.5 35V36M-9.5 41V42M-8.5 38V39M-7.5 39V40M-7.5 43V44M-5.5 37V38M-5.5 42V43M-5.5 44V46M-4.5 36V37M-4.5 38V39M-3.5 37V38M-3.5 46V47M-2.5 45V46M-1.5 38V39M-1.5 49V50M-0.5 37V38M-0.5 50V52M0.5 48V49M1.5 38V39M1.5 43V44M2.5 42V43M3.5 39V40M3.5 42V43M3.5 44V46M3.5 48V49M3.5 53V54M4.5 36V37M4.5 40V41M4.5 43V44M4.5 51V52M4.5 53V54M5.5 38V39M6.5 38V39M6.5 41V42M6.5 43V44M6.5 47V48M6.5 49V50M6.5 51V52M6.5 55V56M7.5 38V39M7.5 43V44M7.5 46V47M7.5 48V49M7.5 55V56M7.5 59V60M8.5 36V37M8.5 39V40M8.5 45V46M8.5 55V56M8.5 58V60M9.5 42V44M9.5 48V49M9.5 50V51M9.5 57V58M10.5 38V39M10.5 42V43M10.5 46V47M11.5 35V36M11.5 56V57M12.5 39V40M12.5 42V43M12.5 54V55M12.5 61V62M13.5 51V53M13.5 62V63M13.5 64V65M14.5 39V40M14.5 42V43M14.5 51V52M14.5 63V64M15.5 38V39M15.5 44V45M15.5 64V65M16.5 36V38M16.5 52V53M16.5 67V68M17.5 40V41M17.5 42V43M17.5 44V45M17.5 58V59M17.5 60V61M17.5 63V64M17.5 65V66M17.5 69V70M18.5 59V60M19.5 39V40M19.5 64V65M19.5 66V67M19.5 68V69M19.5 70V72M20.5 40V42M20.5 47V48M20.5 50V51M20.5 62V63M20.5 71V72M21.5 36V37M21.5 46V47M21.5 65V66M21.5 71V72M22.5 47V48M22.5 53V54M22.5 59V60M22.5 61V62M22.5 74V75M23.5 37V38M23.5 42V43M23.5 47V49M23.5 66V69M23.5 74V75M24.5 49V50M24.5 51V53M24.5 74V75M24.5 76V77M25.5 37V38M25.5 51V52M25.5 56V57M25.5 64V66M26.5 37V38M26.5 39V40M26.5 42V43M26.5 50V51M26.5 56V57M26.5 58V60M26.5 75V76M26.5 78V79M27.5 37V38M27.5 49V50M27.5 61V62M27.5 65V66M27.5 69V70M27.5 79V80M28.5 43V44M28.5 47V48M28.5 72V73M28.5 79V81M29.5 36V37M29.5 52V53M29.5 56V58M29.5 61V62M29.5 70V71M29.5 76V77M30.5 47V48M30.5 52V53M30.5 58V59M30.5 62V63M30.5 73V74M30.5 80V81M31.5 38V39M31.5 44V45M31.5 48V49M31.5 80V81M31.5 83V84M32.5 37V38M32.5 48V49M32.5 55V57M32.5 60V62M32.5 65V66M32.5 68V69M32.5 75V76M32.5 81V82M33.5 43V44M33.5 49V50M33.5 79V80M33.5 83V84M34.5 64V65M34.5 72V73M34.5 75V76M38.5 87V88M54.5 105V107M58.5 109V110M59.5 105V108M60.5 108V109M60.5 110V111M61.5 113V114M62.5 112V113M62.5 114V115M63.5 106V107M63.5 109V110M64.5 106V107M65.5 111V112M65.5 117V118M66.5 110V111M66.5 115V116M66.5 117V118M67.5 105V106M68.5 105V106M68.5 109V112M69.5 109V110M69.5 112V113M69.5 116V117M70.5 113V115M70.5 119V120M70.5 122V123M71.5 110V111M71.5 123V124M72.5 110V111M72.5 113V115M72.5 123V124M73.5 116V118M73.5 122V123M73.5 125V126M74.5 107V108M75.5 105V106M75.5 107V108M76.5 113V114M76.5 122V123M76.5 128V129M77.5 109V110M77.5 114V116M77.5 122V123M77.5 129V130M78.5 111V112M78.5 117V119M78.5 126V127M78.5 129V130M79.5 105V106M79.5 118V119M79.5 122V123M79.5 129V130M80.5 119V120M80.5 125V126M81.5 105V106M81.5 111V112M81.5 113V115M81.5 126V129M82.5 109V110M82.5 112V113M82.5 123V125M82.5 126V127M82.5 129V130M82.5 132V133M83.5 129V130M84.5 108V109M84.5 120V121M84.5 129V130M85.5 129V130M85.5 134V135M86.5 116V118M86.5 122V123M86.5 125V126M86.5 130V131M87.5 110V111M87.5 113V114M87.5 126V127M87.5 135V137M87.5 138V140M88.5 117V118M88.5 122V123M88.5 124V126M88.5 129V130M89.5 109V110M89.5 111V112M89.5 134V135M89.5 136V137M89.5 140V141M90.5 109V110M90.5 134V135M90.5 137V138M91.5 116V117M91.5 127V128M91.5 130V131M91.5 135V136M92.5 112V113M92.5 121V122M92.5 123V124M92.5 127V128M92.5 137V138M93.5 124V125M93.5 134V135M93.5 141V142M94.5 108V109M94.5 123V124M94.5 125V126M94.5 127V129M94.5 130V131M95.5 108V109M95.5 112V113M95.5 119V123M95.5 132V133M95.5 134V135M95.5 138V139M96.5 108V109M96.5 112V113M96.5 118V119M96.5 121V122M96.5 136V137M96.5 143V144M97.5 111V112M97.5 125V126M97.5 136V137M97.5 146V147M98.5 106V107M98.5 116V117M98.5 126V127M98.5 131V132M98.5 136V138M98.5 143V144M98.5 148V149M99.5 110V111M99.5 119V120M99.5 121V123M99.5 125V126M99.5 128V129M99.5 137V138M99.5 140V141M99.5 142V143M99.5 148V149M100.5 108V109M100.5 127V128M100.5 130V131M100.5 140V141M100.5 146V147M101.5 111V112M101.5 121V123M101.5 132V133M101.5 135V136M101.5 140V141M102.5 119V120M102.5 144V145M102.5 147V148M103.5 140V141M103.5 142V143M103.5 148V149M103.5 153V154M104.5 114V116M104.5 133V134M104.5 138V142M104.5 153V155M106.5 155V156M107.5 155V156M109.5 158V159M110.5 158V159M111.5 158V159M111.5 160V161M112.5 161V162M112.5 163V164M113.5 156V157M114.5 158V160M114.5 161V162M115.5 162V163M115.5 166V167M116.5 163V164M116.5 165V166M117.5 165V167M118.5 157V158M118.5 165V166M119.5 159V160M119.5 162V163M120.5 166V167M120.5 168V170M120.5 171V173M121.5 161V162M121.5 163V164M121.5 166V167M122.5 155V156M122.5 159V160M122.5 162V163M122.5 165V166M122.5 170V171M123.5 157V158M123.5 168V169M124.5 158V159M124.5 161V163M124.5 164V165M124.5 166V167M125.5 164V165M125.5 167V169M125.5 173V174M125.5 175V177M126.5 156V157M126.5 158V159M126.5 171V172M127.5 156V157M127.5 159V160M127.5 165V166M128.5 163V164M128.5 166V167M129.5 162V163M130.5 158V159M130.5 170V172M131.5 156V157M131.5 169V170M132.5 158V159M132.5 166V167M134.5 157V158M134.5 163V164M135.5 155V156M135.5 160V161M135.5 166V167M136.5 161V162M137.5 158V159M138.5 160V161M138.5 162V163M139.5 161V162M141.5 155V156M142.5 156V157M142.5 158V159M144.5 157V158M145.5 156V157" stroke="#deebf7"/>
<path d="M-13.5 36V37M-12.5 35V36M-11.5 35V36M-11.5 38V39M-10.5 37V39M-10.5 40V41M-9.5 38V40M-8.5 36V37M-7.5 37V38M-7.5 40V41M-7.5 42V43M-5.5 46V47M-4.5 33V34M-3.5 39V40M-3.5 48V49M-2.5 42V43M-2.5 48V50M-1.5 39V40M-1.5 44V45M-0.5 35V36M-0.5 38V39M0.5 37V38M1.5 35V36M1.5 48V49M1.5 52V54M2.5 45V46M2.5 48V49M3.5 37V39M3.5 40V42M3.5 46V47M3.5 50V51M4.5 37V38M4.5 56V57M5.5 35V36M5.5 57V58M6.5 36V38M6.5 39V40M6.5 44V45M6.5 46V47M6.5 57V58M7.5 42V43M7.5 50V52M8.5 38V39M8.5 43V44M8.5 53V54M9.5 47V48M9.5 53V54M11.5 39V40M11.5 45V46M11.5 61V62M12.5 44V45M13.5 35V36M13.5 40V41M13.5 50V51M13.5 54V55M13.5 56V57M14.5 38V39M14.5 46V47M14.5 48V49M15.5 37V38M15.5 39V41M15.5 51V52M16.5 46V48M16.5 57V58M16.5 65V66M17.5 46V47M17.5 48V49M17.5 52V54M17.5 61V62M17.5 66V69M18.5 45V46M18.5 52V53M18.5 55V56M18.5 58V59M18.5 64V65M18.5 67V68M18.5 69V70M19.5 38V39M19.5 50V51M19.5 55V57M19.5 58V59M19.5 63V64M20.5 37V38M20.5 49V50M20.5 53V54M20.5 60V62M20.5 66V67M21.5 42V44M21.5 53V54M21.5 60V61M21.5 66V68M22.5 35V36M22.5 37V40M22.5 44V45M22.5 46V47M22.5 50V51M22.5 73V74M23.5 41V42M23.5 54V55M23.5 71V72M23.5 73V74M24.5 45V46M24.5 54V55M24.5 62V63M24.5 73V74M25.5 46V47M25.5 50V51M25.5 54V55M25.5 60V61M25.5 70V71M25.5 72V73M25.5 74V75M26.5 38V39M26.5 54V55M26.5 63V65M26.5 70V72M26.5 74V75M27.5 36V37M27.5 41V42M27.5 50V51M27.5 52V53M27.5 60V61M27.5 66V68M27.5 77V78M28.5 44V45M28.5 50V52M28.5 58V59M28.5 60V62M28.5 68V69M28.5 74V75M29.5 37V38M29.5 42V43M29.5 46V47M29.5 64V65M29.5 67V68M29.5 73V75M30.5 38V39M30.5 40V41M30.5 45V46M30.5 60V62M30.5 71V72M30.5 76V77M30.5 78V79M31.5 39V41M31.5 45V46M31.5 52V53M31.5 54V55M31.5 57V58M31.5 59V61M31.5 63V64M31.5 69V70M31.5 73V74M31.5 77V78M31.5 82V83M32.5 45V47M32.5 58V60M32.5 70V71M32.5 73V74M33.5 46V47M33.5 66V67M33.5 71V74M33.5 75V76M33.5 82V83M33.5 85V86M34.5 48V49M34.5 53V54M34.5 73V74M34.5 77V78M34.5 81V82M34.5 85V86M53.5 94V95M54.5 95V96M55.5 105V106M55.5 107V108M56.5 105V106M56.5 108V109M61.5 107V108M63.5 107V108M64.5 110V111M64.5 115V117M65.5 106V107M65.5 109V110M66.5 107V108M66.5 109V110M66.5 118V119M67.5 99V100M67.5 106V107M67.5 111V112M68.5 113V115M69.5 106V109M69.5 110V111M70.5 117V118M71.5 105V106M71.5 112V113M72.5 109V110M72.5 111V112M72.5 122V123M74.5 110V111M74.5 124V126M75.5 109V110M75.5 120V121M76.5 116V117M77.5 106V107M77.5 117V118M77.5 125V127M78.5 112V113M78.5 116V117M79.5 120V121M80.5 107V109M80.5 116V118M80.5 120V121M80.5 122V123M80.5 131V132M81.5 106V107M81.5 120V121M81.5 133V134M82.5 108V109M82.5 113V114M82.5 115V116M82.5 120V121M82.5 130V132M82.5 133V134M83.5 110V111M83.5 112V113M83.5 116V117M83.5 122V123M83.5 124V125M83.5 134V135M84.5 114V115M84.5 119V120M84.5 124V125M84.5 128V129M84.5 134V136M85.5 105V106M85.5 109V110M85.5 112V114M85.5 115V116M85.5 127V128M85.5 130V131M85.5 137V138M86.5 110V111M86.5 113V114M86.5 118V119M86.5 132V133M87.5 106V107M87.5 111V113M87.5 120V121M87.5 124V125M87.5 127V128M87.5 133V135M88.5 108V109M88.5 118V120M88.5 134V135M88.5 136V137M88.5 140V141M89.5 105V106M89.5 113V114M89.5 128V129M89.5 130V131M89.5 133V134M89.5 135V136M90.5 106V107M90.5 113V114M90.5 117V118M90.5 125V127M90.5 131V133M90.5 136V137M90.5 139V140M90.5 142V143M91.5 112V113M91.5 117V118M91.5 122V123M91.5 125V126M91.5 131V132M91.5 133V134M91.5 138V139M91.5 140V142M92.5 113V114M92.5 133V134M92.5 135V137M92.5 138V139M93.5 129V130M93.5 137V138M94.5 105V106M94.5 109V110M94.5 114V116M94.5 134V135M94.5 136V137M94.5 139V140M95.5 110V111M95.5 116V117M95.5 123V124M95.5 139V140M95.5 141V142M96.5 114V115M96.5 117V118M96.5 119V120M96.5 124V125M96.5 132V133M96.5 139V140M96.5 148V149M97.5 113V115M97.5 117V118M97.5 123V125M97.5 129V130M97.5 132V133M97.5 134V135M97.5 137V138M98.5 123V126M98.5 139V140M99.5 107V108M99.5 120V121M99.5 130V131M99.5 135V136M99.5 138V139M99.5 143V144M99.5 147V148M100.5 106V107M100.5 110V111M100.5 115V116M100.5 126V127M100.5 128V129M100.5 134V135M100.5 141V142M100.5 152V153M101.5 106V108M101.5 115V117M101.5 120V121M101.5 133V134M101.5 137V138M101.5 142V144M101.5 150V151M101.5 153V154M102.5 108V109M102.5 125V126M102.5 127V128M102.5 136V137M102.5 140V142M102.5 146V147M102.5 152V154M103.5 114V117M103.5 122V123M103.5 131V132M103.5 133V134M103.5 145V146M104.5 106V107M104.5 108V109M104.5 119V120M104.5 123V124M104.5 125V126M104.5 137V138M104.5 147V149M104.5 152V153M106.5 157V158M107.5 157V158M108.5 157V158M109.5 159V160M110.5 161V163M111.5 162V164M113.5 165V166M114.5 156V157M114.5 160V161M115.5 160V162M116.5 166V167M117.5 155V156M117.5 161V162M117.5 169V170M118.5 160V161M118.5 162V163M119.5 158V159M119.5 163V164M119.5 169V171M120.5 155V157M120.5 159V160M121.5 155V156M121.5 157V158M121.5 167V168M122.5 156V157M122.5 167V168M122.5 169V170M122.5 171V172M122.5 173V174M123.5 170V171M123.5 172V173M123.5 175V176M124.5 156V157M124.5 170V171M125.5 162V163M125.5 171V172M126.5 164V167M127.5 169V170M127.5 174V175M128.5 161V162M129.5 161V162M129.5 163V164M129.5 165V166M130.5 160V161M131.5 160V161M131.5 162V163M132.5 157V158M132.5 161V162M132.5 168V169M133.5 158V159M133.5 160V161M133.5 165V166M133.5 167V169M134.5 156V157M134.5 160V161M134.5 164V165M135.5 158V160M135.5 162V163M136.5 157V158M136.5 162V163M136.5 165V166M139.5 159V160M139.5 162V163M142.5 155V156" stroke="#d2e3f3"/>
<path d="M-21.5 25V26M-18.5 33V34M-16.5 25V26M-15.5 22V23M-15.5 35V36M-14.5 25V26M-11.5 15V16M-9.5 36V37M-9.5 40V41M-7.5 26V27M-5.5 40V41M-4.5 45V46M-3.5 41V42M-2.5 43V44M-2.5 46V48M-1.5 46V48M-0.5 45V46M0.5 40V42M0.5 49V50M1.5 42V43M1.5 50V51M2.5 35V36M2.5 38V40M4.5 54V55M5.5 44V45M5.5 50V51M6.5 33V34M6.5 35V36M6.5 50V51M8.5 41V42M8.5 44V45M8.5 57V58M9.5 39V40M9.5 54V55M9.5 60V62M10.5 36V37M10.5 47V50M10.5 52V54M10.5 62V63M11.5 36V37M11.5 43V44M11.5 50V52M11.5 53V54M11.5 62V63M12.5 40V41M13.5 45V46M14.5 53V54M14.5 57V58M15.5 35V36M15.5 45V46M15.5 47V48M16.5 64V65M16.5 66V67M16.5 68V69M17.5 37V38M18.5 35V36M18.5 43V44M18.5 46V47M18.5 49V50M19.5 40V42M19.5 45V46M19.5 65V66M20.5 36V37M20.5 38V39M20.5 42V43M20.5 52V53M20.5 69V70M21.5 52V53M21.5 54V55M21.5 63V64M22.5 42V43M22.5 45V46M22.5 56V57M22.5 65V66M22.5 70V71M24.5 46V47M24.5 75V76M25.5 41V42M25.5 43V44M25.5 55V56M25.5 61V62M26.5 35V36M26.5 44V45M26.5 48V49M26.5 55V56M27.5 39V40M27.5 48V49M27.5 63V64M27.5 68V69M28.5 38V39M28.5 40V41M28.5 56V57M28.5 73V74M28.5 76V77M28.5 78V79M29.5 38V39M29.5 49V52M29.5 63V64M29.5 66V67M29.5 68V69M30.5 43V44M30.5 57V58M30.5 72V73M30.5 74V75M30.5 79V80M31.5 41V42M31.5 51V52M31.5 56V57M31.5 65V66M31.5 74V75M32.5 39V40M32.5 44V45M32.5 51V52M32.5 54V55M33.5 36V37M33.5 57V58M33.5 68V71M33.5 80V81M34.5 41V42M34.5 44V45M34.5 54V57M34.5 63V64M34.5 66V68M34.5 71V72M35.5 70V71M36.5 79V80M36.5 84V85M38.5 80V81M39.5 67V68M39.5 79V80M42.5 77V78M49.5 101V102M54.5 103V104M55.5 94V95M56.5 102V103M58.5 104V105M59.5 108V109M60.5 103V104M61.5 109V110M62.5 107V108M63.5 104V105M63.5 110V111M64.5 108V109M66.5 105V107M66.5 112V113M68.5 108V109M68.5 120V121M69.5 111V112M70.5 105V106M71.5 116V117M71.5 118V119M72.5 103V104M72.5 119V120M73.5 111V112M73.5 115V116M74.5 108V110M74.5 120V121M76.5 120V121M77.5 105V106M77.5 113V114M77.5 119V120M78.5 107V108M78.5 121V122M78.5 128V129M79.5 112V115M79.5 116V117M79.5 123V124M79.5 130V131M80.5 111V112M80.5 130V131M81.5 109V110M82.5 107V108M82.5 128V129M83.5 106V107M83.5 111V112M83.5 119V120M83.5 133V134M84.5 107V108M84.5 112V113M84.5 132V133M85.5 108V109M85.5 111V112M85.5 128V129M85.5 131V132M85.5 133V134M86.5 106V107M86.5 114V116M86.5 123V125M86.5 127V128M87.5 107V109M87.5 114V116M87.5 118V119M87.5 123V124M87.5 131V132M88.5 110V111M88.5 115V116M89.5 118V119M89.5 137V138M90.5 107V108M90.5 115V116M90.5 119V120M90.5 138V139M91.5 115V116M91.5 119V120M91.5 132V133M91.5 137V138M92.5 106V108M93.5 106V107M93.5 110V111M93.5 118V119M93.5 123V124M93.5 135V136M93.5 145V146M94.5 112V114M94.5 116V117M94.5 135V136M95.5 127V128M95.5 131V132M96.5 105V106M96.5 110V111M96.5 122V123M96.5 128V129M96.5 146V147M97.5 110V111M97.5 120V121M97.5 147V148M98.5 112V113M98.5 115V116M98.5 147V148M99.5 109V110M99.5 111V112M99.5 115V116M100.5 109V110M100.5 135V136M101.5 109V111M101.5 114V115M101.5 118V119M101.5 123V124M102.5 113V114M102.5 115V116M102.5 124V125M102.5 126V127M102.5 133V134M102.5 135V136M102.5 148V150M103.5 111V112M103.5 118V119M103.5 124V126M104.5 110V113M104.5 134V135M104.5 136V137M104.5 142V143M104.5 144V145M104.5 156V157M105.5 156V157M106.5 156V157M107.5 138V139M107.5 158V159M108.5 158V159M109.5 160V161M110.5 151V152M111.5 135V136M111.5 161V162M112.5 156V157M112.5 159V160M112.5 162V163M113.5 144V145M115.5 155V156M117.5 153V154M117.5 160V161M117.5 162V163M118.5 168V169M118.5 170V171M119.5 156V158M120.5 160V162M120.5 163V166M121.5 172V173M123.5 156V157M123.5 161V162M123.5 169V170M123.5 173V174M124.5 159V160M124.5 168V170M125.5 156V157M125.5 160V161M125.5 166V167M126.5 157V158M126.5 163V164M126.5 175V176M127.5 148V149M127.5 167V169M128.5 157V158M128.5 159V160M128.5 170V172M129.5 160V161M129.5 164V165M129.5 166V167M130.5 169V170M131.5 168V169M132.5 165V166M135.5 156V157M136.5 163V164M137.5 156V158M137.5 161V162M140.5 155V156M141.5 158V159M143.5 156V157" stroke="#c6dbef"/>
<path d="M-26.5 25V26M-23.5 22V23M-21.5 24V25M-20.5 18V19M-19.5 18V19M-19.5 25V26M-18.5 25V26M-16.5 15V16M-16.5 28V29M-16.5 30V31M-15.5 17V18M-15.5 29V30M-15.5 31V32M-14.5 13V14M-13.5 15V16M-13.5 23V24M-12.5 26V27M-12.5 28V29M-11.5 37V38M-10.5 35V36M-8.5 34V35M-8.5 42V43M-6.5 35V36M-5.5 18V19M-5.5 29V30M-4.5 9V10M-4.5 42V43M-3.5 35V36M-1.5 35V36M-0.5 49V50M2.5 43V44M3.5 52V53M5.5 45V46M6.5 54V55M7.5 45V46M7.5 53V54M8.5 31V32M8.5 54V55M9.5 35V36M9.5 37V38M12.5 43V44M12.5 47V48M13.5 48V49M13.5 60V62M14.5 36V37M14.5 44V45M14.5 52V53M15.5 43V44M15.5 48V49M15.5 52V53M16.5 42V43M16.5 50V51M18.5 38V39M18.5 42V43M19.5 37V38M20.5 70V71M22.5 36V37M22.5 54V55M23.5 35V36M23.5 38V39M23.5 46V47M23.5 53V54M23.5 69V70M23.5 72V73M24.5 38V40M25.5 36V37M25.5 38V39M25.5 63V64M25.5 71V72M26.5 36V37M26.5 45V46M26.5 57V58M26.5 60V61M27.5 35V36M28.5 48V49M28.5 69V70M29.5 44V45M29.5 47V48M30.5 39V40M30.5 42V43M30.5 50V52M30.5 65V66M31.5 47V48M31.5 53V54M32.5 41V42M32.5 43V44M32.5 80V81M32.5 82V83M33.5 41V42M33.5 55V56M34.5 47V48M34.5 49V50M34.5 52V53M34.5 60V61M35.5 54V55M35.5 64V65M35.5 81V82M35.5 83V84M35.5 85V86M36.5 63V65M36.5 67V68M36.5 77V78M37.5 71V72M37.5 83V84M37.5 89V90M38.5 54V55M38.5 68V69M38.5 79V80M38.5 83V84M39.5 60V61M39.5 68V69M39.5 86V87M39.5 90V91M40.5 64V65M40.5 84V85M40.5 90V91M40.5 92V93M42.5 80V81M42.5 92V94M43.5 78V79M43.5 94V96M47.5 83V84M50.5 99V100M50.5 101V102M51.5 103V104M52.5 99V100M53.5 100V101M53.5 102V103M54.5 101V102M55.5 104V105M57.5 105V106M58.5 94V95M58.5 107V108M59.5 98V99M60.5 111V112M66.5 98V99M66.5 102V103M66.5 108V109M66.5 111V112M67.5 113V114M68.5 117V119M69.5 119V120M70.5 120V121M71.5 109V110M72.5 106V107M72.5 118V119M72.5 121V122M73.5 97V98M74.5 118V119M75.5 96V97M75.5 118V120M75.5 123V124M79.5 111V112M79.5 131V132M80.5 105V106M81.5 132V133M85.5 106V107M85.5 119V120M86.5 119V120M88.5 116V117M89.5 116V117M90.5 108V109M91.5 111V112M91.5 113V114M92.5 115V116M92.5 119V120M92.5 139V140M93.5 108V109M94.5 107V108M94.5 118V119M94.5 126V127M94.5 144V145M95.5 106V107M96.5 109V110M96.5 115V116M96.5 127V128M96.5 130V131M96.5 133V134M96.5 145V146M98.5 111V112M98.5 118V119M98.5 130V131M98.5 150V151M99.5 113V114M99.5 118V119M99.5 133V134M100.5 117V119M101.5 112V113M102.5 117V118M102.5 120V122M102.5 137V138M102.5 143V144M102.5 150V151M103.5 106V107M103.5 108V109M103.5 112V114M103.5 117V118M103.5 151V152M104.5 109V110M104.5 116V117M104.5 146V147M106.5 146V147M107.5 145V146M110.5 152V154M111.5 131V132M111.5 137V138M112.5 152V153M112.5 158V159M112.5 164V165M115.5 146V147M115.5 165V166M116.5 154V155M118.5 148V149M118.5 155V156M118.5 163V164M122.5 146V147M123.5 158V159M123.5 160V161M123.5 167V168M124.5 146V147M125.5 161V162M125.5 165V166M126.5 160V161M127.5 160V161M127.5 173V174M129.5 156V157M129.5 168V169M129.5 171V172M130.5 167V168M131.5 157V158M133.5 166V167M134.5 159V160M134.5 162V163M136.5 159V160M138.5 158V160M139.5 157V158M140.5 156V157M140.5 161V162M144.5 155V156M145.5 155V156" stroke="#b2d2e8"/>
<path d="M-25.5 24V25M-25.5 26V27M-24.5 23V25M-23.5 21V22M-23.5 23V24M-23.5 25V26M-23.5 28V29M-22.5 20V21M-22.5 29V30M-21.5 21V22M-21.5 30V31M-20.5 31V32M-19.5 19V21M-19.5 29V30M-19.5 31V32M-18.5 17V19M-18.5 31V32M-17.5 23V24M-17.5 25V26M-17.5 27V28M-17.5 30V31M-17.5 32V33M-16.5 16V19M-15.5 13V14M-15.5 16V17M-15.5 26V27M-14.5 28V29M-14.5 31V32M-13.5 28V29M-13.5 33V34M-12.5 12V14M-12.5 23V24M-12.5 30V31M-12.5 34V35M-11.5 18V19M-11.5 20V21M-11.5 24V25M-11.5 26V27M-11.5 32V33M-10.5 18V19M-10.5 21V22M-10.5 26V27M-10.5 28V29M-10.5 30V31M-9.5 21V22M-9.5 23V26M-8.5 11V12M-8.5 19V20M-7.5 15V16M-6.5 4V5M-6.5 19V20M-5.5 30V31M-4.5 20V21M-3.5 28V29M-3.5 30V31M-3.5 40V41M-2.5 41V42M-1.5 14V15M-1.5 32V33M-0.5 19V20M-0.5 22V23M-0.5 28V29M-0.5 48V49M0.5 20V21M0.5 23V24M1.5 22V23M2.5 34V35M3.5 27V28M4.5 27V28M6.5 24V25M6.5 48V49M8.5 37V38M8.5 46V47M8.5 56V57M11.5 34V35M12.5 55V56M12.5 58V59M13.5 32V33M13.5 34V35M13.5 36V37M16.5 49V50M18.5 57V58M21.5 40V42M22.5 52V53M24.5 36V37M24.5 40V41M24.5 47V48M24.5 55V56M24.5 61V62M25.5 48V49M25.5 53V54M27.5 38V39M27.5 42V43M27.5 47V48M27.5 54V55M28.5 36V38M28.5 54V55M29.5 39V41M29.5 59V60M30.5 35V37M30.5 41V42M30.5 54V55M30.5 68V69M31.5 42V43M31.5 49V50M32.5 36V37M32.5 38V39M33.5 47V49M33.5 53V54M34.5 59V60M35.5 55V56M35.5 67V68M35.5 71V72M35.5 73V74M35.5 75V76M35.5 86V87M36.5 60V61M36.5 62V63M36.5 69V70M36.5 73V74M36.5 75V76M36.5 87V88M37.5 62V63M37.5 68V70M37.5 74V75M37.5 76V78M37.5 80V82M37.5 84V85M38.5 55V56M38.5 63V64M38.5 67V68M38.5 72V73M38.5 75V77M38.5 78V79M38.5 82V83M38.5 86V87M38.5 88V89M38.5 90V91M39.5 69V70M39.5 77V79M39.5 82V83M39.5 87V88M40.5 63V64M40.5 69V70M40.5 71V72M40.5 74V75M40.5 80V84M40.5 85V86M40.5 88V89M42.5 54V55M42.5 74V77M42.5 78V79M42.5 81V82M42.5 91V92M43.5 62V63M43.5 68V69M43.5 71V73M43.5 74V75M43.5 77V78M43.5 88V89M43.5 90V92M44.5 89V90M44.5 96V97M45.5 94V95M46.5 81V82M46.5 94V95M46.5 97V98M47.5 98V100M48.5 96V97M48.5 100V101M49.5 73V74M49.5 90V91M49.5 97V98M50.5 94V95M51.5 99V100M52.5 103V105M53.5 78V79M53.5 101V102M54.5 96V97M54.5 100V101M56.5 96V97M56.5 100V101M57.5 94V95M57.5 98V99M57.5 101V102M58.5 95V97M58.5 98V99M58.5 100V101M59.5 94V95M59.5 96V97M59.5 103V104M60.5 94V95M60.5 96V97M61.5 95V96M61.5 102V103M62.5 95V96M62.5 102V103M64.5 104V105M65.5 96V97M65.5 99V100M65.5 104V105M65.5 108V109M65.5 113V114M67.5 118V120M68.5 95V96M68.5 99V100M68.5 104V105M69.5 96V97M70.5 94V95M70.5 97V98M71.5 96V97M71.5 102V103M71.5 104V105M71.5 117V118M72.5 94V95M73.5 104V105M74.5 104V105M75.5 112V113M76.5 97V98M76.5 107V108M76.5 127V128M78.5 110V111M79.5 109V110M81.5 98V99M86.5 107V108M87.5 132V133M88.5 123V124M89.5 139V140M90.5 105V106M90.5 122V123M91.5 105V106M91.5 107V108M91.5 120V121M91.5 123V124M92.5 143V144M93.5 105V106M93.5 112V113M93.5 119V120M93.5 128V129M94.5 133V134M95.5 107V108M96.5 120V121M97.5 144V145M97.5 148V149M98.5 107V108M98.5 145V146M99.5 105V106M100.5 105V106M100.5 114V115M100.5 116V117M100.5 125V126M100.5 138V139M101.5 113V114M101.5 119V120M102.5 107V108M102.5 109V111M102.5 114V115M102.5 130V131M102.5 132V133M103.5 121V122M103.5 141V142M103.5 144V145M104.5 118V119M104.5 124V125M104.5 126V127M105.5 121V123M105.5 146V147M106.5 132V133M106.5 135V136M106.5 144V145M106.5 152V153M107.5 131V132M107.5 152V153M107.5 154V155M108.5 130V131M108.5 144V145M108.5 152V153M108.5 154V155M109.5 120V121M109.5 149V150M109.5 151V152M110.5 143V144M110.5 150V151M110.5 155V156M111.5 148V149M111.5 156V157M112.5 147V148M112.5 154V155M113.5 149V150M114.5 148V149M114.5 152V153M114.5 155V156M115.5 132V133M116.5 142V143M116.5 147V148M116.5 151V152M117.5 137V138M117.5 149V150M117.5 154V155M118.5 146V148M118.5 153V154M119.5 146V148M119.5 151V152M119.5 164V165M120.5 144V145M120.5 147V148M120.5 153V154M121.5 146V147M121.5 148V149M121.5 151V152M121.5 154V155M122.5 154V155M123.5 145V146M124.5 143V144M124.5 171V172M125.5 149V150M125.5 163V164M126.5 142V143M126.5 146V147M128.5 154V155M128.5 172V173M129.5 144V145M130.5 156V158M132.5 155V156M138.5 163V164M139.5 156V157M140.5 158V159M141.5 156V157" stroke="#9ecae1"/>
<path d="M-25.5 23V24M-24.5 22V23M-23.5 24V25M-22.5 24V28M-21.5 19V20M-21.5 23V24M-20.5 22V23M-20.5 25V26M-20.5 28V29M-20.5 30V31M-19.5 24V25M-19.5 27V28M-19.5 30V31M-18.5 16V17M-18.5 26V27M-18.5 28V29M-18.5 30V31M-18.5 32V33M-17.5 26V27M-17.5 31V32M-16.5 19V21M-16.5 22V23M-16.5 27V28M-16.5 29V30M-16.5 32V33M-15.5 20V21M-15.5 23V24M-15.5 25V26M-14.5 14V15M-14.5 16V17M-14.5 23V24M-14.5 29V30M-14.5 33V35M-13.5 13V14M-13.5 19V21M-13.5 22V23M-13.5 30V31M-13.5 34V35M-12.5 14V16M-12.5 18V19M-12.5 22V23M-12.5 29V30M-11.5 10V11M-11.5 16V17M-11.5 23V24M-11.5 30V31M-10.5 10V11M-10.5 13V16M-10.5 22V23M-10.5 31V32M-10.5 33V34M-9.5 18V19M-9.5 30V31M-9.5 33V35M-8.5 16V17M-8.5 18V19M-8.5 23V24M-8.5 28V29M-7.5 8V9M-7.5 19V20M-7.5 21V25M-7.5 29V30M-7.5 31V32M-6.5 12V15M-6.5 22V23M-6.5 28V29M-6.5 33V34M-5.5 9V10M-5.5 17V18M-5.5 33V34M-4.5 17V18M-4.5 21V22M-4.5 34V35M-3.5 22V23M-3.5 24V25M-2.5 12V13M-2.5 16V17M-2.5 18V19M-2.5 20V21M-2.5 25V26M-2.5 27V28M-2.5 29V30M-2.5 32V33M-2.5 34V35M-1.5 21V22M-1.5 29V30M-1.5 31V32M-1.5 34V35M-0.5 24V25M-0.5 29V30M-0.5 31V32M0.5 27V28M0.5 34V35M1.5 15V16M1.5 23V25M1.5 26V27M1.5 28V29M1.5 30V31M1.5 32V35M1.5 36V37M2.5 19V22M2.5 26V27M2.5 28V29M2.5 32V34M2.5 51V52M3.5 15V16M3.5 24V25M4.5 29V30M4.5 31V32M5.5 26V27M5.5 28V29M6.5 34V35M7.5 27V28M7.5 32V33M7.5 44V45M8.5 22V23M9.5 29V30M9.5 55V56M10.5 30V31M10.5 34V35M11.5 27V28M11.5 29V30M12.5 35V36M14.5 60V61M15.5 30V31M18.5 31V32M18.5 34V35M18.5 51V52M19.5 42V43M21.5 35V36M27.5 46V47M29.5 48V49M31.5 37V38M32.5 42V43M32.5 47V48M33.5 37V38M33.5 39V40M34.5 51V52M34.5 78V79M35.5 50V51M35.5 52V53M35.5 61V62M35.5 69V70M35.5 72V73M35.5 74V75M35.5 76V78M35.5 84V85M35.5 87V88M36.5 47V48M36.5 52V53M36.5 58V59M36.5 70V71M36.5 80V83M36.5 85V87M37.5 57V58M37.5 64V68M37.5 72V74M37.5 78V79M37.5 82V83M37.5 85V86M38.5 59V60M38.5 61V63M38.5 71V72M38.5 73V75M39.5 49V50M39.5 52V53M39.5 75V77M39.5 84V86M39.5 91V92M40.5 55V57M40.5 60V61M40.5 65V66M40.5 67V69M40.5 70V71M40.5 72V73M40.5 77V80M40.5 89V90M41.5 54V55M41.5 59V61M41.5 64V65M42.5 61V62M42.5 67V69M42.5 71V74M42.5 84V85M42.5 86V91M42.5 94V95M43.5 61V62M43.5 63V65M43.5 69V71M43.5 73V74M43.5 79V81M43.5 82V83M43.5 84V85M43.5 89V90M43.5 92V93M44.5 73V74M44.5 84V85M44.5 90V91M44.5 93V94M45.5 84V85M46.5 86V87M46.5 90V91M47.5 95V96M48.5 84V85M48.5 88V89M48.5 90V91M48.5 92V93M48.5 95V96M49.5 62V63M49.5 86V87M49.5 95V96M49.5 100V101M51.5 70V71M51.5 72V73M51.5 77V78M51.5 80V81M51.5 82V84M51.5 91V92M51.5 93V94M51.5 95V98M52.5 85V86M52.5 92V93M52.5 95V97M52.5 98V99M52.5 102V103M53.5 96V97M53.5 103V105M54.5 86V87M54.5 88V89M54.5 98V100M54.5 104V105M55.5 73V74M55.5 90V91M55.5 95V96M55.5 97V99M55.5 100V101M56.5 74V75M56.5 85V87M56.5 97V98M56.5 101V102M56.5 103V104M57.5 80V81M57.5 82V83M57.5 86V87M57.5 93V94M57.5 95V96M57.5 100V101M58.5 83V84M58.5 101V102M58.5 103V104M59.5 85V86M59.5 89V90M59.5 92V93M59.5 99V100M60.5 89V90M60.5 95V96M60.5 98V100M60.5 102V103M60.5 104V105M61.5 89V90M61.5 93V94M61.5 97V98M61.5 100V102M61.5 103V104M62.5 93V95M63.5 96V97M63.5 98V99M63.5 103V104M64.5 97V99M64.5 102V103M65.5 93V94M65.5 97V99M66.5 103V104M67.5 86V87M67.5 90V91M67.5 95V97M67.5 100V101M67.5 104V105M68.5 102V103M69.5 95V96M69.5 97V98M69.5 99V100M69.5 103V104M70.5 91V92M70.5 95V96M70.5 103V104M71.5 94V96M72.5 95V97M72.5 107V108M73.5 93V94M73.5 99V100M73.5 102V103M73.5 110V111M74.5 96V97M74.5 98V99M74.5 102V104M75.5 97V98M75.5 101V102M76.5 98V99M76.5 100V101M77.5 103V104M78.5 95V96M78.5 100V101M78.5 102V103M79.5 104V105M81.5 93V94M81.5 100V101M81.5 103V104M82.5 102V103M83.5 95V96M83.5 101V102M86.5 103V104M88.5 104V105M89.5 98V99M92.5 108V109M94.5 106V107M95.5 126V127M95.5 129V130M96.5 106V107M97.5 108V109M98.5 109V110M100.5 113V114M101.5 148V149M102.5 118V119M103.5 105V106M103.5 107V108M104.5 122V123M105.5 126V127M105.5 130V133M105.5 139V140M105.5 143V144M105.5 145V146M105.5 147V151M105.5 152V153M105.5 154V155M106.5 139V142M107.5 127V128M107.5 130V131M107.5 135V136M107.5 142V143M107.5 144V145M108.5 121V122M108.5 125V130M108.5 137V138M108.5 140V144M108.5 151V152M108.5 153V154M109.5 127V128M109.5 132V133M109.5 135V136M109.5 137V138M109.5 140V143M109.5 144V146M109.5 148V149M109.5 150V151M109.5 152V154M110.5 128V129M110.5 140V141M110.5 145V147M111.5 124V125M111.5 126V127M111.5 136V137M111.5 138V140M111.5 144V146M111.5 150V151M111.5 153V155M112.5 131V133M112.5 134V135M112.5 151V152M113.5 131V132M113.5 137V139M113.5 151V152M114.5 132V133M114.5 143V144M114.5 145V147M114.5 149V151M115.5 143V145M115.5 153V155M116.5 131V132M116.5 133V134M116.5 139V140M116.5 143V144M116.5 164V165M117.5 136V137M117.5 142V143M117.5 144V145M117.5 147V148M117.5 150V151M117.5 152V153M118.5 154V155M119.5 142V143M119.5 145V146M119.5 154V155M120.5 142V143M120.5 154V155M121.5 142V143M121.5 144V146M121.5 147V148M121.5 153V154M122.5 142V143M123.5 141V142M123.5 143V144M123.5 150V151M123.5 171V172M124.5 145V146M124.5 150V153M125.5 141V142M125.5 143V144M125.5 151V152M125.5 153V154M126.5 140V141M126.5 150V151M126.5 152V153M126.5 154V155M126.5 174V175M127.5 142V143M127.5 149V150M127.5 153V154M127.5 157V158M128.5 145V146M128.5 150V151M129.5 146V147M129.5 154V155M130.5 144V146M130.5 149V150M131.5 148V149M132.5 149V150M132.5 153V154M133.5 154V155M134.5 148V149M135.5 165V166M136.5 152V153M137.5 153V154M138.5 153V154" stroke="#84bcdc"/>
<path d="M-26.5 24V25M-25.5 25V26M-23.5 26V27M-22.5 22V24M-22.5 28V29M-21.5 22V23M-21.5 26V27M-20.5 19V22M-20.5 23V25M-19.5 17V18M-19.5 21V24M-19.5 32V33M-18.5 19V20M-18.5 22V24M-18.5 27V28M-17.5 16V17M-17.5 18V20M-17.5 21V23M-17.5 24V25M-17.5 29V30M-16.5 14V15M-16.5 24V25M-16.5 26V27M-16.5 33V35M-15.5 15V16M-15.5 28V29M-15.5 32V33M-15.5 34V35M-14.5 12V13M-14.5 15V16M-14.5 19V20M-14.5 21V22M-14.5 26V27M-14.5 30V31M-13.5 12V13M-13.5 18V19M-13.5 24V25M-13.5 31V32M-12.5 24V26M-11.5 9V10M-11.5 13V14M-11.5 17V18M-11.5 21V23M-11.5 25V26M-11.5 28V30M-11.5 34V35M-10.5 8V9M-10.5 11V13M-10.5 16V18M-10.5 20V21M-10.5 23V26M-9.5 9V10M-9.5 15V16M-9.5 19V20M-9.5 32V33M-8.5 13V15M-8.5 29V30M-8.5 31V32M-7.5 14V15M-7.5 17V18M-7.5 20V21M-7.5 25V26M-7.5 28V29M-7.5 30V31M-6.5 9V10M-6.5 18V19M-6.5 20V21M-6.5 23V24M-5.5 21V22M-5.5 23V25M-5.5 26V27M-5.5 28V29M-5.5 32V33M-5.5 34V35M-4.5 13V14M-4.5 18V19M-4.5 22V24M-4.5 25V27M-4.5 28V29M-4.5 32V33M-3.5 8V9M-3.5 15V17M-3.5 19V22M-3.5 23V24M-3.5 26V27M-3.5 33V34M-2.5 17V18M-2.5 21V24M-2.5 30V32M-2.5 33V34M-1.5 10V11M-1.5 25V26M-1.5 27V28M-1.5 33V34M-0.5 8V9M-0.5 20V21M-0.5 32V34M0.5 12V13M0.5 28V29M0.5 31V32M1.5 19V20M1.5 21V22M2.5 16V17M2.5 23V24M2.5 27V28M2.5 29V30M3.5 28V30M3.5 31V32M4.5 12V13M4.5 14V15M4.5 20V21M4.5 25V26M4.5 30V31M5.5 17V18M5.5 30V31M5.5 33V34M6.5 26V27M6.5 31V32M7.5 18V19M7.5 24V25M7.5 28V30M8.5 24V25M8.5 28V30M8.5 32V34M9.5 20V21M9.5 23V24M9.5 26V28M10.5 26V27M11.5 28V29M11.5 31V32M12.5 31V32M12.5 34V35M13.5 19V20M14.5 21V22M14.5 31V32M14.5 33V34M15.5 26V28M15.5 33V35M16.5 56V57M18.5 28V29M20.5 39V40M21.5 34V35M22.5 34V35M26.5 62V63M30.5 37V38M31.5 35V37M31.5 43V44M32.5 35V36M32.5 40V41M33.5 42V43M34.5 36V37M34.5 40V41M34.5 42V44M35.5 46V47M35.5 51V52M35.5 57V59M35.5 60V61M35.5 62V64M35.5 65V66M35.5 68V69M35.5 78V79M35.5 80V81M36.5 49V50M36.5 51V52M36.5 57V58M36.5 61V62M36.5 65V66M36.5 68V69M36.5 72V73M36.5 76V77M36.5 78V79M36.5 83V84M37.5 51V52M37.5 54V55M37.5 86V87M37.5 88V89M38.5 45V46M38.5 51V52M38.5 64V65M38.5 81V82M38.5 84V86M39.5 50V52M39.5 53V54M39.5 56V57M39.5 59V60M39.5 61V62M39.5 66V67M39.5 70V71M39.5 72V74M39.5 80V81M39.5 83V84M39.5 89V90M40.5 46V48M40.5 53V54M40.5 61V63M40.5 66V67M40.5 73V74M40.5 76V77M40.5 91V92M41.5 51V52M41.5 65V67M42.5 56V58M42.5 62V64M42.5 65V67M42.5 69V70M42.5 79V80M42.5 83V84M42.5 85V86M43.5 53V54M43.5 57V58M43.5 60V61M43.5 65V67M43.5 76V77M43.5 86V88M44.5 71V72M44.5 74V75M44.5 76V77M44.5 79V80M44.5 83V84M44.5 87V88M45.5 69V71M45.5 72V73M45.5 76V78M45.5 81V83M45.5 87V88M45.5 92V94M45.5 95V96M46.5 65V66M46.5 68V69M46.5 71V72M46.5 84V85M46.5 87V89M46.5 95V96M47.5 61V62M47.5 69V70M47.5 72V73M47.5 74V75M47.5 82V83M47.5 86V87M47.5 88V91M48.5 66V67M48.5 72V73M48.5 74V75M48.5 76V77M48.5 80V81M48.5 94V95M48.5 97V98M48.5 99V100M49.5 61V62M49.5 71V73M49.5 76V79M49.5 82V83M49.5 87V88M49.5 89V90M49.5 92V93M49.5 94V95M49.5 96V97M49.5 98V99M50.5 95V96M50.5 97V98M50.5 100V101M50.5 102V103M51.5 63V64M51.5 74V75M51.5 79V80M51.5 81V82M51.5 88V89M51.5 90V91M51.5 92V93M51.5 94V95M51.5 98V99M52.5 97V98M53.5 80V81M53.5 88V89M53.5 90V92M53.5 95V96M53.5 97V99M54.5 69V70M54.5 71V72M54.5 90V91M54.5 94V95M54.5 97V98M54.5 102V103M55.5 75V76M55.5 85V86M55.5 88V89M55.5 92V93M55.5 99V100M55.5 101V104M56.5 68V69M56.5 80V81M56.5 92V93M57.5 73V74M57.5 89V92M57.5 99V100M58.5 80V81M58.5 86V87M58.5 88V89M58.5 91V93M58.5 97V98M58.5 99V100M58.5 102V103M59.5 88V89M59.5 95V96M59.5 100V102M60.5 83V84M60.5 92V93M60.5 97V98M60.5 100V102M61.5 74V75M61.5 82V84M61.5 87V88M61.5 91V92M61.5 94V95M61.5 98V100M62.5 86V87M62.5 89V90M62.5 96V97M62.5 99V100M63.5 83V84M63.5 88V89M63.5 91V94M63.5 95V96M63.5 101V102M64.5 87V88M64.5 89V90M64.5 93V94M64.5 95V96M64.5 100V101M65.5 88V90M65.5 91V92M65.5 101V102M66.5 93V95M67.5 81V82M67.5 91V92M67.5 93V94M67.5 97V98M67.5 102V103M68.5 94V95M68.5 96V97M68.5 101V102M69.5 98V99M70.5 96V97M70.5 100V101M71.5 91V92M71.5 98V102M71.5 103V104M72.5 90V91M72.5 97V99M73.5 100V102M74.5 101V102M76.5 96V97M76.5 99V100M77.5 97V98M78.5 103V104M79.5 96V97M79.5 98V101M80.5 98V99M80.5 102V103M80.5 104V105M81.5 96V97M81.5 104V105M82.5 95V97M82.5 98V100M82.5 101V102M83.5 99V100M84.5 99V100M84.5 102V105M85.5 94V95M86.5 104V105M87.5 100V101M87.5 104V105M88.5 100V101M88.5 103V104M89.5 102V103M90.5 103V104M102.5 106V107M102.5 112V113M102.5 116V117M103.5 109V110M104.5 107V108M104.5 113V114M105.5 123V124M105.5 127V130M105.5 134V135M105.5 136V137M105.5 138V139M105.5 140V142M105.5 144V145M105.5 153V154M106.5 123V125M106.5 128V130M106.5 133V134M106.5 137V138M106.5 142V144M106.5 150V151M106.5 153V155M107.5 120V121M107.5 133V134M107.5 136V137M107.5 139V141M107.5 146V147M107.5 148V149M107.5 150V152M108.5 131V132M108.5 134V135M108.5 136V137M108.5 145V146M108.5 148V150M109.5 115V116M109.5 121V122M109.5 131V132M109.5 136V137M109.5 138V139M109.5 146V148M109.5 154V155M110.5 118V119M110.5 122V123M110.5 124V125M110.5 131V132M110.5 133V134M110.5 138V140M110.5 142V143M110.5 147V149M110.5 154V155M111.5 130V131M111.5 141V143M111.5 147V148M112.5 123V124M112.5 130V131M112.5 135V136M112.5 139V140M112.5 141V142M112.5 143V144M112.5 148V149M112.5 153V154M113.5 124V125M113.5 130V131M113.5 133V134M113.5 140V141M113.5 142V143M113.5 145V146M113.5 153V154M114.5 133V134M114.5 154V155M115.5 133V134M115.5 138V139M115.5 148V149M115.5 150V151M116.5 130V131M116.5 132V133M116.5 134V135M116.5 145V146M116.5 148V151M117.5 128V129M117.5 131V133M117.5 140V141M117.5 145V147M118.5 135V136M118.5 137V138M118.5 145V146M118.5 152V153M119.5 137V138M119.5 141V142M119.5 153V154M120.5 139V140M120.5 143V144M120.5 146V147M120.5 148V150M120.5 151V152M121.5 137V138M121.5 150V151M122.5 137V138M122.5 139V140M122.5 141V142M122.5 144V146M122.5 149V150M122.5 152V153M123.5 139V140M123.5 142V143M123.5 146V149M123.5 151V153M124.5 130V131M124.5 133V134M124.5 142V143M124.5 148V150M124.5 154V155M125.5 145V146M125.5 147V148M125.5 150V151M126.5 136V137M126.5 145V146M126.5 148V150M127.5 144V145M127.5 151V153M128.5 153V154M129.5 145V146M129.5 150V151M131.5 154V155M132.5 148V149M132.5 150V152M132.5 154V155M134.5 150V151M134.5 152V153M135.5 149V150M135.5 152V153M135.5 154V155M136.5 145V146M138.5 148V149M140.5 151V152M140.5 154V155M142.5 152V153" stroke="#6baed6"/>
<path d="M-24.5 27V28M-21.5 20V21M-21.5 27V29M-20.5 26V28M-20.5 29V30M-19.5 26V27M-19.5 28V29M-18.5 21V22M-17.5 17V18M-16.5 21V22M-16.5 23V24M-16.5 31V32M-15.5 19V20M-15.5 21V22M-15.5 24V25M-15.5 33V34M-14.5 18V19M-14.5 32V33M-13.5 11V12M-13.5 14V15M-13.5 17V18M-13.5 21V22M-13.5 26V27M-12.5 16V17M-12.5 19V22M-12.5 31V32M-12.5 33V34M-11.5 12V13M-11.5 14V15M-10.5 9V10M-10.5 19V20M-10.5 29V30M-10.5 32V33M-10.5 34V35M-9.5 7V9M-9.5 16V18M-9.5 20V21M-9.5 26V27M-9.5 28V30M-8.5 8V9M-8.5 12V13M-8.5 17V18M-8.5 20V23M-8.5 24V26M-8.5 32V34M-7.5 5V6M-7.5 10V14M-7.5 18V19M-7.5 32V34M-6.5 15V17M-6.5 21V22M-6.5 25V27M-6.5 29V33M-6.5 34V35M-5.5 7V8M-5.5 11V12M-5.5 14V16M-5.5 19V21M-5.5 22V23M-5.5 25V26M-5.5 31V32M-4.5 4V5M-4.5 7V8M-4.5 16V17M-4.5 19V20M-3.5 11V12M-3.5 14V15M-3.5 17V18M-3.5 31V32M-3.5 34V35M-2.5 1V2M-2.5 8V9M-2.5 10V12M-2.5 14V15M-2.5 26V27M-2.5 28V29M-1.5 7V8M-1.5 18V19M-1.5 20V21M-1.5 23V24M-0.5 6V7M-0.5 11V12M-0.5 14V15M-0.5 17V18M-0.5 25V28M-0.5 30V31M-0.5 34V35M0.5 7V8M0.5 16V17M0.5 18V20M0.5 24V25M0.5 26V27M0.5 29V30M0.5 32V33M1.5 16V17M1.5 18V19M1.5 29V30M2.5 7V8M2.5 11V12M2.5 15V16M2.5 18V19M2.5 31V32M3.5 22V23M3.5 25V26M3.5 34V35M4.5 15V16M4.5 24V25M4.5 34V35M5.5 10V11M5.5 16V17M5.5 19V20M5.5 22V25M5.5 29V30M5.5 31V33M6.5 12V14M6.5 16V17M6.5 20V22M6.5 25V26M6.5 28V30M7.5 23V24M7.5 25V27M7.5 33V34M8.5 18V19M8.5 21V22M8.5 23V24M8.5 26V27M8.5 30V31M8.5 34V35M9.5 13V14M9.5 24V25M9.5 28V29M9.5 34V35M10.5 20V21M10.5 22V23M10.5 25V26M10.5 27V28M10.5 31V34M11.5 17V18M11.5 22V24M11.5 33V34M12.5 24V25M12.5 32V34M13.5 27V29M13.5 30V31M14.5 20V21M14.5 25V26M14.5 27V28M14.5 29V30M14.5 34V35M15.5 31V32M16.5 25V26M16.5 32V34M17.5 22V24M17.5 29V30M17.5 32V34M18.5 26V27M19.5 31V32M19.5 34V35M20.5 27V28M20.5 30V31M20.5 34V35M21.5 29V30M23.5 27V28M23.5 30V31M23.5 34V35M28.5 39V40M33.5 35V36M33.5 38V39M34.5 38V40M35.5 44V45M35.5 56V57M35.5 79V80M36.5 46V47M36.5 48V49M36.5 53V55M36.5 59V60M36.5 66V67M36.5 74V75M37.5 52V54M37.5 60V62M37.5 70V71M38.5 47V48M38.5 53V54M38.5 57V58M38.5 65V67M38.5 69V71M38.5 89V90M39.5 44V45M39.5 46V49M39.5 54V55M39.5 62V64M40.5 48V49M40.5 50V51M40.5 57V60M40.5 75V76M40.5 86V88M41.5 48V50M41.5 52V53M41.5 56V57M41.5 58V59M41.5 62V64M42.5 48V49M42.5 58V61M42.5 70V71M43.5 51V52M43.5 55V56M43.5 58V59M43.5 67V68M43.5 81V82M43.5 85V86M44.5 54V55M44.5 78V79M44.5 80V83M44.5 88V89M44.5 91V93M44.5 94V96M45.5 65V66M45.5 71V72M45.5 88V89M45.5 91V92M45.5 97V98M46.5 60V61M46.5 63V64M46.5 72V73M46.5 74V75M46.5 78V79M46.5 83V84M46.5 92V94M46.5 98V99M47.5 65V66M47.5 73V74M47.5 77V78M47.5 81V82M47.5 84V85M47.5 87V88M47.5 94V95M47.5 96V97M48.5 61V63M48.5 68V69M48.5 70V72M48.5 79V80M48.5 81V82M48.5 83V84M48.5 86V87M48.5 98V99M49.5 67V68M49.5 70V71M49.5 79V82M49.5 83V86M49.5 91V92M49.5 93V94M49.5 99V100M50.5 96V97M51.5 75V76M51.5 78V79M51.5 84V85M51.5 86V87M51.5 101V102M52.5 60V61M52.5 66V67M52.5 68V70M52.5 73V74M52.5 77V78M52.5 79V80M52.5 82V83M52.5 84V85M52.5 87V88M52.5 89V90M52.5 91V92M52.5 94V95M53.5 65V66M53.5 67V68M53.5 72V74M53.5 75V76M53.5 82V84M53.5 87V88M53.5 99V100M54.5 64V65M54.5 74V75M54.5 76V78M54.5 79V80M54.5 81V82M54.5 84V85M54.5 87V88M54.5 89V90M54.5 91V92M54.5 93V94M55.5 71V72M55.5 79V81M55.5 87V88M55.5 89V90M55.5 93V94M56.5 78V79M56.5 81V82M56.5 89V90M56.5 91V92M56.5 94V96M56.5 99V100M56.5 104V105M57.5 65V66M57.5 70V73M57.5 74V75M57.5 77V78M57.5 81V82M57.5 84V85M57.5 87V88M57.5 92V93M57.5 102V103M57.5 104V105M58.5 77V79M58.5 81V82M58.5 84V85M58.5 87V88M58.5 90V91M59.5 81V82M59.5 83V84M59.5 87V88M59.5 91V92M59.5 102V103M60.5 82V83M60.5 93V94M61.5 80V81M61.5 85V87M61.5 104V105M62.5 78V79M62.5 80V81M62.5 85V86M62.5 98V99M62.5 101V102M62.5 104V105M63.5 77V79M63.5 82V83M63.5 84V85M63.5 90V91M63.5 94V95M63.5 99V101M63.5 102V103M64.5 80V81M64.5 83V84M64.5 85V86M64.5 88V89M64.5 96V97M64.5 101V102M65.5 94V95M65.5 100V101M65.5 102V104M66.5 87V88M66.5 92V93M66.5 99V100M66.5 101V102M67.5 79V80M67.5 84V85M67.5 101V102M68.5 87V88M68.5 98V99M69.5 86V87M69.5 89V90M69.5 92V93M69.5 101V102M70.5 83V84M70.5 92V93M70.5 99V100M70.5 101V102M71.5 86V87M71.5 89V90M71.5 92V93M72.5 81V82M72.5 92V94M72.5 99V101M72.5 102V103M73.5 92V93M73.5 94V95M73.5 98V99M74.5 92V94M74.5 99V100M75.5 93V94M75.5 95V96M75.5 98V101M75.5 103V104M76.5 89V90M76.5 101V102M76.5 104V105M77.5 94V95M77.5 99V102M77.5 104V105M77.5 121V122M78.5 93V94M78.5 96V97M78.5 101V102M78.5 104V105M79.5 101V103M80.5 97V98M80.5 100V101M80.5 103V104M81.5 95V96M81.5 99V100M81.5 102V103M82.5 92V93M82.5 103V105M83.5 98V99M83.5 104V105M85.5 93V94M85.5 100V101M85.5 102V103M86.5 96V97M86.5 99V100M86.5 101V103M87.5 94V95M87.5 102V103M88.5 95V96M89.5 94V95M89.5 101V102M90.5 96V97M90.5 101V102M90.5 104V105M91.5 100V101M91.5 104V105M92.5 100V101M93.5 111V112M94.5 101V102M97.5 102V103M105.5 118V120M105.5 124V125M105.5 135V136M105.5 137V138M105.5 142V143M106.5 114V115M106.5 116V118M106.5 121V122M106.5 125V126M106.5 127V128M106.5 134V135M106.5 138V139M106.5 145V146M106.5 148V149M106.5 151V152M107.5 119V120M107.5 124V126M107.5 129V130M107.5 147V148M108.5 115V116M108.5 117V118M108.5 124V125M108.5 135V136M108.5 146V147M108.5 150V151M109.5 119V120M109.5 128V129M109.5 139V140M110.5 117V118M110.5 123V124M110.5 126V127M110.5 132V133M110.5 134V135M110.5 141V142M110.5 149V150M111.5 117V118M111.5 121V122M111.5 129V130M111.5 149V150M111.5 151V152M112.5 121V122M112.5 124V128M112.5 138V139M112.5 140V141M112.5 142V143M112.5 145V147M112.5 149V151M113.5 129V130M113.5 136V137M113.5 141V142M113.5 147V148M113.5 152V153M114.5 135V136M114.5 140V143M114.5 144V145M114.5 151V152M114.5 153V154M115.5 131V132M115.5 134V135M115.5 136V137M115.5 140V142M115.5 147V148M115.5 149V150M116.5 124V125M116.5 136V139M116.5 141V142M116.5 152V154M117.5 124V125M117.5 130V131M117.5 138V139M118.5 131V132M118.5 134V135M118.5 136V137M118.5 138V139M118.5 142V143M118.5 144V145M118.5 151V152M119.5 124V125M119.5 126V127M119.5 128V129M119.5 132V133M119.5 134V135M119.5 144V145M119.5 148V149M119.5 150V151M120.5 130V131M120.5 134V136M120.5 140V141M120.5 145V146M121.5 131V132M121.5 136V137M121.5 149V150M122.5 131V132M122.5 143V144M122.5 147V149M122.5 150V152M123.5 136V137M123.5 144V145M123.5 149V150M123.5 153V155M124.5 136V137M124.5 138V139M124.5 140V142M125.5 138V140M125.5 146V147M125.5 148V149M125.5 152V153M125.5 154V155M126.5 133V134M126.5 143V145M126.5 151V152M126.5 153V154M127.5 131V132M127.5 133V134M127.5 137V139M127.5 140V142M128.5 132V133M128.5 143V145M128.5 146V147M128.5 149V150M128.5 152V153M129.5 138V139M129.5 141V142M129.5 143V144M129.5 151V153M130.5 138V139M130.5 146V147M130.5 151V153M131.5 135V136M131.5 144V145M131.5 146V147M131.5 149V151M132.5 141V142M132.5 147V148M133.5 144V145M133.5 146V147M133.5 151V154M134.5 145V146M134.5 149V150M134.5 151V152M135.5 147V149M135.5 153V154M136.5 153V154M137.5 152V153M138.5 154V155M139.5 147V148M139.5 150V151M139.5 153V155M140.5 149V151M140.5 152V153M142.5 154V155M143.5 151V152M144.5 153V154" stroke="#56a0ce"/>
<path d="M-24.5 26V27M-23.5 27V28M-18.5 20V21M-18.5 29V30M-17.5 33V34M-15.5 14V15M-15.5 18V19M-15.5 30V31M-14.5 17V18M-14.5 24V25M-13.5 16V17M-13.5 29V30M-12.5 11V12M-12.5 32V33M-11.5 19V20M-9.5 10V11M-9.5 12V15M-8.5 6V8M-8.5 10V11M-8.5 26V27M-8.5 30V31M-7.5 6V7M-7.5 9V10M-7.5 16V17M-7.5 34V35M-6.5 6V7M-6.5 8V9M-6.5 11V12M-6.5 17V18M-6.5 24V25M-5.5 4V6M-5.5 12V14M-4.5 10V12M-4.5 14V16M-4.5 29V30M-4.5 31V32M-3.5 3V4M-3.5 12V14M-3.5 18V19M-3.5 29V30M-2.5 4V6M-2.5 13V14M-2.5 19V20M-2.5 24V25M-1.5 6V7M-1.5 12V13M-1.5 15V17M-1.5 22V23M-1.5 24V25M-0.5 3V4M-0.5 12V14M-0.5 15V17M0.5 6V7M0.5 8V9M0.5 11V12M0.5 14V16M0.5 21V23M0.5 25V26M0.5 30V31M0.5 33V34M1.5 10V11M1.5 17V18M1.5 20V21M1.5 27V28M1.5 31V32M2.5 22V23M2.5 24V25M2.5 30V31M3.5 9V10M3.5 13V15M3.5 16V18M3.5 19V20M3.5 32V33M4.5 11V12M4.5 16V17M4.5 19V20M4.5 22V23M4.5 26V27M5.5 13V14M5.5 20V22M5.5 27V28M6.5 17V18M6.5 22V24M6.5 27V28M6.5 30V31M6.5 32V33M7.5 14V15M7.5 16V17M7.5 19V20M7.5 21V22M7.5 30V31M8.5 16V17M8.5 25V26M8.5 27V28M9.5 21V22M9.5 30V34M10.5 18V19M11.5 21V22M11.5 24V25M11.5 26V27M11.5 30V31M11.5 32V33M12.5 19V22M12.5 23V24M12.5 25V29M12.5 30V31M13.5 22V25M13.5 33V34M14.5 24V25M14.5 26V27M14.5 28V29M14.5 32V33M15.5 29V30M16.5 31V32M17.5 19V20M17.5 26V27M17.5 30V32M17.5 34V35M18.5 23V24M18.5 30V31M18.5 33V34M19.5 32V33M20.5 32V34M21.5 31V32M22.5 27V28M22.5 33V34M24.5 31V32M26.5 34V35M27.5 33V34M29.5 33V34M35.5 39V40M35.5 41V44M35.5 66V67M35.5 82V83M36.5 38V39M36.5 44V46M36.5 50V51M36.5 55V56M36.5 88V89M37.5 42V43M37.5 46V47M37.5 55V56M37.5 58V60M38.5 46V47M38.5 49V50M38.5 52V53M38.5 56V57M38.5 58V59M38.5 60V61M39.5 42V43M39.5 58V59M39.5 71V72M39.5 81V82M39.5 88V89M40.5 43V44M40.5 54V55M41.5 46V47M41.5 55V56M41.5 57V58M41.5 61V62M42.5 47V48M42.5 51V52M42.5 53V54M42.5 64V65M43.5 49V51M43.5 52V53M43.5 56V57M43.5 59V60M43.5 75V76M44.5 51V52M44.5 72V73M44.5 77V78M44.5 85V86M45.5 56V57M45.5 58V60M45.5 62V63M45.5 64V65M45.5 67V68M45.5 73V76M45.5 79V81M45.5 83V84M45.5 86V87M45.5 96V97M46.5 66V68M46.5 75V76M46.5 77V78M46.5 79V80M46.5 85V86M46.5 89V90M46.5 91V92M47.5 56V57M47.5 62V63M47.5 67V68M47.5 70V71M47.5 75V77M47.5 80V81M47.5 85V86M47.5 92V94M47.5 97V98M48.5 67V68M48.5 82V83M48.5 87V88M48.5 89V90M49.5 69V70M49.5 74V76M51.5 60V61M51.5 66V67M51.5 68V69M51.5 85V86M51.5 87V88M51.5 102V103M52.5 83V84M52.5 86V87M52.5 90V91M52.5 100V101M53.5 63V65M53.5 68V70M53.5 71V72M53.5 74V75M53.5 76V77M53.5 79V80M53.5 89V90M53.5 92V94M54.5 66V67M54.5 72V73M54.5 75V76M54.5 80V81M54.5 85V86M55.5 62V63M55.5 65V66M55.5 70V71M55.5 76V78M55.5 81V82M55.5 84V85M55.5 96V97M56.5 69V70M56.5 73V74M56.5 75V77M56.5 84V85M56.5 87V88M56.5 93V94M57.5 64V65M57.5 75V76M57.5 83V84M57.5 96V97M57.5 103V104M58.5 79V80M58.5 89V90M59.5 72V74M59.5 90V91M59.5 104V105M60.5 72V73M60.5 79V80M60.5 85V87M60.5 90V91M61.5 64V65M61.5 71V72M61.5 73V74M61.5 78V79M61.5 84V85M61.5 90V91M61.5 92V93M62.5 76V77M62.5 84V85M62.5 87V89M62.5 91V92M62.5 97V98M62.5 100V101M63.5 74V76M63.5 79V80M63.5 81V82M63.5 85V86M63.5 87V88M63.5 89V90M64.5 76V78M64.5 81V82M64.5 84V85M64.5 90V92M64.5 103V104M65.5 77V78M65.5 81V85M65.5 92V93M65.5 95V96M66.5 76V77M66.5 82V85M66.5 86V87M66.5 88V89M66.5 90V91M66.5 100V101M66.5 104V105M67.5 78V79M67.5 85V86M67.5 87V88M67.5 89V90M67.5 92V93M67.5 98V99M67.5 103V104M68.5 79V81M68.5 89V92M68.5 93V94M69.5 77V78M69.5 85V86M69.5 87V88M69.5 90V91M69.5 93V94M69.5 100V101M70.5 82V83M70.5 87V89M70.5 93V94M70.5 102V103M70.5 104V105M71.5 82V83M71.5 85V86M71.5 87V88M71.5 90V91M72.5 75V76M72.5 80V81M72.5 87V88M72.5 89V90M72.5 91V92M72.5 101V102M72.5 104V105M73.5 80V81M73.5 88V89M73.5 91V92M73.5 103V104M74.5 88V89M74.5 95V96M75.5 85V86M75.5 89V90M75.5 94V95M76.5 83V84M76.5 85V86M76.5 90V91M76.5 92V94M77.5 88V89M77.5 91V92M77.5 95V97M77.5 98V99M77.5 102V103M78.5 89V90M78.5 91V92M78.5 94V95M78.5 97V100M79.5 85V86M79.5 94V96M79.5 97V98M79.5 103V104M80.5 94V97M81.5 94V95M81.5 97V98M81.5 101V102M82.5 94V95M82.5 97V98M82.5 100V101M83.5 89V90M83.5 96V98M83.5 100V101M83.5 102V104M84.5 96V97M84.5 100V101M85.5 90V91M85.5 95V96M85.5 97V98M85.5 101V102M85.5 103V104M86.5 97V98M86.5 100V101M87.5 96V98M87.5 99V100M88.5 96V97M88.5 101V102M89.5 100V101M89.5 104V105M90.5 95V96M91.5 98V99M91.5 101V103M92.5 102V103M93.5 101V102M93.5 104V105M94.5 96V97M94.5 99V100M94.5 103V104M96.5 98V99M96.5 104V105M97.5 105V106M98.5 105V106M101.5 105V106M102.5 105V106M105.5 108V109M105.5 111V112M105.5 113V114M105.5 120V121M105.5 133V134M105.5 151V152M106.5 112V113M106.5 115V116M106.5 118V119M106.5 122V123M106.5 130V132M106.5 147V148M106.5 149V150M107.5 121V122M107.5 132V133M107.5 137V138M107.5 143V144M107.5 153V154M108.5 118V121M108.5 122V123M108.5 132V134M108.5 147V148M109.5 123V124M109.5 125V127M109.5 129V130M109.5 143V144M110.5 121V122M110.5 130V131M110.5 137V138M111.5 122V123M111.5 127V128M111.5 133V135M111.5 140V141M111.5 143V144M111.5 146V147M112.5 122V123M112.5 129V130M112.5 136V138M112.5 144V145M113.5 119V120M113.5 122V123M113.5 125V126M113.5 128V129M113.5 132V133M113.5 134V136M113.5 146V147M113.5 148V149M114.5 122V123M114.5 125V128M114.5 147V148M115.5 119V120M115.5 123V125M115.5 126V127M115.5 129V131M115.5 139V140M115.5 142V143M115.5 151V152M116.5 120V121M116.5 123V124M116.5 126V128M116.5 135V136M116.5 144V145M116.5 146V147M117.5 134V136M117.5 141V142M117.5 143V144M118.5 121V122M118.5 125V127M118.5 128V130M118.5 132V134M118.5 140V141M118.5 150V151M119.5 138V141M119.5 143V144M119.5 149V150M120.5 124V125M120.5 150V151M121.5 129V130M121.5 132V133M121.5 138V142M121.5 152V153M122.5 132V133M122.5 135V137M122.5 153V154M123.5 127V131M123.5 133V134M123.5 137V139M124.5 128V129M124.5 132V133M124.5 134V135M124.5 139V140M125.5 132V133M125.5 135V136M125.5 137V138M125.5 140V141M125.5 142V143M125.5 170V171M126.5 134V136M126.5 138V139M126.5 141V142M127.5 135V136M127.5 145V148M127.5 150V151M127.5 154V155M128.5 137V138M128.5 139V140M128.5 142V143M128.5 147V149M129.5 136V138M129.5 140V141M129.5 147V148M129.5 149V150M129.5 153V154M130.5 132V133M130.5 143V144M130.5 150V151M130.5 154V155M131.5 140V141M131.5 145V146M131.5 152V154M132.5 137V138M132.5 142V143M132.5 145V146M132.5 152V153M133.5 143V144M133.5 147V148M134.5 144V145M134.5 154V155M135.5 143V145M135.5 146V147M135.5 150V152M136.5 143V144M136.5 147V148M136.5 149V151M137.5 140V141M137.5 145V148M137.5 151V152M138.5 147V148M138.5 152V153M139.5 148V149M141.5 148V149M141.5 152V154M142.5 147V148M142.5 150V151M144.5 149V151M145.5 152V153M147.5 151V152M147.5 154V155" stroke="#4292c6"/>
<path d="M-17.5 28V29M-12.5 10V11M-11.5 33V34M-9.5 22V23M-9.5 31V32M-8.5 9V10M-8.5 15V16M-7.5 7V8M-6.5 5V6M-6.5 7V8M-6.5 10V11M-5.5 8V9M-5.5 10V11M-5.5 16V17M-4.5 6V7M-4.5 8V9M-3.5 7V8M-3.5 9V10M-3.5 32V33M-2.5 2V3M-2.5 9V10M-2.5 15V16M-1.5 0V1M-1.5 8V10M-1.5 13V14M-1.5 17V18M-1.5 19V20M-1.5 26V27M-1.5 28V29M-0.5 5V6M-0.5 7V8M-0.5 9V10M-0.5 21V22M-0.5 23V24M1.5 14V15M1.5 25V26M2.5 9V10M2.5 12V13M2.5 17V18M3.5 5V6M3.5 8V9M3.5 10V13M3.5 18V19M3.5 21V22M3.5 23V24M3.5 26V27M3.5 30V31M4.5 9V10M4.5 18V19M4.5 23V24M4.5 32V34M5.5 15V16M5.5 25V26M6.5 14V15M6.5 18V19M7.5 10V11M7.5 22V23M7.5 31V32M8.5 12V13M8.5 20V21M9.5 12V13M9.5 14V15M9.5 16V17M9.5 22V23M9.5 25V26M10.5 16V18M10.5 19V20M10.5 24V25M10.5 28V29M12.5 22V23M13.5 21V22M13.5 25V27M13.5 29V30M14.5 22V23M15.5 19V20M15.5 21V23M15.5 24V26M15.5 28V29M15.5 32V33M16.5 24V25M16.5 27V28M16.5 29V30M16.5 34V35M17.5 20V21M17.5 24V25M17.5 27V28M18.5 22V23M19.5 24V25M19.5 26V28M19.5 30V31M19.5 33V34M20.5 24V25M20.5 28V29M21.5 26V27M21.5 32V34M22.5 24V25M22.5 26V27M22.5 28V33M23.5 33V34M24.5 29V30M24.5 34V35M25.5 29V30M26.5 29V30M28.5 31V32M28.5 33V35M34.5 37V38M35.5 37V38M35.5 48V49M35.5 53V54M36.5 39V40M36.5 41V42M36.5 71V72M37.5 41V42M37.5 47V51M37.5 79V80M38.5 44V45M38.5 48V49M38.5 50V51M40.5 44V45M40.5 49V50M41.5 44V46M41.5 47V48M41.5 53V54M42.5 44V45M42.5 46V47M42.5 49V51M42.5 52V53M43.5 54V55M44.5 50V51M45.5 49V50M45.5 51V52M45.5 57V58M45.5 66V67M45.5 68V69M45.5 90V91M46.5 52V54M46.5 55V56M46.5 61V62M46.5 64V65M46.5 69V71M46.5 76V77M46.5 82V83M47.5 54V55M47.5 57V59M47.5 64V65M47.5 66V67M47.5 71V72M48.5 57V58M48.5 59V61M48.5 63V64M48.5 73V74M48.5 75V76M48.5 77V79M48.5 85V86M48.5 91V92M48.5 93V94M49.5 54V55M49.5 56V57M49.5 58V59M49.5 64V65M49.5 68V69M50.5 93V94M51.5 59V60M51.5 61V63M51.5 65V66M51.5 76V77M52.5 57V58M52.5 63V64M52.5 70V72M52.5 80V82M52.5 88V89M52.5 93V94M52.5 101V102M53.5 70V71M53.5 77V78M53.5 85V87M54.5 67V69M54.5 73V74M54.5 78V79M54.5 83V84M54.5 92V93M55.5 64V65M55.5 66V67M55.5 74V75M55.5 82V84M55.5 86V87M55.5 91V92M56.5 63V64M56.5 70V73M56.5 79V80M56.5 82V84M56.5 90V91M57.5 78V80M57.5 85V86M58.5 65V66M58.5 67V68M58.5 72V73M58.5 82V83M58.5 93V94M59.5 61V62M59.5 74V75M59.5 76V79M59.5 80V81M59.5 82V83M59.5 84V85M59.5 93V94M60.5 67V69M60.5 71V72M60.5 74V79M60.5 81V82M60.5 87V89M60.5 91V92M61.5 69V71M61.5 79V80M61.5 81V82M62.5 72V75M62.5 77V78M62.5 82V83M62.5 90V91M62.5 92V93M63.5 72V74M63.5 86V87M63.5 97V98M64.5 73V75M64.5 82V83M64.5 92V93M64.5 94V95M65.5 71V72M65.5 78V80M65.5 86V88M66.5 73V74M66.5 78V79M66.5 81V82M66.5 85V86M66.5 89V90M66.5 95V96M66.5 97V98M67.5 67V68M67.5 82V84M67.5 88V89M67.5 94V95M68.5 82V83M68.5 84V86M68.5 88V89M68.5 97V98M69.5 73V74M69.5 75V76M69.5 78V79M69.5 80V81M69.5 83V84M69.5 88V89M69.5 102V103M70.5 75V77M70.5 84V87M71.5 77V78M71.5 84V85M71.5 97V98M72.5 85V86M72.5 88V89M73.5 79V80M73.5 84V86M73.5 89V90M73.5 95V96M74.5 84V85M74.5 86V87M74.5 94V95M74.5 100V101M75.5 92V93M75.5 104V105M76.5 86V87M76.5 91V92M76.5 94V95M77.5 80V81M77.5 84V85M77.5 93V94M78.5 88V89M78.5 92V93M79.5 88V89M79.5 90V91M80.5 83V84M80.5 86V87M80.5 91V94M80.5 101V102M81.5 89V90M81.5 91V92M82.5 87V88M82.5 93V94M83.5 91V94M84.5 95V96M84.5 97V99M84.5 101V102M85.5 92V93M85.5 98V100M85.5 104V105M86.5 98V99M87.5 95V96M87.5 98V99M87.5 101V102M87.5 103V104M88.5 94V95M89.5 97V98M89.5 103V104M90.5 99V100M90.5 102V103M92.5 96V97M92.5 98V100M92.5 101V102M92.5 103V104M93.5 96V97M93.5 100V101M93.5 102V103M94.5 102V103M94.5 104V105M95.5 97V98M95.5 100V102M96.5 102V104M98.5 103V104M102.5 104V105M105.5 116V118M105.5 125V126M106.5 109V110M106.5 111V112M106.5 113V114M106.5 120V121M107.5 110V111M107.5 115V119M107.5 134V135M107.5 141V142M108.5 112V113M108.5 123V124M108.5 138V139M109.5 114V115M109.5 117V118M109.5 133V135M110.5 120V121M110.5 129V130M110.5 135V136M110.5 144V145M111.5 114V115M111.5 119V120M111.5 132V133M111.5 152V153M112.5 119V120M113.5 123V124M113.5 126V127M113.5 139V140M114.5 117V118M114.5 120V121M114.5 123V125M114.5 128V131M114.5 134V135M114.5 136V137M114.5 139V140M115.5 118V119M115.5 121V122M115.5 125V126M115.5 127V128M115.5 152V153M116.5 125V126M116.5 128V129M116.5 140V141M117.5 120V121M117.5 127V128M117.5 133V134M117.5 139V140M118.5 122V123M118.5 124V125M118.5 127V128M118.5 139V140M118.5 143V144M118.5 149V150M119.5 122V123M119.5 127V128M119.5 130V132M119.5 133V134M119.5 135V137M120.5 126V130M120.5 132V133M120.5 137V139M121.5 125V126M121.5 127V128M121.5 133V136M122.5 129V131M122.5 134V135M123.5 134V135M123.5 140V141M124.5 126V127M124.5 129V130M124.5 131V132M124.5 135V136M124.5 147V148M125.5 133V135M125.5 136V137M125.5 144V145M126.5 137V138M126.5 139V140M127.5 132V133M127.5 134V135M127.5 136V137M127.5 139V140M127.5 143V144M128.5 136V137M128.5 138V139M128.5 140V141M128.5 151V152M129.5 139V140M129.5 148V149M130.5 134V136M130.5 139V140M130.5 141V143M130.5 147V148M131.5 137V140M131.5 141V143M131.5 147V148M131.5 151V152M132.5 136V137M132.5 140V141M132.5 144V145M133.5 141V142M133.5 148V149M134.5 143V144M134.5 147V148M135.5 140V141M136.5 140V141M136.5 142V143M136.5 148V149M136.5 151V152M137.5 143V145M137.5 149V151M137.5 154V155M138.5 146V147M138.5 151V152M139.5 141V142M139.5 143V145M139.5 146V147M139.5 151V153M140.5 146V148M140.5 153V154M141.5 147V148M141.5 149V150M141.5 151V152M141.5 154V155M142.5 148V149M143.5 148V150M143.5 153V155M144.5 151V152M144.5 154V155M145.5 149V150M145.5 154V155M146.5 151V152M146.5 153V155M147.5 150V151M147.5 153V154M148.5 150V151M149.5 152V153" stroke="#3282be"/>
<path d="M-9.5 11V12M-4.5 5V6M-3.5 2V3M-3.5 4V5M-3.5 6V7M-2.5 3V4M-1.5 2V4M-1.5 5V6M-0.5 2V3M0.5 3V6M0.5 9V11M0.5 13V14M0.5 17V18M1.5 4V5M1.5 6V7M1.5 8V9M1.5 12V13M2.5 10V11M2.5 14V15M4.5 7V9M4.5 17V18M4.5 28V29M6.5 10V11M7.5 12V13M7.5 17V18M7.5 20V21M8.5 8V9M8.5 17V18M9.5 17V20M10.5 14V16M10.5 21V22M11.5 15V17M11.5 18V21M11.5 25V26M12.5 14V16M12.5 17V19M12.5 29V30M13.5 13V14M13.5 16V17M13.5 20V21M13.5 31V32M14.5 16V17M14.5 30V31M15.5 23V24M16.5 23V24M16.5 26V27M16.5 28V29M17.5 21V22M18.5 25V26M18.5 27V28M18.5 29V30M19.5 25V26M20.5 31V32M21.5 24V25M21.5 28V29M23.5 28V29M24.5 28V29M24.5 30V31M25.5 27V28M25.5 31V32M25.5 33V35M26.5 27V28M27.5 29V30M27.5 31V33M29.5 32V33M30.5 33V34M31.5 34V35M35.5 49V50M36.5 40V41M36.5 42V44M36.5 56V57M37.5 40V41M39.5 41V42M39.5 43V44M39.5 45V46M39.5 55V56M40.5 42V43M40.5 45V46M40.5 52V53M41.5 50V51M42.5 45V46M42.5 55V56M44.5 44V45M44.5 48V49M45.5 47V49M45.5 52V53M45.5 60V61M45.5 63V64M46.5 54V55M46.5 59V60M46.5 62V63M47.5 59V61M47.5 68V69M47.5 79V80M48.5 55V57M48.5 69V70M49.5 51V53M49.5 57V58M49.5 59V60M49.5 63V64M49.5 65V67M49.5 88V89M51.5 56V57M51.5 67V68M51.5 69V70M51.5 73V74M51.5 89V90M52.5 58V60M52.5 62V63M52.5 64V66M52.5 72V73M52.5 75V77M53.5 59V60M54.5 62V63M54.5 65V66M54.5 70V71M55.5 60V61M55.5 67V68M55.5 78V79M56.5 64V65M56.5 66V68M56.5 77V78M56.5 88V89M57.5 66V68M57.5 69V70M58.5 64V65M58.5 69V71M58.5 74V76M58.5 85V86M59.5 64V65M59.5 66V67M59.5 68V69M59.5 86V87M60.5 60V61M60.5 84V85M61.5 65V69M61.5 72V73M61.5 88V89M62.5 67V68M62.5 69V72M62.5 79V80M62.5 81V82M62.5 83V84M63.5 76V77M63.5 80V81M64.5 69V70M64.5 78V80M64.5 86V87M65.5 69V70M65.5 74V77M65.5 80V81M65.5 90V91M66.5 71V72M67.5 70V71M67.5 75V76M67.5 80V81M68.5 69V70M68.5 76V79M68.5 83V84M68.5 86V87M68.5 92V93M69.5 69V70M69.5 81V82M69.5 84V85M69.5 91V92M70.5 74V75M70.5 77V78M70.5 80V81M70.5 90V91M71.5 74V76M71.5 79V80M71.5 81V82M72.5 82V83M72.5 86V87M73.5 81V84M73.5 90V91M74.5 83V84M74.5 89V91M75.5 78V79M75.5 82V84M75.5 86V87M75.5 88V89M75.5 90V91M76.5 79V81M76.5 82V83M76.5 87V89M77.5 89V91M77.5 92V93M78.5 81V82M78.5 83V84M79.5 84V85M79.5 89V90M79.5 92V94M80.5 89V90M80.5 99V100M81.5 84V85M81.5 87V88M82.5 88V90M83.5 87V88M83.5 94V95M84.5 94V95M85.5 96V97M86.5 92V94M86.5 95V96M88.5 91V92M88.5 97V98M88.5 102V103M89.5 95V96M89.5 99V100M90.5 92V93M90.5 94V95M90.5 98V99M91.5 95V97M92.5 97V98M93.5 97V98M93.5 99V100M95.5 99V100M95.5 104V105M96.5 100V101M97.5 98V99M98.5 102V103M98.5 104V105M99.5 101V103M105.5 112V113M105.5 114V115M106.5 108V109M106.5 119V120M106.5 126V127M107.5 112V113M107.5 114V115M107.5 122V124M108.5 113V114M108.5 116V117M109.5 113V114M109.5 116V117M109.5 122V123M109.5 124V125M110.5 114V115M110.5 116V117M110.5 125V126M111.5 116V117M111.5 123V124M111.5 128V129M112.5 120V121M112.5 128V129M113.5 114V116M113.5 120V121M113.5 127V128M114.5 118V120M114.5 131V132M115.5 128V129M115.5 145V146M117.5 121V122M117.5 125V126M117.5 129V130M118.5 130V131M119.5 121V122M119.5 125V126M119.5 129V130M120.5 122V123M120.5 131V132M120.5 141V142M120.5 152V153M121.5 128V129M122.5 126V128M122.5 133V134M122.5 138V139M123.5 125V127M123.5 131V132M123.5 135V136M124.5 144V145M125.5 127V128M126.5 128V130M126.5 131V132M127.5 129V130M128.5 133V136M129.5 129V130M129.5 131V132M129.5 134V135M129.5 142V143M130.5 131V132M130.5 140V141M130.5 148V149M131.5 136V137M131.5 143V144M132.5 138V140M132.5 146V147M133.5 136V137M133.5 138V139M133.5 140V141M133.5 142V143M133.5 145V146M133.5 149V150M134.5 138V140M134.5 142V143M134.5 153V154M135.5 139V140M135.5 142V143M135.5 145V146M136.5 139V140M136.5 141V142M136.5 146V147M137.5 148V149M138.5 141V143M138.5 145V146M138.5 150V151M139.5 149V150M140.5 142V143M140.5 148V149M141.5 144V146M141.5 150V151M142.5 144V147M142.5 149V150M142.5 151V152M143.5 152V153M144.5 147V149M145.5 146V147M145.5 151V152M145.5 153V154M148.5 151V153" stroke="#2171b5"/>
<path d="M-22.5 21V22M-5.5 6V7M-4.5 12V13M-3.5 1V2M-3.5 5V6M-3.5 10V11M-2.5 6V8M-0.5 0V1M0.5 0V1M1.5 3V4M1.5 11V12M2.5 2V4M2.5 5V6M2.5 8V9M4.5 6V7M4.5 10V11M4.5 13V14M5.5 11V13M6.5 11V12M6.5 19V20M7.5 15V16M8.5 9V12M8.5 13V15M9.5 11V12M10.5 29V30M11.5 12V13M12.5 16V17M13.5 17V18M14.5 14V15M14.5 17V18M14.5 19V20M15.5 15V16M15.5 17V19M15.5 20V21M16.5 17V23M16.5 30V31M17.5 28V29M18.5 20V22M18.5 24V25M19.5 20V24M19.5 28V30M20.5 22V24M21.5 22V23M21.5 25V26M21.5 27V28M23.5 26V27M23.5 31V32M24.5 24V25M24.5 27V28M24.5 32V34M25.5 26V27M25.5 28V29M25.5 32V33M26.5 28V29M26.5 30V31M26.5 32V33M28.5 28V29M32.5 33V35M34.5 35V36M35.5 38V39M36.5 36V37M37.5 39V40M37.5 44V46M38.5 41V43M41.5 43V44M42.5 43V44M43.5 44V45M43.5 46V48M44.5 45V46M44.5 52V53M45.5 46V47M45.5 50V51M45.5 53V55M45.5 61V62M46.5 56V57M46.5 73V74M47.5 47V49M47.5 50V53M47.5 63V64M48.5 48V49M48.5 50V51M48.5 52V54M48.5 58V59M48.5 64V65M51.5 53V56M51.5 58V59M51.5 64V65M52.5 52V54M52.5 61V62M53.5 56V57M53.5 61V63M53.5 66V67M54.5 59V62M54.5 63V64M55.5 55V57M55.5 59V60M55.5 61V62M55.5 63V64M55.5 68V69M56.5 59V61M57.5 61V64M57.5 68V69M58.5 62V63M58.5 66V67M58.5 68V69M58.5 71V72M59.5 67V68M59.5 70V72M59.5 75V76M59.5 79V80M60.5 66V67M61.5 75V76M62.5 65V67M62.5 75V76M63.5 63V64M63.5 65V66M63.5 69V70M63.5 71V72M64.5 64V65M64.5 66V69M64.5 70V73M65.5 67V68M65.5 73V74M66.5 72V73M66.5 77V78M67.5 73V75M67.5 76V77M68.5 103V104M69.5 70V72M69.5 74V75M70.5 70V71M70.5 78V80M71.5 72V74M71.5 76V77M71.5 78V79M71.5 88V89M72.5 76V80M73.5 76V77M73.5 78V79M74.5 77V81M74.5 85V86M74.5 91V92M75.5 76V77M75.5 79V81M76.5 76V77M76.5 78V79M76.5 84V85M77.5 83V84M77.5 86V88M78.5 82V83M78.5 85V87M78.5 90V91M79.5 86V88M79.5 91V92M80.5 80V83M80.5 85V86M81.5 81V82M81.5 85V86M81.5 88V89M81.5 90V91M81.5 92V93M82.5 86V87M83.5 86V87M83.5 90V91M84.5 90V92M85.5 88V90M86.5 86V87M86.5 89V91M87.5 87V88M87.5 91V92M87.5 93V94M88.5 88V89M88.5 98V99M90.5 90V91M90.5 100V101M91.5 97V98M91.5 99V100M92.5 92V93M92.5 95V96M92.5 104V105M93.5 98V99M94.5 97V98M94.5 100V101M95.5 98V99M95.5 103V104M96.5 101V102M97.5 97V98M97.5 99V102M97.5 103V104M98.5 101V102M99.5 103V105M100.5 103V105M101.5 102V105M103.5 103V104M105.5 107V108M105.5 109V111M105.5 115V116M107.5 109V110M107.5 111V112M108.5 111V112M108.5 114V115M109.5 111V112M110.5 111V113M110.5 115V116M110.5 119V120M110.5 127V128M111.5 111V112M111.5 115V116M111.5 120V121M111.5 125V126M112.5 117V119M113.5 113V114M113.5 117V119M114.5 115V116M115.5 116V118M115.5 120V121M115.5 122V123M116.5 116V117M116.5 121V123M117.5 119V120M117.5 126V127M117.5 148V149M120.5 121V122M120.5 136V137M121.5 123V125M122.5 125V126M122.5 128V129M123.5 124V125M123.5 132V133M125.5 128V129M125.5 130V132M126.5 126V127M126.5 130V131M126.5 132V133M128.5 129V130M129.5 130V131M129.5 132V134M129.5 135V136M130.5 130V131M130.5 133V134M130.5 137V138M131.5 132V133M132.5 134V136M133.5 135V136M133.5 137V138M134.5 134V135M134.5 140V142M135.5 137V138M136.5 136V138M137.5 141V143M138.5 140V141M138.5 144V145M139.5 139V141M139.5 142V143M139.5 145V146M141.5 143V144M141.5 146V147M142.5 143V144M142.5 153V154M143.5 147V148M144.5 146V147M145.5 147V149M145.5 150V151M146.5 149V150M146.5 152V153M147.5 147V149M148.5 153V154M149.5 151V152M150.5 150V151" stroke="#1461a8"/>
<path d="M-5.5 3V4M-4.5 2V3M-1.5 1V2M-1.5 4V5M-0.5 10V11M0.5 2V3M1.5 5V6M1.5 7V8M1.5 9V10M1.5 13V14M3.5 4V5M5.5 6V8M5.5 9V10M5.5 34V35M6.5 7V8M7.5 8V9M9.5 9V11M9.5 15V16M10.5 12V14M11.5 11V12M11.5 13V15M12.5 12V14M15.5 16V17M17.5 18V19M17.5 25V26M18.5 18V19M18.5 32V33M20.5 25V27M21.5 21V22M22.5 25V26M23.5 24V25M23.5 29V30M23.5 32V33M24.5 25V26M25.5 25V26M26.5 26V27M26.5 31V32M27.5 27V29M28.5 29V31M28.5 32V33M29.5 29V32M30.5 31V32M30.5 34V35M31.5 31V32M31.5 33V34M33.5 34V35M34.5 34V35M35.5 36V37M36.5 37V38M37.5 38V39M38.5 39V40M38.5 43V44M39.5 39V40M40.5 40V42M41.5 42V43M43.5 43V44M43.5 45V46M43.5 48V49M44.5 46V47M44.5 49V50M45.5 45V46M45.5 78V79M46.5 46V47M46.5 50V51M47.5 53V54M48.5 49V50M48.5 51V52M48.5 54V55M49.5 49V51M51.5 52V53M52.5 54V55M53.5 53V55M53.5 57V58M53.5 60V61M54.5 55V56M55.5 58V59M55.5 69V70M56.5 56V58M56.5 62V63M57.5 58V59M57.5 76V77M58.5 58V59M58.5 60V61M58.5 73V74M59.5 60V61M59.5 62V64M60.5 61V62M60.5 64V65M60.5 70V71M60.5 73V74M61.5 61V62M61.5 63V64M62.5 62V64M63.5 66V67M63.5 68V69M64.5 65V66M64.5 75V76M65.5 65V67M65.5 70V71M65.5 72V73M66.5 67V68M66.5 75V76M66.5 80V81M67.5 68V70M67.5 71V73M68.5 71V74M69.5 76V77M69.5 79V80M69.5 82V83M70.5 72V73M70.5 81V82M70.5 89V90M71.5 80V81M72.5 72V73M72.5 74V75M72.5 83V85M73.5 74V75M73.5 77V78M73.5 86V87M74.5 74V75M74.5 76V77M75.5 81V82M76.5 81V82M77.5 78V79M77.5 81V82M77.5 85V86M78.5 78V79M78.5 84V85M79.5 80V84M80.5 87V89M80.5 90V91M81.5 82V83M81.5 86V87M82.5 82V83M82.5 85V86M82.5 90V92M83.5 84V85M83.5 88V89M84.5 84V87M84.5 88V90M84.5 92V94M85.5 86V87M86.5 91V92M87.5 88V89M87.5 92V93M88.5 90V91M88.5 92V94M89.5 89V90M89.5 93V94M89.5 96V97M90.5 93V94M90.5 97V98M92.5 93V95M93.5 94V96M94.5 95V96M95.5 95V97M96.5 97V98M98.5 98V101M99.5 99V101M105.5 105V107M106.5 110V111M107.5 107V109M107.5 113V114M109.5 109V111M109.5 118V119M111.5 112V113M112.5 112V115M112.5 116V117M113.5 116V117M113.5 121V122M114.5 121V122M116.5 117V118M116.5 119V120M118.5 118V119M118.5 123V124M119.5 123V124M121.5 122V123M121.5 130V131M122.5 122V123M123.5 123V124M124.5 125V126M125.5 125V127M125.5 129V130M127.5 127V128M127.5 130V131M128.5 128V129M128.5 131V132M130.5 136V137M131.5 131V132M132.5 133V134M133.5 134V135M133.5 139V140M134.5 135V138M135.5 141V142M138.5 139V140M138.5 143V144M140.5 141V142M143.5 144V147M143.5 150V151M144.5 144V146M144.5 152V153M145.5 145V146M146.5 146V147M147.5 149V150M148.5 148V149M149.5 150V151" stroke="#08519c"/>
<path d="M-1.5 -1V0M-0.5 -1V0M0.5 1V2M1.5 2V3M2.5 4V5M3.5 3V4M3.5 6V8M4.5 4V6M5.5 5V6M5.5 8V9M6.5 6V7M6.5 8V10M7.5 7V8M10.5 10V11M13.5 14V15M14.5 15V16M14.5 18V19M16.5 16V17M17.5 17V18M18.5 19V20M20.5 20V21M20.5 29V30M21.5 23V24M22.5 23V24M23.5 23V24M23.5 25V26M24.5 26V27M30.5 30V31M32.5 32V33M33.5 33V34M35.5 35V36M37.5 37V38M38.5 38V39M38.5 40V41M41.5 41V42M45.5 55V56M46.5 47V49M46.5 51V52M49.5 53V54M49.5 55V56M51.5 51V52M52.5 55V56M53.5 55V56M53.5 58V59M54.5 54V55M54.5 56V57M55.5 57V58M56.5 58V59M56.5 61V62M57.5 57V58M57.5 60V61M58.5 59V60M59.5 65V66M60.5 62V64M60.5 65V66M60.5 69V70M63.5 64V65M63.5 70V71M66.5 66V67M66.5 69V71M68.5 68V69M68.5 74V76M69.5 72V73M70.5 71V72M70.5 73V74M71.5 71V72M74.5 81V83M75.5 77V78M75.5 84V85M76.5 77V78M77.5 77V78M77.5 79V80M77.5 82V83M78.5 79V80M79.5 79V80M82.5 83V85M85.5 85V86M85.5 87V88M86.5 87V89M88.5 89V90M89.5 90V93M91.5 91V94M94.5 94V95M94.5 98V99M95.5 102V103M96.5 96V97M96.5 99V100M100.5 100V103M102.5 103V104M104.5 104V106M106.5 106V108M108.5 108V111M110.5 110V111M111.5 113V114M114.5 114V115M115.5 115V116M117.5 117V119M117.5 122V123M118.5 120V121M119.5 119V121M120.5 123V124M122.5 123V125M124.5 124V125M124.5 127V128M124.5 137V138M126.5 127V128M127.5 128V129M128.5 130V131M132.5 132V133M133.5 133V134M135.5 135V137M136.5 138V139M137.5 137V139M138.5 138V139M140.5 140V141M140.5 144V145M141.5 142V143M142.5 142V143M143.5 143V144M146.5 147V148M146.5 150V151M148.5 149V150M149.5 149V150M150.5 151V152" stroke="#084084"/>
<path d="M1.5 1V2M7.5 11V12M10.5 11V12M19.5 19V20M20.5 21V22M31.5 32V33M39.5 40V41M42.5 42V43M44.5 47V48M57.5 59V60M58.5 61V62M58.5 63V64M59.5 59V60M61.5 62V63M62.5 64V65M66.5 68V69M68.5 70V71M72.5 73V74M73.5 73V74M73.5 75V76M74.5 75V76M78.5 80V81M80.5 84V85M83.5 83V84M84.5 87V88M87.5 90V91M93.5 93V94M101.5 101V102M102.5 102V103M103.5 104V105M118.5 119V120M120.5 120V121M120.5 125V126M121.5 121V122M131.5 133V134M141.5 141V142" stroke="#08306b"/>
</g>
<path d="M196 1799L442 2042L688 1799M880 1799L1128 2042L1372 1799L1569 1994" fill="none" stroke="#000" stroke-width="4.6" stroke-linejoin="miter"/>
</g>
<line x1="101.8" y1="2043" x2="1568.5" y2="2043" stroke="#000" stroke-width="6.5"/>
<rect x="81.5" y="1797.5" width="10.5" height="245" fill="url(#cbg)" stroke="#000" stroke-width="2.8"/>
<line x1="75" y1="1830.3" x2="81.5" y2="1830.3" stroke="#000" stroke-width="1.8"/>
<text transform="translate(69 1835.6) scale(1.066 1)" font-size="14.5" font-family="'DejaVu Sans', sans-serif" text-anchor="end">20.0</text>
<line x1="75" y1="1879.5" x2="81.5" y2="1879.5" stroke="#000" stroke-width="1.8"/>
<text transform="translate(69 1884.8) scale(1.066 1)" font-size="14.5" font-family="'DejaVu Sans', sans-serif" text-anchor="end">10.0</text>
<line x1="75" y1="1928.4" x2="81.5" y2="1928.4" stroke="#000" stroke-width="1.8"/>
<text transform="translate(69 1933.7) scale(1.066 1)" font-size="14.5" font-family="'DejaVu Sans', sans-serif" text-anchor="end">5.0</text>
<line x1="75" y1="1993" x2="81.5" y2="1993" stroke="#000" stroke-width="1.8"/>
<text transform="translate(69 1998.3) scale(1.066 1)" font-size="14.5" font-family="'DejaVu Sans', sans-serif" text-anchor="end">2.0</text>
<line x1="75" y1="2033" x2="81.5" y2="2033" stroke="#000" stroke-width="1.8"/>
<text transform="translate(69 2038.3) scale(1.066 1)" font-size="14.5" font-family="'DejaVu Sans', sans-serif" text-anchor="end">1.0</text>
<path d="M78 1802H81.5M78 1810H81.5M78 1820H81.5M78 1886H81.5M78 1893H81.5M78 1903H81.5M78 1915H81.5M78 1940H81.5M78 1955H81.5M78 1972H81.5M78 2040H81.5" stroke="#000" stroke-width="1.5"/>
<text transform="translate(17.6 1933.5) rotate(-90)" font-size="17.7" text-anchor="middle">Contact</text>
<line x1="101.8" y1="2093.5" x2="1568.5" y2="2093.5" stroke="#f08878" stroke-width="1.3"/>
<path d="M101.8 2094V2094H106.7V2094H111.6V2094H116.5V2094H121.4V2094H126.2V2094H131.1V2094H136V2094H140.9V2094H145.8V2094H150.7V2094H155.6V2094H160.5V2094H165.4V2094H170.2V2094H175.1V2094H180V2094H184.9V2094H189.8V2094H194.7V2094H199.6V2094H204.5V2094H209.4V2094H214.2V2094H219.1V2094H224V2094H228.9V2094H233.8V2094H238.7V2094H243.6V2094H248.5V2094H253.4V2094H258.2V2094H263.1V2094H268V2094H272.9V2094H277.8V2094H282.7V2094H287.6V2094H292.5V2094H297.4V2094H302.2V2094H307.1V2094H312V2094H316.9V2094H321.8V2094H326.7V2094H331.6V2094H336.5V2094H341.4V2094H346.2V2094H351.1V2094H356V2094H360.9V2094H365.8V2094H370.7V2094H375.6V2094H380.5V2094H385.4V2094H390.3V2094H395.1V2094H400V2094H404.9V2094H409.8V2094H414.7V2094H419.6V2094H424.5V2094H429.4V2094H434.3V2094H439.1V2094H444V2061H448.9V2079.9H453.8V2072H458.7V2051.3H463.6V2051.3H468.5V2078.2H473.4V2094H478.3V2094H483.1V2094H488V2094H492.9V2094H497.8V2094H502.7V2094H507.6V2094H512.5V2094H517.4V2094H522.3V2094H527.1V2094H532V2094H536.9V2094H541.8V2094H546.7V2094H551.6V2094H556.5V2094H561.4V2094H566.3V2094H571.1V2094H576V2094H580.9V2094H585.8V2094H590.7V2094H595.6V2094H600.5V2094H605.4V2094H610.3V2094H615.1V2094H620V2094H624.9V2094H629.8V2094H634.7V2094H639.6V2094H644.5V2094H649.4V2094H654.3V2094H659.1V2094H664V2094H668.9V2094H673.8V2094H678.7V2094H683.6V2094H688.5V2094H693.4V2094H698.3V2094H703.1V2094H708V2094H712.9V2094H717.8V2094H722.7V2094H727.6V2094H732.5V2094H737.4V2094H742.3V2094H747.1V2094H752V2094H756.9V2094H761.8V2094H766.7V2094H771.6V2094H776.5V2094H781.4V2094H786.3V2094H791.1V2094H796V2094H800.9V2094H805.8V2094H810.7V2094H815.6V2094H820.5V2094H825.4V2094H830.3V2094H835.1V2094H840V2094H844.9V2094H849.8V2094H854.7V2094H859.6V2094H864.5V2094H869.4V2094H874.3V2094H879.2V2094H884V2094H888.9V2094H893.8V2094H898.7V2094H903.6V2094H908.5V2094H913.4V2094H918.3V2094H923.2V2094H928V2094H932.9V2094H937.8V2094H942.7V2094H947.6V2094H952.5V2094H957.4V2094H962.3V2094H967.2V2094H972V2094H976.9V2094H981.8V2094H986.7V2094H991.6V2094H996.5V2094H1001.4V2094H1006.3V2094H1011.2V2094H1016V2094H1020.9V2094H1025.8V2094H1030.7V2094H1035.6V2094H1040.5V2094H1045.4V2094H1050.3V2094H1055.2V2094H1060V2094H1064.9V2094H1069.8V2094H1074.7V2094H1079.6V2094H1084.5V2094H1089.4V2091.8H1094.3V2094H1099.2V2094H1104V2094H1108.9V2094H1113.8V2094H1118.7V2094H1123.6V2094H1128.5V2094H1133.4V2094H1138.3V2094H1143.2V2094H1148V2094H1152.9V2094H1157.8V2094H1162.7V2094H1167.6V2094H1172.5V2094H1177.4V2094H1182.3V2094H1187.2V2094H1192V2094H1196.9V2094H1201.8V2094H1206.7V2094H1211.6V2094H1216.5V2094H1221.4V2094H1226.3V2094H1231.2V2094H1236V2094H1240.9V2094H1245.8V2094H1250.7V2094H1255.6V2094H1260.5V2094H1265.4V2094H1270.3V2094H1275.2V2094H1280V2094H1284.9V2094H1289.8V2094H1294.7V2094H1299.6V2094H1304.5V2094H1309.4V2094H1314.3V2094H1319.2V2094H1324V2094H1328.9V2094H1333.8V2094H1338.7V2094H1343.6V2094H1348.5V2094H1353.4V2094H1358.3V2094H1363.2V2094H1368.1V2094H1372.9V2094H1377.8V2094H1382.7V2094H1387.6V2094H1392.5V2094H1397.4V2094H1402.3V2094H1407.2V2094H1412.1V2094H1416.9V2094H1421.8V2094H1426.7V2094H1431.6V2094H1436.5V2094H1441.4V2094H1446.3V2094H1451.2V2094H1456.1V2094H1460.9V2094H1465.8V2094H1470.7V2094H1475.6V2094H1480.5V2094H1485.4V2094H1490.3V2094H1495.2V2094H1500.1V2094H1504.9V2083H1509.8V2094H1514.7V2094H1519.6V2094H1524.5V2094H1529.4V2094H1534.3V2094H1539.2V2094H1544.1V2094H1548.9V2094H1553.8V2094H1558.7V2094H1563.6V2094H1568.5V2094Z" fill="#e24a33"/>
<line x1="101.8" y1="2137.5" x2="1568.5" y2="2137.5" stroke="#ffa500" stroke-width="1.3"/>
<path d="M101.8 2138V2107.4H106.7V2109.7H111.6V2107.5H116.5V2104.9H121.4V2115.1H126.2V2100.7H131.1V2109.7H136V2110.3H140.9V2112.2H145.8V2103.8H150.7V2104.9H155.6V2116.6H160.5V2113.5H165.4V2115.7H170.2V2106.4H175.1V2103.8H180V2131.7H184.9V2108H189.8V2106.2H194.7V2109.7H199.6V2104.7H204.5V2109.2H209.4V2104.9H214.2V2107.2H219.1V2105.8H224V2114.1H228.9V2111.4H233.8V2102.1H238.7V2107H243.6V2108.1H248.5V2103.7H253.4V2104.6H258.2V2108H263.1V2110.5H268V2099.5H272.9V2104.9H277.8V2114.4H282.7V2104.2H287.6V2104.5H292.5V2104.3H297.4V2109.5H302.2V2101.6H307.1V2110.9H312V2102.7H316.9V2106.5H321.8V2100.6H326.7V2109.4H331.6V2104.8H336.5V2104.2H341.4V2123.7H346.2V2107.7H351.1V2109.5H356V2117.2H360.9V2104.9H365.8V2109H370.7V2106.3H375.6V2110.2H380.5V2109.9H385.4V2115.8H390.3V2112.7H395.1V2110.6H400V2107.3H404.9V2117.2H409.8V2106.6H414.7V2107.4H419.6V2106.3H424.5V2113.6H429.4V2107.6H434.3V2111.4H439.1V2110.2H444V2099.2H448.9V2100H453.8V2103.7H458.7V2105.5H463.6V2105.6H468.5V2111.8H473.4V2113H478.3V2106.4H483.1V2109.6H488V2111H492.9V2108.1H497.8V2108.1H502.7V2122.6H507.6V2110.9H512.5V2107.7H517.4V2113H522.3V2102.6H527.1V2101.4H532V2112.4H536.9V2106H541.8V2119.3H546.7V2107.3H551.6V2107.5H556.5V2102.7H561.4V2105.4H566.3V2111.4H571.1V2107.4H576V2125.1H580.9V2111.1H585.8V2126.3H590.7V2107.9H595.6V2102.1H600.5V2108.5H605.4V2105.9H610.3V2117.2H615.1V2114.8H620V2106.4H624.9V2107.2H629.8V2103.9H634.7V2112.6H639.6V2109H644.5V2118.2H649.4V2111.3H654.3V2109.6H659.1V2108.2H664V2110.1H668.9V2103.8H673.8V2113.8H678.7V2128.2H683.6V2126H688.5V2109.4H693.4V2102.1H698.3V2104.9H703.1V2106.4H708V2115H712.9V2110.4H717.8V2106.6H722.7V2110.5H727.6V2106.6H732.5V2123.6H737.4V2111.3H742.3V2112.4H747.1V2103.7H752V2107.6H756.9V2107.5H761.8V2103.7H766.7V2100.5H771.6V2119.6H776.5V2101.7H781.4V2103.6H786.3V2109H791.1V2102.8H796V2108.1H800.9V2101.1H805.8V2111.8H810.7V2106H815.6V2110.4H820.5V2107.4H825.4V2111.4H830.3V2110.7H835.1V2124.1H840V2123.5H844.9V2110.6H849.8V2100.8H854.7V2110.1H859.6V2107.9H864.5V2107.8H869.4V2117H874.3V2096.8H879.2V2110.2H884V2104.7H888.9V2116.8H893.8V2128.7H898.7V2131.3H903.6V2119.6H908.5V2102.4H913.4V2104.5H918.3V2105.2H923.2V2105.7H928V2115.1H932.9V2112.5H937.8V2105.5H942.7V2102H947.6V2105.9H952.5V2105.4H957.4V2105.5H962.3V2104.8H967.2V2105.7H972V2131.7H976.9V2103.7H981.8V2120.5H986.7V2113.9H991.6V2107.2H996.5V2113.4H1001.4V2112.3H1006.3V2107.3H1011.2V2111.2H1016V2111.5H1020.9V2105.8H1025.8V2113.4H1030.7V2104.7H1035.6V2104H1040.5V2114H1045.4V2121.7H1050.3V2107.8H1055.2V2110.8H1060V2109H1064.9V2109.4H1069.8V2112.2H1074.7V2115.9H1079.6V2106.2H1084.5V2106.7H1089.4V2102.2H1094.3V2103H1099.2V2107H1104V2119.8H1108.9V2101.3H1113.8V2110.7H1118.7V2108.9H1123.6V2106.6H1128.5V2113.5H1133.4V2112.3H1138.3V2105H1143.2V2109.6H1148V2105.9H1152.9V2108.2H1157.8V2102.6H1162.7V2116.1H1167.6V2107.2H1172.5V2108.9H1177.4V2112.1H1182.3V2114.3H1187.2V2096.6H1192V2106.4H1196.9V2103.4H1201.8V2111.5H1206.7V2105.8H1211.6V2106.2H1216.5V2111.4H1221.4V2099.3H1226.3V2101.5H1231.2V2108.4H1236V2103.1H1240.9V2102.8H1245.8V2105.3H1250.7V2105.5H1255.6V2107.1H1260.5V2120.3H1265.4V2113.8H1270.3V2109.5H1275.2V2105.8H1280V2108.8H1284.9V2103.1H1289.8V2107.3H1294.7V2111.3H1299.6V2113H1304.5V2111.6H1309.4V2107.9H1314.3V2108.7H1319.2V2119.2H1324V2105.5H1328.9V2101.1H1333.8V2110.7H1338.7V2105.8H1343.6V2111H1348.5V2102.3H1353.4V2111.1H1358.3V2108.5H1363.2V2101.7H1368.1V2121.9H1372.9V2109.1H1377.8V2102.6H1382.7V2105.1H1387.6V2103.3H1392.5V2101.3H1397.4V2100.9H1402.3V2111.5H1407.2V2111.3H1412.1V2105.5H1416.9V2109H1421.8V2121H1426.7V2103.7H1431.6V2122.9H1436.5V2109H1441.4V2110.6H1446.3V2109.2H1451.2V2105.1H1456.1V2115.4H1460.9V2109.1H1465.8V2114.2H1470.7V2109.2H1475.6V2106.7H1480.5V2103.7H1485.4V2108.8H1490.3V2097.3H1495.2V2103.8H1500.1V2102.6H1504.9V2104.7H1509.8V2108.8H1514.7V2109.8H1519.6V2111.6H1524.5V2107.6H1529.4V2131.7H1534.3V2109.8H1539.2V2107.9H1544.1V2113.6H1548.9V2112.3H1553.8V2106.1H1558.7V2105.2H1563.6V2106.5H1568.5V2138Z" fill="#ffa500"/>
<line x1="101.8" y1="2181.9" x2="1568.5" y2="2181.9" stroke="#f78ac0" stroke-width="1.3"/>
<path d="M101.8 2182.4V2172.1H106.7V2168.9H111.6V2157.5H116.5V2174.7H121.4V2148.9H126.2V2156.9H131.1V2164.6H136V2158.4H140.9V2156.4H145.8V2155.7H150.7V2162.1H155.6V2160.5H160.5V2166.1H165.4V2156.8H170.2V2176.8H175.1V2166.4H180V2158.6H184.9V2156H189.8V2160.8H194.7V2154.5H199.6V2164.2H204.5V2162.1H209.4V2152.9H214.2V2164H219.1V2152.1H224V2148.3H228.9V2155H233.8V2157.4H238.7V2161.8H243.6V2165.6H248.5V2155H253.4V2165H258.2V2163.7H263.1V2153.7H268V2159.4H272.9V2145.4H277.8V2158H282.7V2162.5H287.6V2148.8H292.5V2154.4H297.4V2159.2H302.2V2158.2H307.1V2160.8H312V2160.1H316.9V2160.4H321.8V2150.8H326.7V2175.7H331.6V2158.2H336.5V2166.4H341.4V2145.6H346.2V2156.9H351.1V2170.8H356V2171.6H360.9V2164.8H365.8V2146.5H370.7V2158.1H375.6V2177.5H380.5V2163.3H385.4V2153.3H390.3V2162H395.1V2158.1H400V2165.4H404.9V2168.5H409.8V2165.7H414.7V2149.3H419.6V2165.9H424.5V2150.7H429.4V2173.1H434.3V2170.7H439.1V2151.2H444V2161.3H448.9V2161.8H453.8V2146.6H458.7V2155.3H463.6V2159.3H468.5V2164.6H473.4V2182.4H478.3V2162.7H483.1V2157.9H488V2163.1H492.9V2155.7H497.8V2182.4H502.7V2157.2H507.6V2164.8H512.5V2166.5H517.4V2158.4H522.3V2155H527.1V2165.4H532V2160.8H536.9V2180.5H541.8V2170H546.7V2161H551.6V2159.4H556.5V2158.4H561.4V2163.4H566.3V2165.6H571.1V2161.2H576V2148.6H580.9V2160.6H585.8V2157.3H590.7V2157.2H595.6V2162.6H600.5V2156.1H605.4V2149.8H610.3V2148.4H615.1V2163.6H620V2178.8H624.9V2160.2H629.8V2158.5H634.7V2167.4H639.6V2170H644.5V2157.8H649.4V2160H654.3V2173.8H659.1V2152.4H664V2169.1H668.9V2158H673.8V2164.1H678.7V2162.3H683.6V2161.1H688.5V2152.6H693.4V2162.6H698.3V2167.9H703.1V2150.3H708V2173.9H712.9V2150.1H717.8V2155.1H722.7V2166.3H727.6V2163.7H732.5V2182.4H737.4V2159.9H742.3V2153.6H747.1V2161.4H752V2171.7H756.9V2170.5H761.8V2156.4H766.7V2159.2H771.6V2165.4H776.5V2172.1H781.4V2154.5H786.3V2180.1H791.1V2164.2H796V2171.7H800.9V2154.4H805.8V2168H810.7V2173.9H815.6V2146.5H820.5V2164.6H825.4V2160.8H830.3V2168.2H835.1V2161.1H840V2145H844.9V2148.7H849.8V2171.6H854.7V2157H859.6V2164H864.5V2156.7H869.4V2182.4H874.3V2162.7H879.2V2157.6H884V2158.6H888.9V2167.9H893.8V2159.4H898.7V2164.1H903.6V2171.3H908.5V2160.6H913.4V2166.8H918.3V2160.9H923.2V2151.5H928V2156.3H932.9V2164.5H937.8V2160.1H942.7V2160.3H947.6V2160.7H952.5V2167.8H957.4V2161.1H962.3V2157.3H967.2V2166.1H972V2182.4H976.9V2152.9H981.8V2156.6H986.7V2151.7H991.6V2146.4H996.5V2147.9H1001.4V2159.1H1006.3V2154.8H1011.2V2160.9H1016V2157.9H1020.9V2157H1025.8V2171.6H1030.7V2161.6H1035.6V2155.4H1040.5V2164.6H1045.4V2169.5H1050.3V2160.6H1055.2V2153.1H1060V2164.5H1064.9V2166.7H1069.8V2149.2H1074.7V2162.9H1079.6V2160.7H1084.5V2172.5H1089.4V2157.9H1094.3V2149.4H1099.2V2160.5H1104V2162.1H1108.9V2153.6H1113.8V2151.3H1118.7V2161.2H1123.6V2182.4H1128.5V2165.4H1133.4V2169.1H1138.3V2162.3H1143.2V2175.8H1148V2182.4H1152.9V2150.3H1157.8V2161.2H1162.7V2152.1H1167.6V2163.8H1172.5V2171.2H1177.4V2151.1H1182.3V2167.7H1187.2V2171H1192V2166.9H1196.9V2156.7H1201.8V2165.9H1206.7V2160.3H1211.6V2152.9H1216.5V2157.5H1221.4V2163.4H1226.3V2160.1H1231.2V2151.6H1236V2151H1240.9V2157.6H1245.8V2157.2H1250.7V2162.7H1255.6V2153.9H1260.5V2154.4H1265.4V2157.5H1270.3V2176.7H1275.2V2156.5H1280V2167.1H1284.9V2158.3H1289.8V2166.4H1294.7V2169.9H1299.6V2156.2H1304.5V2165.3H1309.4V2169.6H1314.3V2159.6H1319.2V2151.2H1324V2157.1H1328.9V2156.6H1333.8V2166.3H1338.7V2157.2H1343.6V2167.9H1348.5V2169.4H1353.4V2149.7H1358.3V2156.3H1363.2V2152.2H1368.1V2143.6H1372.9V2166.2H1377.8V2163.5H1382.7V2168.5H1387.6V2146.9H1392.5V2173.7H1397.4V2156.4H1402.3V2175H1407.2V2161.2H1412.1V2172.4H1416.9V2164.4H1421.8V2158.6H1426.7V2172.1H1431.6V2151H1436.5V2152.2H1441.4V2163.7H1446.3V2160.8H1451.2V2154.3H1456.1V2161.7H1460.9V2151.2H1465.8V2157.6H1470.7V2151.9H1475.6V2153.1H1480.5V2161.2H1485.4V2171.2H1490.3V2154.6H1495.2V2146.2H1500.1V2153H1504.9V2156.4H1509.8V2153.2H1514.7V2149.7H1519.6V2171.3H1524.5V2156.1H1529.4V2155.5H1534.3V2153.9H1539.2V2157H1544.1V2169H1548.9V2174.5H1553.8V2156H1558.7V2159.3H1563.6V2163H1568.5V2182.4Z" fill="#f78ac0"/>
<line x1="101.8" y1="2227.5" x2="1568.5" y2="2227.5" stroke="#fcc93a" stroke-width="1.3"/>
<path d="M101.8 2228V2228H106.7V2227.7H111.6V2215.4H116.5V2221.7H121.4V2225.3H126.2V2228H131.1V2226.2H136V2227.6H140.9V2228H145.8V2219.6H150.7V2217.5H155.6V2228H160.5V2224.5H165.4V2226H170.2V2224.5H175.1V2227.3H180V2217.6H184.9V2226.8H189.8V2228H194.7V2228H199.6V2216.1H204.5V2225H209.4V2226.1H214.2V2226.2H219.1V2228H224V2219.7H228.9V2228H233.8V2218.6H238.7V2225.1H243.6V2227.7H248.5V2222.9H253.4V2228H258.2V2228H263.1V2228H268V2225.7H272.9V2220.1H277.8V2227.5H282.7V2225.7H287.6V2228H292.5V2228H297.4V2228H302.2V2223.1H307.1V2228H312V2227.8H316.9V2224.4H321.8V2223.6H326.7V2225.5H331.6V2226.4H336.5V2228H341.4V2215.4H346.2V2225.4H351.1V2223H356V2221.4H360.9V2221.4H365.8V2225.8H370.7V2227.6H375.6V2217.5H380.5V2228H385.4V2224.1H390.3V2228H395.1V2228H400V2224H404.9V2224H409.8V2223.5H414.7V2226.2H419.6V2224.2H424.5V2224.8H429.4V2225.4H434.3V2227.2H439.1V2215.4H444V2227.6H448.9V2228H453.8V2220.8H458.7V2226.4H463.6V2223.4H468.5V2222.9H473.4V2227.7H478.3V2228H483.1V2226H488V2228H492.9V2222.6H497.8V2224.3H502.7V2228H507.6V2226H512.5V2222.2H517.4V2225.8H522.3V2226H527.1V2228H532V2221.6H536.9V2217.4H541.8V2226.1H546.7V2220.3H551.6V2207H556.5V2225.6H561.4V2223.2H566.3V2225.7H571.1V2223.7H576V2228H580.9V2215.4H585.8V2224.2H590.7V2227.9H595.6V2228H600.5V2228H605.4V2228H610.3V2228H615.1V2223.8H620V2228H624.9V2226.8H629.8V2222H634.7V2227.7H639.6V2228H644.5V2227.8H649.4V2219.6H654.3V2227.7H659.1V2218.6H664V2223.8H668.9V2221.9H673.8V2225.9H678.7V2220H683.6V2228H688.5V2227.5H693.4V2196.5H698.3V2220.8H703.1V2228H708V2228H712.9V2228H717.8V2227.4H722.7V2215.4H727.6V2227.3H732.5V2215.4H737.4V2220.4H742.3V2227.3H747.1V2228H752V2228H756.9V2223.2H761.8V2228H766.7V2222.9H771.6V2217.5H776.5V2226.4H781.4V2226.9H786.3V2227.4H791.1V2223.6H796V2227.6H800.9V2227.4H805.8V2222.2H810.7V2227.5H815.6V2228H820.5V2225.8H825.4V2223.8H830.3V2228H835.1V2224.1H840V2225.5H844.9V2224.7H849.8V2226.2H854.7V2227.8H859.6V2227.6H864.5V2228H869.4V2219.4H874.3V2227.3H879.2V2225.2H884V2228H888.9V2224.3H893.8V2228H898.7V2227.9H903.6V2221.6H908.5V2225.4H913.4V2221.2H918.3V2221H923.2V2219.6H928V2220.5H932.9V2228H937.8V2207H942.7V2225.8H947.6V2228H952.5V2224.7H957.4V2198.6H962.3V2220.1H967.2V2228H972V2226.2H976.9V2228H981.8V2228H986.7V2228H991.6V2227.6H996.5V2227.7H1001.4V2227.7H1006.3V2227H1011.2V2219H1016V2225.3H1020.9V2224.4H1025.8V2228H1030.7V2224.8H1035.6V2228H1040.5V2228H1045.4V2226.7H1050.3V2228H1055.2V2226.2H1060V2228H1064.9V2226.4H1069.8V2228H1074.7V2221.6H1079.6V2226.8H1084.5V2221.2H1089.4V2222.1H1094.3V2226.3H1099.2V2226.9H1104V2225H1108.9V2227.9H1113.8V2226.5H1118.7V2228H1123.6V2227.6H1128.5V2204.9H1133.4V2226.3H1138.3V2225H1143.2V2220.9H1148V2225.6H1152.9V2215.4H1157.8V2220.9H1162.7V2227.9H1167.6V2226.7H1172.5V2227H1177.4V2225.1H1182.3V2222.2H1187.2V2225.1H1192V2224.7H1196.9V2228H1201.8V2224H1206.7V2223.7H1211.6V2225.3H1216.5V2223.9H1221.4V2226.7H1226.3V2225H1231.2V2226.5H1236V2226.2H1240.9V2228H1245.8V2223H1250.7V2227.5H1255.6V2228H1260.5V2227.5H1265.4V2224.3H1270.3V2228H1275.2V2226.5H1280V2228H1284.9V2225.4H1289.8V2224.8H1294.7V2227.1H1299.6V2226.6H1304.5V2228H1309.4V2221.1H1314.3V2221.3H1319.2V2227.7H1324V2219.3H1328.9V2221.3H1333.8V2226.3H1338.7V2227.9H1343.6V2216.2H1348.5V2226.4H1353.4V2227.5H1358.3V2227.5H1363.2V2225.5H1368.1V2226.4H1372.9V2221.1H1377.8V2228H1382.7V2226.4H1387.6V2228H1392.5V2228H1397.4V2227H1402.3V2219.2H1407.2V2227.5H1412.1V2228H1416.9V2209.1H1421.8V2226.2H1426.7V2228H1431.6V2227.3H1436.5V2227.3H1441.4V2215.4H1446.3V2224.7H1451.2V2224.2H1456.1V2220H1460.9V2227H1465.8V2227.9H1470.7V2228H1475.6V2227.2H1480.5V2196.5H1485.4V2228H1490.3V2228H1495.2V2224.8H1500.1V2224H1504.9V2228H1509.8V2228H1514.7V2207H1519.6V2226.2H1524.5V2225H1529.4V2207H1534.3V2226.7H1539.2V2228H1544.1V2228H1548.9V2228H1553.8V2224.3H1558.7V2228H1563.6V2215.4H1568.5V2228Z" fill="#fcc93a"/>
<line x1="101.8" y1="2271.5" x2="1568.5" y2="2271.5" stroke="#4cb8d8" stroke-width="1.3"/>
<path d="M101.8 2272V2268.6H106.7V2272H111.6V2272H116.5V2270.8H121.4V2270.1H126.2V2272H131.1V2272H136V2272H140.9V2272H145.8V2272H150.7V2259.4H155.6V2272H160.5V2269.2H165.4V2270H170.2V2269.1H175.1V2272H180V2272H184.9V2272H189.8V2272H194.7V2271.5H199.6V2271.4H204.5V2259.4H209.4V2268.7H214.2V2272H219.1V2272H224V2272H228.9V2272H233.8V2272H238.7V2259.4H243.6V2272H248.5V2267.6H253.4V2272H258.2V2272H263.1V2272H268V2272H272.9V2272H277.8V2272H282.7V2272H287.6V2272H292.5V2272H297.4V2266.7H302.2V2272H307.1V2232.1H312V2236.3H316.9V2242.6H321.8V2272H326.7V2272H331.6V2272H336.5V2272H341.4V2266.8H346.2V2272H351.1V2272H356V2271.3H360.9V2272H365.8V2272H370.7V2272H375.6V2272H380.5V2272H385.4V2272H390.3V2272H395.1V2272H400V2272H404.9V2272H409.8V2272H414.7V2264.4H419.6V2270.8H424.5V2272H429.4V2272H434.3V2272H439.1V2272H444V2272H448.9V2272H453.8V2272H458.7V2272H463.6V2270.9H468.5V2272H473.4V2272H478.3V2264.4H483.1V2272H488V2272H492.9V2272H497.8V2272H502.7V2269.8H507.6V2272H512.5V2270.4H517.4V2272H522.3V2272H527.1V2270.2H532V2272H536.9V2272H541.8V2272H546.7V2272H551.6V2272H556.5V2272H561.4V2272H566.3V2272H571.1V2270.7H576V2236.3H580.9V2246.8H585.8V2257.3H590.7V2272H595.6V2255.2H600.5V2272H605.4V2251H610.3V2272H615.1V2272H620V2272H624.9V2272H629.8V2272H634.7V2272H639.6V2272H644.5V2268.9H649.4V2272H654.3V2272H659.1V2272H664V2272H668.9V2272H673.8V2272H678.7V2272H683.6V2264.9H688.5V2272H693.4V2272H698.3V2272H703.1V2272H708V2272H712.9V2272H717.8V2272H722.7V2269H727.6V2272H732.5V2272H737.4V2272H742.3V2272H747.1V2272H752V2266.4H756.9V2269.1H761.8V2272H766.7V2272H771.6V2272H776.5V2272H781.4V2272H786.3V2272H791.1V2272H796V2272H800.9V2255.6H805.8V2266.5H810.7V2272H815.6V2272H820.5V2272H825.4V2264H830.3V2272H835.1V2272H840V2272H844.9V2272H849.8V2272H854.7V2269.3H859.6V2271.6H864.5V2272H869.4V2267.8H874.3V2268.5H879.2V2272H884V2270.6H888.9V2272H893.8V2272H898.7V2272H903.6V2267.7H908.5V2272H913.4V2272H918.3V2272H923.2V2272H928V2272H932.9V2272H937.8V2272H942.7V2272H947.6V2271.5H952.5V2272H957.4V2271.5H962.3V2272H967.2V2272H972V2272H976.9V2272H981.8V2272H986.7V2272H991.6V2272H996.5V2272H1001.4V2272H1006.3V2272H1011.2V2272H1016V2272H1020.9V2272H1025.8V2267.7H1030.7V2268.1H1035.6V2272H1040.5V2272H1045.4V2272H1050.3V2272H1055.2V2272H1060V2272H1064.9V2272H1069.8V2272H1074.7V2272H1079.6V2272H1084.5V2268.6H1089.4V2272H1094.3V2272H1099.2V2272H1104V2272H1108.9V2272H1113.8V2272H1118.7V2272H1123.6V2261.5H1128.5V2271.7H1133.4V2272H1138.3V2272H1143.2V2272H1148V2272H1152.9V2272H1157.8V2261.5H1162.7V2272H1167.6V2272H1172.5V2272H1177.4V2272H1182.3V2272H1187.2V2272H1192V2272H1196.9V2272H1201.8V2272H1206.7V2272H1211.6V2272H1216.5V2272H1221.4V2272H1226.3V2272H1231.2V2272H1236V2272H1240.9V2262.2H1245.8V2272H1250.7V2272H1255.6V2272H1260.5V2272H1265.4V2257.3H1270.3V2272H1275.2V2272H1280V2272H1284.9V2272H1289.8V2272H1294.7V2270.4H1299.6V2270.4H1304.5V2272H1309.4V2272H1314.3V2259.4H1319.2V2272H1324V2272H1328.9V2272H1333.8V2271.4H1338.7V2272H1343.6V2272H1348.5V2272H1353.4V2272H1358.3V2272H1363.2V2272H1368.1V2272H1372.9V2272H1377.8V2272H1382.7V2272H1387.6V2270.9H1392.5V2272H1397.4V2269.8H1402.3V2272H1407.2V2272H1412.1V2272H1416.9V2269H1421.8V2269.8H1426.7V2272H1431.6V2272H1436.5V2272H1441.4V2261H1446.3V2272H1451.2V2266.1H1456.1V2272H1460.9V2272H1465.8V2271.5H1470.7V2272H1475.6V2272H1480.5V2272H1485.4V2272H1490.3V2271.4H1495.2V2272H1500.1V2268.4H1504.9V2272H1509.8V2266.2H1514.7V2272H1519.6V2272H1524.5V2272H1529.4V2272H1534.3V2271.8H1539.2V2272H1544.1V2272H1548.9V2272H1553.8V2272H1558.7V2271.2H1563.6V2272H1568.5V2272Z" fill="#4cb8d8"/>
<line x1="101.8" y1="2316.9" x2="1568.5" y2="2316.9" stroke="#17a88a" stroke-width="1.3"/>
<path d="M101.8 2317.4V2317.4H106.7V2317.4H111.6V2317.4H116.5V2317.4H121.4V2317.4H126.2V2317.4H131.1V2317.4H136V2317.4H140.9V2317.4H145.8V2317.4H150.7V2317.4H155.6V2317.4H160.5V2317.4H165.4V2317.4H170.2V2317.4H175.1V2317.4H180V2317.4H184.9V2317.4H189.8V2317.4H194.7V2317.4H199.6V2317.4H204.5V2317.4H209.4V2317.4H214.2V2317.4H219.1V2317.4H224V2317.4H228.9V2317.4H233.8V2317.4H238.7V2317.4H243.6V2317.4H248.5V2317.4H253.4V2317.4H258.2V2317.4H263.1V2304.8H268V2317.4H272.9V2317.4H277.8V2304.8H282.7V2317.4H287.6V2317.4H292.5V2317.4H297.4V2317.4H302.2V2317.4H307.1V2317.4H312V2317.4H316.9V2317.4H321.8V2317.4H326.7V2294.3H331.6V2317.4H336.5V2317.4H341.4V2317.4H346.2V2317.4H351.1V2317.4H356V2317.4H360.9V2317.4H365.8V2317.4H370.7V2317.4H375.6V2317.4H380.5V2317.4H385.4V2317.4H390.3V2317.4H395.1V2317.4H400V2317.4H404.9V2317.4H409.8V2317.4H414.7V2317.4H419.6V2317.4H424.5V2317.4H429.4V2317.4H434.3V2317.4H439.1V2317.4H444V2285.9H448.9V2317.4H453.8V2317.4H458.7V2298.5H463.6V2283.8H468.5V2317.4H473.4V2317.4H478.3V2317.4H483.1V2294.3H488V2317.4H492.9V2317.4H497.8V2317.4H502.7V2317.4H507.6V2317.4H512.5V2317.4H517.4V2294.3H522.3V2317.4H527.1V2317.4H532V2317.4H536.9V2317.4H541.8V2317.4H546.7V2317.4H551.6V2317.4H556.5V2317.4H561.4V2317.4H566.3V2317.4H571.1V2317.4H576V2317.4H580.9V2317.4H585.8V2317.4H590.7V2317.4H595.6V2317.4H600.5V2317.4H605.4V2317.4H610.3V2311.1H615.1V2317.4H620V2317.4H624.9V2317.4H629.8V2317.4H634.7V2317.4H639.6V2317.4H644.5V2317.4H649.4V2317.4H654.3V2317.4H659.1V2317.4H664V2317.4H668.9V2317.4H673.8V2317.4H678.7V2317.4H683.6V2317.4H688.5V2317.4H693.4V2317.4H698.3V2317.4H703.1V2317.4H708V2317.4H712.9V2317.4H717.8V2317.4H722.7V2317.4H727.6V2317.4H732.5V2317.4H737.4V2317.4H742.3V2317.4H747.1V2317.4H752V2317.4H756.9V2317.4H761.8V2317.4H766.7V2317.4H771.6V2317.4H776.5V2317.4H781.4V2317.4H786.3V2317.4H791.1V2317.4H796V2317.4H800.9V2317.4H805.8V2317.4H810.7V2317.4H815.6V2317.4H820.5V2317.4H825.4V2317.4H830.3V2317.4H835.1V2317.4H840V2317.4H844.9V2317.4H849.8V2317.4H854.7V2317.4H859.6V2317.4H864.5V2317.4H869.4V2317.4H874.3V2317.4H879.2V2317.4H884V2317.4H888.9V2317.4H893.8V2317.4H898.7V2317.4H903.6V2317.4H908.5V2317.4H913.4V2317.4H918.3V2317.4H923.2V2317.4H928V2317.4H932.9V2317.4H937.8V2317.4H942.7V2317.4H947.6V2317.4H952.5V2317.4H957.4V2317.4H962.3V2317.4H967.2V2317.4H972V2317.4H976.9V2317.4H981.8V2317.4H986.7V2317.4H991.6V2317.4H996.5V2317.4H1001.4V2317.4H1006.3V2317.4H1011.2V2317.4H1016V2317.4H1020.9V2317.4H1025.8V2317.4H1030.7V2317.4H1035.6V2317.4H1040.5V2317.4H1045.4V2317.4H1050.3V2304.8H1055.2V2317.4H1060V2317.4H1064.9V2317.4H1069.8V2317.4H1074.7V2317.4H1079.6V2317.4H1084.5V2302.7H1089.4V2317.4H1094.3V2317.4H1099.2V2317.4H1104V2317.4H1108.9V2317.4H1113.8V2317.4H1118.7V2317.4H1123.6V2317.4H1128.5V2306.9H1133.4V2317.4H1138.3V2317.4H1143.2V2317.4H1148V2317.4H1152.9V2304.8H1157.8V2317.4H1162.7V2317.4H1167.6V2317.4H1172.5V2277.5H1177.4V2317.4H1182.3V2317.4H1187.2V2317.4H1192V2317.4H1196.9V2317.4H1201.8V2317.4H1206.7V2317.4H1211.6V2317.4H1216.5V2317.4H1221.4V2317.4H1226.3V2317.4H1231.2V2317.4H1236V2317.4H1240.9V2317.4H1245.8V2317.4H1250.7V2317.4H1255.6V2317.4H1260.5V2317.4H1265.4V2317.4H1270.3V2317.4H1275.2V2317.4H1280V2317.4H1284.9V2317.4H1289.8V2317.4H1294.7V2317.4H1299.6V2317.4H1304.5V2317.4H1309.4V2317.4H1314.3V2317.4H1319.2V2317.4H1324V2317.4H1328.9V2317.4H1333.8V2317.4H1338.7V2317.4H1343.6V2317.4H1348.5V2317.4H1353.4V2317.4H1358.3V2317.4H1363.2V2317.4H1368.1V2317.4H1372.9V2317.4H1377.8V2317.4H1382.7V2317.4H1387.6V2317.4H1392.5V2317.4H1397.4V2317.4H1402.3V2317.4H1407.2V2317.4H1412.1V2317.4H1416.9V2317.4H1421.8V2317.4H1426.7V2317.4H1431.6V2317.4H1436.5V2317.4H1441.4V2317.4H1446.3V2317.4H1451.2V2317.4H1456.1V2317.4H1460.9V2317.4H1465.8V2309H1470.7V2317.4H1475.6V2317.4H1480.5V2317.4H1485.4V2317.4H1490.3V2317.4H1495.2V2317.4H1500.1V2317.4H1504.9V2317.4H1509.8V2317.4H1514.7V2317.4H1519.6V2309H1524.5V2317.4H1529.4V2317.4H1534.3V2317.4H1539.2V2317.4H1544.1V2317.4H1548.9V2317.4H1553.8V2317.4H1558.7V2317.4H1563.6V2317.4H1568.5V2317.4Z" fill="#17a88a"/>
<line x1="101.8" y1="2361.5" x2="1568.5" y2="2361.5" stroke="#0d5c4a" stroke-width="1.3"/>
<path d="M101.8 2362V2353.9H106.7V2362H111.6V2356.7H116.5V2362H121.4V2362H126.2V2360H131.1V2356.3H136V2359.3H140.9V2359.8H145.8V2358.1H150.7V2357.1H155.6V2358.1H160.5V2336.8H165.4V2324.2H170.2V2349.2H175.1V2360.6H180V2361.3H184.9V2347.3H189.8V2359H194.7V2359.3H199.6V2338.9H204.5V2360.7H209.4V2354.2H214.2V2322.1H219.1V2362H224V2352H228.9V2360.3H233.8V2347.3H238.7V2357.5H243.6V2359.9H248.5V2361.5H253.4V2360.1H258.2V2355.2H263.1V2361.5H268V2361.6H272.9V2356.3H277.8V2358H282.7V2356.8H287.6V2360.3H292.5V2361.4H297.4V2362H302.2V2360.7H307.1V2362H312V2359.6H316.9V2361.3H321.8V2359.5H326.7V2357.8H331.6V2358.6H336.5V2361.9H341.4V2359.5H346.2V2359.9H351.1V2361.4H356V2358.7H360.9V2362H365.8V2347.3H370.7V2349.3H375.6V2334.7H380.5V2359.9H385.4V2362H390.3V2355.7H395.1V2341H400V2354.5H404.9V2358.7H409.8V2358.5H414.7V2361.9H419.6V2347.6H424.5V2361.7H429.4V2358.1H434.3V2360.5H439.1V2361.2H444V2345.2H448.9V2362H453.8V2362H458.7V2353.3H463.6V2357.1H468.5V2361.6H473.4V2351.9H478.3V2361.7H483.1V2356.6H488V2354.1H492.9V2362H497.8V2362H502.7V2349.5H507.6V2359.6H512.5V2361.1H517.4V2358.5H522.3V2360.4H527.1V2343.1H532V2356.9H536.9V2347.5H541.8V2362H546.7V2352.4H551.6V2360.2H556.5V2362H561.4V2360.5H566.3V2343.1H571.1V2360.8H576V2362H580.9V2361.5H585.8V2361.2H590.7V2361.3H595.6V2353.9H600.5V2361.2H605.4V2361.5H610.3V2361.8H615.1V2360.3H620V2362H624.9V2359.8H629.8V2358.2H634.7V2361.6H639.6V2362H644.5V2357.8H649.4V2358.6H654.3V2357.3H659.1V2359.7H664V2345.2H668.9V2361.6H673.8V2359.3H678.7V2362H683.6V2362H688.5V2360.9H693.4V2362H698.3V2361.6H703.1V2362H708V2361.2H712.9V2360.3H717.8V2360.5H722.7V2347.3H727.6V2362H732.5V2353.3H737.4V2359.3H742.3V2356.9H747.1V2360.7H752V2362H756.9V2361.7H761.8V2351.9H766.7V2360.9H771.6V2361.8H776.5V2361.7H781.4V2360.5H786.3V2362H791.1V2359.3H796V2341H800.9V2361.8H805.8V2351.6H810.7V2347.3H815.6V2362H820.5V2359.8H825.4V2361.9H830.3V2357.1H835.1V2358.6H840V2357.5H844.9V2360.7H849.8V2358H854.7V2362H859.6V2357.4H864.5V2347.3H869.4V2361.4H874.3V2358.6H879.2V2361.9H884V2347.3H888.9V2356.6H893.8V2351.6H898.7V2353.9H903.6V2347.3H908.5V2347.3H913.4V2347.3H918.3V2362H923.2V2358.2H928V2355.4H932.9V2357.3H937.8V2349.5H942.7V2349.8H947.6V2358H952.5V2356.7H957.4V2352.3H962.3V2359.7H967.2V2362H972V2362H976.9V2360.6H981.8V2358.5H986.7V2359.6H991.6V2358.9H996.5V2343.1H1001.4V2362H1006.3V2362H1011.2V2355.5H1016V2361.3H1020.9V2362H1025.8V2347.3H1030.7V2360.3H1035.6V2362H1040.5V2359.4H1045.4V2341H1050.3V2356.8H1055.2V2359.9H1060V2356.3H1064.9V2360H1069.8V2347.3H1074.7V2361.9H1079.6V2362H1084.5V2361.9H1089.4V2362H1094.3V2361.1H1099.2V2347.3H1104V2360.1H1108.9V2360.4H1113.8V2358.1H1118.7V2362H1123.6V2347.3H1128.5V2355H1133.4V2362H1138.3V2361.4H1143.2V2361.3H1148V2360.9H1152.9V2351.9H1157.8V2356.3H1162.7V2360.5H1167.6V2350.6H1172.5V2361.9H1177.4V2361.3H1182.3V2355.2H1187.2V2338.9H1192V2361.4H1196.9V2355.6H1201.8V2362H1206.7V2360.8H1211.6V2359.7H1216.5V2361.2H1221.4V2347.3H1226.3V2361.1H1231.2V2362H1236V2322.1H1240.9V2359.6H1245.8V2362H1250.7V2359.3H1255.6V2360.8H1260.5V2362H1265.4V2361.5H1270.3V2362H1275.2V2359.7H1280V2362H1284.9V2361.4H1289.8V2361.6H1294.7V2360.3H1299.6V2357.8H1304.5V2362H1309.4V2360.9H1314.3V2353H1319.2V2353.7H1324V2360H1328.9V2360.6H1333.8V2353.3H1338.7V2357.2H1343.6V2358.3H1348.5V2361.4H1353.4V2358.2H1358.3V2358.9H1363.2V2359.6H1368.1V2361.1H1372.9V2359.6H1377.8V2356.6H1382.7V2349.2H1387.6V2360.7H1392.5V2358H1397.4V2347.3H1402.3V2353.2H1407.2V2361.9H1412.1V2352.8H1416.9V2362H1421.8V2357.2H1426.7V2334.7H1431.6V2360.4H1436.5V2359.6H1441.4V2355.3H1446.3V2357.6H1451.2V2360.2H1456.1V2351.2H1460.9V2357H1465.8V2341H1470.7V2360.6H1475.6V2361H1480.5V2360H1485.4V2354.8H1490.3V2322.1H1495.2V2362H1500.1V2362H1504.9V2360.3H1509.8V2357.6H1514.7V2362H1519.6V2359.3H1524.5V2362H1529.4V2362H1534.3V2362H1539.2V2356.2H1544.1V2353.6H1548.9V2360.4H1553.8V2353.5H1558.7V2359.9H1563.6V2357.7H1568.5V2362Z" fill="#0d5c4a"/>
<line x1="101.8" y1="2405.5" x2="1568.5" y2="2405.5" stroke="#8fd3c0" stroke-width="1.3"/>
<path d="M101.8 2406V2406H106.7V2406H111.6V2406H116.5V2406H121.4V2406H126.2V2406H131.1V2406H136V2406H140.9V2406H145.8V2406H150.7V2406H155.6V2406H160.5V2406H165.4V2406H170.2V2406H175.1V2406H180V2406H184.9V2406H189.8V2393.4H194.7V2406H199.6V2406H204.5V2406H209.4V2406H214.2V2391.3H219.1V2406H224V2406H228.9V2406H233.8V2395.9H238.7V2406H243.6V2406H248.5V2406H253.4V2396.3H258.2V2406H263.1V2406H268V2406H272.9V2406H277.8V2406H282.7V2406H287.6V2406H292.5V2406H297.4V2406H302.2V2406H307.1V2406H312V2406H316.9V2406H321.8V2403.5H326.7V2406H331.6V2406H336.5V2406H341.4V2406H346.2V2406H351.1V2406H356V2406H360.9V2406H365.8V2406H370.7V2406H375.6V2396.6H380.5V2406H385.4V2406H390.3V2406H395.1V2406H400V2406H404.9V2406H409.8V2406H414.7V2406H419.6V2395.5H424.5V2406H429.4V2395.5H434.3V2395.5H439.1V2396.2H444V2406H448.9V2406H453.8V2406H458.7V2364H463.6V2406H468.5V2406H473.4V2406H478.3V2406H483.1V2396.4H488V2406H492.9V2406H497.8V2397.7H502.7V2402.3H507.6V2406H512.5V2406H517.4V2398.5H522.3V2406H527.1V2406H532V2406H536.9V2406H541.8V2400.1H546.7V2406H551.6V2406H556.5V2406H561.4V2406H566.3V2406H571.1V2406H576V2406H580.9V2397.3H585.8V2406H590.7V2406H595.6V2406H600.5V2406H605.4V2401.6H610.3V2406H615.1V2406H620V2406H624.9V2406H629.8V2406H634.7V2406H639.6V2406H644.5V2406H649.4V2406H654.3V2406H659.1V2406H664V2406H668.9V2406H673.8V2406H678.7V2406H683.6V2406H688.5V2406H693.4V2406H698.3V2406H703.1V2406H708V2406H712.9V2406H717.8V2406H722.7V2406H727.6V2406H732.5V2406H737.4V2406H742.3V2406H747.1V2406H752V2406H756.9V2406H761.8V2406H766.7V2406H771.6V2406H776.5V2406H781.4V2406H786.3V2406H791.1V2406H796V2406H800.9V2406H805.8V2406H810.7V2406H815.6V2406H820.5V2406H825.4V2400.2H830.3V2406H835.1V2406H840V2406H844.9V2406H849.8V2406H854.7V2406H859.6V2406H864.5V2406H869.4V2406H874.3V2406H879.2V2406H884V2406H888.9V2406H893.8V2406H898.7V2398.3H903.6V2406H908.5V2406H913.4V2406H918.3V2406H923.2V2397.6H928V2406H932.9V2401.7H937.8V2406H942.7V2406H947.6V2406H952.5V2406H957.4V2406H962.3V2395.3H967.2V2406H972V2406H976.9V2406H981.8V2396H986.7V2406H991.6V2406H996.5V2393.4H1001.4V2406H1006.3V2406H1011.2V2406H1016V2406H1020.9V2406H1025.8V2406H1030.7V2406H1035.6V2406H1040.5V2406H1045.4V2406H1050.3V2402.3H1055.2V2406H1060V2406H1064.9V2406H1069.8V2406H1074.7V2406H1079.6V2393.4H1084.5V2406H1089.4V2406H1094.3V2406H1099.2V2406H1104V2395.2H1108.9V2406H1113.8V2380.8H1118.7V2406H1123.6V2406H1128.5V2406H1133.4V2406H1138.3V2406H1143.2V2376.6H1148V2406H1152.9V2406H1157.8V2380.8H1162.7V2399.1H1167.6V2406H1172.5V2399.3H1177.4V2406H1182.3V2406H1187.2V2406H1192V2406H1196.9V2406H1201.8V2406H1206.7V2406H1211.6V2406H1216.5V2406H1221.4V2406H1226.3V2406H1231.2V2406H1236V2406H1240.9V2406H1245.8V2406H1250.7V2406H1255.6V2406H1260.5V2406H1265.4V2406H1270.3V2406H1275.2V2406H1280V2406H1284.9V2406H1289.8V2406H1294.7V2406H1299.6V2406H1304.5V2406H1309.4V2406H1314.3V2406H1319.2V2406H1324V2406H1328.9V2406H1333.8V2406H1338.7V2406H1343.6V2406H1348.5V2406H1353.4V2406H1358.3V2406H1363.2V2406H1368.1V2406H1372.9V2406H1377.8V2406H1382.7V2406H1387.6V2406H1392.5V2406H1397.4V2406H1402.3V2406H1407.2V2402.3H1412.1V2406H1416.9V2406H1421.8V2406H1426.7V2406H1431.6V2406H1436.5V2406H1441.4V2406H1446.3V2406H1451.2V2406H1456.1V2406H1460.9V2406H1465.8V2406H1470.7V2406H1475.6V2406H1480.5V2406H1485.4V2406H1490.3V2406H1495.2V2406H1500.1V2397.4H1504.9V2406H1509.8V2385H1514.7V2395.5H1519.6V2406H1524.5V2395.8H1529.4V2406H1534.3V2406H1539.2V2406H1544.1V2406H1548.9V2406H1553.8V2406H1558.7V2406H1563.6V2406H1568.5V2406Z" fill="#8fd3c0"/>
<line x1="101.8" y1="2450.8" x2="1568.5" y2="2450.8" stroke="#8b6a4f" stroke-width="1.3"/>
<path d="M101.8 2451.3V2451.3H106.7V2451.3H111.6V2451.3H116.5V2440.4H121.4V2430.2H126.2V2451.3H131.1V2451.3H136V2451.3H140.9V2451.3H145.8V2445.6H150.7V2451.3H155.6V2442H160.5V2451.3H165.4V2451.3H170.2V2451.3H175.1V2451.3H180V2451.3H184.9V2451.3H189.8V2451.3H194.7V2451.3H199.6V2451.3H204.5V2446.6H209.4V2451.3H214.2V2451.3H219.1V2423.3H224V2425.3H228.9V2451.3H233.8V2451.3H238.7V2451.3H243.6V2451.3H248.5V2451.3H253.4V2451.3H258.2V2451.3H263.1V2451.3H268V2436.8H272.9V2451.3H277.8V2427.9H282.7V2436H287.6V2451.3H292.5V2422.5H297.4V2451.3H302.2V2451.3H307.1V2451.3H312V2421H316.9V2427.9H321.8V2451.3H326.7V2451.3H331.6V2451.3H336.5V2448H341.4V2451.3H346.2V2441.2H351.1V2451.3H356V2451.3H360.9V2451.3H365.8V2451.3H370.7V2451.3H375.6V2443.5H380.5V2451.3H385.4V2427.2H390.3V2451.3H395.1V2448.9H400V2451.3H404.9V2429.2H409.8V2451.3H414.7V2436.4H419.6V2451.3H424.5V2451.3H429.4V2420.1H434.3V2451.3H439.1V2445H444V2451.3H448.9V2451.3H453.8V2420.4H458.7V2424.3H463.6V2425.7H468.5V2445.9H473.4V2434.5H478.3V2451.3H483.1V2451.3H488V2451.3H492.9V2451.3H497.8V2409.3H502.7V2451.3H507.6V2451.3H512.5V2451.3H517.4V2442.7H522.3V2447.6H527.1V2451.3H532V2446.7H536.9V2451.3H541.8V2451.3H546.7V2451.3H551.6V2451.3H556.5V2444H561.4V2440H566.3V2451.3H571.1V2451.3H576V2451.3H580.9V2451.3H585.8V2451.3H590.7V2451.3H595.6V2451.3H600.5V2451.3H605.4V2451.3H610.3V2451.3H615.1V2451.3H620V2451.3H624.9V2429H629.8V2451.3H634.7V2434.6H639.6V2451.3H644.5V2451.3H649.4V2451.3H654.3V2451.3H659.1V2427.4H664V2420.7H668.9V2451.3H673.8V2451.3H678.7V2451.3H683.6V2451.3H688.5V2441H693.4V2451.3H698.3V2436.2H703.1V2451.3H708V2451.3H712.9V2451.3H717.8V2451.3H722.7V2434.7H727.6V2451.3H732.5V2451.3H737.4V2451.3H742.3V2451.3H747.1V2446.9H752V2451.3H756.9V2451.3H761.8V2451.3H766.7V2438.8H771.6V2445.3H776.5V2451.3H781.4V2451.3H786.3V2443.5H791.1V2451.3H796V2423.3H800.9V2451.3H805.8V2446.6H810.7V2451.3H815.6V2451.3H820.5V2451.3H825.4V2451.3H830.3V2444.8H835.1V2451.3H840V2451.3H844.9V2451.3H849.8V2451.3H854.7V2451.3H859.6V2440.1H864.5V2451.3H869.4V2441.6H874.3V2451.3H879.2V2451.3H884V2451.3H888.9V2441.3H893.8V2451.3H898.7V2425.3H903.6V2451.3H908.5V2451.3H913.4V2451.3H918.3V2435.3H923.2V2451.3H928V2448H932.9V2451.3H937.8V2451.3H942.7V2451.3H947.6V2417.7H952.5V2442.1H957.4V2448.8H962.3V2451.3H967.2V2451.3H972V2423.1H976.9V2451.3H981.8V2451.3H986.7V2451.3H991.6V2451.3H996.5V2451.3H1001.4V2440.3H1006.3V2417.7H1011.2V2451.3H1016V2451.3H1020.9V2451.3H1025.8V2451.3H1030.7V2451.3H1035.6V2451.3H1040.5V2444.4H1045.4V2451.3H1050.3V2451.3H1055.2V2451.3H1060V2446.9H1064.9V2451.3H1069.8V2451.3H1074.7V2451.3H1079.6V2451.3H1084.5V2429.6H1089.4V2451.3H1094.3V2451.3H1099.2V2451.3H1104V2451.3H1108.9V2451.3H1113.8V2451.3H1118.7V2451.3H1123.6V2451.3H1128.5V2451.3H1133.4V2451.3H1138.3V2431.7H1143.2V2451.3H1148V2430.8H1152.9V2451.3H1157.8V2451.3H1162.7V2451.3H1167.6V2425.8H1172.5V2451.3H1177.4V2451.3H1182.3V2441.1H1187.2V2451.3H1192V2451.3H1196.9V2451.3H1201.8V2451.3H1206.7V2423.5H1211.6V2451.3H1216.5V2451.3H1221.4V2435.6H1226.3V2451.3H1231.2V2451.3H1236V2420.5H1240.9V2451.3H1245.8V2447.9H1250.7V2451.3H1255.6V2451.3H1260.5V2443.9H1265.4V2451.3H1270.3V2451.3H1275.2V2451.3H1280V2451.3H1284.9V2451.3H1289.8V2451.3H1294.7V2451.3H1299.6V2422.7H1304.5V2433.4H1309.4V2451.3H1314.3V2451.3H1319.2V2451.3H1324V2444.3H1328.9V2451.3H1333.8V2451.3H1338.7V2451.3H1343.6V2451.3H1348.5V2451.3H1353.4V2451.3H1358.3V2451.3H1363.2V2451.3H1368.1V2451.3H1372.9V2451.3H1377.8V2451.3H1382.7V2451.3H1387.6V2425.2H1392.5V2451.3H1397.4V2451.3H1402.3V2415.6H1407.2V2451.3H1412.1V2451.3H1416.9V2425.2H1421.8V2451.3H1426.7V2415.6H1431.6V2451.3H1436.5V2451.3H1441.4V2451.3H1446.3V2451.3H1451.2V2445.7H1456.1V2451.3H1460.9V2427.6H1465.8V2451.3H1470.7V2451.3H1475.6V2451.3H1480.5V2451.3H1485.4V2451.3H1490.3V2448.5H1495.2V2451.3H1500.1V2445.7H1504.9V2443H1509.8V2451.3H1514.7V2451.3H1519.6V2451.3H1524.5V2451.3H1529.4V2426.4H1534.3V2451.3H1539.2V2451.3H1544.1V2451.3H1548.9V2451.3H1553.8V2451.3H1558.7V2451.3H1563.6V2451.3H1568.5V2451.3Z" fill="#8b6a4f"/>
<line x1="101.8" y1="2495.0" x2="1568.5" y2="2495.0" stroke="#f4a284" stroke-width="1.3"/>
<path d="M101.8 2495.5V2495.5H106.7V2495.5H111.6V2490.4H116.5V2493.2H121.4V2495.5H126.2V2492.6H131.1V2484.4H136V2495.5H140.9V2483.3H145.8V2495.5H150.7V2492.5H155.6V2495.5H160.5V2495.5H165.4V2495.5H170.2V2459.8H175.1V2453.5H180V2495.5H184.9V2479.4H189.8V2483.6H194.7V2495.5H199.6V2495.5H204.5V2495.5H209.4V2495.5H214.2V2495.5H219.1V2495.5H224V2495.5H228.9V2491.1H233.8V2495.5H238.7V2495.5H243.6V2495.5H248.5V2495.5H253.4V2488.6H258.2V2490.7H263.1V2480.6H268V2495.5H272.9V2487.6H277.8V2495.5H282.7V2495.5H287.6V2495.5H292.5V2495.5H297.4V2485.2H302.2V2495.5H307.1V2479.7H312V2495.5H316.9V2495.5H321.8V2495.5H326.7V2482.7H331.6V2485.6H336.5V2495.5H341.4V2495.5H346.2V2478.8H351.1V2495.5H356V2495.5H360.9V2495.5H365.8V2495.5H370.7V2495.5H375.6V2495.5H380.5V2495.5H385.4V2485.3H390.3V2495.5H395.1V2495.5H400V2495.5H404.9V2495.5H409.8V2492.1H414.7V2487.7H419.6V2495.5H424.5V2495.5H429.4V2482.6H434.3V2495.5H439.1V2480.8H444V2486.6H448.9V2495.5H453.8V2495.5H458.7V2495.5H463.6V2495.5H468.5V2495.5H473.4V2486.1H478.3V2478H483.1V2495.5H488V2474.9H492.9V2495.5H497.8V2478.1H502.7V2495.5H507.6V2480.2H512.5V2489.2H517.4V2495.5H522.3V2495.5H527.1V2495.5H532V2490.8H536.9V2495.5H541.8V2495.5H546.7V2495.5H551.6V2495.5H556.5V2495.5H561.4V2478.3H566.3V2461.9H571.1V2495.5H576V2495.5H580.9V2495.5H585.8V2495.5H590.7V2492.4H595.6V2495.5H600.5V2479.2H605.4V2489.1H610.3V2495.5H615.1V2495.5H620V2495.5H624.9V2495.5H629.8V2495.5H634.7V2495.5H639.6V2495.5H644.5V2495.5H649.4V2475.3H654.3V2495.5H659.1V2483.1H664V2495.5H668.9V2495.5H673.8V2495.5H678.7V2495.5H683.6V2495.5H688.5V2495.5H693.4V2495.5H698.3V2495.5H703.1V2477.1H708V2495.5H712.9V2495.5H717.8V2477.5H722.7V2495.5H727.6V2487.8H732.5V2495.5H737.4V2485.4H742.3V2492.5H747.1V2490H752V2480.1H756.9V2486.1H761.8V2495.5H766.7V2495.5H771.6V2495.5H776.5V2495.5H781.4V2495.5H786.3V2495.5H791.1V2489.4H796V2495.5H800.9V2495.5H805.8V2495.5H810.7V2495.5H815.6V2480.7H820.5V2495.5H825.4V2495.5H830.3V2479H835.1V2479.2H840V2495.5H844.9V2495.5H849.8V2487H854.7V2495.5H859.6V2495.5H864.5V2495.5H869.4V2495.5H874.3V2485H879.2V2495.5H884V2495.5H888.9V2495.5H893.8V2491.1H898.7V2484.5H903.6V2495.5H908.5V2495.5H913.4V2495.5H918.3V2487H923.2V2495.5H928V2495.5H932.9V2495.5H937.8V2495.5H942.7V2484.4H947.6V2495.5H952.5V2485.3H957.4V2495.5H962.3V2484.8H967.2V2495.5H972V2495.5H976.9V2495.5H981.8V2480.7H986.7V2479.9H991.6V2495.5H996.5V2491.4H1001.4V2485.8H1006.3V2482.1H1011.2V2495.5H1016V2495.5H1020.9V2495.5H1025.8V2495.5H1030.7V2495.5H1035.6V2474.7H1040.5V2495.5H1045.4V2495.5H1050.3V2495.5H1055.2V2481.7H1060V2495.5H1064.9V2495.5H1069.8V2495.5H1074.7V2482.9H1079.6V2495.5H1084.5V2495.5H1089.4V2495.5H1094.3V2474.9H1099.2V2495.5H1104V2495.5H1108.9V2479.3H1113.8V2495.5H1118.7V2495.5H1123.6V2486H1128.5V2495.5H1133.4V2488.9H1138.3V2495.5H1143.2V2489.7H1148V2495.5H1152.9V2495.5H1157.8V2495.5H1162.7V2487.3H1167.6V2475H1172.5V2490.9H1177.4V2495.5H1182.3V2492.5H1187.2V2495.5H1192V2474.9H1196.9V2495.5H1201.8V2495.5H1206.7V2495.5H1211.6V2487.5H1216.5V2495.5H1221.4V2487.9H1226.3V2495.5H1231.2V2486.4H1236V2495.5H1240.9V2495.5H1245.8V2495.5H1250.7V2495.5H1255.6V2495.5H1260.5V2495.5H1265.4V2495.5H1270.3V2475.8H1275.2V2495.5H1280V2495.5H1284.9V2495.5H1289.8V2487.4H1294.7V2495.5H1299.6V2495.5H1304.5V2495.5H1309.4V2468.2H1314.3V2495.5H1319.2V2495.5H1324V2495.5H1328.9V2495.5H1333.8V2482.3H1338.7V2495.5H1343.6V2495.5H1348.5V2495.5H1353.4V2495.5H1358.3V2480.8H1363.2V2495.5H1368.1V2495.5H1372.9V2488.1H1377.8V2495.5H1382.7V2495.5H1387.6V2476.4H1392.5V2495.5H1397.4V2482.8H1402.3V2491.1H1407.2V2495.5H1412.1V2495.5H1416.9V2495.5H1421.8V2490.5H1426.7V2491.7H1431.6V2475.8H1436.5V2495.5H1441.4V2495.5H1446.3V2477.4H1451.2V2495.5H1456.1V2476.8H1460.9V2495.5H1465.8V2495.5H1470.7V2483.7H1475.6V2495.5H1480.5V2495.5H1485.4V2470.3H1490.3V2483.9H1495.2V2472.4H1500.1V2495.5H1504.9V2495.5H1509.8V2485H1514.7V2488.2H1519.6V2495.5H1524.5V2495.5H1529.4V2495.5H1534.3V2495.5H1539.2V2486.8H1544.1V2488.2H1548.9V2495.5H1553.8V2495.5H1558.7V2480.3H1563.6V2480.6H1568.5V2495.5Z" fill="#f4a284"/>
<text x="108" y="2117" font-size="21.5">All TE</text>
<text x="108" y="2161.4" font-size="21.5">LTR</text>
<text x="108" y="2207" font-size="21.5">DNA</text>
<text x="108" y="2251" font-size="21.5">LINE</text>
<text x="108" y="2296.4" font-size="21.5">SINE</text>
<text x="108" y="2341" font-size="21.5">Other TE</text>
<text x="108" y="2385" font-size="21.5">H3K4Me3</text>
<text x="108" y="2430.3" font-size="21.5">H3K9Me2</text>
<text x="108" y="2474.5" font-size="21.5">H3K27Me3</text>
<path d="M81 2050.5H87.7V2362.5M87.7 2362.5V2498M80 2050.5H87.7M80 2095.5H87.7M80 2139.5H87.7M80 2184H87.7M80 2228.5H87.7M80 2273.2H87.7M80 2318H87.7M80 2362.5H87.7M80 2407.5H87.7M80 2452H87.7M80 2496H87.7" fill="none" stroke="#000" stroke-width="3"/>
<text transform="translate(76 2064.6)" font-size="18.6" font-family="'DejaVu Sans', sans-serif" text-anchor="end">1.05</text>
<text transform="translate(76 2091.6)" font-size="18.6" font-family="'DejaVu Sans', sans-serif" text-anchor="end">0</text>
<text transform="translate(76 2108.8)" font-size="18.6" font-family="'DejaVu Sans', sans-serif" text-anchor="end">1.05</text>
<text transform="translate(76 2135.8)" font-size="18.6" font-family="'DejaVu Sans', sans-serif" text-anchor="end">0</text>
<text transform="translate(76 2153.4)" font-size="18.6" font-family="'DejaVu Sans', sans-serif" text-anchor="end">1.043</text>
<text transform="translate(76 2180.4)" font-size="18.6" font-family="'DejaVu Sans', sans-serif" text-anchor="end">0</text>
<text transform="translate(76 2197.8)" font-size="18.6" font-family="'DejaVu Sans', sans-serif" text-anchor="end">1.043</text>
<text transform="translate(76 2224.8)" font-size="18.6" font-family="'DejaVu Sans', sans-serif" text-anchor="end">0</text>
<text transform="translate(76 2242.2)" font-size="18.6" font-family="'DejaVu Sans', sans-serif" text-anchor="end">0.978</text>
<text transform="translate(76 2269.2)" font-size="18.6" font-family="'DejaVu Sans', sans-serif" text-anchor="end">0</text>
<text transform="translate(76 2287.2)" font-size="18.6" font-family="'DejaVu Sans', sans-serif" text-anchor="end">0.040</text>
<text transform="translate(76 2314.2)" font-size="18.6" font-family="'DejaVu Sans', sans-serif" text-anchor="end">0</text>
<text transform="translate(76 2332.7)" font-size="18.6" font-family="'DejaVu Sans', sans-serif" text-anchor="end">0.532</text>
<text transform="translate(76 2359.7)" font-size="18.6" font-family="'DejaVu Sans', sans-serif" text-anchor="end">0</text>
<text transform="translate(76 2377.1)" font-size="18.6" font-family="'DejaVu Sans', sans-serif" text-anchor="end">7.378</text>
<text transform="translate(76 2404.1)" font-size="18.6" font-family="'DejaVu Sans', sans-serif" text-anchor="end">0</text>
<text transform="translate(76 2421.5)" font-size="18.6" font-family="'DejaVu Sans', sans-serif" text-anchor="end">3.763</text>
<text transform="translate(76 2448.5)" font-size="18.6" font-family="'DejaVu Sans', sans-serif" text-anchor="end">0</text>
<text transform="translate(76 2465.8)" font-size="18.6" font-family="'DejaVu Sans', sans-serif" text-anchor="end">3.432</text>
<text transform="translate(76 2492.8)" font-size="18.6" font-family="'DejaVu Sans', sans-serif" text-anchor="end">0</text>
<text transform="translate(15.5 2207.8) rotate(-90)" font-size="17.6" text-anchor="middle">Density</text>
<text transform="translate(15.5 2429.5) rotate(-90)" font-size="17.6" text-anchor="middle">log2(ChIP/Input)</text>
<text x="1593" y="1933.6" font-size="20.5">TAD</text>
<text x="1593" y="2075" font-size="20.5">Gene density</text>
<text x="1593" y="2233.6" font-size="20.5">TE density</text>
<text x="1593" y="2444.5" font-size="20.5">ChIP-seq</text>
<rect x="417" y="1799" width="51.8" height="700" fill="#f0a830" opacity="0.42"/>
<rect x="1101.8" y="1799" width="52.5" height="700" fill="#f0a830" opacity="0.42"/>
<line x1="100.5" y1="1791.9" x2="100.5" y2="2498" stroke="#231f20" stroke-width="3.6" stroke-dasharray="19 19.8"/>
<line x1="1568.5" y1="1791.9" x2="1568.5" y2="2498" stroke="#231f20" stroke-width="3.6" stroke-dasharray="19 19.8"/>
<line x1="100" y1="2497" x2="1569" y2="2497" stroke="#231f20" stroke-width="5" stroke-dasharray="19 19.8" stroke-dashoffset="11.1"/>
</svg></body></html>
